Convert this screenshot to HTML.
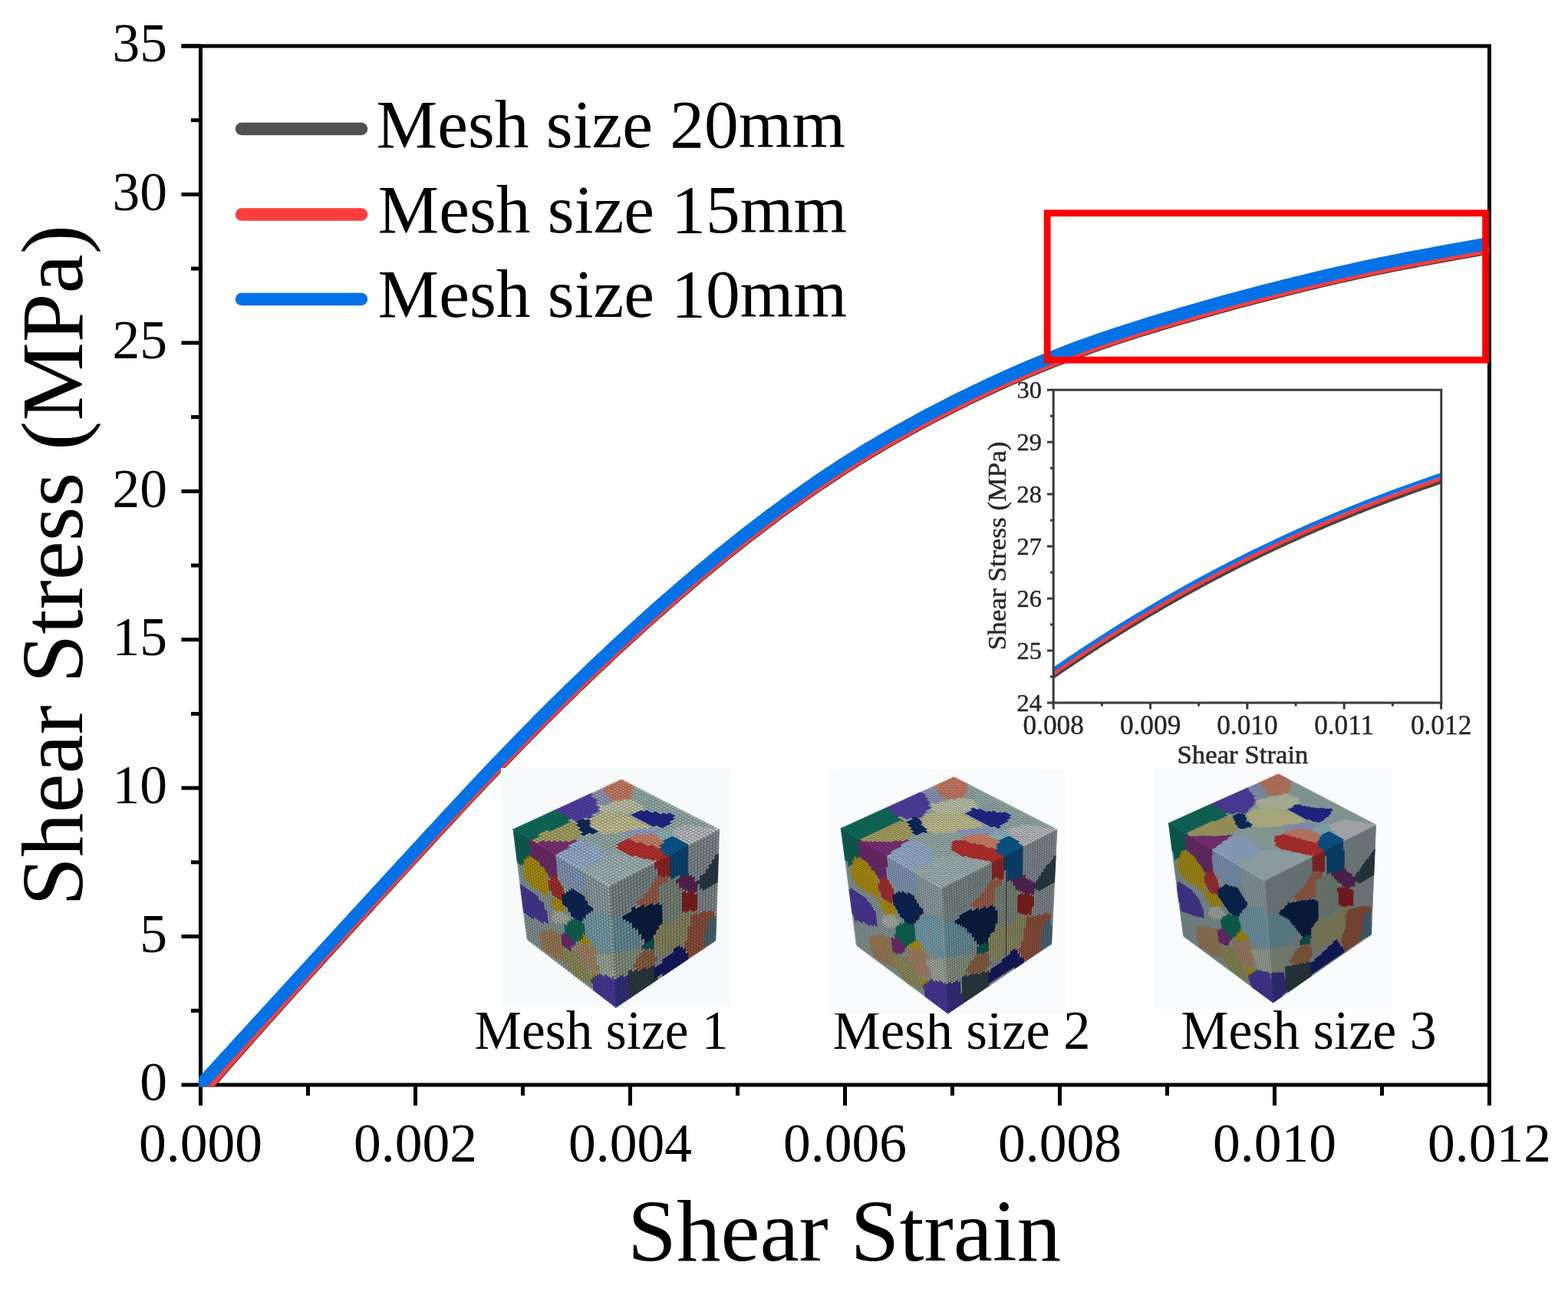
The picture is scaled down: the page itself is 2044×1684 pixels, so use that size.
<!DOCTYPE html>
<html><head><meta charset="utf-8"><title>Shear stress-strain</title>
<style>html,body{margin:0;padding:0;background:#fff;}svg{display:block;}</style>
</head><body>
<svg width="2044" height="1684" viewBox="0 0 2044 1684">
<rect width="2044" height="1684" fill="#ffffff"/>
<defs><clipPath id="pc"><rect x="259.2" y="57.5" width="1682.3" height="1359.1"/></clipPath><clipPath id="ic"><rect x="1373.2" y="508.2" width="505.6" height="407.8"/></clipPath></defs>
<g stroke="#000" stroke-width="5.0" fill="none">
<path d="M236.5,60 H1941.5 V1414 H261.5 V60"/>
<line x1="236.5" y1="1414.0" x2="261.5" y2="1414.0"/>
<line x1="236.5" y1="1220.6" x2="261.5" y2="1220.6"/>
<line x1="236.5" y1="1027.1" x2="261.5" y2="1027.1"/>
<line x1="236.5" y1="833.7" x2="261.5" y2="833.7"/>
<line x1="236.5" y1="640.3" x2="261.5" y2="640.3"/>
<line x1="236.5" y1="446.9" x2="261.5" y2="446.9"/>
<line x1="236.5" y1="253.4" x2="261.5" y2="253.4"/>
<line x1="236.5" y1="60.0" x2="261.5" y2="60.0"/>
<line x1="249" y1="1317.3" x2="261.5" y2="1317.3"/>
<line x1="249" y1="1123.9" x2="261.5" y2="1123.9"/>
<line x1="249" y1="930.4" x2="261.5" y2="930.4"/>
<line x1="249" y1="737.0" x2="261.5" y2="737.0"/>
<line x1="249" y1="543.6" x2="261.5" y2="543.6"/>
<line x1="249" y1="350.1" x2="261.5" y2="350.1"/>
<line x1="249" y1="156.7" x2="261.5" y2="156.7"/>
<line x1="261.5" y1="1414" x2="261.5" y2="1441"/>
<line x1="541.5" y1="1414" x2="541.5" y2="1441"/>
<line x1="821.5" y1="1414" x2="821.5" y2="1441"/>
<line x1="1101.5" y1="1414" x2="1101.5" y2="1441"/>
<line x1="1381.5" y1="1414" x2="1381.5" y2="1441"/>
<line x1="1661.5" y1="1414" x2="1661.5" y2="1441"/>
<line x1="1941.5" y1="1414" x2="1941.5" y2="1441"/>
<line x1="401.5" y1="1414" x2="401.5" y2="1428"/>
<line x1="681.5" y1="1414" x2="681.5" y2="1428"/>
<line x1="961.5" y1="1414" x2="961.5" y2="1428"/>
<line x1="1241.5" y1="1414" x2="1241.5" y2="1428"/>
<line x1="1521.5" y1="1414" x2="1521.5" y2="1428"/>
<line x1="1801.5" y1="1414" x2="1801.5" y2="1428"/>
</g>
<g clip-path="url(#pc)" fill="none" stroke-linejoin="round">
<path d="M210.5,1481.2 L266.5,1419.9 L273.1,1412.2 L279.7,1404.6 L286.4,1396.9 L293.1,1389.2 L299.8,1381.6 L306.5,1373.9 L313.3,1366.2 L320.1,1358.6 L326.9,1350.9 L333.7,1343.2 L340.5,1335.6 L347.3,1327.9 L354.2,1320.3 L361.1,1312.6 L367.9,1305.0 L374.8,1297.3 L381.7,1289.6 L388.6,1282.0 L395.5,1274.3 L402.4,1266.7 L409.4,1259.1 L416.3,1251.4 L423.2,1243.8 L430.2,1236.1 L437.1,1228.5 L444.1,1220.9 L451.0,1213.3 L458.0,1205.6 L464.9,1198.0 L471.9,1190.4 L478.9,1182.8 L485.8,1175.1 L492.8,1167.5 L499.8,1159.9 L506.8,1152.3 L513.7,1144.7 L520.7,1137.1 L527.7,1129.5 L534.7,1121.9 L541.7,1114.3 L548.7,1106.7 L555.7,1099.1 L562.6,1091.5 L569.6,1083.9 L576.6,1076.4 L583.6,1068.8 L590.6,1061.3 L597.6,1053.7 L604.6,1046.2 L611.6,1038.7 L618.6,1031.3 L625.6,1023.8 L632.6,1016.4 L639.6,1009.0 L646.6,1001.6 L653.5,994.3 L660.5,987.0 L667.5,979.8 L674.5,972.5 L681.5,965.3 L688.5,958.2 L695.5,951.1 L702.5,944.0 L709.5,937.0 L716.5,930.0 L723.5,923.1 L730.5,916.2 L737.5,909.3 L744.5,902.5 L751.5,895.7 L758.5,889.0 L765.5,882.3 L772.5,875.6 L779.5,869.0 L786.5,862.4 L793.5,855.8 L800.5,849.3 L807.5,842.8 L814.5,836.4 L821.5,829.9 L828.5,823.6 L835.5,817.2 L842.5,810.9 L849.5,804.6 L856.5,798.4 L863.5,792.2 L870.5,786.1 L877.5,780.0 L884.5,773.9 L891.5,767.9 L898.5,761.9 L905.5,755.9 L912.5,750.0 L919.5,744.2 L926.5,738.4 L933.5,732.6 L940.5,726.9 L947.5,721.2 L954.5,715.6 L961.5,710.0 L968.5,704.5 L975.5,699.0 L982.5,693.6 L989.5,688.2 L996.5,682.9 L1003.5,677.6 L1010.5,672.4 L1017.5,667.2 L1024.5,662.1 L1031.5,657.0 L1038.5,652.0 L1045.5,647.1 L1052.5,642.2 L1059.5,637.3 L1066.5,632.5 L1073.5,627.8 L1080.5,623.1 L1087.5,618.5 L1094.5,613.9 L1101.5,609.4 L1108.5,605.0 L1115.5,600.6 L1122.5,596.3 L1129.5,592.0 L1136.5,587.8 L1143.5,583.6 L1150.5,579.5 L1157.5,575.4 L1164.5,571.4 L1171.5,567.4 L1178.5,563.5 L1185.5,559.6 L1192.5,555.8 L1199.5,552.0 L1206.5,548.2 L1213.5,544.5 L1220.5,540.9 L1227.5,537.3 L1234.5,533.7 L1241.5,530.1 L1248.5,526.6 L1255.5,523.1 L1262.5,519.7 L1269.5,516.3 L1276.5,513.0 L1283.5,509.6 L1290.5,506.4 L1297.5,503.1 L1304.5,499.9 L1311.5,496.8 L1318.5,493.6 L1325.5,490.6 L1332.5,487.5 L1339.5,484.5 L1346.5,481.6 L1353.5,478.7 L1360.5,475.8 L1367.5,473.0 L1374.5,470.2 L1381.5,467.5 L1388.5,464.8 L1395.5,462.1 L1402.5,459.5 L1409.5,456.9 L1416.5,454.4 L1423.5,451.9 L1430.5,449.5 L1437.5,447.0 L1444.5,444.7 L1451.5,442.3 L1458.5,440.0 L1465.5,437.7 L1472.5,435.4 L1479.5,433.2 L1486.5,431.0 L1493.5,428.8 L1500.5,426.6 L1507.5,424.5 L1514.5,422.4 L1521.5,420.3 L1528.5,418.2 L1535.5,416.1 L1542.5,414.1 L1549.5,412.0 L1556.5,410.0 L1563.5,408.0 L1570.5,406.0 L1577.5,404.0 L1584.5,402.1 L1591.5,400.1 L1598.5,398.2 L1605.5,396.3 L1612.5,394.4 L1619.5,392.5 L1626.5,390.7 L1633.5,388.8 L1640.5,387.0 L1647.5,385.2 L1654.5,383.4 L1661.5,381.6 L1668.5,379.8 L1675.5,378.0 L1682.5,376.3 L1689.5,374.5 L1696.5,372.8 L1703.5,371.1 L1710.5,369.4 L1717.5,367.8 L1724.5,366.1 L1731.5,364.5 L1738.5,362.8 L1745.5,361.2 L1752.5,359.6 L1759.5,358.1 L1766.5,356.5 L1773.5,355.0 L1780.5,353.5 L1787.5,352.0 L1794.5,350.5 L1801.5,349.1 L1808.5,347.7 L1815.5,346.2 L1822.5,344.9 L1829.5,343.5 L1836.5,342.1 L1843.5,340.8 L1850.5,339.5 L1857.5,338.2 L1864.5,336.9 L1871.5,335.6 L1878.5,334.3 L1885.5,333.1 L1892.5,331.8 L1899.5,330.5 L1906.5,329.3 L1913.5,328.1 L1920.5,326.8 L1927.5,325.6 L1934.5,324.4 L1941.5,323.2" stroke="#3c3c3c" stroke-width="16.5"/>
<path d="M210.0,1479.9 L266.0,1418.6 L272.6,1410.9 L279.3,1403.3 L286.0,1395.6 L292.7,1387.9 L299.5,1380.3 L306.2,1372.6 L313.0,1364.9 L319.8,1357.3 L326.6,1349.6 L333.5,1341.9 L340.3,1334.3 L347.2,1326.6 L354.0,1319.0 L360.9,1311.3 L367.8,1303.7 L374.7,1296.0 L381.6,1288.3 L388.5,1280.7 L395.4,1273.0 L402.3,1265.4 L409.3,1257.8 L416.2,1250.1 L423.2,1242.5 L430.1,1234.8 L437.1,1227.2 L444.0,1219.6 L451.0,1212.0 L457.9,1204.3 L464.9,1196.7 L471.9,1189.1 L478.8,1181.5 L485.8,1173.8 L492.8,1166.2 L499.8,1158.6 L506.7,1151.0 L513.7,1143.4 L520.7,1135.8 L527.7,1128.2 L534.7,1120.6 L541.7,1113.0 L548.6,1105.4 L555.6,1097.8 L562.6,1090.2 L569.6,1082.6 L576.6,1075.1 L583.6,1067.5 L590.6,1060.0 L597.6,1052.4 L604.6,1044.9 L611.6,1037.4 L618.6,1030.0 L625.6,1022.5 L632.6,1015.1 L639.5,1007.7 L646.5,1000.3 L653.5,993.0 L660.5,985.7 L667.5,978.5 L674.5,971.2 L681.5,964.0 L688.5,956.9 L695.5,949.8 L702.5,942.7 L709.5,935.7 L716.5,928.7 L723.5,921.8 L730.5,914.9 L737.5,908.0 L744.5,901.2 L751.5,894.4 L758.5,887.7 L765.5,881.0 L772.5,874.3 L779.5,867.7 L786.5,861.1 L793.5,854.5 L800.5,848.0 L807.5,841.5 L814.5,835.1 L821.5,828.6 L828.5,822.3 L835.5,815.9 L842.5,809.6 L849.5,803.3 L856.5,797.1 L863.5,790.9 L870.5,784.8 L877.5,778.7 L884.5,772.6 L891.5,766.6 L898.5,760.6 L905.5,754.6 L912.5,748.7 L919.5,742.9 L926.5,737.1 L933.5,731.3 L940.5,725.6 L947.5,719.9 L954.5,714.3 L961.5,708.7 L968.5,703.2 L975.5,697.7 L982.5,692.3 L989.5,686.9 L996.5,681.6 L1003.5,676.3 L1010.5,671.1 L1017.5,665.9 L1024.5,660.8 L1031.5,655.7 L1038.5,650.7 L1045.5,645.8 L1052.5,640.9 L1059.5,636.0 L1066.5,631.2 L1073.5,626.5 L1080.5,621.8 L1087.5,617.2 L1094.5,612.6 L1101.5,608.1 L1108.5,603.7 L1115.5,599.3 L1122.5,595.0 L1129.5,590.7 L1136.5,586.5 L1143.5,582.3 L1150.5,578.2 L1157.5,574.1 L1164.5,570.1 L1171.5,566.1 L1178.5,562.2 L1185.5,558.3 L1192.5,554.5 L1199.5,550.7 L1206.5,546.9 L1213.5,543.2 L1220.5,539.6 L1227.5,536.0 L1234.5,532.4 L1241.5,528.8 L1248.5,525.3 L1255.5,521.8 L1262.5,518.4 L1269.5,515.0 L1276.5,511.7 L1283.5,508.3 L1290.5,505.1 L1297.5,501.8 L1304.5,498.6 L1311.5,495.5 L1318.5,492.3 L1325.5,489.3 L1332.5,486.2 L1339.5,483.2 L1346.5,480.3 L1353.5,477.4 L1360.5,474.5 L1367.5,471.7 L1374.5,468.9 L1381.5,466.2 L1388.5,463.5 L1395.5,460.8 L1402.5,458.2 L1409.5,455.6 L1416.5,453.1 L1423.5,450.6 L1430.5,448.2 L1437.5,445.7 L1444.5,443.4 L1451.5,441.0 L1458.5,438.7 L1465.5,436.4 L1472.5,434.1 L1479.5,431.9 L1486.5,429.7 L1493.5,427.5 L1500.5,425.3 L1507.5,423.2 L1514.5,421.1 L1521.5,419.0 L1528.5,416.9 L1535.5,414.8 L1542.5,412.8 L1549.5,410.7 L1556.5,408.7 L1563.5,406.7 L1570.5,404.7 L1577.5,402.7 L1584.5,400.8 L1591.5,398.8 L1598.5,396.9 L1605.5,395.0 L1612.5,393.1 L1619.5,391.2 L1626.5,389.4 L1633.5,387.5 L1640.5,385.7 L1647.5,383.9 L1654.5,382.1 L1661.5,380.3 L1668.5,378.5 L1675.5,376.7 L1682.5,375.0 L1689.5,373.2 L1696.5,371.5 L1703.5,369.8 L1710.5,368.1 L1717.5,366.5 L1724.5,364.8 L1731.5,363.2 L1738.5,361.5 L1745.5,359.9 L1752.5,358.3 L1759.5,356.8 L1766.5,355.2 L1773.5,353.7 L1780.5,352.2 L1787.5,350.7 L1794.5,349.2 L1801.5,347.8 L1808.5,346.4 L1815.5,344.9 L1822.5,343.6 L1829.5,342.2 L1836.5,340.8 L1843.5,339.5 L1850.5,338.2 L1857.5,336.9 L1864.5,335.6 L1871.5,334.3 L1878.5,333.0 L1885.5,331.8 L1892.5,330.5 L1899.5,329.2 L1906.5,328.0 L1913.5,326.8 L1920.5,325.5 L1927.5,324.3 L1934.5,323.1 L1941.5,321.9" stroke="#ff3c3c" stroke-width="16.5"/>
<path d="M205.5,1475.3 L261.5,1414.0 L268.5,1406.3 L275.5,1398.7 L282.5,1391.0 L289.5,1383.3 L296.5,1375.7 L303.5,1368.0 L310.5,1360.3 L317.5,1352.7 L324.5,1345.0 L331.5,1337.3 L338.5,1329.7 L345.5,1322.0 L352.5,1314.4 L359.5,1306.7 L366.5,1299.1 L373.5,1291.4 L380.5,1283.7 L387.5,1276.1 L394.5,1268.4 L401.5,1260.8 L408.5,1253.2 L415.5,1245.5 L422.5,1237.9 L429.5,1230.2 L436.5,1222.6 L443.5,1215.0 L450.5,1207.4 L457.5,1199.7 L464.5,1192.1 L471.5,1184.5 L478.5,1176.9 L485.5,1169.2 L492.5,1161.6 L499.5,1154.0 L506.5,1146.4 L513.5,1138.8 L520.5,1131.2 L527.5,1123.6 L534.5,1116.0 L541.5,1108.4 L548.5,1100.8 L555.5,1093.2 L562.5,1085.6 L569.5,1078.0 L576.5,1070.5 L583.5,1062.9 L590.5,1055.4 L597.5,1047.8 L604.5,1040.3 L611.5,1032.8 L618.5,1025.4 L625.5,1017.9 L632.5,1010.5 L639.5,1003.1 L646.5,995.7 L653.5,988.4 L660.5,981.1 L667.5,973.9 L674.5,966.6 L681.5,959.4 L688.5,952.3 L695.5,945.2 L702.5,938.1 L709.5,931.1 L716.5,924.1 L723.5,917.2 L730.5,910.3 L737.5,903.4 L744.5,896.6 L751.5,889.8 L758.5,883.1 L765.5,876.4 L772.5,869.7 L779.5,863.1 L786.5,856.5 L793.5,849.9 L800.5,843.4 L807.5,836.9 L814.5,830.5 L821.5,824.0 L828.5,817.7 L835.5,811.3 L842.5,805.0 L849.5,798.7 L856.5,792.5 L863.5,786.3 L870.5,780.2 L877.5,774.1 L884.5,768.0 L891.5,762.0 L898.5,756.0 L905.5,750.0 L912.5,744.1 L919.5,738.3 L926.5,732.5 L933.5,726.7 L940.5,721.0 L947.5,715.3 L954.5,709.7 L961.5,704.1 L968.5,698.6 L975.5,693.1 L982.5,687.7 L989.5,682.3 L996.5,677.0 L1003.5,671.7 L1010.5,666.5 L1017.5,661.3 L1024.5,656.2 L1031.5,651.1 L1038.5,646.1 L1045.5,641.2 L1052.5,636.3 L1059.5,631.4 L1066.5,626.6 L1073.5,621.9 L1080.5,617.2 L1087.5,612.6 L1094.5,608.0 L1101.5,603.5 L1108.5,599.1 L1115.5,594.7 L1122.5,590.4 L1129.5,586.1 L1136.5,581.9 L1143.5,577.7 L1150.5,573.6 L1157.5,569.5 L1164.5,565.5 L1171.5,561.5 L1178.5,557.6 L1185.5,553.7 L1192.5,549.9 L1199.5,546.1 L1206.5,542.3 L1213.5,538.6 L1220.5,535.0 L1227.5,531.4 L1234.5,527.8 L1241.5,524.2 L1248.5,520.7 L1255.5,517.2 L1262.5,513.8 L1269.5,510.4 L1276.5,507.1 L1283.5,503.7 L1290.5,500.5 L1297.5,497.2 L1304.5,494.0 L1311.5,490.9 L1318.5,487.7 L1325.5,484.7 L1332.5,481.6 L1339.5,478.6 L1346.5,475.7 L1353.5,472.8 L1360.5,469.9 L1367.5,467.1 L1374.5,464.3 L1381.5,461.6 L1388.5,458.9 L1395.5,456.2 L1402.5,453.6 L1409.5,451.0 L1416.5,448.5 L1423.5,446.0 L1430.5,443.6 L1437.5,441.1 L1444.5,438.8 L1451.5,436.4 L1458.5,434.1 L1465.5,431.8 L1472.5,429.5 L1479.5,427.3 L1486.5,425.1 L1493.5,422.9 L1500.5,420.7 L1507.5,418.6 L1514.5,416.5 L1521.5,414.4 L1528.5,412.3 L1535.5,410.2 L1542.5,408.2 L1549.5,406.1 L1556.5,404.1 L1563.5,402.1 L1570.5,400.1 L1577.5,398.1 L1584.5,396.2 L1591.5,394.2 L1598.5,392.3 L1605.5,390.4 L1612.5,388.5 L1619.5,386.6 L1626.5,384.8 L1633.5,382.9 L1640.5,381.1 L1647.5,379.3 L1654.5,377.5 L1661.5,375.7 L1668.5,373.9 L1675.5,372.1 L1682.5,370.4 L1689.5,368.6 L1696.5,366.9 L1703.5,365.2 L1710.5,363.5 L1717.5,361.9 L1724.5,360.2 L1731.5,358.6 L1738.5,356.9 L1745.5,355.3 L1752.5,353.7 L1759.5,352.2 L1766.5,350.6 L1773.5,349.1 L1780.5,347.6 L1787.5,346.1 L1794.5,344.6 L1801.5,343.2 L1808.5,341.8 L1815.5,340.3 L1822.5,339.0 L1829.5,337.6 L1836.5,336.2 L1843.5,334.9 L1850.5,333.6 L1857.5,332.3 L1864.5,331.0 L1871.5,329.7 L1878.5,328.4 L1885.5,327.2 L1892.5,325.9 L1899.5,324.6 L1906.5,323.4 L1913.5,322.2 L1920.5,320.9 L1927.5,319.7 L1934.5,318.5 L1941.5,317.3" stroke="#0272e6" stroke-width="16.5"/>
</g>
<g font-family='"Liberation Serif", "Times New Roman", serif' font-size="71.5" fill="#000" text-anchor="end">
<text x="218" y="1434.2">0</text>
<text x="218" y="1240.8">5</text>
<text x="218" y="1047.3">10</text>
<text x="218" y="853.9">15</text>
<text x="218" y="660.5">20</text>
<text x="218" y="467.1">25</text>
<text x="218" y="273.6">30</text>
<text x="218" y="80.2">35</text>
</g>
<g font-family='"Liberation Serif", "Times New Roman", serif' font-size="71.5" fill="#000" text-anchor="middle">
<text x="261.5" y="1514">0.000</text>
<text x="541.5" y="1514">0.002</text>
<text x="821.5" y="1514">0.004</text>
<text x="1101.5" y="1514">0.006</text>
<text x="1381.5" y="1514">0.008</text>
<text x="1661.5" y="1514">0.010</text>
<text x="1941.5" y="1514">0.012</text>
</g>
<text font-family='"Liberation Serif", "Times New Roman", serif' font-size="115" x="818" y="1643" fill="#000">Shear Strain</text>
<text font-family='"Liberation Serif", "Times New Roman", serif' font-size="115" transform="translate(106.5,1181) rotate(-90)" x="0" y="0" fill="#000">Shear Stress (MPa)</text>
<line x1="315" y1="168" x2="471" y2="168" stroke="#505050" stroke-width="16.5" stroke-linecap="round"/>
<text font-family='"Liberation Serif", "Times New Roman", serif' font-size="89.5" x="490.6" y="191.6" fill="#000">Mesh size 20mm</text>
<line x1="315" y1="279.5" x2="471" y2="279.5" stroke="#ff3e3e" stroke-width="16.5" stroke-linecap="round"/>
<text font-family='"Liberation Serif", "Times New Roman", serif' font-size="89.5" x="492.6" y="303.0" fill="#000">Mesh size 15mm</text>
<line x1="315" y1="390" x2="471" y2="390" stroke="#0272e6" stroke-width="16.5" stroke-linecap="round"/>
<text font-family='"Liberation Serif", "Times New Roman", serif' font-size="89.5" x="492.6" y="413.4" fill="#000">Mesh size 10mm</text>
<rect x="1365.2" y="277.8" width="571.4" height="191.4" fill="none" stroke="#ff0000" stroke-width="8.8"/>
<g clip-path="url(#ic)" fill="none" stroke-linejoin="round">
<path d="M1373.2,882.0 L1377.4,879.1 L1381.6,876.2 L1385.8,873.3 L1390.0,870.4 L1394.3,867.6 L1398.5,864.7 L1402.7,861.9 L1406.9,859.1 L1411.1,856.3 L1415.3,853.5 L1419.5,850.8 L1423.7,848.0 L1428.0,845.3 L1432.2,842.5 L1436.4,839.8 L1440.6,837.1 L1444.8,834.5 L1449.0,831.8 L1453.2,829.1 L1457.4,826.5 L1461.6,823.9 L1465.9,821.3 L1470.1,818.7 L1474.3,816.1 L1478.5,813.5 L1482.7,811.0 L1486.9,808.5 L1491.1,805.9 L1495.3,803.4 L1499.6,800.9 L1503.8,798.5 L1508.0,796.0 L1512.2,793.5 L1516.4,791.1 L1520.6,788.7 L1524.8,786.3 L1529.0,783.9 L1533.2,781.5 L1537.5,779.1 L1541.7,776.8 L1545.9,774.4 L1550.1,772.1 L1554.3,769.8 L1558.5,767.5 L1562.7,765.2 L1566.9,762.9 L1571.1,760.6 L1575.4,758.4 L1579.6,756.1 L1583.8,753.9 L1588.0,751.7 L1592.2,749.5 L1596.4,747.3 L1600.6,745.2 L1604.8,743.0 L1609.1,740.9 L1613.3,738.7 L1617.5,736.6 L1621.7,734.5 L1625.9,732.4 L1630.1,730.3 L1634.3,728.2 L1638.5,726.2 L1642.7,724.1 L1647.0,722.1 L1651.2,720.1 L1655.4,718.1 L1659.6,716.1 L1663.8,714.1 L1668.0,712.1 L1672.2,710.2 L1676.4,708.2 L1680.7,706.3 L1684.9,704.4 L1689.1,702.5 L1693.3,700.6 L1697.5,698.7 L1701.7,696.8 L1705.9,694.9 L1710.1,693.1 L1714.3,691.2 L1718.6,689.4 L1722.8,687.6 L1727.0,685.8 L1731.2,684.0 L1735.4,682.2 L1739.6,680.4 L1743.8,678.7 L1748.0,676.9 L1752.2,675.2 L1756.5,673.4 L1760.7,671.7 L1764.9,670.0 L1769.1,668.3 L1773.3,666.6 L1777.5,665.0 L1781.7,663.3 L1785.9,661.7 L1790.2,660.0 L1794.4,658.4 L1798.6,656.8 L1802.8,655.2 L1807.0,653.6 L1811.2,652.0 L1815.4,650.4 L1819.6,648.9 L1823.8,647.3 L1828.1,645.8 L1832.3,644.2 L1836.5,642.7 L1840.7,641.2 L1844.9,639.7 L1849.1,638.2 L1853.3,636.7 L1857.5,635.2 L1861.8,633.8 L1866.0,632.3 L1870.2,630.9 L1874.4,629.4 L1878.6,628.0" stroke="#454545" stroke-width="5.0"/>
<path d="M1373.2,878.2 L1377.4,875.2 L1381.6,872.3 L1385.8,869.4 L1390.0,866.6 L1394.3,863.7 L1398.5,860.9 L1402.7,858.0 L1406.9,855.2 L1411.1,852.4 L1415.3,849.7 L1419.5,846.9 L1423.7,844.1 L1428.0,841.4 L1432.2,838.7 L1436.4,836.0 L1440.6,833.3 L1444.8,830.6 L1449.0,827.9 L1453.2,825.3 L1457.4,822.6 L1461.6,820.0 L1465.9,817.4 L1470.1,814.8 L1474.3,812.2 L1478.5,809.7 L1482.7,807.1 L1486.9,804.6 L1491.1,802.1 L1495.3,799.6 L1499.6,797.1 L1503.8,794.6 L1508.0,792.1 L1512.2,789.7 L1516.4,787.2 L1520.6,784.8 L1524.8,782.4 L1529.0,780.0 L1533.2,777.6 L1537.5,775.2 L1541.7,772.9 L1545.9,770.5 L1550.1,768.2 L1554.3,765.9 L1558.5,763.6 L1562.7,761.3 L1566.9,759.0 L1571.1,756.8 L1575.4,754.5 L1579.6,752.3 L1583.8,750.1 L1588.0,747.8 L1592.2,745.6 L1596.4,743.5 L1600.6,741.3 L1604.8,739.1 L1609.1,737.0 L1613.3,734.8 L1617.5,732.7 L1621.7,730.6 L1625.9,728.5 L1630.1,726.4 L1634.3,724.4 L1638.5,722.3 L1642.7,720.3 L1647.0,718.2 L1651.2,716.2 L1655.4,714.2 L1659.6,712.2 L1663.8,710.2 L1668.0,708.3 L1672.2,706.3 L1676.4,704.3 L1680.7,702.4 L1684.9,700.5 L1689.1,698.6 L1693.3,696.7 L1697.5,694.8 L1701.7,692.9 L1705.9,691.0 L1710.1,689.2 L1714.3,687.4 L1718.6,685.5 L1722.8,683.7 L1727.0,681.9 L1731.2,680.1 L1735.4,678.3 L1739.6,676.5 L1743.8,674.8 L1748.0,673.0 L1752.2,671.3 L1756.5,669.6 L1760.7,667.9 L1764.9,666.2 L1769.1,664.5 L1773.3,662.8 L1777.5,661.1 L1781.7,659.4 L1785.9,657.8 L1790.2,656.2 L1794.4,654.5 L1798.6,652.9 L1802.8,651.3 L1807.0,649.7 L1811.2,648.1 L1815.4,646.5 L1819.6,645.0 L1823.8,643.4 L1828.1,641.9 L1832.3,640.3 L1836.5,638.8 L1840.7,637.3 L1844.9,635.8 L1849.1,634.3 L1853.3,632.8 L1857.5,631.4 L1861.8,629.9 L1866.0,628.4 L1870.2,627.0 L1874.4,625.6 L1878.6,624.1" stroke="#f53c3c" stroke-width="5.0"/>
<path d="M1373.2,872.9 L1377.4,869.9 L1381.6,867.0 L1385.8,864.1 L1390.0,861.3 L1394.3,858.4 L1398.5,855.6 L1402.7,852.7 L1406.9,849.9 L1411.1,847.1 L1415.3,844.4 L1419.5,841.6 L1423.7,838.8 L1428.0,836.1 L1432.2,833.4 L1436.4,830.7 L1440.6,828.0 L1444.8,825.3 L1449.0,822.6 L1453.2,820.0 L1457.4,817.3 L1461.6,814.7 L1465.9,812.1 L1470.1,809.5 L1474.3,806.9 L1478.5,804.4 L1482.7,801.8 L1486.9,799.3 L1491.1,796.8 L1495.3,794.3 L1499.6,791.8 L1503.8,789.3 L1508.0,786.8 L1512.2,784.4 L1516.4,781.9 L1520.6,779.5 L1524.8,777.1 L1529.0,774.7 L1533.2,772.3 L1537.5,769.9 L1541.7,767.6 L1545.9,765.2 L1550.1,762.9 L1554.3,760.6 L1558.5,758.3 L1562.7,756.0 L1566.9,753.7 L1571.1,751.5 L1575.4,749.2 L1579.6,747.0 L1583.8,744.8 L1588.0,742.5 L1592.2,740.3 L1596.4,738.2 L1600.6,736.0 L1604.8,733.8 L1609.1,731.7 L1613.3,729.5 L1617.5,727.4 L1621.7,725.3 L1625.9,723.2 L1630.1,721.1 L1634.3,719.1 L1638.5,717.0 L1642.7,715.0 L1647.0,712.9 L1651.2,710.9 L1655.4,708.9 L1659.6,706.9 L1663.8,704.9 L1668.0,703.0 L1672.2,701.0 L1676.4,699.0 L1680.7,697.1 L1684.9,695.2 L1689.1,693.3 L1693.3,691.4 L1697.5,689.5 L1701.7,687.6 L1705.9,685.7 L1710.1,683.9 L1714.3,682.1 L1718.6,680.2 L1722.8,678.4 L1727.0,676.6 L1731.2,674.8 L1735.4,673.0 L1739.6,671.2 L1743.8,669.5 L1748.0,667.7 L1752.2,666.0 L1756.5,664.3 L1760.7,662.6 L1764.9,660.9 L1769.1,659.2 L1773.3,657.5 L1777.5,655.8 L1781.7,654.1 L1785.9,652.5 L1790.2,650.9 L1794.4,649.2 L1798.6,647.6 L1802.8,646.0 L1807.0,644.4 L1811.2,642.8 L1815.4,641.2 L1819.6,639.7 L1823.8,638.1 L1828.1,636.6 L1832.3,635.0 L1836.5,633.5 L1840.7,632.0 L1844.9,630.5 L1849.1,629.0 L1853.3,627.5 L1857.5,626.1 L1861.8,624.6 L1866.0,623.1 L1870.2,621.7 L1874.4,620.3 L1878.6,618.8" stroke="#0a74ea" stroke-width="5.0"/>
</g>
<g stroke="#3a3a3a" stroke-width="3.0" fill="none">
<rect x="1373.2" y="508.2" width="505.6" height="407.8"/>
<line x1="1365" y1="916.0" x2="1373.2" y2="916.0"/>
<line x1="1365" y1="848.0" x2="1373.2" y2="848.0"/>
<line x1="1365" y1="780.1" x2="1373.2" y2="780.1"/>
<line x1="1365" y1="712.1" x2="1373.2" y2="712.1"/>
<line x1="1365" y1="644.1" x2="1373.2" y2="644.1"/>
<line x1="1365" y1="576.2" x2="1373.2" y2="576.2"/>
<line x1="1365" y1="508.2" x2="1373.2" y2="508.2"/>
<line x1="1369" y1="882.0" x2="1373.2" y2="882.0"/>
<line x1="1369" y1="814.0" x2="1373.2" y2="814.0"/>
<line x1="1369" y1="746.1" x2="1373.2" y2="746.1"/>
<line x1="1369" y1="678.1" x2="1373.2" y2="678.1"/>
<line x1="1369" y1="610.1" x2="1373.2" y2="610.1"/>
<line x1="1369" y1="542.2" x2="1373.2" y2="542.2"/>
<line x1="1373.2" y1="916" x2="1373.2" y2="924.5"/>
<line x1="1499.6" y1="916" x2="1499.6" y2="924.5"/>
<line x1="1625.9" y1="916" x2="1625.9" y2="924.5"/>
<line x1="1752.2" y1="916" x2="1752.2" y2="924.5"/>
<line x1="1878.6" y1="916" x2="1878.6" y2="924.5"/>
<line x1="1436.4" y1="916" x2="1436.4" y2="920.5"/>
<line x1="1562.7" y1="916" x2="1562.7" y2="920.5"/>
<line x1="1689.1" y1="916" x2="1689.1" y2="920.5"/>
<line x1="1815.4" y1="916" x2="1815.4" y2="920.5"/>
</g>
<g font-family='"Liberation Serif", "Times New Roman", serif' font-size="32.5" fill="#262626" stroke="#262626" stroke-width="0.4" text-anchor="end">
<text x="1358" y="927.0">24</text>
<text x="1358" y="859.0">25</text>
<text x="1358" y="791.1">26</text>
<text x="1358" y="723.1">27</text>
<text x="1358" y="655.1">28</text>
<text x="1358" y="587.2">29</text>
<text x="1358" y="519.2">30</text>
</g>
<g font-family='"Liberation Serif", "Times New Roman", serif' font-size="35.3" fill="#262626" stroke="#262626" stroke-width="0.4" text-anchor="middle">
<text x="1373.2" y="956.8">0.008</text>
<text x="1499.6" y="956.8">0.009</text>
<text x="1625.9" y="956.8">0.010</text>
<text x="1752.2" y="956.8">0.011</text>
<text x="1878.6" y="956.8">0.012</text>
</g>
<text font-family='"Liberation Serif", "Times New Roman", serif' font-size="33" x="1534.5" y="995" textLength="171" lengthAdjust="spacingAndGlyphs" fill="#2a2a2a" stroke="#2a2a2a" stroke-width="0.6">Shear Strain</text>
<text font-family='"Liberation Serif", "Times New Roman", serif' font-size="33.6" transform="translate(1311,847.5) rotate(-90)" textLength="272" lengthAdjust="spacingAndGlyphs" fill="#262626" stroke="#262626" stroke-width="0.4">Shear Stress (MPa)</text>
<text font-family='"Liberation Serif", "Times New Roman", serif' font-size="72" x="618.5" y="1366.5" textLength="331" lengthAdjust="spacingAndGlyphs" fill="#000">Mesh size 1</text>
<text font-family='"Liberation Serif", "Times New Roman", serif' font-size="72" x="1085.5" y="1366.5" textLength="336" lengthAdjust="spacingAndGlyphs" fill="#000">Mesh size 2</text>
<text font-family='"Liberation Serif", "Times New Roman", serif' font-size="72" x="1539.5" y="1366.5" textLength="333" lengthAdjust="spacingAndGlyphs" fill="#000">Mesh size 3</text>
<rect x="653" y="1001" width="300" height="312" fill="#f8fbfc"/>
<rect x="1083" y="1003" width="305" height="318" fill="#f9fbfc"/>
<rect x="1504" y="1001" width="311" height="314" fill="#f9fbfc"/>
<polygon points="669.0,1081.0 810.0,1016.0 937.5,1081.0 932.8,1226.0 802.8,1313.0 687.0,1224.5" fill="#6e7b7e"/>
<path d="M667.9,1081.0L723.9,1055.2L728.4,1057.7L672.4,1083.6ZM671.4,1083.0L727.4,1057.1L731.9,1059.7L675.9,1085.7ZM674.8,1085.1L730.9,1059.1L735.4,1061.6L679.3,1087.7ZM678.3,1087.1L734.4,1061.0L738.9,1063.6L682.8,1089.8ZM681.8,1089.2L737.9,1063.0L742.4,1065.5L686.3,1091.9ZM685.3,1091.2L741.4,1064.9L745.9,1067.5L689.8,1093.9ZM688.7,1093.3L701.7,1087.2L706.2,1089.9L693.2,1096.0ZM712.3,1082.2L741.0,1068.7L745.5,1071.3L716.8,1084.8Z" fill="#0f7560"/>
<path d="M722.7,1055.7L770.9,1033.5L775.5,1035.9L727.3,1058.2ZM726.2,1057.7L770.5,1037.2L775.1,1039.6L730.8,1060.2ZM729.7,1059.6L774.0,1039.1L778.6,1041.5L734.3,1062.2ZM733.2,1061.6L777.5,1041.0L782.1,1043.4L737.8,1064.1ZM736.7,1063.5L777.1,1044.7L781.7,1047.1L741.3,1066.1ZM740.2,1065.5L776.7,1048.4L781.3,1050.9L744.8,1068.0ZM743.7,1067.5L780.2,1050.3L784.8,1052.7L748.3,1070.0ZM747.2,1069.4L779.8,1054.0L784.4,1056.5L751.8,1072.0ZM762.5,1065.8L771.6,1061.5L776.1,1064.0L767.1,1068.3Z" fill="#5b40b5"/>
<path d="M769.7,1034.0L786.6,1026.3L791.1,1028.7L774.3,1036.5ZM769.3,1037.7L786.2,1029.9L790.8,1032.4L773.9,1040.2ZM772.8,1039.6L789.7,1031.8L794.3,1034.2L777.4,1042.1ZM776.4,1041.5L789.3,1035.5L793.9,1037.9L780.9,1043.9ZM776.0,1045.2L792.8,1037.3L797.4,1039.8L780.5,1047.7ZM779.5,1047.1L796.4,1039.2L800.9,1041.6L784.0,1049.6ZM783.0,1049.0L796.0,1042.9L800.5,1045.3L787.6,1051.5Z" fill="#a3a7c8"/>
<path d="M785.4,1026.8L810.1,1015.5L814.7,1017.8L790.0,1029.2ZM785.0,1030.5L813.6,1017.3L818.2,1019.6L789.6,1032.9ZM788.5,1032.3L817.1,1019.1L821.7,1021.4L793.1,1034.8ZM788.1,1036.0L820.7,1020.9L825.3,1023.2L792.7,1038.4ZM791.7,1037.9L824.2,1022.7L828.8,1025.0L796.2,1040.3ZM795.2,1039.7L823.8,1026.3L828.4,1028.7L799.8,1042.2ZM794.8,1043.5L823.5,1030.0L828.1,1032.3L799.4,1045.9ZM802.2,1043.5L823.1,1033.6L827.7,1036.0L806.8,1045.9ZM813.6,1041.6L822.7,1037.3L827.3,1039.7L818.2,1044.0Z" fill="#e2876a"/>
<path d="M775.5,1048.9L780.7,1046.6L785.2,1049.0L780.1,1051.4ZM822.7,1026.9L827.8,1024.5L832.4,1026.8L827.3,1029.2ZM739.8,1069.3L744.9,1066.9L749.4,1069.4L744.3,1071.9ZM822.3,1030.5L831.3,1026.3L835.9,1028.6L826.9,1032.9ZM743.3,1071.3L748.4,1068.9L752.9,1071.4L747.8,1073.8ZM821.9,1034.2L834.8,1028.1L839.5,1030.4L826.5,1036.6ZM758.6,1067.7L763.7,1065.2L768.2,1067.8L763.1,1070.2ZM770.4,1062.1L783.3,1055.9L787.9,1058.4L774.9,1064.6ZM821.5,1037.9L838.4,1029.9L843.0,1032.2L826.1,1040.3ZM821.1,1041.6L841.9,1031.7L846.5,1034.0L825.7,1044.0ZM765.6,1071.5L770.7,1069.1L775.3,1071.6L770.1,1074.1ZM824.6,1043.4L845.5,1033.5L850.1,1035.8L829.2,1045.8ZM765.1,1075.4L770.3,1072.9L774.8,1075.5L769.7,1077.9ZM828.1,1045.3L849.0,1035.3L853.6,1037.7L832.7,1047.7ZM752.9,1084.9L758.0,1082.4L762.6,1085.0L757.4,1087.4ZM831.7,1047.1L852.6,1037.1L857.2,1039.5L836.3,1049.5ZM752.4,1088.8L757.6,1086.3L762.1,1088.9L757.0,1091.3ZM835.2,1049.0L856.1,1038.9L860.7,1041.3L839.8,1051.4ZM748.0,1094.5L768.9,1084.5L773.5,1087.0L752.6,1097.1ZM815.1,1062.2L824.2,1057.8L828.7,1060.3L819.7,1064.7ZM834.8,1052.7L859.6,1040.7L864.2,1043.1L839.4,1055.1ZM755.5,1094.6L780.3,1082.6L784.9,1085.1L760.0,1097.2ZM818.6,1064.1L823.7,1061.6L828.3,1064.0L823.2,1066.5ZM834.4,1056.5L863.2,1042.5L867.8,1044.9L839.0,1058.9ZM723.4,1113.9L728.6,1111.4L733.1,1114.0L728.0,1116.5ZM759.0,1096.6L783.8,1084.6L788.4,1087.1L763.5,1099.2ZM822.1,1066.0L827.3,1063.5L831.8,1065.9L826.7,1068.4ZM841.9,1056.4L866.7,1044.3L871.3,1046.7L846.4,1058.8ZM766.4,1096.7L791.3,1084.6L795.8,1087.1L770.9,1099.3ZM825.6,1067.9L830.8,1065.4L835.4,1067.8L830.2,1070.3ZM845.4,1058.2L870.3,1046.1L874.9,1048.5L850.0,1060.7ZM769.9,1098.7L798.7,1084.6L803.3,1087.1L774.4,1101.3ZM829.2,1069.7L834.3,1067.2L838.9,1069.7L833.7,1072.2ZM852.9,1058.2L873.8,1047.9L878.4,1050.3L857.5,1060.6ZM773.4,1100.7L810.2,1082.7L814.7,1085.2L777.9,1103.3ZM832.7,1071.6L837.8,1069.1L842.4,1071.5L837.3,1074.1ZM856.4,1060.0L877.4,1049.7L882.0,1052.1L861.0,1062.4ZM776.9,1102.7L813.7,1084.6L818.2,1087.1L781.4,1105.2ZM836.2,1073.5L841.3,1071.0L845.9,1073.4L840.8,1076.0ZM863.9,1059.9L880.9,1051.5L885.5,1053.9L868.5,1062.3ZM776.4,1106.6L817.2,1086.5L821.7,1089.0L781.0,1109.2ZM839.7,1075.4L844.9,1072.9L849.4,1075.3L844.3,1077.8ZM871.4,1059.8L884.4,1053.4L889.0,1055.7L876.0,1062.2ZM779.9,1108.6L824.6,1086.5L829.2,1089.0L784.4,1111.2ZM843.2,1077.3L848.4,1074.7L853.0,1077.2L847.8,1079.7ZM874.9,1061.6L888.0,1055.2L892.6,1057.5L879.5,1064.0ZM783.4,1110.6L804.4,1100.2L808.9,1102.7L787.9,1113.2ZM846.8,1079.2L855.9,1074.6L860.5,1077.1L851.3,1081.6ZM874.5,1065.4L891.5,1057.0L896.1,1059.3L879.1,1067.8ZM751.2,1130.3L756.4,1127.8L760.9,1130.4L755.7,1133.0ZM782.9,1114.6L803.9,1104.1L808.5,1106.7L787.5,1117.2ZM850.3,1081.0L859.4,1076.5L864.0,1078.9L854.9,1083.5ZM870.1,1071.2L895.1,1058.8L899.7,1061.1L874.7,1073.6ZM754.7,1132.4L759.8,1129.8L764.4,1132.5L759.2,1135.1ZM790.4,1114.6L807.4,1106.1L812.0,1108.6L794.9,1117.2ZM857.8,1080.9L898.6,1060.6L903.2,1062.9L862.3,1083.4ZM758.2,1134.4L763.3,1131.9L767.8,1134.5L762.7,1137.1ZM801.8,1112.6L810.9,1108.0L815.5,1110.6L806.3,1115.2ZM861.3,1082.8L902.1,1062.4L906.8,1064.7L865.9,1085.3ZM761.6,1136.5L766.8,1133.9L771.3,1136.6L766.1,1139.2ZM805.3,1114.6L814.4,1110.0L819.0,1112.6L809.8,1117.2ZM872.8,1080.7L905.7,1064.2L910.3,1066.5L877.3,1083.1ZM765.1,1138.5L770.3,1135.9L774.8,1138.6L769.6,1141.2ZM812.8,1114.6L817.9,1112.0L822.5,1114.5L817.3,1117.1ZM892.2,1074.6L909.2,1066.0L913.8,1068.3L896.8,1077.0ZM768.6,1140.6L773.7,1138.0L778.3,1140.7L773.1,1143.3ZM816.2,1116.5L821.4,1113.9L826.0,1116.5L820.8,1119.1ZM859.9,1094.5L869.1,1089.9L873.7,1092.3L864.5,1096.9ZM899.7,1074.4L912.8,1067.8L917.4,1070.1L904.3,1076.8ZM823.7,1116.5L828.9,1113.9L833.4,1116.4L828.3,1119.0ZM903.2,1076.2L916.3,1069.6L920.9,1071.9L907.8,1078.6ZM827.2,1118.5L832.4,1115.8L836.9,1118.4L831.8,1121.0ZM878.9,1092.2L884.1,1089.6L888.7,1092.0L883.5,1094.6ZM910.7,1076.0L919.9,1071.4L924.5,1073.7L915.3,1078.4ZM914.2,1077.9L923.4,1073.2L928.0,1075.5L918.8,1080.2ZM838.2,1120.4L843.4,1117.7L847.9,1120.3L842.7,1122.9ZM921.8,1077.7L926.9,1075.0L931.5,1077.4L926.4,1080.0ZM925.3,1079.5L930.5,1076.8L935.1,1079.2L929.9,1081.8ZM849.2,1122.2L854.3,1119.6L858.9,1122.1L853.7,1124.8Z" fill="#aabcb7"/>
<path d="M700.5,1087.8L713.5,1081.7L718.0,1084.3L705.0,1090.4ZM692.2,1095.4L744.5,1070.7L749.0,1073.3L696.7,1098.0ZM695.7,1097.4L751.9,1070.8L756.4,1073.4L700.2,1100.1ZM707.0,1095.7L751.5,1074.6L756.0,1077.2L711.5,1098.4ZM714.4,1095.9L755.0,1076.6L759.5,1079.2L718.9,1098.6ZM721.8,1096.1L754.5,1080.4L759.1,1083.0L726.4,1098.7ZM729.3,1096.2L754.1,1084.3L758.6,1086.9L733.8,1098.8ZM736.7,1096.3L753.6,1088.2L758.2,1090.8L741.2,1098.9Z" fill="#bdb367"/>
<path d="M779.1,1050.8L784.2,1048.4L788.7,1050.9L783.6,1053.3ZM778.7,1054.6L803.4,1042.9L808.0,1045.3L783.2,1057.1ZM782.2,1056.5L814.8,1041.1L819.4,1043.5L786.7,1059.0ZM781.7,1060.3L822.3,1041.0L826.9,1043.4L786.3,1062.7ZM789.2,1060.3L825.8,1042.9L830.4,1045.3L793.8,1062.8ZM796.6,1060.3L829.3,1044.7L833.9,1047.1L801.2,1062.8ZM804.1,1060.3L832.9,1046.6L837.5,1048.9L808.7,1062.8ZM811.6,1060.3L836.4,1048.4L841.0,1050.8L816.1,1062.8ZM823.0,1058.4L836.0,1052.1L840.6,1054.5L827.6,1060.8Z" fill="#d8dab8"/>
<path d="M750.7,1071.4L759.8,1067.1L764.3,1069.6L755.3,1073.9ZM750.3,1075.2L767.2,1067.2L771.7,1069.7L754.8,1077.8ZM753.8,1077.2L766.8,1071.0L771.3,1073.5L758.3,1079.7ZM753.3,1081.0L766.3,1074.8L770.9,1077.3L757.9,1083.6ZM756.8,1083.0L769.8,1076.8L774.4,1079.3L761.4,1085.6ZM756.4,1086.9L773.3,1078.7L777.9,1081.2L760.9,1089.4ZM767.8,1085.0L776.8,1080.7L781.4,1083.2L772.3,1087.6Z" fill="#0b2762"/>
<path d="M699.1,1099.5L708.2,1095.2L712.7,1097.8L703.7,1102.1ZM702.6,1101.5L715.6,1095.3L720.1,1098.0L707.1,1104.2ZM706.1,1103.6L723.0,1095.5L727.5,1098.1L710.6,1106.3ZM709.6,1105.6L730.4,1095.6L735.0,1098.3L714.1,1108.3ZM713.0,1107.7L737.9,1095.8L742.4,1098.4L717.5,1110.4ZM716.5,1109.8L749.2,1094.0L753.8,1096.6L721.0,1112.4ZM720.0,1111.8L740.9,1101.7L745.4,1104.3L724.5,1114.5Z" fill="#8c2f80"/>
<path d="M766.0,1067.7L782.9,1059.7L787.5,1062.2L770.6,1070.3ZM769.5,1069.7L790.4,1059.7L794.9,1062.2L774.1,1072.2ZM769.1,1073.5L797.8,1059.8L802.4,1062.2L773.6,1076.0ZM768.6,1077.3L805.3,1059.8L809.9,1062.2L773.2,1079.9ZM772.1,1079.3L812.7,1059.8L817.3,1062.2L776.7,1081.8ZM775.6,1081.2L816.3,1061.6L820.8,1064.1L780.2,1083.8ZM779.2,1083.2L819.8,1063.5L824.4,1066.0L783.7,1085.7ZM782.7,1085.1L823.3,1065.4L827.9,1067.8L787.2,1087.7ZM790.1,1085.2L826.8,1067.3L831.4,1069.7L794.7,1087.7ZM797.6,1085.2L830.3,1069.2L834.9,1071.6L802.1,1087.7ZM809.0,1083.2L833.9,1071.0L838.4,1073.5L813.5,1085.7ZM820.4,1081.3L837.4,1072.9L842.0,1075.4L825.0,1083.8ZM831.8,1079.3L840.9,1074.8L845.5,1077.3L836.4,1081.8ZM839.3,1079.2L844.4,1076.7L849.0,1079.1L843.9,1081.7Z" fill="#dbd49a"/>
<path d="M739.7,1102.3L756.7,1094.1L761.2,1096.7L744.2,1104.9ZM727.4,1112.0L760.2,1096.1L764.7,1098.6L731.9,1114.6ZM726.9,1115.9L767.6,1096.1L772.1,1098.7L731.4,1118.6ZM730.4,1118.0L771.1,1098.1L775.6,1100.7L734.9,1120.7ZM733.9,1120.0L774.6,1100.1L779.1,1102.7L738.4,1122.7ZM737.3,1122.1L778.1,1102.1L782.6,1104.7L741.8,1124.8ZM740.8,1124.2L777.6,1106.0L782.1,1108.6L745.3,1126.8ZM744.3,1126.2L781.1,1108.0L785.6,1110.6L748.8,1128.9ZM747.7,1128.3L784.6,1110.0L789.1,1112.6L752.3,1130.9ZM755.2,1128.3L784.1,1114.0L788.6,1116.6L759.7,1131.0ZM762.6,1128.4L783.6,1117.9L788.2,1120.5L767.1,1131.1Z" fill="#a9bedf"/>
<path d="M822.5,1062.2L835.6,1055.9L840.2,1058.3L827.1,1064.6ZM826.1,1064.1L843.0,1055.8L847.6,1058.2L830.6,1066.5ZM829.6,1065.9L846.6,1057.7L851.2,1060.1L834.2,1068.4ZM833.1,1067.8L854.1,1057.6L858.6,1060.0L837.7,1070.3ZM836.6,1069.7L857.6,1059.4L862.2,1061.8L841.2,1072.1ZM840.2,1071.6L865.1,1059.3L869.7,1061.7L844.7,1074.0ZM843.7,1073.4L872.6,1059.2L877.2,1061.6L848.3,1075.9ZM847.2,1075.3L876.1,1061.0L880.7,1063.4L851.8,1077.8ZM854.7,1075.2L875.7,1064.8L880.3,1067.2L859.3,1077.7ZM858.2,1077.1L871.3,1070.6L875.9,1073.0L862.8,1079.5Z" fill="#25229a"/>
<path d="M812.5,1085.2L821.6,1080.7L826.1,1083.2L817.0,1087.7ZM816.0,1087.1L833.0,1078.7L837.6,1081.2L820.5,1089.6ZM823.5,1087.1L840.5,1078.6L845.0,1081.1L828.0,1089.6ZM830.9,1087.0L848.0,1078.6L852.5,1081.0L835.5,1089.5ZM838.4,1087.0L851.5,1080.4L856.1,1082.9L843.0,1089.4ZM845.9,1086.9L859.0,1080.4L863.5,1082.8L850.4,1089.3Z" fill="#a6aedb"/>
<path d="M803.2,1100.8L820.2,1092.3L824.8,1094.8L807.7,1103.3ZM802.7,1104.7L823.7,1094.2L828.3,1096.8L807.3,1107.3ZM806.2,1106.7L827.2,1096.2L831.8,1098.7L810.8,1109.2ZM809.7,1108.6L834.7,1096.1L839.3,1098.6L814.3,1111.2ZM813.2,1110.6L838.2,1098.0L842.8,1100.5L817.8,1113.2ZM816.7,1112.6L841.7,1100.0L846.3,1102.5L821.3,1115.1ZM820.2,1114.5L849.2,1099.9L853.8,1102.4L824.8,1117.1ZM827.7,1114.5L852.7,1101.8L857.3,1104.3L832.2,1117.0ZM831.2,1116.4L856.2,1103.7L860.8,1106.2L835.7,1119.0ZM834.7,1118.4L859.7,1105.6L864.3,1108.1L839.2,1120.9ZM842.2,1118.3L863.3,1107.5L867.8,1110.0L846.7,1120.9ZM845.7,1120.3L862.8,1111.5L867.4,1114.0L850.2,1122.8ZM853.2,1120.2L866.3,1113.4L870.9,1115.9L857.7,1122.7Z" fill="#cf2f2c"/>
<path d="M819.0,1092.9L832.1,1086.4L836.7,1088.9L823.6,1095.4ZM822.5,1094.8L839.6,1086.4L844.2,1088.8L827.1,1097.4ZM826.1,1096.8L847.1,1086.3L851.6,1088.8L830.6,1099.3ZM833.5,1096.7L854.5,1086.2L859.1,1088.7L838.1,1099.2ZM837.0,1098.6L858.1,1088.1L862.6,1090.5L841.6,1101.1ZM840.5,1100.6L857.6,1092.0L862.2,1094.4L845.1,1103.1ZM848.0,1100.5L861.1,1093.9L865.7,1096.3L852.6,1103.0ZM851.5,1102.4L864.6,1095.8L869.2,1098.2L856.1,1104.9ZM855.0,1104.3L860.2,1101.7L864.8,1104.2L859.6,1106.8Z" fill="#e98c6c"/>
<path d="M758.7,1130.4L763.8,1127.8L768.3,1130.5L763.2,1133.1ZM782.4,1118.5L791.6,1114.0L796.1,1116.6L787.0,1121.1ZM762.1,1132.4L803.0,1112.0L807.5,1114.6L766.6,1135.1ZM765.6,1134.5L806.5,1114.0L811.0,1116.6L770.1,1137.2ZM769.1,1136.5L813.9,1114.0L818.5,1116.5L773.6,1139.2ZM772.6,1138.6L817.4,1115.9L822.0,1118.5L777.1,1141.3ZM772.0,1142.7L824.9,1115.9L829.5,1118.4L776.6,1145.3ZM775.5,1144.7L828.4,1117.9L833.0,1120.4L780.0,1147.4ZM779.0,1146.8L835.9,1117.8L840.4,1120.3L783.5,1149.4ZM782.5,1148.8L839.4,1119.7L843.9,1122.3L787.0,1151.5ZM785.9,1150.9L846.9,1119.7L851.4,1122.2L790.5,1153.6ZM789.4,1152.9L850.4,1121.6L854.9,1124.2L793.9,1155.6Z" fill="#b5c4c3"/>
<path d="M853.4,1086.8L862.5,1082.2L867.1,1084.7L857.9,1089.2ZM856.9,1088.7L873.9,1080.1L878.5,1082.5L861.5,1091.1ZM856.4,1092.6L877.5,1082.0L882.1,1084.4L861.0,1095.0ZM867.9,1090.5L877.0,1085.8L881.6,1088.3L872.5,1092.9ZM875.4,1090.3L880.5,1087.7L885.1,1090.1L880.0,1092.8Z" fill="#a0cad3"/>
<path d="M876.3,1082.6L893.3,1074.0L897.9,1076.4L880.9,1085.0ZM875.8,1086.4L900.9,1073.8L905.5,1076.2L880.4,1088.9ZM879.4,1088.3L904.4,1075.6L909.0,1078.0L883.9,1090.7ZM882.9,1090.2L911.9,1075.4L916.5,1077.8L887.5,1092.6ZM882.4,1094.1L915.4,1077.3L920.0,1079.6L887.0,1096.5ZM885.9,1096.0L923.0,1077.0L927.6,1079.4L890.5,1098.4ZM889.5,1097.8L926.5,1078.9L931.1,1081.2L894.0,1100.3ZM893.0,1099.7L934.0,1078.6L938.6,1081.0L897.6,1102.1Z" fill="#d2cfd2"/>
<path d="M863.5,1096.4L876.6,1089.7L881.2,1092.2L868.0,1098.8ZM859.0,1102.3L880.1,1091.6L884.7,1094.0L863.6,1104.8ZM858.6,1106.2L883.6,1093.5L888.2,1095.9L863.1,1108.7ZM862.1,1108.2L887.1,1095.3L891.7,1097.8L866.6,1110.6ZM861.6,1112.1L890.7,1097.2L895.2,1099.7L866.2,1114.6ZM865.1,1114.0L894.2,1099.1L898.8,1101.5L869.7,1116.5Z" fill="#0a5c9c"/>
<path d="M672.9,1079.2L798.0,1152.9M672.5,1083.1L813.5,1017.8M676.8,1077.4L802.0,1150.9M675.9,1085.1L817.1,1019.6M680.8,1075.6L806.0,1148.8M679.4,1087.2L820.6,1021.4M684.7,1073.8L809.9,1146.8M682.9,1089.2L824.2,1023.2M688.6,1072.0L813.9,1144.7M686.4,1091.3L827.7,1025.0M692.5,1070.2L817.9,1142.7M689.8,1093.3L831.2,1026.8M696.4,1068.4L821.9,1140.6M693.3,1095.4L834.8,1028.6M700.3,1066.6L825.9,1138.6M696.8,1097.4L838.3,1030.4M704.2,1064.8L829.9,1136.5M700.2,1099.5L841.9,1032.2M708.2,1062.9L833.9,1134.4M703.7,1101.6L845.4,1034.1M712.1,1061.1L837.8,1132.4M707.2,1103.6L849.0,1035.9M716.0,1059.3L841.8,1130.3M710.7,1105.7L852.5,1037.7M719.9,1057.5L845.8,1128.3M714.1,1107.7L856.0,1039.5M723.8,1055.7L849.8,1126.2M717.6,1109.8L859.6,1041.3M727.8,1053.9L853.8,1124.2M721.1,1111.8L863.1,1043.1M731.7,1052.1L857.8,1122.1M724.6,1113.9L866.7,1044.9M735.6,1050.3L861.8,1120.1M728.0,1115.9L870.2,1046.7M739.5,1048.5L865.8,1118.0M731.5,1118.0L873.8,1048.5M743.4,1046.7L869.7,1115.9M735.0,1120.1L877.3,1050.3M747.3,1044.9L873.7,1113.9M738.4,1122.1L880.8,1052.1M751.2,1043.1L877.7,1111.8M741.9,1124.2L884.4,1053.9M755.2,1041.3L881.7,1109.8M745.4,1126.2L887.9,1055.7M759.1,1039.5L885.7,1107.7M748.9,1128.3L891.5,1057.5M763.0,1037.7L889.7,1105.7M752.3,1130.3L895.0,1059.3M766.9,1035.9L893.7,1103.6M755.8,1132.4L898.5,1061.1M770.8,1034.1L897.6,1101.6M759.3,1134.4L902.1,1062.9M774.8,1032.2L901.6,1099.5M762.8,1136.5L905.6,1064.8M778.7,1030.4L905.6,1097.4M766.2,1138.6L909.2,1066.6M782.6,1028.6L909.6,1095.4M769.7,1140.6L912.7,1068.4M786.5,1026.8L913.6,1093.3M773.2,1142.7L916.2,1070.2M790.4,1025.0L917.6,1091.3M776.6,1144.7L919.8,1072.0M794.3,1023.2L921.6,1089.2M780.1,1146.8L923.3,1073.8M798.2,1021.4L925.5,1087.2M783.6,1148.8L926.9,1075.6M802.2,1019.6L929.5,1085.1M787.1,1150.9L930.4,1077.4M806.1,1017.8L933.5,1083.1M790.5,1152.9L934.0,1079.2" stroke="#102028" stroke-opacity="0.36" stroke-width="1.50" fill="none"/>
<path d="M668.4,1080.1L690.3,1093.0L690.9,1098.3L669.1,1085.3ZM668.9,1084.1L690.7,1097.1L691.3,1102.4L669.6,1089.3ZM669.4,1088.1L691.2,1101.1L691.8,1106.4L670.1,1093.2ZM669.9,1092.0L691.7,1105.2L692.2,1110.5L670.6,1097.2ZM670.4,1096.0L692.1,1109.3L692.7,1114.5L671.1,1101.2ZM670.9,1100.0L692.6,1113.3L693.2,1118.6L671.6,1105.2ZM671.4,1104.0L689.6,1115.2L690.2,1120.5L672.1,1109.2ZM671.9,1108.0L686.6,1117.2L687.2,1122.4L672.6,1113.2ZM672.4,1112.0L683.7,1119.0L684.3,1124.3L673.1,1117.1ZM672.9,1116.0L684.2,1123.1L684.8,1128.3L673.6,1121.1ZM673.4,1119.9L681.2,1124.9L681.9,1130.1L674.1,1125.1Z" fill="#0d6754"/>
<path d="M689.2,1092.4L725.0,1113.6L725.5,1119.0L689.8,1097.7ZM689.7,1096.5L725.4,1117.7L725.9,1123.2L690.3,1101.7ZM690.2,1100.5L725.8,1121.9L726.3,1127.3L690.8,1105.8ZM690.6,1104.6L726.2,1126.1L726.7,1131.5L691.2,1109.8ZM691.1,1108.6L726.6,1130.2L727.1,1135.7L691.7,1113.9ZM691.5,1112.7L726.9,1134.4L727.4,1139.8L692.1,1117.9ZM702.3,1123.1L727.3,1138.6L727.8,1144.0L702.9,1128.4ZM709.6,1131.4L724.3,1140.6L724.8,1146.0L710.1,1136.8ZM713.4,1137.7L717.9,1140.5L718.4,1145.8L714.0,1143.0ZM733.3,1212.9L747.5,1222.9L747.9,1228.3L733.8,1218.3ZM730.4,1214.7L751.1,1229.4L751.6,1234.9L730.9,1220.1ZM730.8,1218.9L748.2,1231.3L748.7,1236.8L731.3,1224.3ZM731.2,1223.0L745.3,1233.1L745.7,1238.6L731.7,1228.4ZM731.6,1227.2L745.6,1237.3L746.1,1242.8L732.1,1232.6Z" fill="#7b2971"/>
<path d="M724.0,1113.0L763.2,1136.2L763.6,1141.7L724.5,1118.4ZM724.4,1117.1L763.5,1140.5L763.9,1146.0L724.9,1122.5ZM724.8,1121.3L763.8,1144.7L764.2,1150.3L725.3,1126.7ZM725.1,1125.4L764.1,1149.0L764.5,1154.6L725.6,1130.9ZM725.5,1129.6L764.5,1153.3L764.9,1158.9L726.0,1135.0ZM725.9,1133.8L764.8,1157.6L765.2,1163.2L726.4,1139.2ZM726.3,1137.9L761.6,1159.8L762.0,1165.3L726.8,1143.3ZM730.1,1144.2L755.1,1159.8L755.5,1165.3L730.6,1149.7ZM737.3,1152.7L745.2,1157.6L745.6,1163.1L737.8,1158.1Z" fill="#92a5c5"/>
<path d="M762.2,1135.5L794.5,1154.6L794.8,1160.4L762.6,1141.1ZM762.5,1139.8L794.7,1159.0L795.0,1164.7L762.9,1145.4ZM762.8,1144.1L795.0,1163.4L795.3,1169.1L763.2,1149.7ZM763.1,1148.4L795.2,1167.8L795.5,1173.5L763.5,1154.0ZM763.4,1152.7L795.5,1172.2L795.8,1177.9L763.8,1158.3ZM763.7,1157.0L795.7,1176.6L796.0,1182.3L764.1,1162.6ZM767.5,1163.4L795.9,1181.0L796.3,1186.7L767.9,1169.0ZM767.8,1167.7L796.2,1185.4L796.5,1191.1L768.2,1173.3ZM768.1,1172.0L793.0,1187.6L793.3,1193.3L768.5,1177.6ZM768.4,1176.3L783.0,1185.5L783.4,1191.2L768.8,1181.9ZM772.1,1182.7L776.5,1185.6L776.9,1191.2L772.5,1188.3Z" fill="#9eabac"/>
<path d="M688.6,1114.6L703.3,1123.7L703.9,1129.0L689.2,1119.9ZM685.6,1116.5L710.6,1132.1L711.1,1137.4L686.2,1121.8ZM682.7,1118.4L714.4,1138.3L715.0,1143.7L683.3,1123.6ZM683.1,1122.4L714.8,1142.5L715.4,1147.8L683.8,1127.6ZM680.2,1124.3L715.3,1146.6L715.8,1151.9L680.9,1129.5ZM680.7,1128.3L715.7,1150.7L716.2,1156.1L681.3,1133.5ZM681.2,1132.3L716.1,1154.8L716.6,1160.2L681.8,1137.5ZM681.7,1136.3L716.5,1158.9L717.0,1164.3L682.3,1141.5ZM682.2,1140.3L716.9,1163.1L717.5,1168.4L682.8,1145.5ZM722.7,1166.8L733.8,1174.1L734.3,1179.5L723.2,1172.2ZM689.4,1148.7L714.0,1165.0L714.5,1170.3L690.0,1154.0ZM716.3,1166.5L737.5,1180.5L738.0,1186.0L716.9,1171.9ZM716.7,1170.6L737.9,1184.7L738.4,1190.2L717.3,1176.0ZM717.2,1174.8L734.9,1186.7L735.4,1192.1L717.7,1180.1ZM720.9,1181.1L728.6,1186.3L729.1,1191.7L721.4,1186.5ZM758.4,1214.4L766.0,1219.7L766.4,1225.2L758.8,1220.0ZM758.7,1218.7L773.0,1228.5L773.4,1234.1L759.1,1224.2ZM755.7,1220.7L766.7,1228.2L767.1,1233.8L756.2,1226.2ZM752.7,1222.6L763.7,1230.2L764.1,1235.8L753.2,1228.1ZM771.5,1264.1L779.0,1269.6L779.3,1275.2L771.9,1269.7ZM768.5,1266.0L776.0,1271.6L776.4,1277.1L768.9,1271.6ZM768.8,1270.3L773.1,1273.4L773.5,1279.0L769.2,1275.9Z" fill="#c29b09"/>
<path d="M760.6,1159.1L768.5,1164.0L768.9,1169.6L761.0,1164.7ZM754.1,1159.2L768.8,1168.3L769.2,1173.9L754.5,1164.7ZM761.2,1167.7L769.1,1172.6L769.5,1178.2L761.7,1173.3ZM792.0,1187.0L796.4,1189.8L796.7,1195.5L792.3,1192.7ZM713.8,1141.8L718.3,1144.6L718.8,1150.0L714.4,1147.2ZM765.0,1174.1L769.4,1176.9L769.8,1182.5L765.4,1179.7ZM782.0,1184.9L789.9,1189.9L790.2,1195.5L782.4,1190.5ZM792.2,1191.4L796.7,1194.2L797.0,1199.9L792.6,1197.1ZM775.5,1184.9L783.3,1189.9L783.7,1195.5L775.9,1190.5ZM792.5,1195.7L796.9,1198.6L797.2,1204.3L792.8,1201.4ZM673.9,1123.9L681.7,1128.9L682.4,1134.1L674.6,1129.1ZM769.0,1184.9L773.4,1187.7L773.8,1193.3L769.4,1190.5ZM792.7,1200.1L797.2,1202.9L797.5,1208.7L793.1,1205.8ZM674.4,1127.9L682.2,1132.9L682.8,1138.2L675.1,1133.1ZM765.9,1187.0L770.3,1189.8L770.7,1195.4L766.3,1192.6ZM793.0,1204.5L797.4,1207.3L797.7,1213.0L793.3,1210.2ZM674.9,1131.9L682.7,1137.0L683.3,1142.2L675.6,1137.1ZM715.5,1158.3L719.9,1161.1L720.4,1166.5L716.0,1163.6ZM762.8,1189.1L767.2,1191.9L767.6,1197.5L763.2,1194.6ZM793.3,1208.9L797.6,1211.7L798.0,1217.4L793.6,1214.6ZM675.4,1135.9L683.2,1141.0L683.8,1146.2L676.1,1141.1ZM715.9,1162.4L723.7,1167.5L724.2,1172.9L716.4,1167.8ZM793.5,1213.2L797.9,1216.1L798.2,1221.8L793.8,1218.9ZM675.9,1139.9L690.4,1149.4L691.0,1154.7L676.6,1145.0ZM713.0,1164.3L717.3,1167.2L717.9,1172.5L713.5,1169.6ZM736.5,1179.9L740.9,1182.7L741.4,1188.2L737.0,1185.3ZM793.8,1217.6L798.1,1220.5L798.5,1226.2L794.1,1223.3ZM676.4,1143.8L717.7,1171.3L718.3,1176.7L677.1,1149.0ZM736.9,1184.0L744.6,1189.2L745.1,1194.6L737.4,1189.5ZM757.1,1197.4L761.4,1200.3L761.8,1205.9L757.5,1203.0ZM794.0,1222.0L798.4,1224.9L798.7,1230.6L794.3,1227.7ZM676.9,1147.8L718.2,1175.4L718.7,1180.8L677.6,1153.0ZM733.9,1186.0L748.3,1195.6L748.8,1201.1L734.4,1191.4ZM794.3,1226.4L798.6,1229.3L798.9,1235.0L794.6,1232.1ZM700.8,1167.6L721.9,1181.8L722.4,1187.2L701.4,1172.9ZM741.0,1194.7L745.3,1197.6L745.8,1203.1L741.5,1200.1ZM794.5,1230.7L798.9,1233.7L799.2,1239.4L794.8,1236.4ZM708.0,1176.2L722.3,1185.9L722.9,1191.3L708.5,1181.5ZM738.0,1196.6L742.4,1199.5L742.8,1205.0L738.5,1202.0ZM794.8,1235.1L799.1,1238.1L799.4,1243.8L795.1,1240.8ZM708.4,1180.3L722.7,1190.1L723.3,1195.4L709.0,1185.6ZM765.0,1219.0L769.4,1222.0L769.8,1227.5L765.5,1224.6ZM795.0,1239.5L799.4,1242.5L799.7,1248.2L795.3,1245.2ZM712.2,1186.7L719.8,1191.9L720.4,1197.3L712.7,1192.0ZM732.1,1200.4L736.4,1203.4L736.9,1208.8L732.6,1205.8ZM772.0,1227.9L792.9,1242.3L793.3,1248.0L772.4,1233.4ZM795.3,1243.9L799.6,1246.9L799.9,1252.6L795.6,1249.6ZM712.6,1190.8L720.2,1196.0L720.8,1201.4L713.2,1196.1ZM725.9,1200.0L736.8,1207.5L737.3,1213.0L726.4,1205.3ZM765.7,1227.6L770.0,1230.5L770.4,1236.1L766.1,1233.1ZM775.6,1234.5L786.6,1242.0L786.9,1247.7L776.0,1240.1ZM795.5,1248.3L799.8,1251.2L800.2,1256.9L795.9,1253.9ZM713.0,1194.8L737.2,1211.7L737.7,1217.2L713.6,1200.2ZM775.9,1238.8L780.2,1241.8L780.6,1247.4L776.3,1244.4ZM795.8,1252.6L800.1,1255.6L800.4,1261.3L796.1,1258.3ZM713.5,1198.9L734.3,1213.6L734.8,1219.0L714.0,1204.3ZM749.8,1224.5L757.4,1229.8L757.8,1235.4L750.2,1230.0ZM796.0,1257.0L800.3,1260.0L800.6,1265.7L796.4,1262.7ZM707.3,1198.4L731.4,1215.4L731.9,1220.8L707.9,1203.7ZM694.6,1193.1L718.6,1210.2L719.1,1215.5L695.2,1198.3ZM747.2,1230.6L751.5,1233.6L751.9,1239.1L747.7,1236.1ZM681.9,1187.7L715.7,1211.9L716.3,1217.3L682.6,1192.9ZM744.3,1232.4L751.8,1237.9L752.3,1243.3L744.8,1237.9ZM682.4,1191.7L709.6,1211.3L710.2,1216.6L683.1,1196.8ZM777.4,1260.3L781.7,1263.4L782.0,1269.0L777.8,1265.9ZM682.9,1195.6L706.8,1213.0L707.4,1218.3L683.6,1200.8ZM735.2,1233.7L739.5,1236.8L740.0,1242.2L735.7,1239.1ZM774.4,1262.2L781.9,1267.7L782.3,1273.3L774.8,1267.8ZM683.4,1199.6L704.0,1214.7L704.6,1220.0L684.1,1204.8ZM764.9,1259.4L772.4,1264.9L772.8,1270.4L765.4,1264.9ZM683.9,1203.6L704.4,1218.7L705.0,1224.0L684.6,1208.8ZM765.3,1263.6L769.5,1266.8L769.9,1272.3L765.7,1269.2ZM684.4,1207.6L704.9,1222.8L705.5,1228.1L685.1,1212.8ZM684.9,1211.6L705.3,1226.8L705.9,1232.1L685.6,1216.8ZM685.4,1215.6L705.8,1230.9L706.4,1236.2L686.1,1220.7ZM727.5,1247.2L741.4,1257.7L741.8,1263.1L728.0,1252.6ZM769.5,1278.9L773.7,1282.0L774.1,1287.6L769.9,1284.4ZM685.9,1219.5L748.2,1266.7L748.7,1272.2L686.6,1224.7ZM760.1,1275.8L774.0,1286.3L774.4,1291.9L760.6,1281.3Z" fill="#96a2a0"/>
<path d="M723.3,1140.0L727.7,1142.7L728.2,1148.2L723.8,1145.4ZM716.8,1139.8L731.5,1149.0L732.0,1154.5L717.4,1145.2ZM717.2,1144.0L735.3,1155.4L735.8,1160.8L717.8,1149.3ZM714.2,1145.9L735.7,1159.6L736.2,1165.0L714.8,1151.3ZM714.7,1150.0L736.0,1163.8L736.5,1169.2L715.2,1155.4ZM715.1,1154.2L733.0,1165.8L733.5,1171.2L715.6,1159.5ZM718.9,1160.5L733.4,1169.9L733.9,1175.4L719.4,1165.9Z" fill="#b82d2d"/>
<path d="M726.7,1142.1L731.1,1144.9L731.6,1150.3L727.2,1147.5ZM730.5,1148.4L738.4,1153.3L738.8,1158.8L731.0,1153.8ZM734.3,1154.7L742.1,1159.7L742.6,1165.2L734.8,1160.2ZM734.7,1158.9L739.1,1161.7L739.6,1167.2L735.1,1164.4Z" fill="#a2b09b"/>
<path d="M744.2,1157.0L762.3,1168.3L762.7,1173.9L744.6,1162.5ZM741.1,1159.0L766.0,1174.8L766.4,1180.4L741.6,1164.5ZM738.1,1161.1L773.1,1183.4L773.5,1189.0L738.5,1166.5ZM735.0,1163.1L770.0,1185.5L770.4,1191.1L735.5,1168.5ZM732.0,1165.1L766.9,1187.6L767.3,1193.2L732.5,1170.5ZM732.4,1169.3L763.8,1189.7L764.2,1195.3L732.9,1174.7ZM732.8,1173.5L764.2,1194.0L764.6,1199.6L733.3,1178.9ZM739.9,1182.1L761.1,1196.1L761.5,1201.6L740.4,1187.5ZM743.6,1188.5L758.1,1198.1L758.5,1203.6L744.1,1194.0Z" fill="#0a2256"/>
<path d="M788.8,1189.2L793.3,1192.0L793.6,1197.7L789.2,1194.9ZM782.3,1189.2L793.5,1196.4L793.8,1202.1L782.6,1194.9ZM772.4,1187.1L793.8,1200.8L794.1,1206.5L772.8,1192.7ZM769.3,1189.2L794.0,1205.1L794.3,1210.8L769.7,1194.8ZM766.2,1191.3L794.3,1209.5L794.6,1215.2L766.6,1196.8ZM763.1,1193.3L794.5,1213.9L794.8,1219.6L763.6,1198.9ZM760.1,1195.4L794.8,1218.3L795.1,1224.0L760.5,1200.9ZM760.4,1199.7L795.0,1222.7L795.3,1228.4L760.8,1205.2ZM760.7,1203.9L795.3,1227.0L795.6,1232.7L761.2,1209.5ZM761.1,1208.2L795.5,1231.4L795.8,1237.1L761.5,1213.7ZM761.4,1212.5L795.8,1235.8L796.1,1241.5L761.8,1218.0ZM768.4,1221.3L796.0,1240.2L796.3,1245.9L768.8,1226.9Z" fill="#81a9b7"/>
<path d="M747.3,1195.0L761.7,1204.6L762.2,1210.2L747.8,1200.4ZM744.3,1196.9L762.1,1208.9L762.5,1214.4L744.8,1202.4ZM741.4,1198.9L762.4,1213.1L762.8,1218.7L741.8,1204.3ZM738.4,1200.8L759.4,1215.1L759.8,1220.7L738.9,1206.2ZM735.4,1202.7L759.7,1219.4L760.1,1224.9L735.9,1208.1ZM735.8,1206.9L756.7,1221.3L757.2,1226.9L736.3,1212.3ZM736.2,1211.0L753.7,1223.3L754.2,1228.8L736.7,1216.5ZM746.5,1222.2L750.8,1225.2L751.2,1230.7L747.0,1227.6Z" fill="#0e6b54"/>
<path d="M677.4,1151.8L701.8,1168.3L702.4,1173.6L678.1,1157.0ZM677.9,1155.8L709.0,1176.9L709.5,1182.2L678.6,1161.0ZM678.4,1159.8L709.4,1181.0L710.0,1186.3L679.1,1165.0ZM678.9,1163.8L713.2,1187.3L713.7,1192.7L679.6,1168.9ZM679.4,1167.8L713.6,1191.4L714.2,1196.8L680.1,1172.9ZM679.9,1171.7L714.0,1195.5L714.6,1200.9L680.6,1176.9ZM680.4,1175.7L714.4,1199.6L715.0,1205.0L681.1,1180.9ZM680.9,1179.7L708.3,1199.1L708.9,1204.4L681.6,1184.9ZM681.4,1183.7L695.6,1193.8L696.2,1199.0L682.1,1188.9ZM796.8,1270.1L801.1,1273.2L801.4,1278.9L797.1,1275.8ZM787.2,1267.4L801.3,1277.6L801.6,1283.3L787.6,1273.1ZM781.0,1267.0L801.5,1282.0L801.9,1287.7L781.3,1272.6ZM778.0,1268.9L801.8,1286.4L802.1,1292.1L778.4,1274.5ZM775.0,1270.8L802.0,1290.8L802.3,1296.5L775.4,1276.4ZM772.1,1272.7L802.3,1295.1L802.6,1300.9L772.5,1278.3ZM769.2,1274.6L802.5,1299.5L802.8,1305.2L769.6,1280.1ZM772.7,1281.3L802.8,1303.9L803.1,1309.6L773.1,1286.9ZM773.0,1285.6L803.0,1308.3L803.3,1314.0L773.4,1291.1Z" fill="#4f38a2"/>
<path d="M727.6,1185.6L742.0,1195.3L742.5,1200.8L728.1,1191.0ZM721.3,1185.3L739.0,1197.3L739.5,1202.7L721.9,1190.6ZM721.7,1189.4L739.4,1201.5L739.9,1206.9L722.3,1194.8ZM718.8,1191.2L733.1,1201.1L733.6,1206.5L719.4,1196.6ZM719.2,1195.4L726.9,1200.6L727.4,1206.0L719.8,1200.7Z" fill="#bebeb0"/>
<path d="M791.9,1241.6L796.3,1244.6L796.6,1250.3L792.3,1247.3ZM785.6,1241.4L796.5,1248.9L796.8,1254.6L785.9,1247.0ZM779.2,1241.1L796.8,1253.3L797.1,1259.0L779.6,1246.7ZM772.9,1240.7L797.0,1257.7L797.3,1263.4L773.3,1246.3ZM776.5,1247.4L800.6,1264.4L800.9,1270.1L776.9,1253.0ZM776.8,1251.7L800.8,1268.8L801.1,1274.5L777.2,1257.3ZM780.4,1258.4L797.8,1270.8L798.1,1276.5L780.8,1264.0ZM780.7,1262.7L788.2,1268.1L788.6,1273.8L781.0,1268.3Z" fill="#b0b7a2"/>
<path d="M769.0,1229.9L776.6,1235.1L777.0,1240.7L769.4,1235.4ZM762.7,1229.5L776.9,1239.5L777.3,1245.1L763.1,1235.1ZM756.4,1229.1L773.9,1241.4L774.3,1247.0L756.8,1234.6ZM750.1,1228.7L777.5,1248.1L777.9,1253.7L750.6,1234.2ZM750.5,1232.9L777.8,1252.4L778.2,1258.0L751.0,1238.4ZM750.8,1237.1L781.4,1259.1L781.7,1264.7L751.3,1242.6ZM754.5,1243.7L778.4,1261.0L778.8,1266.6L754.9,1249.2ZM758.1,1250.3L775.4,1262.9L775.8,1268.5L758.5,1255.9ZM761.7,1257.0L765.9,1260.1L766.3,1265.6L762.1,1262.5Z" fill="#b78d6b"/>
<path d="M717.6,1209.5L731.7,1219.6L732.3,1225.0L718.2,1214.8ZM714.7,1211.2L732.1,1223.7L732.7,1229.1L715.3,1216.6ZM708.6,1210.6L732.5,1227.9L733.0,1233.3L709.2,1215.9ZM705.8,1212.3L736.2,1234.4L736.7,1239.8L706.4,1217.6ZM703.0,1214.0L733.3,1236.2L733.8,1241.6L703.6,1219.2ZM703.5,1218.0L733.7,1240.3L734.2,1245.7L704.1,1223.3ZM703.9,1222.1L734.1,1244.5L734.6,1249.9L704.5,1227.3ZM704.4,1226.1L737.7,1251.1L738.2,1256.5L705.0,1231.4ZM704.8,1230.2L728.4,1247.9L729.0,1253.3L705.4,1235.4Z" fill="#b0865c"/>
<path d="M744.6,1236.6L755.5,1244.4L755.9,1249.9L745.1,1242.1ZM738.5,1236.1L759.1,1251.1L759.5,1256.6L739.0,1241.5ZM732.3,1235.5L762.7,1257.7L763.1,1263.2L732.9,1240.9ZM732.7,1239.6L766.2,1264.3L766.7,1269.9L733.2,1245.0ZM733.1,1243.8L769.8,1271.0L770.2,1276.6L733.6,1249.2ZM736.8,1250.3L770.1,1275.3L770.5,1280.9L737.3,1255.8ZM740.4,1256.9L770.4,1279.6L770.8,1285.1L740.9,1262.4ZM747.2,1266.0L761.1,1276.5L761.5,1282.0L747.7,1271.5Z" fill="#9e985d"/>
<path d="M672.5,1083.1L690.2,1227.0M669.5,1085.0L794.2,1159.4M675.9,1085.1L693.4,1229.4M670.0,1089.0L794.5,1163.8M679.4,1087.2L696.6,1231.9M670.5,1093.0L794.7,1168.2M682.9,1089.2L699.9,1234.3M671.0,1096.9L795.0,1172.6M686.4,1091.3L703.1,1236.8M671.5,1100.9L795.2,1176.9M689.8,1093.3L706.3,1239.2M672.0,1104.9L795.5,1181.3M693.3,1095.4L709.5,1241.7M672.5,1108.9L795.7,1185.7M696.8,1097.4L712.7,1244.2M673.0,1112.9L796.0,1190.1M700.2,1099.5L716.0,1246.6M673.5,1116.9L796.2,1194.5M703.7,1101.6L719.2,1249.1M674.0,1120.9L796.4,1198.9M707.2,1103.6L722.4,1251.5M674.5,1124.8L796.7,1203.3M710.7,1105.7L725.6,1254.0M675.0,1128.8L796.9,1207.7M714.1,1107.7L728.8,1256.5M675.5,1132.8L797.2,1212.1M717.6,1109.8L732.0,1258.9M676.0,1136.8L797.4,1216.4M721.1,1111.8L735.2,1261.4M676.5,1140.8L797.7,1220.8M724.6,1113.9L738.5,1263.8M677.0,1144.8L797.9,1225.2M728.0,1115.9L741.7,1266.3M677.5,1148.8L798.2,1229.6M731.5,1118.0L744.9,1268.8M678.0,1152.8L798.4,1234.0M735.0,1120.1L748.1,1271.2M678.5,1156.7L798.6,1238.4M738.4,1122.1L751.3,1273.7M679.0,1160.7L798.9,1242.8M741.9,1124.2L754.5,1276.1M679.5,1164.7L799.1,1247.2M745.4,1126.2L757.8,1278.6M680.0,1168.7L799.4,1251.6M748.9,1128.3L761.0,1281.0M680.5,1172.7L799.6,1255.9M752.3,1130.3L764.2,1283.5M681.0,1176.7L799.9,1260.3M755.8,1132.4L767.4,1286.0M681.5,1180.7L800.1,1264.7M759.3,1134.4L770.6,1288.4M682.0,1184.6L800.4,1269.1M762.8,1136.5L773.8,1290.9M682.5,1188.6L800.6,1273.5M766.2,1138.6L777.1,1293.3M683.0,1192.6L800.8,1277.9M769.7,1140.6L780.3,1295.8M683.5,1196.6L801.1,1282.3M773.2,1142.7L783.5,1298.2M684.0,1200.6L801.3,1286.7M776.6,1144.7L786.7,1300.7M684.5,1204.6L801.6,1291.1M780.1,1146.8L789.9,1303.2M685.0,1208.6L801.8,1295.4M783.6,1148.8L793.1,1305.6M685.5,1212.5L802.1,1299.8M787.1,1150.9L796.4,1308.1M686.0,1216.5L802.3,1304.2M790.5,1152.9L799.6,1310.5M686.5,1220.5L802.6,1308.6" stroke="#102028" stroke-opacity="0.36" stroke-width="1.50" fill="none"/>
<path d="M793.4,1154.6L854.4,1123.2L854.5,1128.7L793.7,1160.4ZM793.6,1159.0L854.5,1127.5L854.6,1133.0L793.9,1164.7ZM793.9,1163.4L858.5,1129.6L858.6,1135.1L794.2,1169.1ZM794.1,1167.8L858.6,1133.8L858.7,1139.3L794.4,1173.5ZM794.3,1172.2L858.7,1138.1L858.8,1143.6L794.7,1177.9ZM794.6,1176.6L854.8,1144.4L854.9,1149.9L794.9,1182.3ZM794.8,1181.0L851.0,1150.8L851.1,1156.3L795.2,1186.7ZM795.1,1185.4L847.2,1157.1L847.3,1162.7L795.4,1191.1ZM795.3,1189.8L839.5,1165.7L839.6,1171.2L795.7,1195.5ZM795.6,1194.2L827.9,1176.4L828.1,1182.0L795.9,1199.9ZM803.6,1194.2L820.3,1185.0L820.5,1190.6L803.9,1199.9Z" fill="#808888"/>
<path d="M853.2,1123.8L874.3,1113.0L874.4,1118.4L853.3,1129.4ZM853.3,1128.1L874.3,1117.1L874.4,1122.6L853.4,1133.6ZM857.3,1130.2L874.4,1121.3L874.4,1126.8L857.4,1135.7ZM857.4,1134.5L874.4,1125.5L874.5,1131.0L857.5,1140.0ZM857.5,1138.7L874.5,1129.7L874.5,1135.1L857.6,1144.2ZM861.5,1140.8L874.5,1133.9L874.5,1139.3L861.6,1146.3ZM869.4,1140.8L874.5,1138.1L874.6,1143.5L869.5,1146.3Z" fill="#9b2020"/>
<path d="M873.1,1113.6L898.2,1100.6L898.2,1106.0L873.2,1119.0ZM873.2,1117.8L898.2,1104.8L898.2,1110.1L873.2,1123.2ZM873.2,1121.9L898.2,1108.9L898.1,1114.2L873.2,1127.4ZM873.2,1126.1L898.2,1113.0L898.1,1118.4L873.3,1131.6ZM873.3,1130.3L898.1,1117.1L898.1,1122.5L873.3,1135.8ZM873.3,1134.5L898.1,1121.3L898.1,1126.6L873.4,1140.0ZM873.3,1138.7L898.1,1125.4L898.0,1130.8L873.4,1144.2ZM873.4,1142.9L898.0,1129.5L898.0,1134.9L873.4,1148.3ZM885.1,1140.7L898.0,1133.6L898.0,1139.0L885.1,1146.1Z" fill="#084474"/>
<path d="M897.0,1101.2L938.1,1080.1L937.9,1085.3L897.0,1106.6ZM897.0,1105.4L938.0,1084.1L937.8,1089.3L897.0,1110.7ZM897.0,1109.5L937.9,1088.1L937.7,1093.4L897.0,1114.9ZM897.0,1113.6L937.7,1092.2L937.5,1097.4L896.9,1119.0ZM896.9,1117.8L937.6,1096.2L937.4,1101.4L896.9,1123.1ZM896.9,1121.9L937.5,1100.2L937.3,1105.5L896.9,1127.3ZM896.9,1126.0L937.3,1104.2L937.2,1109.5L896.9,1131.4ZM869.5,1145.0L874.6,1142.3L874.6,1147.7L869.5,1150.5ZM896.9,1130.2L937.2,1108.3L937.0,1113.5L896.8,1135.5ZM881.2,1142.8L886.3,1140.0L886.3,1145.4L881.3,1148.2ZM896.8,1134.3L933.2,1114.4L933.0,1119.7L896.8,1139.6ZM826.7,1177.0L831.8,1174.2L832.0,1179.8L826.9,1182.6ZM896.8,1138.4L929.1,1120.6L929.0,1125.9L896.8,1143.8ZM819.1,1185.6L824.2,1182.8L824.4,1188.4L819.4,1191.3ZM826.9,1181.3L835.8,1176.4L836.0,1181.9L827.1,1186.9ZM900.7,1140.4L925.1,1126.8L925.0,1132.1L900.6,1145.7ZM904.5,1142.3L921.2,1133.0L921.1,1138.3L904.5,1147.7ZM850.4,1176.9L855.4,1174.1L855.5,1179.6L850.5,1182.4ZM904.5,1146.5L913.4,1141.4L913.3,1146.8L904.4,1151.8ZM889.0,1159.3L894.0,1156.5L894.0,1161.8L889.0,1164.7ZM892.9,1161.3L897.8,1158.4L897.8,1163.8L892.8,1166.6ZM908.2,1152.5L913.2,1149.6L913.1,1154.9L908.1,1157.8ZM908.2,1156.6L913.1,1153.7L913.1,1159.0L908.1,1161.9ZM904.3,1162.9L916.9,1155.6L916.8,1160.9L904.2,1168.2ZM908.1,1164.8L935.9,1148.5L935.7,1153.8L908.0,1170.1ZM908.0,1168.9L935.7,1152.6L935.6,1157.8L907.9,1174.2ZM907.9,1173.0L935.6,1156.6L935.4,1161.8L907.9,1178.3ZM885.2,1190.6L893.9,1185.4L893.9,1190.8L885.2,1196.0ZM907.9,1177.1L935.5,1160.6L935.3,1165.8L907.8,1182.4ZM832.5,1226.5L841.1,1221.3L841.3,1226.8L832.6,1232.1ZM877.7,1199.3L882.6,1196.3L882.6,1201.8L877.7,1204.7ZM907.8,1181.2L935.3,1164.6L935.2,1169.9L907.8,1186.5ZM821.3,1237.6L841.2,1225.5L841.4,1231.1L821.6,1243.2ZM904.0,1187.5L935.2,1168.7L935.0,1173.9L904.0,1192.9ZM829.0,1237.4L837.6,1232.1L837.8,1237.7L829.2,1243.0ZM907.7,1189.4L935.1,1172.7L934.9,1177.9L907.6,1194.7ZM836.6,1237.1L841.5,1234.1L841.7,1239.6L836.8,1242.6ZM918.9,1186.6L934.9,1176.7L934.8,1182.0L918.8,1191.9ZM844.2,1236.8L849.1,1233.8L849.2,1239.3L844.4,1242.3ZM926.2,1186.0L934.8,1180.7L934.6,1186.0L926.1,1191.3ZM851.8,1236.4L856.6,1233.4L856.7,1238.9L851.9,1241.9ZM929.9,1187.8L934.7,1184.8L934.5,1190.0L929.7,1193.0ZM822.2,1259.2L827.1,1256.2L827.3,1261.8L822.5,1264.9ZM851.9,1240.6L856.7,1237.6L856.8,1243.1L852.0,1246.2ZM929.7,1191.8L934.6,1188.8L934.4,1194.0L929.6,1197.1ZM822.4,1263.6L830.9,1258.2L831.1,1263.8L822.7,1269.2ZM852.0,1244.9L860.5,1239.5L860.6,1245.0L852.1,1250.4ZM855.8,1246.8L860.6,1243.7L860.7,1249.2L855.9,1252.3ZM852.2,1253.4L879.0,1236.2L879.1,1241.6L852.3,1258.9ZM888.9,1229.8L893.7,1226.8L893.7,1232.2L888.9,1235.2ZM852.3,1257.6L864.4,1249.8L864.5,1255.3L852.4,1263.2ZM888.9,1234.0L893.7,1230.9L893.7,1236.3L888.9,1239.4ZM892.6,1239.9L897.3,1236.8L897.3,1242.2L892.6,1245.3ZM856.3,1272.2L864.7,1266.7L864.7,1272.2L856.4,1277.7Z" fill="#8a8d90"/>
<path d="M853.6,1145.0L862.7,1140.2L862.8,1145.7L853.7,1150.6ZM849.8,1151.4L870.6,1140.2L870.7,1145.6L849.9,1156.9ZM846.0,1157.8L870.6,1144.4L870.7,1149.8L846.1,1163.3ZM838.3,1166.3L859.0,1155.0L859.1,1160.5L838.5,1171.9ZM830.6,1174.9L859.1,1159.2L859.1,1164.7L830.8,1180.5ZM834.7,1177.0L859.1,1163.4L859.2,1168.9L834.8,1182.6ZM838.7,1179.1L859.2,1167.7L859.3,1173.2L838.8,1184.7ZM854.3,1174.7L859.3,1171.9L859.4,1177.4L854.4,1180.2Z" fill="#a55d44"/>
<path d="M857.8,1155.6L882.4,1142.2L882.4,1147.6L857.9,1161.1ZM857.9,1159.9L882.4,1146.3L882.4,1151.8L858.0,1165.4ZM858.0,1164.1L886.3,1148.4L886.3,1153.8L858.1,1169.6ZM858.0,1168.3L886.3,1152.5L886.3,1157.9L858.1,1173.8ZM858.1,1172.5L890.2,1154.5L890.2,1159.9L858.2,1178.0ZM858.2,1176.8L890.2,1158.6L890.2,1164.0L858.3,1182.3ZM862.1,1178.8L890.2,1162.8L890.2,1168.2L862.2,1184.3ZM862.2,1183.0L890.2,1166.9L890.1,1172.3L862.3,1188.5ZM862.3,1187.2L890.2,1171.1L890.1,1176.5L862.3,1192.7ZM862.3,1191.5L890.1,1175.2L890.1,1180.6L862.4,1197.0ZM862.4,1195.7L890.1,1179.4L890.1,1184.8L862.5,1201.2ZM862.5,1199.9L890.1,1183.5L890.1,1188.9L862.6,1205.4ZM866.3,1201.9L886.3,1189.9L886.3,1195.3L866.4,1207.3ZM873.9,1201.6L878.8,1198.6L878.8,1204.0L874.0,1207.0Z" fill="#80897a"/>
<path d="M932.0,1115.1L937.1,1112.3L936.9,1117.5L931.8,1120.3ZM928.0,1121.3L936.9,1116.3L936.8,1121.6L927.8,1126.5ZM924.0,1127.5L936.8,1120.4L936.6,1125.6L923.9,1132.7ZM920.0,1133.7L936.7,1124.4L936.5,1129.6L919.9,1139.0ZM912.2,1142.1L936.5,1128.4L936.4,1133.6L912.1,1147.4ZM908.3,1148.4L936.4,1132.4L936.2,1137.7L908.2,1153.7ZM912.1,1150.3L936.3,1136.5L936.1,1141.7L912.0,1155.6ZM912.0,1154.4L936.1,1140.5L936.0,1145.7L911.9,1159.7ZM915.8,1156.2L936.0,1144.5L935.8,1149.7L915.7,1161.5Z" fill="#2c3843"/>
<path d="M881.2,1147.0L898.0,1137.8L898.0,1143.1L881.3,1152.4ZM885.1,1149.0L901.8,1139.7L901.8,1145.1L885.2,1154.4ZM885.2,1153.2L905.7,1141.7L905.6,1147.0L885.2,1158.6ZM889.0,1155.1L905.6,1145.8L905.6,1151.1L889.0,1160.5ZM892.9,1157.1L909.4,1147.7L909.4,1153.0L892.9,1162.5ZM896.7,1159.1L909.4,1151.8L909.3,1157.1L896.7,1164.4ZM900.5,1161.0L909.3,1155.9L909.2,1161.2L900.5,1166.3Z" fill="#5d2055"/>
<path d="M795.8,1198.6L804.8,1193.6L805.0,1199.3L796.1,1204.3ZM796.1,1202.9L812.7,1193.6L813.0,1199.3L796.4,1208.7ZM796.3,1207.3L816.8,1195.8L817.0,1201.4L796.6,1213.0ZM796.6,1211.7L820.8,1198.0L821.1,1203.6L796.9,1217.4ZM796.8,1216.1L824.9,1200.1L825.1,1205.7L797.1,1221.8ZM797.1,1220.5L825.0,1204.4L825.2,1210.0L797.4,1226.2ZM797.3,1224.9L829.0,1206.5L829.2,1212.1L797.6,1230.6ZM797.5,1229.3L833.0,1208.6L833.2,1214.2L797.9,1235.0ZM797.8,1233.7L833.1,1212.9L833.3,1218.5L798.1,1239.4ZM798.0,1238.1L837.1,1214.9L837.3,1220.5L798.4,1243.8ZM802.1,1240.2L837.2,1219.2L837.4,1224.8L802.4,1245.9ZM813.6,1237.8L833.6,1225.8L833.8,1231.4L813.9,1243.4Z" fill="#6d929b"/>
<path d="M823.0,1183.5L828.1,1180.7L828.3,1186.3L823.2,1189.1ZM811.6,1194.3L839.8,1178.5L840.0,1184.0L811.8,1199.9ZM815.6,1196.5L851.6,1176.2L851.7,1181.8L815.9,1202.1ZM819.7,1198.6L859.4,1176.1L859.5,1181.6L819.9,1204.2ZM823.7,1200.8L863.3,1178.2L863.4,1183.6L823.9,1206.4ZM823.9,1205.1L863.3,1182.4L863.4,1187.8L824.1,1210.7ZM827.9,1207.2L863.4,1186.6L863.5,1192.1L828.1,1212.8ZM831.8,1209.3L863.5,1190.8L863.6,1196.3L832.0,1214.9ZM832.0,1213.6L863.5,1195.0L863.6,1200.5L832.2,1219.2ZM835.9,1215.6L863.6,1199.2L863.7,1204.7L836.1,1221.2ZM836.1,1219.9L859.9,1205.7L860.0,1211.2L836.3,1225.5ZM840.0,1221.9L856.2,1212.2L856.3,1217.7L840.2,1227.5ZM840.1,1226.2L852.5,1218.7L852.7,1224.2L840.3,1231.8Z" fill="#08183d"/>
<path d="M889.0,1163.4L894.0,1160.6L894.0,1166.0L889.0,1168.8ZM889.0,1167.6L901.7,1160.3L901.6,1165.7L889.0,1173.0ZM889.0,1171.7L905.4,1162.2L905.4,1167.6L889.0,1177.1ZM889.0,1175.9L909.2,1164.1L909.1,1169.4L889.0,1181.3ZM889.0,1180.0L909.1,1168.2L909.1,1173.5L889.0,1185.4ZM889.0,1184.2L909.1,1172.3L909.0,1177.6L889.0,1189.6ZM892.8,1186.1L909.0,1176.4L908.9,1181.7L892.8,1191.5ZM900.3,1185.7L909.0,1180.5L908.9,1185.8L900.2,1191.1Z" fill="#8c1818"/>
<path d="M798.3,1242.5L803.2,1239.5L803.5,1245.2L798.6,1248.2ZM798.5,1246.8L814.7,1237.1L815.0,1242.8L798.9,1252.6ZM798.8,1251.2L822.5,1236.9L822.7,1242.5L799.1,1256.9ZM799.0,1255.6L830.1,1236.7L830.3,1242.3L799.3,1261.3ZM799.3,1260.0L837.8,1236.4L837.9,1242.0L799.6,1265.7ZM799.5,1264.4L834.2,1243.0L834.4,1248.6L799.8,1270.1ZM799.8,1268.8L830.6,1249.6L830.8,1255.2L800.1,1274.5ZM800.0,1273.2L823.4,1258.5L823.6,1264.2L800.3,1278.9ZM811.3,1270.6L819.8,1265.2L820.1,1270.8L811.6,1276.2Z" fill="#8c9580"/>
<path d="M858.8,1206.4L867.4,1201.2L867.5,1206.7L858.9,1211.9ZM855.1,1212.9L875.0,1200.9L875.1,1206.3L855.2,1218.4ZM881.4,1197.0L901.4,1185.0L901.4,1190.4L881.5,1202.4ZM851.4,1219.4L905.1,1186.9L905.1,1192.2L851.5,1224.9ZM851.5,1223.6L901.3,1193.3L901.3,1198.6L851.6,1229.2ZM851.6,1227.9L901.3,1197.4L901.3,1202.7L851.7,1233.4ZM851.7,1232.1L901.3,1201.5L901.2,1206.8L851.8,1237.7ZM855.5,1234.1L897.5,1207.9L897.5,1213.3L855.6,1239.6ZM855.6,1238.3L897.5,1212.0L897.4,1217.4L855.7,1243.8ZM859.4,1240.2L897.5,1216.2L897.4,1221.5L859.5,1245.7ZM859.5,1244.5L897.4,1220.3L897.4,1225.7L859.6,1250.0ZM885.3,1232.2L890.1,1229.1L890.0,1234.5L885.3,1237.6Z" fill="#928c61"/>
<path d="M836.5,1232.8L852.6,1223.0L852.7,1228.5L836.7,1238.4ZM840.4,1234.8L852.7,1227.2L852.8,1232.7L840.6,1240.3ZM848.0,1234.4L852.8,1231.5L852.9,1237.0L848.1,1240.0Z" fill="#0c5549"/>
<path d="M900.2,1193.9L908.8,1188.7L908.8,1194.0L900.2,1199.3ZM900.2,1198.1L920.0,1185.9L919.9,1191.2L900.1,1203.4ZM900.2,1202.2L927.4,1185.4L927.2,1190.6L900.1,1207.5ZM896.4,1208.6L931.0,1187.1L930.8,1192.3L896.4,1214.0ZM896.4,1212.7L930.8,1191.1L930.7,1196.4L896.3,1218.1ZM896.3,1216.9L923.3,1199.8L923.2,1205.1L896.3,1222.2ZM896.3,1221.0L923.2,1203.9L923.1,1209.2L896.3,1226.4ZM892.6,1227.5L923.1,1207.9L923.0,1213.2L892.6,1232.9ZM892.6,1231.6L919.4,1214.4L919.2,1219.6L892.6,1237.0ZM892.6,1235.8L919.3,1218.4L919.2,1223.7L892.6,1241.1ZM896.2,1237.5L919.2,1222.5L919.1,1227.8L896.2,1242.9ZM896.2,1241.7L919.1,1226.6L919.0,1231.8L896.2,1247.0ZM896.2,1245.8L919.0,1230.6L918.9,1235.9L896.1,1251.1Z" fill="#984f38"/>
<path d="M833.1,1243.7L845.4,1236.1L845.5,1241.6L833.3,1249.3ZM829.5,1250.3L852.9,1235.7L853.0,1241.2L829.7,1255.9ZM826.0,1256.9L853.0,1239.9L853.1,1245.5L826.2,1262.5ZM829.8,1258.9L853.1,1244.2L853.2,1249.7L830.0,1264.5ZM830.0,1263.2L856.9,1246.1L857.0,1251.6L830.2,1268.8ZM841.2,1260.5L853.3,1252.7L853.4,1258.2L841.3,1266.0Z" fill="#92613d"/>
<path d="M800.3,1277.6L812.5,1269.9L812.7,1275.5L800.6,1283.3ZM800.5,1282.0L820.0,1269.5L820.3,1275.2L800.8,1287.7ZM800.7,1286.4L820.2,1273.9L820.5,1279.5L801.1,1292.1ZM801.0,1290.8L820.4,1278.2L820.7,1283.9L801.3,1296.5ZM801.2,1295.1L820.6,1282.6L820.9,1288.2L801.6,1300.8ZM801.5,1299.5L820.8,1286.9L821.0,1292.5L801.8,1305.2ZM801.7,1303.9L821.0,1291.2L821.2,1296.9L802.0,1309.6ZM802.0,1308.3L821.2,1295.6L821.4,1301.2L802.3,1314.0Z" fill="#382c80"/>
<path d="M818.7,1265.9L823.5,1262.9L823.8,1268.5L819.0,1271.5ZM818.9,1270.2L831.1,1262.5L831.3,1268.1L819.2,1275.9ZM819.1,1274.6L842.3,1259.8L842.4,1265.3L819.4,1280.2ZM819.3,1278.9L853.4,1256.9L853.5,1262.5L819.6,1284.6ZM819.5,1283.3L853.5,1261.2L853.6,1266.7L819.8,1288.9ZM819.7,1287.6L853.6,1265.4L853.7,1270.9L820.0,1293.2ZM819.9,1291.9L853.7,1269.7L853.8,1275.2L820.1,1297.6ZM820.1,1296.3L857.4,1271.5L857.5,1277.0L820.3,1301.9Z" fill="#2c373d"/>
<path d="M922.2,1200.5L934.4,1192.8L934.2,1198.1L922.1,1205.8ZM922.1,1204.6L934.3,1196.8L934.1,1202.1L922.0,1209.9ZM922.0,1208.6L934.2,1200.9L934.0,1206.1L921.9,1213.9ZM918.3,1215.1L934.0,1204.9L933.9,1210.1L918.2,1220.4ZM918.2,1219.1L933.9,1208.9L933.7,1214.2L918.1,1224.4ZM918.1,1223.2L933.8,1213.0L933.6,1218.2L918.0,1228.5ZM918.0,1227.3L933.6,1217.0L933.5,1222.2L917.9,1232.6ZM917.9,1231.3L933.5,1221.0L933.3,1226.2L917.8,1236.6Z" fill="#516774"/>
<path d="M877.9,1236.9L886.4,1231.5L886.4,1236.9L878.0,1242.3ZM863.3,1250.5L890.0,1233.3L890.0,1238.7L863.4,1256.0ZM852.4,1261.9L893.7,1235.1L893.7,1240.4L852.5,1267.4ZM852.5,1266.1L893.7,1239.2L893.7,1244.6L852.6,1271.7ZM852.6,1270.4L897.3,1240.9L897.3,1246.3L852.7,1275.9ZM863.6,1267.4L897.3,1245.1L897.2,1250.4L863.7,1272.9Z" fill="#141461"/>
<path d="M798.0,1152.9L806.4,1310.6M794.2,1159.4L937.4,1085.0M802.0,1150.9L810.0,1308.2M794.5,1163.8L937.2,1089.1M806.0,1148.8L813.6,1305.8M794.7,1168.2L937.1,1093.1M809.9,1146.8L817.2,1303.3M795.0,1172.6L937.0,1097.1M813.9,1144.7L820.9,1300.9M795.2,1176.9L936.8,1101.1M817.9,1142.7L824.5,1298.5M795.5,1181.3L936.7,1105.2M821.9,1140.6L828.1,1296.1M795.7,1185.7L936.6,1109.2M825.9,1138.6L831.7,1293.7M796.0,1190.1L936.5,1113.2M829.9,1136.5L835.3,1291.2M796.2,1194.5L936.3,1117.2M833.9,1134.4L838.9,1288.8M796.4,1198.9L936.2,1121.3M837.8,1132.4L842.5,1286.4M796.7,1203.3L936.1,1125.3M841.8,1130.3L846.1,1284.0M796.9,1207.7L935.9,1129.3M845.8,1128.3L849.7,1281.6M797.2,1212.1L935.8,1133.4M849.8,1126.2L853.4,1279.2M797.4,1216.4L935.7,1137.4M853.8,1124.2L857.0,1276.8M797.7,1220.8L935.5,1141.4M857.8,1122.1L860.6,1274.3M797.9,1225.2L935.4,1145.4M861.8,1120.1L864.2,1271.9M798.2,1229.6L935.3,1149.5M865.8,1118.0L867.8,1269.5M798.4,1234.0L935.1,1153.5M869.7,1115.9L871.4,1267.1M798.6,1238.4L935.0,1157.5M873.7,1113.9L875.0,1264.7M798.9,1242.8L934.9,1161.6M877.7,1111.8L878.6,1262.2M799.1,1247.2L934.8,1165.6M881.7,1109.8L882.2,1259.8M799.4,1251.6L934.6,1169.6M885.7,1107.7L885.9,1257.4M799.6,1255.9L934.5,1173.6M889.7,1105.7L889.5,1255.0M799.9,1260.3L934.4,1177.7M893.7,1103.6L893.1,1252.6M800.1,1264.7L934.2,1181.7M897.6,1101.6L896.7,1250.2M800.4,1269.1L934.1,1185.7M901.6,1099.5L900.3,1247.8M800.6,1273.5L934.0,1189.8M905.6,1097.4L903.9,1245.3M800.8,1277.9L933.8,1193.8M909.6,1095.4L907.5,1242.9M801.1,1282.3L933.7,1197.8M913.6,1093.3L911.1,1240.5M801.3,1286.7L933.6,1201.8M917.6,1091.3L914.7,1238.1M801.6,1291.1L933.5,1205.9M921.6,1089.2L918.4,1235.7M801.8,1295.4L933.3,1209.9M925.5,1087.2L922.0,1233.2M802.1,1299.8L933.2,1213.9M929.5,1085.1L925.6,1230.8M802.3,1304.2L933.1,1217.9M933.5,1083.1L929.2,1228.4M802.6,1308.6L932.9,1222.0" stroke="#102028" stroke-opacity="0.36" stroke-width="1.50" fill="none"/>
<polygon points="1096.2,1079.8 1243.6,1012.6 1377.9,1080.9 1370.8,1230.3 1235.6,1321.0 1116.4,1232.3" fill="#6e7b7e"/>
<path d="M1095.3,1079.8L1154.6,1052.8L1158.2,1054.8L1098.9,1081.9ZM1098.1,1081.4L1157.4,1054.3L1160.9,1056.3L1101.6,1083.5ZM1100.8,1083.0L1160.1,1055.8L1163.7,1057.8L1104.4,1085.1ZM1103.5,1084.6L1162.9,1057.4L1166.5,1059.4L1107.1,1086.7ZM1106.3,1086.3L1165.6,1058.9L1169.2,1060.9L1109.8,1088.4ZM1109.0,1087.9L1165.3,1061.9L1168.9,1063.9L1112.6,1090.0ZM1111.7,1089.5L1168.1,1063.4L1171.7,1065.4L1115.3,1091.6ZM1114.5,1091.1L1170.8,1065.0L1174.4,1067.0L1118.0,1093.2ZM1117.2,1092.7L1173.6,1066.5L1177.2,1068.5L1120.8,1094.8ZM1172.3,1069.9L1176.4,1068.1L1179.9,1070.1L1175.9,1072.0Z" fill="#0f7560"/>
<path d="M1153.7,1053.2L1200.7,1031.8L1204.3,1033.7L1157.3,1055.2ZM1156.4,1054.7L1203.4,1033.2L1207.0,1035.2L1160.0,1056.7ZM1159.2,1056.3L1206.2,1034.7L1209.8,1036.7L1162.8,1058.3ZM1162.0,1057.8L1205.9,1037.6L1209.5,1039.5L1165.5,1059.8ZM1164.7,1059.4L1208.7,1039.1L1212.3,1041.0L1168.3,1061.4ZM1164.4,1062.3L1208.4,1042.0L1212.0,1043.9L1168.0,1064.3ZM1167.2,1063.9L1211.2,1043.5L1214.8,1045.4L1170.7,1065.9ZM1173.0,1064.0L1210.9,1046.4L1214.5,1048.4L1176.6,1066.0ZM1175.8,1065.5L1210.6,1049.3L1214.2,1051.3L1179.3,1067.5ZM1178.5,1067.1L1213.3,1050.8L1216.9,1052.8L1182.1,1069.1ZM1190.5,1064.3L1206.9,1056.7L1210.5,1058.6L1194.1,1066.3ZM1193.3,1065.8L1203.5,1061.1L1207.1,1063.0L1196.9,1067.8Z" fill="#5b40b5"/>
<path d="M1199.7,1032.2L1219.1,1023.4L1222.7,1025.3L1203.3,1034.1ZM1202.5,1033.7L1218.8,1026.2L1222.4,1028.1L1206.1,1035.6ZM1205.3,1035.2L1221.6,1027.7L1225.2,1029.6L1208.9,1037.1ZM1205.0,1038.0L1221.3,1030.6L1224.9,1032.5L1208.6,1040.0ZM1207.8,1039.5L1224.1,1032.0L1227.7,1033.9L1211.4,1041.5ZM1207.5,1042.4L1223.8,1034.9L1227.4,1036.8L1211.1,1044.4ZM1210.3,1043.9L1226.6,1036.4L1230.2,1038.3L1213.9,1045.9ZM1213.0,1045.4L1229.4,1037.8L1233.0,1039.8L1216.6,1047.3ZM1215.8,1046.9L1232.1,1039.3L1235.8,1041.2L1219.4,1048.8Z" fill="#a3a7c8"/>
<path d="M1218.2,1023.8L1243.6,1012.2L1247.3,1014.0L1221.8,1025.7ZM1217.9,1026.7L1246.4,1013.6L1250.1,1015.4L1221.5,1028.6ZM1220.7,1028.1L1249.2,1015.0L1252.9,1016.9L1224.3,1030.0ZM1220.4,1031.0L1252.0,1016.4L1255.7,1018.3L1224.0,1032.9ZM1223.2,1032.4L1254.8,1017.9L1258.5,1019.7L1226.8,1034.4ZM1222.9,1035.3L1257.6,1019.3L1261.3,1021.1L1226.5,1037.2ZM1225.6,1036.8L1260.4,1020.7L1264.1,1022.6L1229.3,1038.7ZM1228.4,1038.3L1260.1,1023.6L1263.8,1025.4L1232.0,1040.2ZM1231.2,1039.7L1259.9,1026.4L1263.5,1028.3L1234.8,1041.7ZM1234.0,1041.2L1259.6,1029.3L1263.2,1031.2L1237.6,1043.1ZM1239.9,1041.2L1259.3,1032.2L1262.9,1034.0L1243.5,1043.1ZM1248.8,1039.8L1255.9,1036.5L1259.5,1038.4L1252.4,1041.7Z" fill="#e2876a"/>
<path d="M1169.9,1065.4L1173.9,1063.6L1177.5,1065.6L1173.5,1067.4ZM1209.9,1046.8L1214.0,1045.0L1217.6,1046.9L1213.6,1048.8ZM1259.2,1024.0L1263.2,1022.1L1266.9,1024.0L1262.9,1025.8ZM1172.7,1067.0L1176.7,1065.1L1180.3,1067.1L1176.3,1069.0ZM1209.6,1049.8L1213.6,1047.9L1217.3,1049.8L1213.2,1051.7ZM1258.9,1026.8L1266.0,1023.6L1269.7,1025.4L1262.6,1028.7ZM1175.4,1068.5L1179.4,1066.6L1183.0,1068.6L1179.0,1070.5ZM1227.8,1044.1L1234.9,1040.8L1238.5,1042.7L1231.4,1046.0ZM1258.7,1029.7L1268.8,1025.0L1272.5,1026.8L1262.3,1031.6ZM1178.2,1070.1L1188.4,1065.3L1192.0,1067.3L1181.8,1072.1ZM1205.9,1057.1L1213.0,1053.8L1216.6,1055.7L1209.5,1059.0ZM1258.4,1032.6L1271.6,1026.4L1275.3,1028.2L1262.0,1034.5ZM1202.5,1061.5L1215.8,1055.3L1219.4,1057.2L1206.1,1063.5ZM1255.0,1036.9L1274.4,1027.8L1278.1,1029.7L1258.6,1038.8ZM1196.0,1067.3L1203.1,1064.0L1206.7,1066.0L1199.6,1069.3ZM1214.6,1058.7L1218.6,1056.8L1222.2,1058.7L1218.2,1060.6ZM1254.7,1039.8L1277.2,1029.2L1280.9,1031.1L1258.3,1041.7ZM1257.5,1041.3L1280.0,1030.7L1283.7,1032.5L1261.1,1043.2ZM1198.5,1071.9L1202.5,1070.0L1206.1,1072.0L1202.1,1073.9ZM1263.4,1041.3L1282.8,1032.1L1286.5,1033.9L1267.0,1043.2ZM1198.2,1074.9L1202.2,1073.0L1205.8,1075.0L1201.8,1076.9ZM1266.1,1042.7L1285.6,1033.5L1289.3,1035.4L1269.8,1044.6ZM1185.5,1083.7L1189.5,1081.8L1193.1,1083.8L1189.0,1085.8ZM1200.9,1076.4L1204.9,1074.5L1208.5,1076.5L1204.5,1078.4ZM1268.9,1044.2L1288.4,1034.9L1292.0,1036.8L1272.6,1046.0ZM1185.1,1086.8L1189.1,1084.8L1192.7,1086.9L1188.7,1088.8ZM1268.6,1047.1L1291.2,1036.4L1294.8,1038.2L1272.3,1049.0ZM1181.7,1091.3L1191.9,1086.4L1195.5,1088.4L1185.3,1093.3ZM1271.4,1048.5L1294.0,1037.8L1297.6,1039.6L1275.0,1050.4ZM1181.3,1094.3L1203.9,1083.5L1207.5,1085.5L1184.9,1096.4ZM1252.5,1060.3L1265.9,1054.0L1269.5,1055.9L1256.2,1062.3ZM1271.1,1051.5L1296.8,1039.2L1300.4,1041.0L1274.7,1053.4ZM1171.7,1101.8L1175.7,1099.9L1179.3,1102.0L1175.3,1103.9ZM1184.1,1095.9L1212.9,1082.1L1216.5,1084.1L1187.7,1097.9ZM1255.3,1061.8L1259.3,1059.9L1263.0,1061.8L1258.9,1063.7ZM1270.8,1054.4L1299.6,1040.6L1303.2,1042.5L1274.4,1056.3ZM1159.0,1110.8L1163.0,1108.9L1166.6,1111.0L1162.5,1112.9ZM1189.9,1096.0L1215.7,1083.7L1219.2,1085.7L1193.5,1098.0ZM1258.1,1063.3L1262.1,1061.4L1265.7,1063.3L1261.7,1065.2ZM1276.7,1054.4L1302.4,1042.0L1306.0,1043.9L1280.3,1056.3ZM1195.8,1096.1L1218.4,1085.2L1222.0,1087.2L1199.4,1098.1ZM1260.9,1064.8L1264.9,1062.8L1268.5,1064.8L1264.5,1066.7ZM1279.5,1055.8L1305.2,1043.5L1308.8,1045.3L1283.1,1057.7ZM1198.5,1097.6L1227.4,1083.7L1231.0,1085.7L1202.1,1099.7ZM1263.7,1066.3L1267.7,1064.3L1271.3,1066.2L1267.3,1068.2ZM1282.3,1057.3L1308.0,1044.9L1311.6,1046.7L1285.9,1059.2ZM1201.3,1099.2L1233.2,1083.8L1236.8,1085.8L1204.9,1101.2ZM1266.4,1067.7L1270.5,1065.8L1274.1,1067.7L1270.1,1069.7ZM1288.2,1057.2L1310.8,1046.3L1314.4,1048.2L1291.8,1059.1ZM1204.1,1100.8L1239.1,1083.8L1242.7,1085.8L1207.6,1102.8ZM1269.2,1069.2L1273.3,1067.3L1276.9,1069.2L1272.8,1071.1ZM1294.0,1057.2L1313.6,1047.7L1317.2,1049.6L1297.7,1059.1ZM1206.8,1102.3L1248.1,1082.3L1251.7,1084.3L1210.4,1104.4ZM1272.0,1070.7L1276.0,1068.7L1279.6,1070.7L1275.6,1072.6ZM1296.8,1058.6L1316.4,1049.2L1320.0,1051.0L1300.5,1060.5ZM1209.6,1103.9L1250.9,1083.8L1254.5,1085.8L1213.1,1105.9ZM1274.8,1072.2L1278.8,1070.2L1282.4,1072.1L1278.4,1074.1ZM1302.7,1058.6L1319.2,1050.6L1322.8,1052.4L1306.4,1060.5ZM1212.3,1105.5L1253.6,1085.3L1257.2,1087.3L1215.9,1107.5ZM1277.6,1073.7L1281.6,1071.7L1285.2,1073.6L1281.2,1075.6ZM1308.6,1058.5L1322.0,1052.0L1325.6,1053.8L1312.3,1060.4ZM1212.0,1108.6L1256.4,1086.8L1260.0,1088.8L1215.5,1110.6ZM1277.2,1076.7L1284.4,1073.2L1288.0,1075.1L1280.8,1078.6ZM1311.4,1060.0L1324.8,1053.4L1328.4,1055.3L1315.1,1061.8ZM1214.7,1110.1L1240.5,1097.5L1244.1,1099.5L1218.3,1112.2ZM1245.8,1094.9L1253.0,1091.4L1256.5,1093.4L1249.4,1096.9ZM1258.2,1088.8L1262.3,1086.8L1265.9,1088.8L1261.8,1090.8ZM1280.0,1078.1L1287.2,1074.6L1290.8,1076.6L1283.6,1080.1ZM1314.2,1061.4L1327.6,1054.8L1331.2,1056.7L1317.8,1063.3ZM1180.1,1130.0L1184.2,1128.0L1187.7,1130.1L1183.7,1132.1ZM1214.3,1113.2L1240.2,1100.6L1243.8,1102.6L1217.9,1115.3ZM1251.7,1094.9L1255.7,1092.9L1259.3,1094.9L1255.3,1096.9ZM1282.8,1079.6L1289.9,1076.1L1293.6,1078.0L1286.4,1081.6ZM1313.9,1064.4L1330.4,1056.3L1334.0,1058.1L1317.5,1066.2ZM1182.9,1131.7L1186.9,1129.7L1190.5,1131.8L1186.4,1133.8ZM1217.1,1114.8L1239.8,1103.6L1243.4,1105.6L1220.7,1116.9ZM1288.7,1079.6L1295.8,1076.1L1299.5,1078.0L1292.3,1081.5ZM1310.5,1068.9L1333.2,1057.7L1336.8,1059.5L1314.1,1070.8ZM1185.6,1133.3L1189.6,1131.3L1193.2,1133.4L1189.1,1135.4ZM1219.8,1116.4L1239.5,1106.7L1243.0,1108.7L1223.4,1118.4ZM1291.5,1081.1L1298.6,1077.5L1302.2,1079.5L1295.1,1083.0ZM1300.8,1076.5L1336.0,1059.1L1339.6,1061.0L1304.4,1078.4ZM1188.3,1134.9L1192.4,1132.9L1195.9,1135.0L1191.9,1137.0ZM1228.8,1114.9L1242.2,1108.3L1245.8,1110.3L1232.4,1116.9ZM1294.2,1082.6L1338.8,1060.5L1342.4,1062.4L1297.8,1084.5ZM1191.1,1136.5L1195.1,1134.5L1198.7,1136.6L1194.6,1138.6ZM1234.7,1114.9L1245.0,1109.8L1248.6,1111.8L1238.3,1116.9ZM1300.1,1082.5L1341.6,1062.0L1345.2,1063.8L1303.7,1084.4ZM1193.8,1138.1L1197.8,1136.1L1201.4,1138.2L1197.4,1140.2ZM1240.6,1114.9L1247.7,1111.4L1251.3,1113.4L1244.1,1116.9ZM1309.1,1080.9L1344.4,1063.4L1348.0,1065.2L1312.8,1082.8ZM1196.5,1139.8L1200.6,1137.7L1204.1,1139.8L1200.1,1141.9ZM1243.3,1116.5L1250.5,1112.9L1254.1,1114.9L1246.9,1118.5ZM1321.3,1077.7L1347.2,1064.8L1350.8,1066.7L1324.9,1079.6ZM1199.3,1141.4L1203.3,1139.4L1206.9,1141.5L1202.8,1143.5ZM1249.2,1116.5L1253.2,1114.5L1256.8,1116.5L1252.8,1118.5ZM1333.4,1074.5L1350.0,1066.2L1353.6,1068.1L1337.1,1076.3ZM1202.0,1143.0L1206.1,1141.0L1209.6,1143.1L1205.6,1145.1ZM1251.9,1118.0L1259.1,1114.5L1262.7,1116.5L1255.5,1120.1ZM1298.8,1094.6L1309.1,1089.5L1312.7,1091.4L1302.4,1096.6ZM1339.3,1074.4L1352.8,1067.6L1356.4,1069.5L1343.0,1076.2ZM1204.7,1144.6L1208.8,1142.6L1212.4,1144.7L1208.3,1146.7ZM1257.8,1118.0L1261.9,1116.0L1265.5,1118.0L1261.4,1120.0ZM1342.1,1075.8L1355.6,1069.1L1359.2,1070.9L1345.8,1077.7ZM1207.5,1146.2L1211.5,1144.2L1215.1,1146.3L1211.0,1148.4ZM1316.8,1091.4L1320.9,1089.3L1324.5,1091.2L1320.4,1093.3ZM1348.1,1075.7L1358.4,1070.5L1362.0,1072.3L1351.7,1077.5ZM1266.5,1119.6L1270.5,1117.5L1274.1,1119.5L1270.1,1121.6ZM1350.8,1077.1L1361.2,1071.9L1364.8,1073.8L1354.5,1079.0ZM1356.8,1077.0L1364.0,1073.3L1367.6,1075.2L1360.4,1078.8ZM1275.1,1121.1L1279.2,1119.0L1282.8,1121.0L1278.7,1123.1ZM1359.6,1078.4L1366.8,1074.8L1370.4,1076.6L1363.2,1080.3ZM1324.8,1098.8L1328.9,1096.8L1332.5,1098.7L1328.4,1100.8ZM1365.5,1078.2L1369.6,1076.2L1373.2,1078.0L1369.1,1080.1ZM1283.8,1122.6L1287.8,1120.5L1291.4,1122.5L1287.3,1124.6ZM1327.6,1100.3L1331.7,1098.3L1335.3,1100.2L1331.2,1102.3ZM1368.3,1079.7L1372.4,1077.6L1376.0,1079.5L1371.9,1081.5ZM1286.5,1124.1L1290.6,1122.0L1294.2,1124.0L1290.1,1126.1Z" fill="#aabcb7"/>
<path d="M1212.7,1048.3L1216.7,1046.5L1220.3,1048.4L1216.3,1050.3ZM1212.4,1051.3L1228.8,1043.7L1232.4,1045.6L1216.0,1053.2ZM1212.1,1054.2L1240.8,1040.8L1244.4,1042.7L1215.7,1056.2ZM1214.9,1055.7L1249.7,1039.4L1253.4,1041.3L1218.5,1057.7ZM1217.7,1057.2L1255.6,1039.4L1259.2,1041.3L1221.3,1059.2ZM1220.4,1058.7L1258.4,1040.8L1262.0,1042.7L1224.0,1060.7ZM1226.3,1058.8L1264.3,1040.8L1267.9,1042.7L1229.9,1060.7ZM1232.2,1058.8L1267.1,1042.3L1270.7,1044.2L1235.8,1060.7ZM1238.0,1058.8L1269.9,1043.7L1273.5,1045.6L1241.6,1060.8ZM1240.8,1060.3L1269.6,1046.6L1273.2,1048.5L1244.4,1062.2ZM1246.7,1060.3L1272.3,1048.1L1276.0,1050.0L1250.3,1062.3ZM1268.0,1052.9L1272.0,1051.0L1275.7,1052.9L1271.6,1054.8Z" fill="#d8dab8"/>
<path d="M1119.9,1094.4L1173.3,1069.5L1176.9,1071.5L1123.5,1096.5ZM1122.7,1096.0L1179.1,1069.6L1182.7,1071.6L1126.2,1098.1ZM1128.5,1096.2L1181.9,1071.2L1185.5,1073.2L1132.1,1098.3ZM1134.3,1096.3L1184.6,1072.7L1188.2,1074.7L1137.9,1098.4ZM1140.1,1096.5L1184.3,1075.7L1187.9,1077.7L1143.7,1098.6ZM1146.0,1096.6L1187.1,1077.3L1190.6,1079.3L1149.5,1098.7ZM1151.8,1096.8L1186.7,1080.3L1190.3,1082.3L1155.4,1098.9ZM1157.6,1096.9L1186.4,1083.3L1190.0,1085.3L1161.2,1099.0ZM1166.6,1095.6L1186.1,1086.3L1189.6,1088.3L1170.1,1097.6ZM1172.4,1095.7L1182.6,1090.8L1186.2,1092.9L1176.0,1097.8Z" fill="#bdb367"/>
<path d="M1187.4,1065.7L1191.4,1063.9L1195.0,1065.8L1191.0,1067.7ZM1180.9,1071.6L1194.2,1065.4L1197.8,1067.4L1184.5,1073.6ZM1183.7,1073.1L1197.0,1066.9L1200.6,1068.9L1187.3,1075.2ZM1183.4,1076.1L1199.7,1068.4L1203.3,1070.4L1187.0,1078.2ZM1186.1,1077.7L1199.4,1071.4L1203.0,1073.4L1189.7,1079.7ZM1185.8,1080.7L1199.1,1074.4L1202.7,1076.4L1189.4,1082.7ZM1188.6,1082.3L1201.8,1076.0L1205.4,1078.0L1192.1,1084.3ZM1188.2,1085.3L1204.6,1077.5L1208.2,1079.5L1191.8,1087.3ZM1191.0,1086.8L1207.4,1079.0L1211.0,1081.0L1194.6,1088.9ZM1203.0,1084.0L1207.0,1082.1L1210.6,1084.1L1206.6,1086.0Z" fill="#0b2762"/>
<path d="M1125.4,1097.6L1129.4,1095.7L1133.0,1097.8L1129.0,1099.7ZM1128.2,1099.2L1135.3,1095.9L1138.8,1098.0L1131.7,1101.3ZM1130.9,1100.8L1141.1,1096.1L1144.6,1098.1L1134.4,1103.0ZM1133.6,1102.5L1146.9,1096.2L1150.5,1098.3L1137.2,1104.6ZM1136.4,1104.1L1152.7,1096.3L1156.3,1098.4L1139.9,1106.2ZM1139.1,1105.7L1158.6,1096.5L1162.1,1098.6L1142.6,1107.8ZM1141.8,1107.3L1167.5,1095.1L1171.1,1097.2L1145.4,1109.4ZM1144.6,1109.0L1173.3,1095.2L1176.9,1097.3L1148.1,1111.1ZM1147.3,1110.6L1182.3,1093.9L1185.9,1095.9L1150.9,1112.7ZM1150.0,1112.2L1172.6,1101.4L1176.2,1103.4L1153.6,1114.3ZM1152.8,1113.8L1159.9,1110.4L1163.5,1112.5L1156.3,1115.9Z" fill="#8c2f80"/>
<path d="M1202.2,1064.5L1215.5,1058.2L1219.1,1060.2L1205.8,1066.4ZM1198.8,1068.9L1221.4,1058.3L1225.0,1060.2L1202.4,1070.9ZM1201.6,1070.4L1227.2,1058.3L1230.8,1060.3L1205.2,1072.4ZM1201.3,1073.4L1233.1,1058.4L1236.7,1060.3L1204.8,1075.4ZM1204.0,1074.9L1238.9,1058.4L1242.6,1060.3L1207.6,1076.9ZM1203.7,1077.9L1241.7,1059.9L1245.3,1061.8L1207.3,1079.9ZM1206.4,1079.5L1247.6,1059.9L1251.2,1061.8L1210.0,1081.5ZM1206.1,1082.5L1253.5,1059.9L1257.1,1061.8L1209.7,1084.5ZM1212.0,1082.6L1256.2,1061.4L1259.9,1063.3L1215.6,1084.6ZM1214.7,1084.1L1259.0,1062.8L1262.6,1064.8L1218.3,1086.1ZM1217.5,1085.6L1261.8,1064.3L1265.4,1066.3L1221.1,1087.6ZM1226.5,1084.2L1264.6,1065.8L1268.2,1067.7L1230.0,1086.2ZM1232.3,1084.2L1267.4,1067.3L1271.0,1069.2L1235.9,1086.2ZM1238.2,1084.2L1270.1,1068.8L1273.8,1070.7L1241.8,1086.2ZM1250.3,1081.2L1272.9,1070.2L1276.5,1072.2L1253.9,1083.2ZM1256.1,1081.2L1275.7,1071.7L1279.3,1073.7L1259.7,1083.2ZM1265.1,1079.7L1278.5,1073.2L1282.1,1075.1L1268.7,1081.7ZM1274.1,1078.2L1278.2,1076.2L1281.8,1078.1L1277.7,1080.1Z" fill="#dbd49a"/>
<path d="M1264.9,1054.4L1268.9,1052.5L1272.6,1054.4L1268.5,1056.3ZM1258.4,1060.3L1271.7,1054.0L1275.4,1055.9L1262.0,1062.3ZM1261.2,1061.8L1277.6,1053.9L1281.2,1055.8L1264.8,1063.7ZM1264.0,1063.3L1280.4,1055.4L1284.0,1057.3L1267.6,1065.2ZM1266.8,1064.8L1283.2,1056.8L1286.8,1058.7L1270.4,1066.7ZM1269.5,1066.2L1289.1,1056.8L1292.7,1058.7L1273.2,1068.2ZM1272.3,1067.7L1295.0,1056.7L1298.6,1058.6L1275.9,1069.6ZM1275.1,1069.2L1297.8,1058.2L1301.4,1060.1L1278.7,1071.1ZM1277.9,1070.7L1303.7,1058.1L1307.3,1060.0L1281.5,1072.6ZM1280.7,1072.1L1309.6,1058.1L1313.2,1059.9L1284.3,1074.1ZM1283.4,1073.6L1312.4,1059.5L1316.0,1061.4L1287.1,1075.5ZM1286.2,1075.1L1315.1,1060.9L1318.8,1062.8L1289.8,1077.0ZM1289.0,1076.6L1314.8,1063.9L1318.5,1065.8L1292.6,1078.5ZM1294.9,1076.5L1311.4,1068.4L1315.0,1070.3L1298.5,1078.4ZM1297.7,1078.0L1301.7,1076.0L1305.3,1077.9L1301.3,1079.9Z" fill="#25229a"/>
<path d="M1174.8,1100.3L1185.0,1095.5L1188.6,1097.5L1178.4,1102.4ZM1162.1,1109.4L1190.9,1095.5L1194.5,1097.6L1165.6,1111.5ZM1155.5,1115.4L1196.7,1095.6L1200.3,1097.7L1159.1,1117.5ZM1158.2,1117.1L1199.5,1097.2L1203.1,1099.2L1161.8,1119.2ZM1161.0,1118.7L1202.2,1098.8L1205.8,1100.8L1164.5,1120.8ZM1163.7,1120.3L1205.0,1100.3L1208.6,1102.4L1167.3,1122.4ZM1166.4,1121.9L1207.7,1101.9L1211.3,1103.9L1170.0,1124.0ZM1169.2,1123.5L1210.5,1103.5L1214.1,1105.5L1172.7,1125.7ZM1171.9,1125.2L1213.2,1105.0L1216.8,1107.1L1175.5,1127.3ZM1174.7,1126.8L1212.9,1108.1L1216.5,1110.1L1178.2,1128.9ZM1177.4,1128.4L1215.6,1109.7L1219.2,1111.7L1180.9,1130.5ZM1183.2,1128.5L1215.3,1112.8L1218.9,1114.8L1186.8,1130.6ZM1186.0,1130.1L1218.0,1114.3L1221.6,1116.4L1189.5,1132.2ZM1191.8,1130.2L1217.7,1117.5L1221.2,1119.5L1195.4,1132.3ZM1207.0,1125.7L1217.3,1120.6L1220.9,1122.6L1210.6,1127.7Z" fill="#a9bedf"/>
<path d="M1247.2,1082.8L1251.2,1080.8L1254.8,1082.8L1250.8,1084.7ZM1249.9,1084.3L1257.1,1080.8L1260.7,1082.7L1253.5,1086.2ZM1252.7,1085.8L1266.1,1079.3L1269.7,1081.2L1256.3,1087.8ZM1255.5,1087.3L1275.1,1077.7L1278.7,1079.7L1259.1,1089.3ZM1261.3,1087.3L1280.9,1077.7L1284.6,1079.6L1264.9,1089.3ZM1267.2,1087.3L1283.7,1079.2L1287.3,1081.1L1270.8,1089.2ZM1273.1,1087.2L1289.6,1079.1L1293.2,1081.1L1276.7,1089.2ZM1279.0,1087.2L1292.4,1080.6L1296.0,1082.5L1282.6,1089.2ZM1284.9,1087.2L1295.2,1082.1L1298.8,1084.0L1288.5,1089.1Z" fill="#a6aedb"/>
<path d="M1239.6,1097.9L1246.7,1094.4L1250.3,1096.4L1243.2,1099.9ZM1239.2,1101.0L1252.6,1094.4L1256.2,1096.4L1242.8,1103.0ZM1238.9,1104.1L1258.5,1094.4L1262.1,1096.4L1242.5,1106.1ZM1238.5,1107.2L1261.3,1096.0L1264.8,1097.9L1242.1,1109.2ZM1241.3,1108.7L1264.0,1097.5L1267.6,1099.5L1244.9,1110.7ZM1244.0,1110.3L1269.9,1097.5L1273.5,1099.4L1247.6,1112.3ZM1246.8,1111.8L1272.7,1099.0L1276.3,1101.0L1250.4,1113.8ZM1249.6,1113.4L1278.6,1098.9L1282.2,1100.9L1253.1,1115.4ZM1252.3,1114.9L1281.3,1100.5L1284.9,1102.4L1255.9,1116.9ZM1258.2,1114.9L1284.1,1102.0L1287.7,1103.9L1261.8,1116.9ZM1260.9,1116.5L1286.9,1103.5L1290.5,1105.5L1264.5,1118.5ZM1263.7,1118.0L1292.8,1103.4L1296.4,1105.4L1267.3,1120.0ZM1269.6,1118.0L1295.5,1104.9L1299.1,1106.9L1273.2,1120.0ZM1272.3,1119.5L1298.3,1106.4L1301.9,1108.4L1275.9,1121.5ZM1278.2,1119.5L1297.9,1109.5L1301.5,1111.5L1281.8,1121.5ZM1281.0,1121.0L1300.7,1111.0L1304.3,1113.0L1284.6,1123.0ZM1286.9,1121.0L1303.5,1112.6L1307.1,1114.5L1290.5,1123.0ZM1289.7,1122.5L1306.3,1114.1L1309.9,1116.0L1293.2,1124.5Z" fill="#cf2f2c"/>
<path d="M1252.0,1091.9L1259.2,1088.4L1262.8,1090.3L1255.6,1093.8ZM1254.8,1093.4L1268.2,1086.8L1271.8,1088.8L1258.4,1095.4ZM1257.6,1094.9L1274.0,1086.8L1277.7,1088.7L1261.1,1096.9ZM1260.3,1096.4L1279.9,1086.8L1283.5,1088.7L1263.9,1098.4ZM1263.1,1097.9L1285.8,1086.7L1289.4,1088.6L1266.7,1099.9ZM1269.0,1097.9L1288.6,1088.2L1292.2,1090.1L1272.6,1099.9ZM1271.7,1099.4L1291.4,1089.7L1295.0,1091.6L1275.3,1101.4ZM1277.6,1099.4L1294.2,1091.2L1297.8,1093.1L1281.2,1101.4ZM1280.4,1100.9L1296.9,1092.7L1300.5,1094.6L1284.0,1102.9ZM1283.2,1102.4L1299.7,1094.2L1303.3,1096.1L1286.8,1104.4ZM1285.9,1104.0L1302.5,1095.7L1306.1,1097.6L1289.5,1105.9ZM1291.8,1103.9L1299.0,1100.3L1302.6,1102.2L1295.4,1105.9ZM1294.6,1105.4L1298.7,1103.4L1302.3,1105.3L1298.2,1107.4Z" fill="#e98c6c"/>
<path d="M1188.7,1131.7L1192.8,1129.7L1196.3,1131.8L1192.3,1133.8ZM1216.7,1117.9L1220.8,1115.9L1224.4,1118.0L1220.3,1120.0ZM1191.4,1133.4L1208.0,1125.2L1211.5,1127.3L1195.0,1135.5ZM1216.4,1121.0L1229.8,1114.4L1233.3,1116.5L1219.9,1123.1ZM1194.2,1135.0L1235.6,1114.4L1239.2,1116.5L1197.7,1137.1ZM1196.9,1136.6L1241.5,1114.5L1245.1,1116.5L1200.5,1138.7ZM1199.7,1138.2L1244.3,1116.0L1247.8,1118.0L1203.2,1140.3ZM1202.4,1139.8L1250.1,1116.0L1253.7,1118.0L1205.9,1141.9ZM1205.1,1141.4L1252.9,1117.6L1256.5,1119.6L1208.7,1143.5ZM1207.9,1143.1L1258.8,1117.6L1262.3,1119.6L1211.4,1145.2ZM1210.6,1144.7L1264.6,1117.5L1268.2,1119.6L1214.2,1146.8ZM1210.2,1147.9L1267.4,1119.1L1271.0,1121.1L1213.8,1150.0ZM1212.9,1149.5L1273.3,1119.1L1276.9,1121.1L1216.5,1151.6ZM1215.7,1151.1L1276.0,1120.6L1279.6,1122.6L1219.2,1153.2ZM1218.4,1152.7L1281.9,1120.6L1285.5,1122.6L1222.0,1154.8ZM1221.1,1154.4L1284.7,1122.1L1288.3,1124.1L1224.7,1156.5ZM1223.9,1156.0L1287.5,1123.6L1291.1,1125.6L1227.4,1158.1Z" fill="#b5c4c3"/>
<path d="M1287.7,1088.7L1301.1,1082.0L1304.7,1083.9L1291.3,1090.6ZM1290.4,1090.2L1310.1,1080.4L1313.7,1082.3L1294.0,1092.1ZM1293.2,1091.7L1312.9,1081.9L1316.5,1083.8L1296.8,1093.6ZM1296.0,1093.1L1315.6,1083.3L1319.3,1085.2L1299.6,1095.1ZM1308.1,1090.0L1315.3,1086.4L1318.9,1088.3L1311.7,1091.9ZM1314.0,1089.9L1318.1,1087.8L1321.7,1089.8L1317.6,1091.8Z" fill="#a0cad3"/>
<path d="M1311.9,1082.3L1322.2,1077.2L1325.8,1079.1L1315.5,1084.2ZM1314.7,1083.8L1334.4,1074.0L1338.0,1075.9L1318.3,1085.7ZM1314.4,1086.8L1340.3,1073.9L1343.9,1075.8L1318.0,1088.8ZM1317.2,1088.3L1343.1,1075.3L1346.7,1077.2L1320.8,1090.2ZM1319.9,1089.8L1349.0,1075.2L1352.6,1077.1L1323.6,1091.7ZM1319.6,1092.8L1351.8,1076.6L1355.4,1078.5L1323.2,1094.7ZM1322.4,1094.3L1357.7,1076.5L1361.3,1078.3L1326.0,1096.2ZM1325.2,1095.8L1360.5,1077.9L1364.1,1079.8L1328.8,1097.7ZM1327.9,1097.3L1366.4,1077.8L1370.1,1079.6L1331.6,1099.2ZM1330.7,1098.7L1369.2,1079.2L1372.9,1081.0L1334.3,1100.7ZM1330.4,1101.8L1375.2,1079.0L1378.8,1080.9L1334.0,1103.7Z" fill="#d2cfd2"/>
<path d="M1301.5,1096.1L1315.0,1089.4L1318.6,1091.3L1305.2,1098.1ZM1298.1,1100.8L1317.8,1090.9L1321.4,1092.8L1301.7,1102.7ZM1297.7,1103.8L1320.5,1092.4L1324.1,1094.3L1301.3,1105.8ZM1297.4,1106.9L1323.3,1093.8L1326.9,1095.8L1301.0,1108.9ZM1297.0,1110.0L1326.1,1095.3L1329.7,1097.2L1300.6,1112.0ZM1299.8,1111.5L1325.7,1098.4L1329.4,1100.3L1303.4,1113.5ZM1302.5,1113.0L1328.5,1099.8L1332.1,1101.8L1306.1,1115.0ZM1305.3,1114.6L1331.3,1101.3L1334.9,1103.3L1308.9,1116.5Z" fill="#0a5c9c"/>
<path d="M1099.3,1078.4L1230.6,1156.0M1098.9,1081.4L1246.4,1014.0M1102.3,1077.0L1233.8,1154.4M1101.7,1083.0L1249.2,1015.4M1105.4,1075.6L1236.9,1152.8M1104.4,1084.7L1252.0,1016.9M1108.5,1074.2L1240.0,1151.2M1107.1,1086.3L1254.8,1018.3M1111.6,1072.8L1243.2,1149.6M1109.9,1087.9L1257.6,1019.7M1114.6,1071.4L1246.3,1148.0M1112.6,1089.5L1260.4,1021.1M1117.7,1070.0L1249.4,1146.4M1115.3,1091.1L1263.2,1022.6M1120.8,1068.6L1252.6,1144.8M1118.1,1092.8L1266.0,1024.0M1123.8,1067.2L1255.7,1143.2M1120.8,1094.4L1268.8,1025.4M1126.9,1065.8L1258.8,1141.6M1123.6,1096.0L1271.6,1026.8M1130.0,1064.4L1262.0,1140.0M1126.3,1097.6L1274.4,1028.3M1133.1,1063.0L1265.1,1138.4M1129.0,1099.2L1277.2,1029.7M1136.1,1061.6L1268.2,1136.8M1131.8,1100.9L1280.0,1031.1M1139.2,1060.2L1271.4,1135.2M1134.5,1102.5L1282.8,1032.5M1142.3,1058.8L1274.5,1133.6M1137.2,1104.1L1285.6,1033.9M1145.3,1057.4L1277.6,1132.0M1140.0,1105.7L1288.4,1035.4M1148.4,1056.0L1280.8,1130.4M1142.7,1107.4L1291.2,1036.8M1151.5,1054.6L1283.9,1128.8M1145.4,1109.0L1294.0,1038.2M1154.5,1053.2L1287.0,1127.2M1148.2,1110.6L1296.8,1039.6M1157.6,1051.8L1290.2,1125.6M1150.9,1112.2L1299.6,1041.1M1160.7,1050.4L1293.3,1124.0M1153.6,1113.8L1302.4,1042.5M1163.8,1049.0L1296.4,1122.4M1156.4,1115.5L1305.2,1043.9M1166.8,1047.6L1299.6,1120.8M1159.1,1117.1L1308.0,1045.3M1169.9,1046.2L1302.7,1119.2M1161.8,1118.7L1310.8,1046.8M1173.0,1044.8L1305.8,1117.7M1164.6,1120.3L1313.5,1048.2M1176.0,1043.4L1309.0,1116.1M1167.3,1121.9L1316.3,1049.6M1179.1,1042.0L1312.1,1114.5M1170.1,1123.6L1319.1,1051.0M1182.2,1040.6L1315.2,1112.9M1172.8,1125.2L1321.9,1052.4M1185.3,1039.2L1318.4,1111.3M1175.5,1126.8L1324.7,1053.9M1188.3,1037.8L1321.5,1109.7M1178.3,1128.4L1327.5,1055.3M1191.4,1036.4L1324.6,1108.1M1181.0,1130.0L1330.3,1056.7M1194.5,1035.0L1327.8,1106.5M1183.7,1131.7L1333.1,1058.1M1197.5,1033.6L1330.9,1104.9M1186.5,1133.3L1335.9,1059.6M1200.6,1032.2L1334.0,1103.3M1189.2,1134.9L1338.7,1061.0M1203.7,1030.8L1337.2,1101.7M1191.9,1136.5L1341.5,1062.4M1206.8,1029.4L1340.3,1100.1M1194.7,1138.1L1344.3,1063.8M1209.8,1028.0L1343.4,1098.5M1197.4,1139.8L1347.1,1065.2M1212.9,1026.6L1346.6,1096.9M1200.1,1141.4L1349.9,1066.7M1216.0,1025.2L1349.7,1095.3M1202.9,1143.0L1352.7,1068.1M1219.0,1023.8L1352.8,1093.7M1205.6,1144.6L1355.5,1069.5M1222.1,1022.4L1356.0,1092.1M1208.4,1146.3L1358.3,1070.9M1225.2,1021.0L1359.1,1090.5M1211.1,1147.9L1361.1,1072.4M1228.2,1019.6L1362.2,1088.9M1213.8,1149.5L1363.9,1073.8M1231.3,1018.2L1365.4,1087.3M1216.6,1151.1L1366.7,1075.2M1234.4,1016.8L1368.5,1085.7M1219.3,1152.7L1369.5,1076.6M1237.5,1015.4L1371.6,1084.1M1222.0,1154.4L1372.3,1078.1M1240.5,1014.0L1374.8,1082.5M1224.8,1156.0L1375.1,1079.5" stroke="#102028" stroke-opacity="0.36" stroke-width="1.12" fill="none"/>
<path d="M1095.7,1079.1L1121.2,1094.1L1121.7,1098.3L1096.3,1083.2ZM1096.1,1082.3L1118.8,1095.7L1119.3,1099.9L1096.7,1086.4ZM1096.6,1085.4L1119.2,1099.0L1119.7,1103.1L1097.1,1089.6ZM1097.0,1088.6L1119.6,1102.2L1120.1,1106.4L1097.5,1092.7ZM1097.4,1091.8L1119.9,1105.4L1120.4,1109.6L1098.0,1095.9ZM1097.8,1095.0L1120.3,1108.6L1120.8,1112.8L1098.4,1099.1ZM1098.3,1098.1L1120.7,1111.8L1121.2,1116.0L1098.8,1102.3ZM1098.7,1101.3L1121.1,1115.0L1121.6,1119.2L1099.2,1105.4ZM1099.1,1104.5L1118.8,1116.6L1119.3,1120.8L1099.6,1108.6ZM1099.5,1107.7L1113.8,1116.5L1114.3,1120.6L1100.1,1111.8ZM1099.9,1110.8L1114.2,1119.7L1114.7,1123.8L1100.5,1115.0ZM1100.4,1114.0L1111.9,1121.2L1112.4,1125.4L1100.9,1118.1ZM1100.8,1117.2L1112.3,1124.4L1112.8,1128.6L1101.3,1121.3ZM1103.9,1122.1L1110.0,1125.9L1110.5,1130.1L1104.4,1126.2ZM1104.3,1125.2L1107.8,1127.4L1108.3,1131.6L1104.8,1129.4Z" fill="#0d6754"/>
<path d="M1120.4,1093.7L1156.7,1115.2L1157.1,1119.5L1120.8,1097.8ZM1118.0,1095.3L1157.0,1118.5L1157.4,1122.8L1118.5,1099.4ZM1118.4,1098.5L1157.4,1121.8L1157.7,1126.0L1118.9,1102.6ZM1118.8,1101.7L1157.7,1125.1L1158.1,1129.3L1119.2,1105.9ZM1119.1,1104.9L1158.0,1128.3L1158.4,1132.6L1119.6,1109.1ZM1119.5,1108.1L1155.6,1130.0L1156.0,1134.2L1120.0,1112.3ZM1119.9,1111.3L1155.9,1133.3L1156.3,1137.5L1120.4,1115.5ZM1120.3,1114.5L1156.2,1136.5L1156.6,1140.8L1120.8,1118.7ZM1131.4,1124.4L1156.5,1139.8L1156.9,1144.1L1131.9,1128.6ZM1134.5,1129.3L1156.8,1143.1L1157.2,1147.3L1134.9,1133.5ZM1140.2,1135.9L1151.7,1143.0L1152.2,1147.3L1140.6,1140.1ZM1143.2,1140.8L1149.4,1144.6L1149.8,1148.9L1143.7,1145.0ZM1165.7,1219.7L1176.8,1227.3L1177.1,1231.6L1166.1,1224.0ZM1160.9,1219.4L1182.2,1234.2L1182.5,1238.5L1161.3,1223.7ZM1161.2,1222.7L1179.9,1235.7L1180.2,1240.0L1161.6,1226.9ZM1161.5,1226.0L1180.2,1239.0L1180.5,1243.3L1161.9,1230.2ZM1161.8,1229.2L1177.9,1240.5L1178.3,1244.8L1162.3,1233.5ZM1162.2,1232.5L1175.6,1242.0L1176.0,1246.3L1162.6,1236.8ZM1162.5,1235.8L1170.9,1241.7L1171.2,1246.0L1162.9,1240.0Z" fill="#7b2971"/>
<path d="M1155.9,1114.7L1195.1,1137.9L1195.4,1142.2L1156.3,1119.0ZM1156.2,1118.0L1195.3,1141.2L1195.6,1145.6L1156.6,1122.3ZM1156.5,1121.3L1195.5,1144.6L1195.8,1148.9L1156.9,1125.5ZM1156.8,1124.6L1195.7,1147.9L1196.0,1152.3L1157.2,1128.8ZM1157.1,1127.8L1196.0,1151.3L1196.3,1155.6L1157.5,1132.1ZM1154.7,1129.5L1196.2,1154.6L1196.5,1159.0L1155.1,1133.7ZM1155.1,1132.8L1196.4,1158.0L1196.7,1162.3L1155.5,1137.0ZM1155.4,1136.0L1196.7,1161.3L1197.0,1165.7L1155.8,1140.3ZM1155.7,1139.3L1191.5,1161.4L1191.8,1165.7L1156.1,1143.6ZM1156.0,1142.6L1189.1,1163.0L1189.4,1167.4L1156.4,1146.8ZM1161.7,1149.2L1183.9,1163.0L1184.3,1167.4L1162.1,1153.5ZM1167.3,1155.8L1176.2,1161.3L1176.5,1165.6L1167.7,1160.1Z" fill="#92a5c5"/>
<path d="M1194.2,1137.4L1227.9,1157.3L1228.1,1161.8L1194.5,1141.8ZM1194.5,1140.8L1228.1,1160.7L1228.3,1165.2L1194.8,1145.1ZM1194.7,1144.1L1228.2,1164.1L1228.4,1168.6L1195.0,1148.4ZM1194.9,1147.4L1228.4,1167.5L1228.6,1172.0L1195.2,1151.8ZM1195.2,1150.8L1228.6,1171.0L1228.8,1175.4L1195.5,1155.1ZM1195.4,1154.1L1228.7,1174.4L1228.9,1178.8L1195.7,1158.5ZM1195.6,1157.5L1228.9,1177.8L1229.1,1182.2L1195.9,1161.8ZM1195.9,1160.8L1229.1,1181.2L1229.3,1185.6L1196.2,1165.2ZM1198.8,1165.8L1226.5,1182.9L1226.8,1187.3L1199.1,1170.2ZM1199.0,1169.2L1226.7,1186.3L1226.9,1190.7L1199.3,1173.5ZM1199.2,1172.5L1226.9,1189.7L1227.1,1194.1L1199.5,1176.9ZM1202.1,1177.6L1224.4,1191.4L1224.6,1195.9L1202.4,1181.9ZM1202.4,1180.9L1219.2,1191.5L1219.5,1195.9L1202.7,1185.3ZM1202.6,1184.3L1211.4,1189.8L1211.7,1194.2L1202.9,1188.6ZM1202.8,1187.6L1206.3,1189.8L1206.6,1194.2L1203.1,1192.0Z" fill="#9eabac"/>
<path d="M1118.0,1116.1L1132.2,1124.9L1132.7,1129.1L1118.5,1120.3ZM1113.0,1116.0L1135.3,1129.8L1135.7,1134.0L1113.5,1120.1ZM1113.4,1119.2L1141.0,1136.4L1141.4,1140.6L1113.9,1123.3ZM1111.1,1120.7L1144.0,1141.3L1144.5,1145.5L1111.6,1124.9ZM1111.5,1123.9L1144.4,1144.5L1144.8,1148.8L1112.0,1128.1ZM1109.2,1125.4L1144.7,1147.8L1145.1,1152.0L1109.7,1129.6ZM1109.6,1128.6L1145.0,1151.0L1145.5,1155.3L1110.1,1132.8ZM1107.4,1130.1L1145.4,1154.3L1145.8,1158.5L1107.9,1134.2ZM1107.8,1133.3L1145.7,1157.5L1146.1,1161.8L1108.3,1137.4ZM1108.2,1136.5L1146.0,1160.8L1146.5,1165.0L1108.7,1140.6ZM1108.6,1139.7L1146.4,1164.1L1146.8,1168.3L1109.1,1143.8ZM1111.6,1144.6L1146.7,1167.3L1147.1,1171.5L1112.2,1148.7ZM1151.2,1170.2L1167.8,1181.0L1168.2,1185.3L1151.6,1174.5ZM1114.7,1149.5L1168.1,1184.3L1168.5,1188.6L1115.2,1153.6ZM1144.0,1171.6L1168.4,1187.6L1168.8,1191.8L1144.4,1175.8ZM1146.9,1176.5L1168.7,1190.9L1169.1,1195.1L1147.4,1180.8ZM1147.3,1179.8L1163.7,1190.7L1164.1,1195.0L1147.7,1184.0ZM1150.2,1184.8L1158.8,1190.5L1159.2,1194.8L1150.7,1189.0ZM1153.2,1189.8L1156.5,1192.0L1157.0,1196.3L1153.6,1194.0ZM1192.7,1222.5L1198.7,1226.5L1199.0,1230.9L1193.0,1226.9ZM1190.4,1224.1L1204.1,1233.4L1204.4,1237.7L1190.7,1228.4ZM1188.1,1225.7L1201.7,1235.0L1202.0,1239.3L1188.4,1230.0ZM1185.7,1227.2L1199.4,1236.6L1199.7,1240.9L1186.1,1231.5ZM1183.4,1228.8L1194.5,1236.4L1194.8,1240.7L1183.8,1233.1ZM1183.7,1232.1L1187.0,1234.4L1187.4,1238.7L1184.0,1236.4ZM1210.9,1273.3L1214.2,1275.7L1214.5,1280.1L1211.2,1277.7ZM1206.1,1273.1L1211.9,1277.2L1212.1,1281.6L1206.4,1277.4ZM1198.7,1271.0L1209.6,1278.8L1209.8,1283.2L1199.0,1275.3ZM1199.0,1274.3L1207.3,1280.3L1207.6,1284.7L1199.3,1278.7ZM1199.2,1277.7L1205.0,1281.9L1205.3,1286.2L1199.5,1282.0Z" fill="#c29b09"/>
<path d="M1190.7,1160.9L1199.6,1166.3L1199.9,1170.7L1191.0,1165.2ZM1225.7,1182.4L1229.2,1184.6L1229.4,1189.0L1226.0,1186.8ZM1188.3,1162.5L1199.8,1169.7L1200.1,1174.0L1188.6,1166.9ZM1225.9,1185.8L1229.4,1188.0L1229.6,1192.4L1226.1,1190.2ZM1191.2,1167.5L1200.0,1173.0L1200.3,1177.4L1191.5,1171.9ZM1226.1,1189.2L1229.6,1191.4L1229.8,1195.8L1226.3,1193.6ZM1194.1,1172.5L1202.9,1178.1L1203.2,1182.4L1194.4,1176.9ZM1223.6,1190.9L1229.7,1194.8L1230.0,1199.2L1223.8,1195.4ZM1143.6,1144.0L1147.0,1146.2L1147.5,1150.4L1144.0,1148.3ZM1197.0,1177.6L1203.2,1181.4L1203.5,1185.8L1197.3,1181.9ZM1218.4,1191.0L1224.6,1194.8L1224.8,1199.3L1218.7,1195.4ZM1226.4,1196.0L1229.9,1198.2L1230.1,1202.6L1226.7,1200.4ZM1101.2,1120.4L1104.7,1122.6L1105.2,1126.7L1101.8,1124.5ZM1143.9,1147.3L1147.4,1149.5L1147.8,1153.7L1144.3,1151.5ZM1210.6,1189.3L1216.7,1193.2L1217.0,1197.6L1210.9,1193.7ZM1226.6,1199.4L1230.1,1201.6L1230.3,1206.0L1226.8,1203.8ZM1101.6,1123.5L1105.1,1125.7L1105.6,1129.9L1102.2,1127.7ZM1107.0,1126.9L1110.4,1129.1L1110.9,1133.3L1107.5,1131.1ZM1205.5,1189.3L1211.6,1193.2L1211.9,1197.6L1205.8,1193.7ZM1226.8,1202.8L1230.2,1205.0L1230.5,1209.4L1227.0,1207.2ZM1102.1,1126.7L1108.2,1130.6L1108.7,1134.8L1102.6,1130.9ZM1200.4,1189.3L1203.8,1191.5L1204.1,1195.9L1200.7,1193.7ZM1226.9,1206.2L1230.4,1208.4L1230.6,1212.8L1227.2,1210.6ZM1102.5,1129.9L1108.6,1133.8L1109.1,1137.9L1103.0,1134.0ZM1198.0,1191.0L1201.4,1193.2L1201.7,1197.5L1198.3,1195.3ZM1227.1,1209.6L1230.6,1211.8L1230.8,1216.2L1227.4,1214.0ZM1102.9,1133.1L1109.0,1137.0L1109.5,1141.1L1103.4,1137.2ZM1145.2,1160.3L1148.7,1162.5L1149.1,1166.7L1145.7,1164.5ZM1227.3,1213.0L1230.7,1215.2L1231.0,1219.6L1227.5,1217.4ZM1103.3,1136.3L1109.4,1140.2L1109.9,1144.3L1103.9,1140.4ZM1145.6,1163.5L1149.0,1165.8L1149.4,1170.0L1146.0,1167.8ZM1161.4,1173.8L1164.9,1176.0L1165.3,1180.3L1161.8,1178.0ZM1195.8,1195.9L1199.2,1198.2L1199.5,1202.5L1196.1,1200.3ZM1227.5,1216.4L1230.9,1218.6L1231.1,1223.0L1227.7,1220.8ZM1103.7,1139.4L1112.4,1145.1L1113.0,1149.2L1104.3,1143.6ZM1145.9,1166.8L1152.0,1170.7L1152.4,1175.0L1146.4,1171.0ZM1193.4,1197.6L1196.8,1199.8L1197.1,1204.1L1193.7,1201.9ZM1227.6,1219.8L1231.1,1222.0L1231.3,1226.5L1227.9,1224.2ZM1104.2,1142.6L1115.5,1150.0L1116.0,1154.1L1104.7,1146.7ZM1167.3,1183.8L1170.7,1186.0L1171.1,1190.3L1167.7,1188.0ZM1227.8,1223.2L1231.2,1225.4L1231.5,1229.9L1228.1,1227.6ZM1104.6,1145.8L1144.8,1172.1L1145.2,1176.3L1105.1,1149.9ZM1167.6,1187.1L1173.6,1191.0L1174.0,1195.3L1168.0,1191.3ZM1228.0,1226.6L1231.4,1228.8L1231.6,1233.3L1228.2,1231.0ZM1105.0,1149.0L1147.7,1177.1L1148.2,1181.3L1105.6,1153.1ZM1167.9,1190.3L1179.2,1197.8L1179.5,1202.1L1168.3,1194.6ZM1228.2,1230.0L1231.6,1232.2L1231.8,1236.7L1228.4,1234.4ZM1105.4,1152.1L1148.1,1180.3L1148.5,1184.5L1106.0,1156.3ZM1165.6,1191.9L1179.4,1201.1L1179.8,1205.4L1166.0,1196.2ZM1228.3,1233.4L1231.7,1235.6L1232.0,1240.1L1228.6,1237.8ZM1105.8,1155.3L1109.2,1157.6L1109.8,1161.7L1106.4,1159.4ZM1129.3,1170.9L1151.0,1185.3L1151.4,1189.5L1129.8,1175.1ZM1171.1,1198.7L1177.1,1202.6L1177.5,1206.9L1171.5,1202.9ZM1228.5,1236.8L1231.9,1239.0L1232.1,1243.5L1228.8,1241.2ZM1134.9,1177.6L1153.9,1190.3L1154.4,1194.5L1135.4,1181.8ZM1228.7,1240.2L1232.1,1242.5L1232.3,1246.9L1228.9,1244.6ZM1137.9,1182.6L1151.7,1191.8L1152.1,1196.1L1138.4,1186.8ZM1192.5,1219.2L1195.9,1221.5L1196.2,1225.8L1192.8,1223.5ZM1228.9,1243.6L1232.3,1245.9L1232.5,1250.3L1229.1,1248.0ZM1140.8,1187.6L1152.0,1195.1L1152.4,1199.3L1141.3,1191.8ZM1197.9,1226.0L1201.3,1228.3L1201.6,1232.6L1198.2,1230.4ZM1229.0,1247.0L1232.4,1249.3L1232.6,1253.7L1229.3,1251.4ZM1141.2,1190.8L1149.7,1196.6L1150.2,1200.8L1141.7,1195.0ZM1164.5,1206.6L1167.9,1208.9L1168.2,1213.1L1164.9,1210.8ZM1203.3,1232.9L1224.8,1247.4L1225.1,1251.8L1203.6,1237.2ZM1229.2,1250.4L1232.6,1252.7L1232.8,1257.1L1229.4,1254.8ZM1141.5,1194.0L1150.1,1199.8L1150.5,1204.1L1142.0,1198.2ZM1159.6,1206.3L1168.2,1212.1L1168.5,1216.4L1160.0,1210.6ZM1201.0,1234.5L1204.3,1236.7L1204.6,1241.1L1201.3,1238.8ZM1206.1,1238.0L1222.4,1249.0L1222.7,1253.4L1206.4,1242.3ZM1229.4,1253.8L1232.8,1256.1L1233.0,1260.5L1229.6,1258.2ZM1141.9,1197.3L1168.5,1215.4L1168.8,1219.7L1142.4,1201.5ZM1206.4,1241.3L1217.5,1248.9L1217.7,1253.3L1206.7,1245.7ZM1229.6,1257.2L1232.9,1259.5L1233.1,1263.9L1229.8,1261.6ZM1142.3,1200.5L1166.2,1216.9L1166.6,1221.2L1142.7,1204.7ZM1209.2,1246.5L1212.5,1248.7L1212.8,1253.1L1209.4,1250.8ZM1229.7,1260.6L1233.1,1262.9L1233.3,1267.3L1230.0,1265.0ZM1142.6,1203.8L1166.5,1220.2L1166.9,1224.5L1143.1,1208.0ZM1181.1,1230.3L1184.5,1232.6L1184.8,1236.9L1181.5,1234.6ZM1186.3,1233.9L1189.6,1236.2L1189.9,1240.5L1186.6,1238.2ZM1229.9,1264.0L1233.3,1266.3L1233.5,1270.7L1230.1,1268.4ZM1137.8,1203.4L1161.7,1220.0L1162.1,1224.2L1138.3,1207.6ZM1181.4,1233.6L1184.7,1235.9L1185.1,1240.3L1181.8,1237.9ZM1230.1,1267.4L1233.4,1269.7L1233.6,1274.1L1230.3,1271.8ZM1133.1,1203.1L1156.9,1219.7L1157.3,1223.9L1133.6,1207.3ZM1179.1,1235.2L1182.4,1237.5L1182.8,1241.8L1179.5,1239.5ZM1230.3,1270.8L1233.6,1273.1L1233.8,1277.5L1230.5,1275.2ZM1110.5,1190.3L1113.8,1192.6L1114.3,1196.7L1111.0,1194.4ZM1123.2,1199.2L1149.5,1217.6L1150.0,1221.8L1123.8,1203.3ZM1179.4,1238.5L1182.7,1240.8L1183.1,1245.1L1179.8,1242.8ZM1110.9,1193.4L1114.2,1195.8L1114.8,1199.9L1111.5,1197.6ZM1116.0,1197.0L1144.8,1217.2L1145.2,1221.5L1116.5,1201.2ZM1177.1,1240.0L1183.0,1244.1L1183.3,1248.4L1177.5,1244.3ZM1111.3,1196.6L1142.6,1218.7L1143.1,1222.9L1111.9,1200.7ZM1174.9,1241.5L1180.7,1245.6L1181.1,1249.9L1175.3,1245.8ZM1210.5,1266.6L1213.8,1269.0L1214.0,1273.3L1210.7,1271.0ZM1111.7,1199.8L1137.9,1218.3L1138.4,1222.5L1112.3,1203.9ZM1170.1,1241.2L1175.9,1245.3L1176.3,1249.6L1170.5,1245.5ZM1208.1,1268.2L1216.5,1274.1L1216.8,1278.5L1208.4,1272.5ZM1112.2,1203.0L1135.7,1219.7L1136.2,1223.9L1112.7,1207.1ZM1205.8,1269.7L1211.7,1273.9L1211.9,1278.3L1206.1,1274.1ZM1112.6,1206.1L1133.6,1221.2L1134.0,1225.3L1113.1,1210.3ZM1201.0,1269.5L1206.8,1273.6L1207.1,1278.0L1201.3,1273.8ZM1113.0,1209.3L1133.9,1224.4L1134.4,1228.5L1113.6,1213.4ZM1193.7,1267.4L1199.5,1271.5L1199.8,1275.9L1194.0,1271.7ZM1113.4,1212.5L1134.3,1227.6L1134.8,1231.8L1114.0,1216.6ZM1196.5,1272.5L1199.7,1274.9L1200.0,1279.2L1196.8,1276.8ZM1113.9,1215.7L1134.7,1230.8L1135.2,1235.0L1114.4,1219.8ZM1114.3,1218.8L1135.1,1234.0L1135.6,1238.2L1114.8,1223.0ZM1114.7,1222.0L1135.4,1237.2L1135.9,1241.4L1115.2,1226.1ZM1162.2,1256.8L1170.4,1262.9L1170.8,1267.2L1162.6,1261.1ZM1202.2,1286.2L1205.4,1288.6L1205.7,1292.9L1202.5,1290.5ZM1115.1,1225.2L1138.3,1242.3L1138.8,1246.5L1115.7,1229.3ZM1155.0,1254.6L1175.7,1269.9L1176.1,1274.1L1155.5,1258.8ZM1199.9,1287.7L1205.7,1291.9L1206.0,1296.3L1200.3,1292.0ZM1115.5,1228.4L1181.0,1276.8L1181.4,1281.1L1116.1,1232.5ZM1185.2,1280.0L1205.9,1295.3L1206.2,1299.6L1185.6,1284.3Z" fill="#96a2a0"/>
<path d="M1150.9,1142.5L1159.8,1148.0L1160.2,1152.3L1151.4,1146.8ZM1148.6,1144.1L1162.8,1153.0L1163.2,1157.3L1149.0,1148.4ZM1146.2,1145.7L1165.7,1157.9L1166.1,1162.2L1146.7,1149.9ZM1146.6,1149.0L1166.0,1161.2L1166.4,1165.5L1147.0,1153.2ZM1144.2,1150.5L1166.3,1164.5L1166.7,1168.8L1144.7,1154.8ZM1144.6,1153.8L1164.0,1166.1L1164.4,1170.4L1145.0,1158.0ZM1144.9,1157.0L1164.3,1169.4L1164.7,1173.7L1145.3,1161.3ZM1147.9,1162.0L1164.6,1172.7L1165.0,1177.0L1148.3,1166.2ZM1148.2,1165.2L1162.2,1174.3L1162.6,1178.5L1148.7,1169.5Z" fill="#b82d2d"/>
<path d="M1159.0,1147.5L1162.5,1149.7L1162.9,1154.0L1159.4,1151.8ZM1162.0,1152.5L1168.1,1156.3L1168.5,1160.6L1162.4,1156.8ZM1164.9,1157.4L1171.1,1161.3L1171.5,1165.6L1165.3,1161.7ZM1165.2,1160.7L1168.7,1162.9L1169.1,1167.2L1165.6,1165.0Z" fill="#a2b09b"/>
<path d="M1183.1,1162.5L1192.0,1168.0L1192.3,1172.4L1183.5,1166.9ZM1175.4,1160.8L1194.9,1173.0L1195.2,1177.4L1175.7,1165.1ZM1170.3,1160.8L1197.8,1178.1L1198.1,1182.4L1170.7,1165.1ZM1167.9,1162.4L1203.4,1184.8L1203.7,1189.1L1168.3,1166.7ZM1165.5,1164.0L1203.6,1188.1L1203.9,1192.5L1165.9,1168.3ZM1163.2,1165.6L1201.2,1189.8L1201.5,1194.2L1163.6,1169.9ZM1163.5,1168.9L1198.7,1191.5L1199.0,1195.8L1163.9,1173.2ZM1163.8,1172.2L1199.0,1194.8L1199.3,1199.2L1164.2,1176.5ZM1164.1,1175.5L1196.6,1196.5L1196.9,1200.8L1164.5,1179.7ZM1167.0,1180.5L1194.2,1198.1L1194.5,1202.4L1167.4,1184.7ZM1169.9,1185.5L1194.4,1201.4L1194.7,1205.8L1170.3,1189.8ZM1172.9,1190.5L1192.0,1203.0L1192.3,1207.4L1173.2,1194.8ZM1178.4,1197.2L1187.0,1202.9L1187.4,1207.2L1178.7,1201.5Z" fill="#0a2256"/>
<path d="M1223.8,1194.3L1227.2,1196.5L1227.5,1200.9L1224.0,1198.7ZM1215.9,1192.7L1227.4,1199.9L1227.6,1204.3L1216.2,1197.1ZM1210.8,1192.7L1227.6,1203.3L1227.8,1207.7L1211.1,1197.1ZM1203.0,1191.0L1227.7,1206.7L1228.0,1211.1L1203.3,1195.4ZM1200.6,1192.6L1227.9,1210.1L1228.1,1214.5L1200.9,1197.0ZM1198.2,1194.3L1228.1,1213.5L1228.3,1217.9L1198.5,1198.6ZM1198.4,1197.6L1228.3,1216.9L1228.5,1221.3L1198.7,1202.0ZM1196.0,1199.3L1228.4,1220.3L1228.7,1224.7L1196.3,1203.6ZM1193.6,1200.9L1228.6,1223.7L1228.8,1228.1L1193.9,1205.2ZM1191.2,1202.5L1228.8,1227.1L1229.0,1231.5L1191.6,1206.9ZM1191.5,1205.9L1229.0,1230.5L1229.2,1234.9L1191.8,1210.2ZM1191.7,1209.2L1229.1,1233.9L1229.4,1238.3L1192.1,1213.5ZM1192.0,1212.5L1229.3,1237.3L1229.5,1241.7L1192.3,1216.9ZM1192.2,1215.9L1229.5,1240.7L1229.7,1245.1L1192.6,1220.2ZM1195.1,1220.9L1229.7,1244.1L1229.9,1248.5L1195.4,1225.3ZM1200.5,1227.8L1229.8,1247.5L1230.1,1251.9L1200.8,1232.1Z" fill="#81a9b7"/>
<path d="M1186.2,1202.4L1192.3,1206.4L1192.6,1210.7L1186.6,1206.7ZM1178.7,1200.5L1192.5,1209.7L1192.8,1214.0L1179.0,1204.8ZM1176.3,1202.1L1192.8,1213.0L1193.1,1217.4L1176.7,1206.4ZM1171.4,1201.9L1193.0,1216.4L1193.3,1220.7L1171.8,1206.2ZM1169.1,1203.5L1193.3,1219.7L1193.6,1224.0L1169.5,1207.8ZM1166.8,1205.0L1193.5,1223.0L1193.8,1227.4L1167.2,1209.3ZM1167.1,1208.3L1191.2,1224.6L1191.5,1229.0L1167.5,1212.6ZM1167.4,1211.6L1188.8,1226.2L1189.2,1230.5L1167.8,1215.9ZM1167.7,1214.9L1186.5,1227.8L1186.8,1232.1L1168.1,1219.2ZM1165.4,1216.4L1184.2,1229.3L1184.5,1233.6L1165.8,1220.7ZM1176.0,1226.8L1181.9,1230.9L1182.3,1235.2L1176.4,1231.1Z" fill="#0e6b54"/>
<path d="M1163.0,1190.2L1166.4,1192.4L1166.8,1196.7L1163.4,1194.4ZM1158.0,1190.0L1171.9,1199.2L1172.3,1203.5L1158.5,1194.2ZM1155.8,1191.5L1172.2,1202.5L1172.5,1206.8L1156.2,1195.8ZM1150.9,1191.3L1169.9,1204.0L1170.2,1208.3L1151.3,1195.5ZM1151.2,1194.6L1167.6,1205.6L1167.9,1209.8L1151.6,1198.8ZM1149.0,1196.1L1165.3,1207.1L1165.7,1211.4L1149.4,1200.3ZM1149.3,1199.3L1160.4,1206.9L1160.8,1211.1L1149.7,1203.5Z" fill="#bebeb0"/>
<path d="M1108.5,1157.0L1130.1,1171.4L1130.6,1175.6L1109.0,1161.2ZM1106.3,1158.5L1135.7,1178.1L1136.2,1182.3L1106.8,1162.6ZM1106.7,1161.7L1138.7,1183.1L1139.1,1187.3L1107.2,1165.8ZM1107.1,1164.8L1141.6,1188.1L1142.1,1192.3L1107.7,1169.0ZM1107.5,1168.0L1142.0,1191.3L1142.4,1195.5L1108.1,1172.1ZM1108.0,1171.2L1142.3,1194.6L1142.8,1198.8L1108.5,1175.3ZM1108.4,1174.4L1142.7,1197.8L1143.1,1202.0L1108.9,1178.5ZM1108.8,1177.5L1143.0,1201.0L1143.5,1205.3L1109.3,1181.7ZM1109.2,1180.7L1143.4,1204.3L1143.8,1208.5L1109.8,1184.9ZM1109.6,1183.9L1138.6,1204.0L1139.1,1208.2L1110.2,1188.0ZM1110.1,1187.1L1133.8,1203.6L1134.3,1207.8L1110.6,1191.2ZM1113.0,1192.0L1124.0,1199.7L1124.5,1203.9L1113.6,1196.2ZM1113.5,1195.2L1116.8,1197.5L1117.3,1201.7L1114.0,1199.4ZM1230.6,1277.6L1233.9,1279.9L1234.2,1284.3L1230.8,1282.0ZM1223.2,1275.6L1234.1,1283.3L1234.3,1287.7L1223.4,1280.0ZM1218.3,1275.4L1234.3,1286.7L1234.5,1291.1L1218.5,1279.8ZM1213.4,1275.1L1234.4,1290.1L1234.7,1294.5L1213.7,1279.5ZM1211.1,1276.7L1234.6,1293.5L1234.8,1298.0L1211.4,1281.1ZM1208.8,1278.2L1234.8,1296.9L1235.0,1301.4L1209.1,1282.6ZM1206.5,1279.8L1234.9,1300.3L1235.2,1304.8L1206.8,1284.1ZM1204.2,1281.3L1235.1,1303.7L1235.3,1308.2L1204.5,1285.7ZM1202.0,1282.8L1235.3,1307.1L1235.5,1311.6L1202.3,1287.2ZM1204.7,1288.0L1235.4,1310.6L1235.7,1315.0L1205.0,1292.4ZM1204.9,1291.4L1235.6,1314.0L1235.8,1318.4L1205.2,1295.7ZM1205.2,1294.7L1235.8,1317.4L1236.0,1321.8L1205.5,1299.0Z" fill="#4f38a2"/>
<path d="M1224.0,1246.9L1230.0,1250.9L1230.2,1255.3L1224.3,1251.3ZM1221.6,1248.5L1230.2,1254.3L1230.4,1258.7L1221.9,1252.9ZM1216.7,1248.4L1230.3,1257.7L1230.6,1262.1L1216.9,1252.8ZM1211.7,1248.2L1230.5,1261.1L1230.7,1265.5L1212.0,1252.6ZM1206.8,1248.0L1230.7,1264.5L1230.9,1268.9L1207.1,1252.4ZM1207.0,1251.4L1230.9,1267.9L1231.1,1272.3L1207.3,1255.8ZM1207.3,1254.8L1231.0,1271.3L1231.3,1275.7L1207.5,1259.1ZM1210.0,1259.9L1233.8,1276.5L1234.0,1280.9L1210.3,1264.3ZM1212.8,1265.0L1231.4,1278.1L1231.6,1282.5L1213.1,1269.4ZM1213.0,1268.4L1223.9,1276.1L1224.2,1280.5L1213.3,1272.8ZM1215.8,1273.6L1219.0,1275.9L1219.3,1280.3L1216.0,1278.0Z" fill="#b0b7a2"/>
<path d="M1203.6,1236.2L1206.9,1238.5L1207.2,1242.9L1203.9,1240.6ZM1198.6,1236.0L1207.1,1241.9L1207.4,1246.2L1198.9,1240.4ZM1193.7,1235.9L1209.9,1247.0L1210.2,1251.4L1194.0,1240.2ZM1188.8,1235.6L1207.6,1248.6L1207.9,1252.9L1189.2,1240.0ZM1184.0,1235.4L1207.8,1251.9L1208.1,1256.3L1184.3,1239.7ZM1181.7,1236.9L1208.0,1255.3L1208.3,1259.7L1182.0,1241.2ZM1182.0,1240.3L1210.8,1260.4L1211.1,1264.8L1182.3,1244.6ZM1182.2,1243.6L1213.6,1265.6L1213.8,1270.0L1182.6,1247.9ZM1182.5,1246.9L1211.2,1267.2L1211.5,1271.5L1182.9,1251.2ZM1185.3,1252.0L1208.9,1268.7L1209.2,1273.1L1185.7,1256.3ZM1188.1,1257.1L1206.6,1270.3L1206.9,1274.6L1188.5,1261.4ZM1190.9,1262.2L1201.8,1270.0L1202.1,1274.4L1191.2,1266.5Z" fill="#b78d6b"/>
<path d="M1156.1,1219.1L1162.0,1223.2L1162.4,1227.5L1156.5,1223.4ZM1148.8,1217.0L1162.3,1226.5L1162.7,1230.8L1149.2,1221.3ZM1144.0,1216.7L1162.6,1229.8L1163.0,1234.0L1144.5,1220.9ZM1141.8,1218.1L1162.9,1233.0L1163.3,1237.3L1142.3,1222.4ZM1137.1,1217.8L1163.2,1236.3L1163.7,1240.6L1137.6,1222.0ZM1135.0,1219.2L1171.2,1245.0L1171.5,1249.3L1135.4,1223.4ZM1132.8,1220.6L1166.4,1244.7L1166.8,1248.9L1133.3,1224.8ZM1133.2,1223.8L1164.2,1246.1L1164.6,1250.4L1133.7,1228.0ZM1133.6,1227.0L1164.5,1249.4L1164.9,1253.7L1134.1,1231.2ZM1133.9,1230.3L1167.3,1254.5L1167.7,1258.8L1134.4,1234.4ZM1134.3,1233.5L1167.6,1257.8L1168.0,1262.0L1134.8,1237.6ZM1134.7,1236.7L1162.9,1257.4L1163.4,1261.6L1135.2,1240.9ZM1137.6,1241.7L1155.8,1255.1L1156.2,1259.4L1138.1,1245.9Z" fill="#b0865c"/>
<path d="M1180.0,1245.1L1183.3,1247.4L1183.6,1251.7L1180.3,1249.4ZM1175.2,1244.8L1186.1,1252.5L1186.4,1256.8L1175.5,1249.1ZM1170.4,1244.5L1188.9,1257.6L1189.2,1262.0L1170.8,1248.7ZM1165.6,1244.1L1191.7,1262.8L1192.0,1267.1L1166.0,1248.4ZM1163.4,1245.6L1194.4,1267.9L1194.8,1272.2L1163.8,1249.8ZM1163.7,1248.9L1197.2,1273.1L1197.5,1277.4L1164.2,1253.1ZM1166.6,1254.0L1200.0,1278.2L1200.3,1282.6L1167.0,1258.2ZM1166.9,1257.2L1202.7,1283.4L1203.0,1287.7L1167.3,1261.5ZM1169.7,1262.3L1202.9,1286.7L1203.3,1291.1L1170.1,1266.6ZM1175.0,1269.3L1200.7,1288.2L1201.0,1292.6L1175.4,1273.6ZM1180.3,1276.3L1186.0,1280.5L1186.3,1284.8L1180.6,1280.6Z" fill="#9e985d"/>
<path d="M1098.9,1081.4L1118.9,1234.1M1096.6,1083.0L1227.7,1161.0M1101.7,1083.0L1121.4,1236.0M1097.0,1086.2L1227.8,1164.4M1104.4,1084.7L1123.8,1237.8M1097.5,1089.3L1228.0,1167.8M1107.1,1086.3L1126.3,1239.7M1097.9,1092.5L1228.2,1171.2M1109.9,1087.9L1128.8,1241.5M1098.3,1095.7L1228.3,1174.6M1112.6,1089.5L1131.3,1243.4M1098.7,1098.9L1228.5,1178.0M1115.3,1091.1L1133.8,1245.2M1099.1,1102.0L1228.7,1181.4M1118.1,1092.8L1136.3,1247.1M1099.6,1105.2L1228.9,1184.8M1120.8,1094.4L1138.8,1248.9M1100.0,1108.4L1229.0,1188.2M1123.6,1096.0L1141.2,1250.8M1100.4,1111.6L1229.2,1191.6M1126.3,1097.6L1143.7,1252.6M1100.8,1114.7L1229.4,1195.0M1129.0,1099.2L1146.2,1254.5M1101.2,1117.9L1229.5,1198.4M1131.8,1100.9L1148.7,1256.3M1101.7,1121.1L1229.7,1201.9M1134.5,1102.5L1151.2,1258.2M1102.1,1124.3L1229.9,1205.3M1137.2,1104.1L1153.7,1260.0M1102.5,1127.5L1230.0,1208.7M1140.0,1105.7L1156.1,1261.9M1102.9,1130.6L1230.2,1212.1M1142.7,1107.4L1158.6,1263.7M1103.4,1133.8L1230.4,1215.5M1145.4,1109.0L1161.1,1265.6M1103.8,1137.0L1230.5,1218.9M1148.2,1110.6L1163.6,1267.4M1104.2,1140.2L1230.7,1222.3M1150.9,1112.2L1166.1,1269.3M1104.6,1143.3L1230.9,1225.7M1153.6,1113.8L1168.5,1271.1M1105.0,1146.5L1231.0,1229.1M1156.4,1115.5L1171.0,1273.0M1105.5,1149.7L1231.2,1232.5M1159.1,1117.1L1173.5,1274.8M1105.9,1152.9L1231.4,1235.9M1161.8,1118.7L1176.0,1276.7M1106.3,1156.0L1231.5,1239.3M1164.6,1120.3L1178.5,1278.5M1106.7,1159.2L1231.7,1242.7M1167.3,1121.9L1181.0,1280.3M1107.1,1162.4L1231.9,1246.1M1170.1,1123.6L1183.5,1282.2M1107.6,1165.6L1232.1,1249.5M1172.8,1125.2L1185.9,1284.0M1108.0,1168.8L1232.2,1252.9M1175.5,1126.8L1188.4,1285.9M1108.4,1171.9L1232.4,1256.3M1178.3,1128.4L1190.9,1287.7M1108.8,1175.1L1232.6,1259.7M1181.0,1130.0L1193.4,1289.6M1109.2,1178.3L1232.7,1263.1M1183.7,1131.7L1195.9,1291.4M1109.7,1181.5L1232.9,1266.5M1186.5,1133.3L1198.3,1293.3M1110.1,1184.6L1233.1,1269.9M1189.2,1134.9L1200.8,1295.1M1110.5,1187.8L1233.2,1273.3M1191.9,1136.5L1203.3,1297.0M1110.9,1191.0L1233.4,1276.7M1194.7,1138.1L1205.8,1298.8M1111.4,1194.2L1233.6,1280.2M1197.4,1139.8L1208.3,1300.7M1111.8,1197.4L1233.7,1283.6M1200.1,1141.4L1210.8,1302.5M1112.2,1200.5L1233.9,1287.0M1202.9,1143.0L1213.2,1304.4M1112.6,1203.7L1234.1,1290.4M1205.6,1144.6L1215.7,1306.2M1113.0,1206.9L1234.2,1293.8M1208.4,1146.3L1218.2,1308.1M1113.5,1210.1L1234.4,1297.2M1211.1,1147.9L1220.7,1309.9M1113.9,1213.2L1234.6,1300.6M1213.8,1149.5L1223.2,1311.8M1114.3,1216.4L1234.8,1304.0M1216.6,1151.1L1225.7,1313.6M1114.7,1219.6L1234.9,1307.4M1219.3,1152.7L1228.2,1315.5M1115.1,1222.8L1235.1,1310.8M1222.0,1154.4L1230.6,1317.3M1115.6,1225.9L1235.3,1314.2M1224.8,1156.0L1233.1,1319.2M1116.0,1229.1L1235.4,1317.6" stroke="#102028" stroke-opacity="0.36" stroke-width="1.12" fill="none"/>
<path d="M1227.0,1157.3L1293.8,1123.3L1293.8,1127.6L1227.2,1161.8ZM1227.2,1160.7L1293.8,1126.6L1293.8,1130.8L1227.4,1165.2ZM1227.3,1164.1L1293.8,1129.9L1293.9,1134.1L1227.6,1168.6ZM1227.5,1167.5L1293.9,1133.1L1293.9,1137.4L1227.7,1172.0ZM1227.7,1170.9L1293.9,1136.4L1293.9,1140.7L1227.9,1175.4ZM1227.9,1174.4L1293.9,1139.7L1293.9,1143.9L1228.1,1178.8ZM1228.0,1177.8L1293.9,1143.0L1294.0,1147.2L1228.2,1182.2ZM1228.2,1181.2L1290.9,1147.9L1290.9,1152.1L1228.4,1185.6ZM1228.4,1184.6L1287.8,1152.8L1287.9,1157.1L1228.6,1189.0ZM1228.5,1188.0L1284.8,1157.7L1284.9,1162.0L1228.8,1192.4ZM1228.7,1191.4L1278.7,1164.4L1278.8,1168.7L1228.9,1195.8ZM1228.9,1194.8L1272.7,1171.0L1272.8,1175.3L1229.1,1199.2ZM1229.0,1198.2L1263.6,1179.3L1263.7,1183.7L1229.3,1202.6ZM1232.3,1199.9L1257.6,1186.0L1257.7,1190.4L1232.5,1204.3ZM1238.5,1200.0L1251.6,1192.7L1251.7,1197.1L1238.7,1204.4Z" fill="#808888"/>
<path d="M1292.8,1123.8L1309.4,1115.3L1309.4,1119.5L1292.9,1128.1ZM1292.9,1127.1L1309.4,1118.6L1309.4,1122.8L1292.9,1131.3ZM1292.9,1130.3L1309.4,1121.8L1309.4,1126.0L1292.9,1134.6ZM1292.9,1133.6L1309.4,1125.1L1309.4,1129.3L1293.0,1137.9ZM1293.0,1136.9L1309.4,1128.3L1309.4,1132.5L1293.0,1141.2ZM1293.0,1140.2L1309.4,1131.6L1309.4,1135.8L1293.0,1144.4ZM1293.0,1143.5L1309.4,1134.8L1309.4,1139.0L1293.1,1147.7ZM1299.2,1143.5L1309.4,1138.0L1309.4,1142.3L1299.2,1147.7ZM1302.3,1145.1L1309.4,1141.3L1309.4,1145.5L1302.3,1149.3Z" fill="#9b2020"/>
<path d="M1308.5,1115.8L1334.5,1102.6L1334.4,1106.7L1308.5,1120.0ZM1308.5,1119.1L1334.5,1105.7L1334.4,1109.9L1308.5,1123.3ZM1308.5,1122.3L1334.4,1108.9L1334.3,1113.1L1308.5,1126.5ZM1308.5,1125.5L1334.3,1112.1L1334.3,1116.3L1308.5,1129.8ZM1308.5,1128.8L1334.3,1115.3L1334.2,1119.5L1308.5,1133.0ZM1308.5,1132.0L1334.2,1118.5L1334.2,1122.7L1308.5,1136.3ZM1311.6,1133.7L1334.2,1121.7L1334.1,1125.9L1311.6,1137.9ZM1311.6,1136.9L1334.1,1124.9L1334.0,1129.1L1311.6,1141.1ZM1311.6,1140.1L1334.1,1128.1L1334.0,1132.3L1311.6,1144.4ZM1311.6,1143.4L1334.0,1131.3L1333.9,1135.5L1311.5,1147.6ZM1311.5,1146.6L1333.9,1134.5L1333.9,1138.7L1311.5,1150.8ZM1323.8,1143.2L1333.9,1137.7L1333.8,1141.9L1323.7,1147.4Z" fill="#084474"/>
<path d="M1333.6,1103.0L1378.4,1080.2L1378.2,1084.2L1333.5,1107.2ZM1333.5,1106.2L1378.2,1083.3L1378.0,1087.4L1333.4,1110.4ZM1333.5,1109.4L1378.1,1086.4L1377.9,1090.5L1333.4,1113.6ZM1333.4,1112.6L1377.9,1089.5L1377.8,1093.6L1333.3,1116.8ZM1333.4,1115.8L1377.8,1092.6L1377.6,1096.7L1333.3,1120.0ZM1333.3,1119.0L1377.6,1095.8L1377.5,1099.8L1333.2,1123.2ZM1308.5,1135.3L1312.5,1133.2L1312.5,1137.4L1308.5,1139.5ZM1333.2,1122.2L1377.5,1098.9L1377.3,1102.9L1333.2,1126.4ZM1296.1,1145.1L1300.1,1143.0L1300.2,1147.2L1296.2,1149.3ZM1308.5,1138.5L1312.5,1136.4L1312.5,1140.6L1308.5,1142.8ZM1333.2,1125.4L1377.3,1102.0L1377.2,1106.0L1333.1,1129.6ZM1308.5,1141.8L1312.5,1139.6L1312.5,1143.9L1308.5,1146.0ZM1333.1,1128.6L1377.2,1105.1L1377.0,1109.1L1333.1,1132.8ZM1305.4,1146.7L1312.5,1142.9L1312.5,1147.1L1305.4,1150.9ZM1333.1,1131.8L1377.1,1108.2L1376.9,1112.2L1333.0,1136.0ZM1305.4,1149.9L1312.5,1146.1L1312.5,1150.3L1305.4,1154.2ZM1333.0,1135.0L1376.9,1111.3L1376.7,1115.4L1333.0,1139.2ZM1333.0,1138.2L1373.7,1116.1L1373.5,1120.1L1332.9,1142.4ZM1262.6,1179.8L1266.6,1177.6L1266.7,1182.0L1262.8,1184.2ZM1336.0,1139.7L1370.5,1120.9L1370.3,1124.9L1335.9,1143.9ZM1256.6,1186.5L1269.8,1179.3L1269.9,1183.6L1256.8,1190.9ZM1335.9,1142.9L1364.3,1127.3L1364.1,1131.4L1335.8,1147.1ZM1265.9,1184.8L1272.9,1180.9L1273.0,1185.3L1266.0,1189.1ZM1338.9,1144.4L1361.1,1132.2L1360.9,1136.3L1338.8,1148.6ZM1275.1,1183.1L1279.0,1180.9L1279.1,1185.2L1275.2,1187.4ZM1341.9,1145.9L1357.9,1137.0L1357.8,1141.1L1341.8,1150.1ZM1284.2,1181.3L1288.2,1179.1L1288.2,1183.4L1284.3,1185.6ZM1344.8,1147.4L1354.8,1141.8L1354.7,1145.9L1344.7,1151.6ZM1293.4,1179.5L1297.3,1177.3L1297.3,1181.5L1293.4,1183.8ZM1326.6,1160.8L1330.5,1158.6L1330.5,1162.8L1326.5,1165.0ZM1347.8,1148.9L1351.7,1146.7L1351.6,1150.8L1347.6,1153.0ZM1326.6,1164.0L1333.5,1160.1L1333.4,1164.2L1326.5,1168.2ZM1332.5,1163.8L1336.4,1161.6L1336.4,1165.7L1332.5,1168.0ZM1347.5,1158.4L1351.4,1156.2L1351.3,1160.3L1347.4,1162.5ZM1341.4,1165.0L1345.3,1162.8L1345.2,1166.9L1341.3,1169.2ZM1347.4,1161.6L1354.3,1157.6L1354.2,1161.7L1347.3,1165.7ZM1344.3,1166.5L1375.1,1148.6L1374.9,1152.7L1344.2,1170.6ZM1347.2,1167.9L1375.0,1151.8L1374.8,1155.8L1347.1,1172.0ZM1347.1,1171.1L1374.8,1154.9L1374.6,1158.9L1347.0,1175.2ZM1347.1,1174.2L1374.7,1158.0L1374.5,1162.0L1346.9,1178.4ZM1296.6,1207.3L1300.5,1205.0L1300.5,1209.2L1296.6,1211.5ZM1326.2,1189.7L1330.1,1187.4L1330.0,1191.6L1326.2,1193.9ZM1347.0,1177.4L1374.5,1161.1L1374.3,1165.1L1346.9,1181.5ZM1270.0,1226.4L1273.9,1224.1L1274.0,1228.4L1270.1,1230.7ZM1323.2,1194.7L1333.0,1188.9L1332.9,1193.0L1323.2,1198.9ZM1343.9,1182.3L1374.4,1164.2L1374.2,1168.3L1343.8,1186.5ZM1267.2,1231.5L1273.9,1227.4L1274.0,1231.7L1267.3,1235.8ZM1314.3,1203.2L1321.1,1199.1L1321.1,1203.3L1314.3,1207.4ZM1343.8,1185.5L1374.2,1167.3L1374.0,1171.4L1343.7,1189.6ZM1252.5,1243.7L1259.3,1239.6L1259.4,1243.9L1252.7,1248.0ZM1267.2,1234.8L1277.0,1228.9L1277.0,1233.3L1267.4,1239.1ZM1343.8,1188.7L1374.1,1170.4L1373.9,1174.5L1343.7,1192.8ZM1258.5,1243.5L1274.1,1234.0L1274.2,1238.4L1258.7,1247.8ZM1340.7,1193.6L1373.9,1173.5L1373.7,1177.6L1340.6,1197.8ZM1264.5,1243.2L1274.2,1237.4L1274.3,1241.7L1264.6,1247.6ZM1346.5,1193.3L1373.8,1176.7L1373.6,1180.7L1346.4,1197.4ZM1270.4,1243.0L1274.2,1240.7L1274.3,1245.0L1270.5,1247.3ZM1355.2,1191.1L1373.6,1179.8L1373.4,1183.8L1355.1,1195.1ZM1276.4,1242.7L1280.1,1240.4L1280.2,1244.7L1276.4,1247.0ZM1363.9,1188.8L1373.5,1182.9L1373.3,1186.9L1363.7,1192.9ZM1285.2,1240.6L1288.9,1238.3L1289.0,1242.6L1285.2,1244.9ZM1366.6,1190.1L1373.3,1186.0L1373.1,1190.0L1366.5,1194.2ZM1288.1,1242.1L1291.9,1239.8L1291.9,1244.0L1288.2,1246.4ZM1369.4,1191.5L1373.2,1189.1L1373.0,1193.1L1369.2,1195.5ZM1288.2,1245.4L1291.9,1243.1L1292.0,1247.3L1288.2,1249.7ZM1369.3,1194.6L1373.0,1192.2L1372.8,1196.3L1369.1,1198.6ZM1256.4,1268.7L1263.1,1264.6L1263.2,1268.9L1256.6,1273.1ZM1288.2,1248.7L1294.8,1244.5L1294.9,1248.8L1288.3,1253.0ZM1369.1,1197.7L1372.9,1195.3L1372.7,1199.4L1368.9,1201.7ZM1259.4,1270.3L1266.0,1266.1L1266.2,1270.4L1259.6,1274.6ZM1288.2,1252.0L1294.9,1247.8L1294.9,1252.0L1288.3,1256.3ZM1369.0,1200.8L1372.7,1198.4L1372.5,1202.5L1368.8,1204.9ZM1250.9,1279.1L1254.6,1276.7L1254.8,1281.1L1251.1,1283.5ZM1291.2,1253.4L1297.8,1249.2L1297.8,1253.5L1291.2,1257.7ZM1308.4,1242.4L1312.2,1240.1L1312.2,1244.3L1308.4,1246.7ZM1368.8,1203.9L1372.6,1201.5L1372.4,1205.6L1368.7,1208.0ZM1251.0,1282.5L1254.7,1280.1L1254.9,1284.5L1251.2,1286.9ZM1274.0,1267.8L1277.7,1265.4L1277.8,1269.7L1274.1,1272.1ZM1285.5,1260.4L1317.9,1239.6L1317.9,1243.8L1285.5,1264.7ZM1328.5,1232.8L1332.3,1230.4L1332.2,1234.6L1328.5,1237.0ZM1251.1,1285.9L1254.9,1283.5L1255.0,1287.8L1251.3,1290.2ZM1282.6,1265.6L1306.4,1250.2L1306.4,1254.5L1282.7,1269.8ZM1325.6,1237.9L1329.3,1235.5L1329.3,1239.6L1325.6,1242.0ZM1251.3,1289.2L1255.0,1286.8L1255.1,1291.2L1251.4,1293.6ZM1288.4,1265.2L1292.1,1262.7L1292.2,1267.0L1288.5,1269.4ZM1325.6,1241.1L1329.3,1238.7L1329.2,1242.8L1325.5,1245.2ZM1251.4,1292.6L1255.1,1290.2L1255.3,1294.6L1251.6,1297.0ZM1328.4,1242.4L1332.1,1240.0L1332.0,1244.2L1328.3,1246.6ZM1328.3,1245.6L1332.0,1243.2L1332.0,1247.4L1328.3,1249.8ZM1288.6,1281.6L1323.4,1258.4L1323.3,1262.6L1288.7,1285.9Z" fill="#8a8d90"/>
<path d="M1290.0,1148.4L1297.1,1144.6L1297.1,1148.9L1290.0,1152.6ZM1286.9,1153.3L1303.2,1144.6L1303.3,1148.8L1287.0,1157.6ZM1283.9,1158.2L1306.3,1146.2L1306.3,1150.4L1283.9,1162.5ZM1277.8,1164.9L1306.3,1149.4L1306.3,1153.7L1277.9,1169.2ZM1271.7,1171.5L1297.1,1157.7L1297.2,1161.9L1271.8,1175.8ZM1265.7,1178.2L1297.2,1161.0L1297.2,1165.2L1265.8,1182.5ZM1268.8,1179.8L1297.2,1164.2L1297.2,1168.5L1269.0,1184.1ZM1272.0,1181.5L1297.2,1167.5L1297.2,1171.7L1272.1,1185.8ZM1278.1,1181.4L1297.2,1170.8L1297.3,1175.0L1278.2,1185.7ZM1287.3,1179.6L1297.3,1174.0L1297.3,1178.3L1287.3,1183.9Z" fill="#a55d44"/>
<path d="M1296.2,1158.2L1318.6,1146.0L1318.6,1150.2L1296.3,1162.4ZM1296.3,1161.5L1321.6,1147.6L1321.6,1151.8L1296.3,1165.7ZM1296.3,1164.7L1321.6,1150.8L1321.5,1155.0L1296.3,1169.0ZM1296.3,1168.0L1324.6,1152.4L1324.5,1156.5L1296.3,1172.2ZM1296.3,1171.3L1324.6,1155.6L1324.5,1159.7L1296.4,1175.5ZM1296.4,1174.5L1327.5,1157.1L1327.5,1161.3L1296.4,1178.8ZM1296.4,1177.8L1327.5,1160.3L1327.4,1164.5L1296.4,1182.1ZM1296.4,1181.1L1327.5,1163.5L1327.4,1167.7L1296.4,1185.3ZM1296.4,1184.4L1327.4,1166.7L1327.4,1170.9L1296.5,1188.6ZM1299.5,1185.9L1327.4,1169.9L1327.3,1174.1L1299.5,1190.1ZM1299.5,1189.2L1327.3,1173.1L1327.3,1177.3L1299.5,1193.4ZM1299.5,1192.4L1327.3,1176.3L1327.2,1180.5L1299.5,1196.7ZM1299.5,1195.7L1327.2,1179.5L1327.2,1183.7L1299.5,1199.9ZM1299.5,1199.0L1327.2,1182.8L1327.1,1186.9L1299.5,1203.2ZM1296.6,1204.0L1327.2,1186.0L1327.1,1190.1L1296.6,1208.2ZM1299.6,1205.5L1327.1,1189.2L1327.1,1193.3L1299.6,1209.7ZM1302.5,1207.0L1324.1,1194.1L1324.1,1198.3L1302.6,1211.2ZM1308.4,1206.7L1315.2,1202.7L1315.2,1206.9L1308.4,1210.9Z" fill="#80897a"/>
<path d="M1317.7,1146.5L1324.7,1142.7L1324.7,1146.9L1317.6,1150.7ZM1320.7,1148.1L1336.9,1139.2L1336.8,1143.4L1320.7,1152.3ZM1320.7,1151.3L1336.8,1142.4L1336.7,1146.6L1320.6,1155.5ZM1323.7,1152.9L1339.8,1143.9L1339.7,1148.1L1323.6,1157.0ZM1323.6,1156.1L1342.8,1145.4L1342.7,1149.6L1323.6,1160.3ZM1326.6,1157.6L1345.7,1146.9L1345.6,1151.0L1326.6,1161.8ZM1329.6,1159.1L1348.7,1148.4L1348.5,1152.5L1329.6,1163.3ZM1332.6,1160.6L1348.6,1151.6L1348.5,1155.7L1332.5,1164.8ZM1335.5,1162.1L1348.5,1154.7L1348.4,1158.8L1335.5,1166.2ZM1338.5,1163.6L1348.4,1157.9L1348.3,1162.0L1338.4,1167.7ZM1344.4,1163.3L1348.3,1161.1L1348.2,1165.2L1344.3,1167.4Z" fill="#5d2055"/>
<path d="M1372.8,1116.6L1376.8,1114.4L1376.6,1118.5L1372.6,1120.6ZM1369.6,1121.4L1376.6,1117.5L1376.4,1121.6L1369.4,1125.4ZM1363.3,1127.9L1376.5,1120.6L1376.3,1124.7L1363.2,1131.9ZM1360.2,1132.7L1376.3,1123.8L1376.1,1127.8L1360.0,1136.8ZM1357.0,1137.5L1376.2,1126.9L1376.0,1130.9L1356.9,1141.6ZM1353.9,1142.3L1376.0,1130.0L1375.8,1134.0L1353.8,1146.4ZM1350.8,1147.2L1375.9,1133.1L1375.7,1137.1L1350.7,1151.3ZM1347.7,1152.1L1375.7,1136.2L1375.5,1140.2L1347.6,1156.2ZM1347.6,1155.2L1375.6,1139.3L1375.4,1143.4L1347.5,1159.4ZM1350.5,1156.7L1375.4,1142.4L1375.2,1146.5L1350.4,1160.8ZM1353.4,1158.1L1375.3,1145.5L1375.1,1149.6L1353.3,1162.2Z" fill="#2c3843"/>
<path d="M1229.2,1201.6L1233.2,1199.4L1233.4,1203.8L1229.4,1206.0ZM1229.4,1205.0L1239.4,1199.4L1239.6,1203.8L1229.6,1209.4ZM1229.6,1208.4L1245.6,1199.5L1245.8,1203.8L1229.8,1212.8ZM1229.7,1211.8L1248.8,1201.1L1249.0,1205.5L1229.9,1216.2ZM1229.9,1215.2L1252.0,1202.8L1252.1,1207.2L1230.1,1219.6ZM1230.1,1218.6L1255.1,1204.5L1255.2,1208.8L1230.3,1223.0ZM1230.2,1222.0L1258.2,1206.1L1258.4,1210.5L1230.5,1226.5ZM1230.4,1225.4L1261.3,1207.7L1261.5,1212.1L1230.6,1229.9ZM1230.6,1228.8L1261.4,1211.1L1261.6,1215.4L1230.8,1233.3ZM1230.7,1232.2L1264.5,1212.7L1264.6,1217.0L1231.0,1236.7ZM1230.9,1235.6L1267.6,1214.3L1267.7,1218.6L1231.1,1240.1ZM1231.1,1239.1L1267.7,1217.6L1267.8,1221.9L1231.3,1243.5ZM1231.2,1242.5L1270.7,1219.2L1270.8,1223.5L1231.5,1246.9ZM1231.4,1245.9L1270.8,1222.5L1270.9,1226.8L1231.6,1250.3ZM1237.5,1245.7L1270.9,1225.8L1271.0,1230.2L1237.7,1250.2ZM1243.6,1245.6L1268.0,1230.9L1268.2,1235.3L1243.7,1250.0ZM1258.4,1240.1L1268.1,1234.3L1268.2,1238.6L1258.6,1244.5Z" fill="#6d929b"/>
<path d="M1250.7,1193.2L1266.8,1184.3L1266.9,1188.6L1250.8,1197.6ZM1244.7,1200.0L1276.0,1182.6L1276.1,1186.9L1244.9,1204.4ZM1247.9,1201.6L1285.1,1180.8L1285.2,1185.1L1248.1,1206.0ZM1251.0,1203.3L1294.3,1179.0L1294.3,1183.3L1251.2,1207.7ZM1254.2,1205.0L1297.3,1180.6L1297.3,1184.8L1254.3,1209.3ZM1257.3,1206.6L1297.3,1183.8L1297.4,1188.1L1257.5,1211.0ZM1260.4,1208.2L1300.4,1185.4L1300.4,1189.6L1260.6,1212.6ZM1260.5,1211.6L1300.4,1188.7L1300.4,1192.9L1260.7,1215.9ZM1263.6,1213.2L1300.4,1191.9L1300.4,1196.2L1263.7,1217.5ZM1266.7,1214.8L1300.4,1195.2L1300.4,1199.4L1266.8,1219.1ZM1266.8,1218.1L1300.4,1198.4L1300.4,1202.7L1266.9,1222.5ZM1269.9,1219.7L1297.5,1203.5L1297.5,1207.7L1270.0,1224.0ZM1269.9,1223.0L1297.5,1206.7L1297.5,1211.0L1270.0,1227.4ZM1273.0,1224.6L1297.5,1210.0L1297.5,1214.2L1273.1,1228.9ZM1273.1,1227.9L1291.6,1216.8L1291.7,1221.1L1273.2,1232.2ZM1276.1,1229.5L1288.7,1221.9L1288.8,1226.1L1276.2,1233.8ZM1285.0,1227.5L1288.8,1225.1L1288.8,1229.4L1285.0,1231.7Z" fill="#08183d"/>
<path d="M1326.5,1167.2L1333.4,1163.3L1333.4,1167.4L1326.5,1171.4ZM1326.5,1170.4L1339.4,1163.0L1339.3,1167.2L1326.4,1174.6ZM1326.4,1173.6L1342.3,1164.5L1342.2,1168.6L1326.4,1177.8ZM1326.4,1176.9L1345.2,1166.0L1345.1,1170.1L1326.3,1181.0ZM1326.4,1180.1L1348.1,1167.4L1348.0,1171.5L1326.3,1184.2ZM1326.3,1183.3L1348.0,1170.6L1347.9,1174.7L1326.3,1187.5ZM1326.3,1186.5L1347.9,1173.7L1347.8,1177.8L1326.2,1190.7ZM1329.2,1187.9L1347.9,1176.9L1347.7,1181.0L1329.1,1192.1ZM1332.1,1189.4L1344.8,1181.8L1344.7,1185.9L1332.0,1193.5ZM1335.0,1190.8L1344.7,1185.0L1344.6,1189.1L1334.9,1195.0ZM1340.8,1190.5L1344.6,1188.2L1344.5,1192.3L1340.7,1194.6Z" fill="#8c1818"/>
<path d="M1231.6,1249.3L1238.4,1245.2L1238.6,1249.6L1231.8,1253.7ZM1231.8,1252.7L1244.4,1245.1L1244.6,1249.5L1232.0,1257.1ZM1231.9,1256.1L1253.4,1243.1L1253.6,1247.5L1232.1,1260.5ZM1232.1,1259.5L1259.4,1242.9L1259.5,1247.3L1232.3,1263.9ZM1232.3,1262.9L1265.4,1242.7L1265.5,1247.0L1232.5,1267.3ZM1232.4,1266.3L1271.3,1242.5L1271.4,1246.8L1232.7,1270.7ZM1232.6,1269.7L1271.4,1245.8L1271.5,1250.1L1232.8,1274.1ZM1232.8,1273.1L1265.7,1252.7L1265.8,1257.1L1233.0,1277.5ZM1232.9,1276.5L1262.9,1257.9L1263.0,1262.2L1233.2,1280.9ZM1233.1,1279.9L1260.1,1263.0L1260.2,1267.4L1233.3,1284.3ZM1239.1,1279.7L1257.3,1268.2L1257.4,1272.6L1239.3,1284.1ZM1247.9,1277.6L1254.5,1273.4L1254.7,1277.7L1248.1,1282.0Z" fill="#8c9580"/>
<path d="M1296.6,1210.5L1303.4,1206.5L1303.4,1210.7L1296.7,1214.8ZM1290.7,1217.3L1309.3,1206.2L1309.3,1210.4L1290.8,1221.6ZM1320.2,1199.7L1335.9,1190.3L1335.8,1194.4L1320.2,1203.8ZM1287.8,1222.4L1341.7,1189.9L1341.6,1194.1L1287.9,1226.7ZM1287.9,1225.7L1338.7,1194.9L1338.6,1199.0L1287.9,1230.0ZM1287.9,1229.0L1338.6,1198.1L1338.5,1202.2L1288.0,1233.2ZM1288.0,1232.3L1338.5,1201.3L1338.5,1205.4L1288.0,1236.5ZM1288.0,1235.5L1338.5,1204.4L1338.4,1208.6L1288.1,1239.8ZM1288.1,1238.8L1335.5,1209.4L1335.4,1213.6L1288.1,1243.1ZM1291.0,1240.3L1335.4,1212.6L1335.4,1216.8L1291.1,1244.6ZM1291.1,1243.6L1335.4,1215.8L1335.3,1220.0L1291.1,1247.9ZM1294.0,1245.1L1335.3,1219.0L1335.2,1223.2L1294.0,1249.3ZM1294.0,1248.3L1335.2,1222.2L1335.2,1226.3L1294.1,1252.6ZM1296.9,1249.8L1309.3,1241.9L1309.3,1246.1L1297.0,1254.0ZM1311.3,1240.6L1332.3,1227.2L1332.2,1231.4L1311.3,1244.8ZM1322.8,1236.5L1329.4,1232.3L1329.3,1236.4L1322.7,1240.7Z" fill="#928c61"/>
<path d="M1273.2,1234.6L1285.8,1226.9L1285.9,1231.2L1273.3,1238.9ZM1273.3,1237.9L1288.8,1228.4L1288.9,1232.7L1273.4,1242.2ZM1273.4,1241.2L1288.9,1231.7L1288.9,1236.0L1273.5,1245.5ZM1279.3,1240.9L1288.9,1235.0L1289.0,1239.3L1279.4,1245.2Z" fill="#0c5549"/>
<path d="M1337.8,1195.4L1341.6,1193.1L1341.5,1197.2L1337.7,1199.6ZM1337.7,1198.6L1347.4,1192.7L1347.3,1196.8L1337.7,1202.8ZM1337.7,1201.8L1356.1,1190.5L1355.9,1194.6L1337.6,1205.9ZM1337.6,1205.0L1364.7,1188.3L1364.6,1192.3L1337.5,1209.1ZM1334.6,1210.0L1367.5,1189.6L1367.3,1193.7L1334.5,1214.1ZM1334.6,1213.2L1370.3,1190.9L1370.1,1195.0L1334.5,1217.3ZM1334.5,1216.4L1370.1,1194.0L1369.9,1198.1L1334.4,1220.5ZM1334.4,1219.6L1361.3,1202.6L1361.2,1206.7L1334.4,1223.7ZM1334.4,1222.7L1361.2,1205.7L1361.0,1209.8L1334.3,1226.9ZM1331.4,1227.8L1361.1,1208.9L1360.9,1213.0L1331.4,1231.9ZM1331.4,1231.0L1358.1,1213.9L1357.9,1217.9L1331.3,1235.1ZM1328.5,1236.0L1358.0,1217.0L1357.8,1221.1L1328.4,1240.2ZM1328.4,1239.2L1357.9,1220.1L1357.7,1224.2L1328.4,1243.4ZM1331.2,1240.6L1357.7,1223.3L1357.6,1227.4L1331.2,1244.7ZM1331.2,1243.8L1357.6,1226.4L1357.5,1230.5L1331.1,1247.9ZM1331.1,1247.0L1357.5,1229.6L1357.4,1233.7L1331.0,1251.1ZM1333.9,1248.3L1357.4,1232.7L1357.2,1236.8L1333.8,1252.4ZM1333.8,1251.5L1360.1,1234.0L1359.9,1238.0L1333.8,1255.6Z" fill="#984f38"/>
<path d="M1270.5,1246.3L1277.2,1242.2L1277.3,1246.5L1270.6,1250.7ZM1264.8,1253.3L1286.0,1240.1L1286.1,1244.4L1264.9,1257.6ZM1262.0,1258.4L1289.0,1241.6L1289.0,1245.9L1262.1,1262.8ZM1259.2,1263.6L1289.0,1244.9L1289.1,1249.1L1259.3,1267.9ZM1262.2,1265.1L1289.1,1248.2L1289.1,1252.4L1262.3,1269.4ZM1265.2,1266.6L1289.1,1251.4L1289.2,1255.7L1265.3,1271.0ZM1268.1,1268.1L1292.0,1252.9L1292.1,1257.2L1268.3,1272.5ZM1276.9,1265.9L1286.3,1259.9L1286.4,1264.1L1276.9,1270.2Z" fill="#92613d"/>
<path d="M1233.3,1283.3L1239.9,1279.1L1240.1,1283.5L1233.5,1287.7ZM1233.5,1286.7L1248.7,1277.0L1248.9,1281.4L1233.7,1291.1ZM1233.6,1290.1L1251.7,1278.6L1251.9,1282.9L1233.8,1294.6ZM1233.8,1293.5L1251.9,1281.9L1252.0,1286.3L1234.0,1298.0ZM1234.0,1296.9L1252.0,1285.3L1252.2,1289.7L1234.2,1301.4ZM1234.1,1300.3L1252.1,1288.7L1252.3,1293.1L1234.4,1304.8ZM1234.3,1303.7L1252.3,1292.0L1252.4,1296.4L1234.5,1308.2ZM1234.5,1307.2L1255.2,1293.5L1255.4,1297.9L1234.7,1311.6ZM1234.6,1310.6L1255.4,1296.9L1255.5,1301.3L1234.9,1315.0ZM1234.8,1314.0L1255.5,1300.3L1255.6,1304.6L1235.0,1318.4ZM1235.0,1317.4L1255.6,1303.6L1255.8,1308.0L1235.2,1321.8Z" fill="#382c80"/>
<path d="M1360.5,1203.2L1370.0,1197.1L1369.8,1201.2L1360.3,1207.2ZM1360.3,1206.3L1369.9,1200.3L1369.7,1204.3L1360.2,1210.4ZM1360.2,1209.4L1369.7,1203.4L1369.5,1207.4L1360.1,1213.5ZM1357.2,1214.4L1372.4,1204.7L1372.2,1208.7L1357.1,1218.5ZM1357.1,1217.6L1372.3,1207.8L1372.1,1211.8L1357.0,1221.6ZM1357.0,1220.7L1372.1,1210.9L1371.9,1214.9L1356.8,1224.8ZM1356.9,1223.8L1372.0,1214.0L1371.8,1218.0L1356.7,1227.9ZM1356.8,1227.0L1371.8,1217.1L1371.6,1221.1L1356.6,1231.1ZM1356.7,1230.1L1371.7,1220.2L1371.5,1224.3L1356.5,1234.2ZM1356.5,1233.3L1371.5,1223.3L1371.3,1227.4L1356.4,1237.4ZM1359.2,1234.5L1371.4,1226.4L1371.2,1230.5L1359.1,1238.6Z" fill="#516774"/>
<path d="M1253.6,1273.9L1260.3,1269.7L1260.4,1274.1L1253.8,1278.3ZM1253.8,1277.3L1269.0,1267.6L1269.1,1271.9L1253.9,1281.7ZM1253.9,1280.7L1274.8,1267.2L1274.9,1271.5L1254.0,1285.0ZM1254.0,1284.0L1283.5,1265.0L1283.6,1269.3L1254.2,1288.4ZM1254.1,1287.4L1289.3,1264.6L1289.3,1268.9L1254.3,1291.7ZM1254.3,1290.7L1289.3,1267.9L1289.4,1272.2L1254.4,1295.1ZM1254.4,1294.1L1289.4,1271.2L1289.4,1275.4L1254.5,1298.5ZM1254.5,1297.5L1289.4,1274.5L1289.5,1278.7L1254.7,1301.8ZM1254.6,1300.8L1289.4,1277.7L1289.5,1282.0L1254.8,1305.2ZM1254.8,1304.2L1289.5,1281.0L1289.5,1285.3L1254.9,1308.6Z" fill="#2c373d"/>
<path d="M1317.0,1240.2L1323.6,1235.9L1323.6,1240.1L1317.0,1244.4ZM1305.6,1250.8L1326.5,1237.3L1326.4,1241.5L1305.6,1255.0ZM1291.3,1263.3L1326.4,1240.5L1326.4,1244.7L1291.3,1267.6ZM1288.5,1268.4L1329.2,1241.9L1329.2,1246.0L1288.5,1272.7ZM1288.5,1271.7L1329.2,1245.1L1329.1,1249.2L1288.6,1276.0ZM1288.6,1275.0L1332.0,1246.4L1331.9,1250.6L1288.6,1279.3ZM1288.6,1278.3L1334.7,1247.7L1334.7,1251.9L1288.7,1282.6ZM1322.5,1259.0L1334.7,1250.9L1334.6,1255.1L1322.5,1263.2Z" fill="#141461"/>
<path d="M1230.6,1156.0L1238.4,1319.1M1227.7,1161.0L1377.8,1084.0M1233.8,1154.4L1241.2,1317.2M1227.8,1164.4L1377.6,1087.1M1236.9,1152.8L1244.0,1315.3M1228.0,1167.8L1377.5,1090.2M1240.0,1151.2L1246.9,1313.4M1228.2,1171.2L1377.3,1093.4M1243.2,1149.6L1249.7,1311.6M1228.3,1174.6L1377.2,1096.5M1246.3,1148.0L1252.5,1309.7M1228.5,1178.0L1377.0,1099.6M1249.4,1146.4L1255.3,1307.8M1228.7,1181.4L1376.9,1102.7M1252.6,1144.8L1258.1,1305.9M1228.9,1184.8L1376.7,1105.8M1255.7,1143.2L1260.9,1304.0M1229.0,1188.2L1376.6,1108.9M1258.8,1141.6L1263.8,1302.1M1229.2,1191.6L1376.4,1112.0M1262.0,1140.0L1266.6,1300.2M1229.4,1195.0L1376.3,1115.1M1265.1,1138.4L1269.4,1298.3M1229.5,1198.4L1376.1,1118.2M1268.2,1136.8L1272.2,1296.4M1229.7,1201.9L1376.0,1121.4M1271.4,1135.2L1275.0,1294.5M1229.9,1205.3L1375.8,1124.5M1274.5,1133.6L1277.8,1292.7M1230.0,1208.7L1375.7,1127.6M1277.6,1132.0L1280.7,1290.8M1230.2,1212.1L1375.5,1130.7M1280.8,1130.4L1283.5,1288.9M1230.4,1215.5L1375.4,1133.8M1283.9,1128.8L1286.3,1287.0M1230.5,1218.9L1375.2,1136.9M1287.0,1127.2L1289.1,1285.1M1230.7,1222.3L1375.1,1140.0M1290.2,1125.6L1291.9,1283.2M1230.9,1225.7L1374.9,1143.2M1293.3,1124.0L1294.8,1281.3M1231.0,1229.1L1374.8,1146.3M1296.4,1122.4L1297.6,1279.4M1231.2,1232.5L1374.6,1149.4M1299.6,1120.8L1300.4,1277.5M1231.4,1235.9L1374.5,1152.5M1302.7,1119.2L1303.2,1275.7M1231.5,1239.3L1374.3,1155.6M1305.8,1117.7L1306.0,1273.8M1231.7,1242.7L1374.2,1158.7M1309.0,1116.1L1308.8,1271.9M1231.9,1246.1L1374.1,1161.8M1312.1,1114.5L1311.6,1270.0M1232.1,1249.5L1373.9,1164.9M1315.2,1112.9L1314.5,1268.1M1232.2,1252.9L1373.8,1168.1M1318.4,1111.3L1317.3,1266.2M1232.4,1256.3L1373.6,1171.2M1321.5,1109.7L1320.1,1264.3M1232.6,1259.7L1373.5,1174.3M1324.6,1108.1L1322.9,1262.4M1232.7,1263.1L1373.3,1177.4M1327.8,1106.5L1325.7,1260.5M1232.9,1266.5L1373.2,1180.5M1330.9,1104.9L1328.5,1258.6M1233.1,1269.9L1373.0,1183.6M1334.0,1103.3L1331.4,1256.8M1233.2,1273.3L1372.9,1186.7M1337.2,1101.7L1334.2,1254.9M1233.4,1276.7L1372.7,1189.8M1340.3,1100.1L1337.0,1253.0M1233.6,1280.2L1372.6,1192.9M1343.4,1098.5L1339.8,1251.1M1233.7,1283.6L1372.4,1196.1M1346.6,1096.9L1342.6,1249.2M1233.9,1287.0L1372.3,1199.2M1349.7,1095.3L1345.4,1247.3M1234.1,1290.4L1372.1,1202.3M1352.8,1093.7L1348.3,1245.4M1234.2,1293.8L1372.0,1205.4M1356.0,1092.1L1351.1,1243.5M1234.4,1297.2L1371.8,1208.5M1359.1,1090.5L1353.9,1241.6M1234.6,1300.6L1371.7,1211.6M1362.2,1088.9L1356.7,1239.7M1234.8,1304.0L1371.5,1214.7M1365.4,1087.3L1359.5,1237.9M1234.9,1307.4L1371.4,1217.8M1368.5,1085.7L1362.3,1236.0M1235.1,1310.8L1371.2,1221.0M1371.6,1084.1L1365.2,1234.1M1235.3,1314.2L1371.1,1224.1M1374.8,1082.5L1368.0,1232.2M1235.4,1317.6L1370.9,1227.2" stroke="#102028" stroke-opacity="0.36" stroke-width="1.12" fill="none"/>
<polygon points="1523.2,1072.8 1666.6,1008.6 1793.8,1074.8 1787.7,1218.1 1659.5,1307.0 1542.4,1220.2" fill="#6e7b7e"/>
<path d="M1522.6,1072.8L1579.0,1047.6L1581.3,1048.8L1524.9,1074.1ZM1524.4,1073.8L1580.7,1048.5L1583.0,1049.8L1526.6,1075.2ZM1526.1,1074.9L1582.5,1049.5L1584.8,1050.8L1528.4,1076.2ZM1527.8,1075.9L1584.2,1050.5L1586.5,1051.8L1530.1,1077.3ZM1529.6,1077.0L1586.0,1051.5L1588.3,1052.8L1531.8,1078.3ZM1531.3,1078.0L1587.7,1052.5L1590.0,1053.8L1533.6,1079.4ZM1533.0,1079.0L1589.5,1053.5L1591.8,1054.8L1535.3,1080.4ZM1534.8,1080.1L1591.2,1054.5L1593.5,1055.8L1537.0,1081.4ZM1536.5,1081.1L1593.0,1055.5L1595.2,1056.8L1538.8,1082.5ZM1538.2,1082.2L1594.7,1056.5L1597.0,1057.8L1540.5,1083.5ZM1540.0,1083.2L1596.5,1057.5L1598.7,1058.8L1542.2,1084.6ZM1541.7,1084.3L1598.2,1058.5L1600.5,1059.8L1544.0,1085.6ZM1543.4,1085.3L1598.0,1060.4L1600.2,1061.7L1545.7,1086.7ZM1545.2,1086.4L1547.8,1085.2L1550.0,1086.5L1547.4,1087.7ZM1581.1,1069.9L1599.7,1061.4L1602.0,1062.7L1583.4,1071.2Z" fill="#0f7560"/>
<path d="M1578.4,1047.8L1626.8,1026.2L1629.1,1027.4L1580.7,1049.1ZM1580.2,1048.8L1626.6,1028.0L1628.9,1029.2L1582.4,1050.1ZM1581.9,1049.8L1628.3,1029.0L1630.6,1030.2L1584.2,1051.1ZM1583.6,1050.8L1628.1,1030.8L1630.4,1032.1L1585.9,1052.1ZM1585.4,1051.8L1629.8,1031.8L1632.1,1033.0L1587.7,1053.1ZM1587.1,1052.8L1631.6,1032.7L1633.9,1034.0L1589.4,1054.1ZM1588.9,1053.8L1631.4,1034.6L1633.6,1035.8L1591.2,1055.1ZM1590.6,1054.8L1633.1,1035.5L1635.4,1036.8L1592.9,1056.1ZM1592.4,1055.8L1634.9,1036.5L1637.2,1037.8L1594.6,1057.1ZM1594.1,1056.8L1634.6,1038.4L1636.9,1039.6L1596.4,1058.1ZM1595.9,1057.8L1634.4,1040.2L1636.7,1041.5L1598.1,1059.1ZM1597.6,1058.8L1636.2,1041.2L1638.4,1042.5L1599.9,1060.1ZM1599.4,1059.8L1635.9,1043.1L1638.2,1044.3L1601.6,1061.1ZM1601.1,1060.8L1635.7,1045.0L1637.9,1046.2L1603.4,1062.1ZM1604.9,1060.8L1635.4,1046.8L1637.7,1048.1L1607.1,1062.1ZM1612.6,1059.1L1633.2,1049.6L1635.5,1050.9L1614.9,1060.4ZM1616.3,1059.2L1628.9,1053.4L1631.2,1054.6L1618.6,1060.4ZM1618.1,1060.1L1626.7,1056.2L1629.0,1057.5L1620.4,1061.4ZM1621.8,1060.2L1624.4,1059.0L1626.7,1060.3L1624.1,1061.5Z" fill="#5b40b5"/>
<path d="M1626.2,1026.4L1640.7,1019.9L1643.0,1021.1L1628.5,1027.7ZM1626.0,1028.3L1642.5,1020.9L1644.8,1022.1L1628.3,1029.5ZM1627.7,1029.2L1644.3,1021.8L1646.6,1023.0L1630.0,1030.5ZM1627.5,1031.1L1644.0,1023.6L1646.3,1024.9L1629.8,1032.3ZM1629.2,1032.0L1645.8,1024.6L1648.1,1025.8L1631.5,1033.3ZM1631.0,1033.0L1645.6,1026.4L1647.8,1027.7L1633.3,1034.2ZM1630.8,1034.9L1647.3,1027.4L1649.6,1028.6L1633.0,1036.1ZM1632.5,1035.8L1649.1,1028.3L1651.4,1029.5L1634.8,1037.1ZM1634.3,1036.8L1648.8,1030.2L1651.1,1031.4L1636.6,1038.0ZM1634.0,1038.6L1650.6,1031.1L1652.9,1032.3L1636.3,1039.9ZM1635.8,1039.6L1650.4,1033.0L1652.7,1034.2L1638.1,1040.9ZM1635.6,1041.5L1652.1,1033.9L1654.4,1035.2L1637.8,1042.7ZM1637.3,1042.4L1653.9,1034.9L1656.2,1036.1L1639.6,1043.7ZM1647.1,1039.7L1655.6,1035.8L1657.9,1037.0L1649.3,1041.0Z" fill="#a3a7c8"/>
<path d="M1640.1,1020.2L1666.6,1008.3L1668.9,1009.5L1642.4,1021.4ZM1641.9,1021.1L1668.4,1009.2L1670.7,1010.4L1644.2,1022.4ZM1643.7,1022.1L1670.2,1010.2L1672.5,1011.4L1646.0,1023.3ZM1643.4,1023.9L1671.9,1011.1L1674.2,1012.3L1645.7,1025.1ZM1645.2,1024.9L1673.7,1012.0L1676.0,1013.2L1647.5,1026.1ZM1645.0,1026.7L1675.5,1012.9L1677.8,1014.1L1647.2,1027.9ZM1646.7,1027.6L1677.2,1013.8L1679.5,1015.0L1649.0,1028.9ZM1648.5,1028.6L1679.0,1014.8L1681.3,1016.0L1650.8,1029.8ZM1648.2,1030.4L1678.8,1016.6L1681.1,1017.8L1650.5,1031.7ZM1650.0,1031.4L1680.5,1017.5L1682.8,1018.7L1652.3,1032.6ZM1649.8,1033.2L1682.3,1018.4L1684.6,1019.6L1652.1,1034.5ZM1651.5,1034.2L1682.1,1020.3L1684.4,1021.5L1653.8,1035.4ZM1653.3,1035.1L1681.8,1022.1L1684.1,1023.3L1655.6,1036.4ZM1655.0,1036.1L1681.6,1023.9L1683.9,1025.1L1657.3,1037.3ZM1656.8,1037.0L1681.4,1025.8L1683.7,1027.0L1659.1,1038.3ZM1660.6,1037.1L1681.1,1027.6L1683.4,1028.8L1662.8,1038.3ZM1666.3,1036.2L1680.9,1029.5L1683.2,1030.7L1668.6,1037.4ZM1674.1,1034.4L1678.7,1032.2L1681.0,1033.5L1676.4,1035.6Z" fill="#e2876a"/>
<path d="M1678.2,1016.9L1680.8,1015.7L1683.1,1016.9L1680.5,1018.1ZM1679.9,1017.8L1682.5,1016.6L1684.8,1017.8L1682.2,1019.0ZM1633.8,1040.5L1636.4,1039.3L1638.7,1040.6L1636.1,1041.8ZM1681.7,1018.7L1684.3,1017.5L1686.6,1018.7L1684.0,1019.9ZM1681.5,1020.5L1686.1,1018.4L1688.4,1019.6L1683.8,1021.7ZM1597.4,1060.7L1600.0,1059.5L1602.2,1060.8L1599.6,1062.0ZM1635.3,1043.4L1637.9,1042.2L1640.2,1043.4L1637.6,1044.6ZM1681.2,1022.4L1687.8,1019.4L1690.1,1020.6L1683.5,1023.6ZM1599.1,1061.7L1601.7,1060.5L1604.0,1061.8L1601.4,1063.0ZM1635.1,1045.2L1637.7,1044.0L1639.9,1045.3L1637.3,1046.5ZM1645.1,1040.7L1647.7,1039.5L1649.9,1040.7L1647.3,1041.9ZM1681.0,1024.2L1689.6,1020.3L1691.9,1021.5L1683.3,1025.4ZM1546.9,1087.4L1549.5,1086.2L1551.8,1087.6L1549.2,1088.8ZM1598.9,1063.6L1605.5,1060.6L1607.7,1061.9L1601.1,1064.9ZM1634.8,1047.1L1637.4,1045.9L1639.7,1047.2L1637.1,1048.4ZM1654.8,1038.0L1657.4,1036.8L1659.7,1038.0L1657.1,1039.2ZM1680.8,1026.1L1691.4,1021.2L1693.7,1022.4L1683.1,1027.3ZM1602.6,1063.7L1613.2,1058.8L1615.5,1060.1L1604.9,1065.0ZM1632.6,1049.9L1637.2,1047.8L1639.5,1049.1L1634.9,1051.2ZM1680.5,1027.9L1693.1,1022.1L1695.4,1023.3L1682.8,1029.1ZM1604.3,1064.7L1606.9,1063.5L1609.2,1064.8L1606.6,1066.0ZM1614.3,1060.1L1616.9,1058.9L1619.2,1060.2L1616.6,1061.4ZM1628.3,1053.6L1638.9,1048.8L1641.2,1050.0L1630.6,1054.9ZM1680.3,1029.7L1694.9,1023.0L1697.2,1024.2L1682.6,1031.0ZM1626.1,1056.5L1638.7,1050.7L1641.0,1051.9L1628.4,1057.7ZM1678.1,1032.5L1696.7,1024.0L1699.0,1025.1L1680.4,1033.7ZM1619.8,1061.1L1622.4,1059.9L1624.7,1061.2L1622.1,1062.4ZM1623.8,1059.3L1632.4,1055.3L1634.7,1056.6L1626.1,1060.6ZM1635.8,1053.8L1640.4,1051.6L1642.7,1052.9L1638.1,1055.0ZM1677.8,1034.4L1698.4,1024.9L1700.7,1026.1L1680.1,1035.6ZM1621.6,1062.1L1624.2,1060.9L1626.5,1062.2L1623.9,1063.4ZM1639.6,1053.8L1642.2,1052.6L1644.5,1053.9L1641.9,1055.1ZM1679.6,1035.3L1700.2,1025.8L1702.5,1027.0L1681.9,1036.5ZM1621.3,1064.0L1623.9,1062.8L1626.2,1064.1L1623.6,1065.3ZM1681.4,1036.3L1702.0,1026.7L1704.3,1027.9L1683.7,1037.5ZM1623.1,1065.0L1625.7,1063.8L1628.0,1065.1L1625.4,1066.3ZM1683.1,1037.2L1703.7,1027.6L1706.0,1028.8L1685.4,1038.4ZM1622.8,1066.9L1625.4,1065.7L1627.7,1067.0L1625.1,1068.2ZM1684.9,1038.1L1705.5,1028.6L1707.8,1029.7L1687.2,1039.3ZM1622.6,1068.9L1627.2,1066.7L1629.5,1068.0L1624.8,1070.2ZM1688.6,1038.1L1707.3,1029.5L1709.6,1030.7L1690.9,1039.3ZM1610.3,1076.4L1612.9,1075.2L1615.2,1076.5L1612.6,1077.7ZM1622.3,1070.8L1626.9,1068.6L1629.2,1069.9L1624.6,1072.1ZM1690.4,1039.1L1709.0,1030.4L1711.3,1031.6L1692.7,1040.3ZM1626.1,1070.9L1628.7,1069.6L1630.9,1070.9L1628.3,1072.1ZM1692.2,1040.0L1710.8,1031.3L1713.1,1032.5L1694.5,1041.2ZM1609.8,1080.3L1614.4,1078.1L1616.7,1079.4L1612.0,1081.6ZM1691.9,1041.9L1712.6,1032.2L1714.9,1033.4L1694.2,1043.1ZM1607.5,1083.2L1616.1,1079.1L1618.4,1080.4L1609.8,1084.5ZM1691.7,1043.7L1714.3,1033.1L1716.6,1034.3L1694.0,1045.0ZM1601.2,1087.9L1619.9,1079.2L1622.2,1080.5L1603.5,1089.3ZM1691.4,1045.6L1716.1,1034.1L1718.4,1035.3L1693.7,1046.9ZM1605.0,1088.0L1627.6,1077.4L1629.9,1078.7L1607.2,1089.3ZM1629.0,1076.7L1631.7,1075.5L1633.9,1076.8L1631.3,1078.0ZM1675.2,1055.0L1685.8,1050.1L1688.1,1051.3L1677.4,1056.3ZM1689.2,1048.5L1717.9,1035.0L1720.2,1036.2L1691.5,1049.7ZM1598.7,1092.8L1601.3,1091.6L1603.6,1092.9L1601.0,1094.1ZM1608.7,1088.1L1633.4,1076.5L1635.7,1077.8L1611.0,1089.4ZM1676.9,1056.0L1679.5,1054.8L1681.8,1056.0L1679.2,1057.2ZM1693.0,1048.5L1719.6,1035.9L1721.9,1037.1L1695.3,1049.7ZM1590.4,1098.5L1593.0,1097.3L1595.3,1098.7L1592.7,1099.9ZM1612.5,1088.1L1637.2,1076.5L1639.4,1077.8L1614.7,1089.5ZM1678.7,1057.0L1681.3,1055.7L1683.6,1057.0L1681.0,1058.2ZM1694.7,1049.4L1721.4,1036.8L1723.7,1038.0L1697.0,1050.6ZM1584.1,1103.4L1586.7,1102.1L1589.0,1103.5L1586.4,1104.7ZM1614.2,1089.2L1638.9,1077.5L1641.2,1078.8L1616.5,1090.5ZM1680.4,1057.9L1683.0,1056.7L1685.3,1057.9L1682.7,1059.2ZM1696.5,1050.3L1723.2,1037.7L1725.5,1038.9L1698.8,1051.6ZM1618.0,1089.2L1640.6,1078.5L1642.9,1079.8L1620.2,1090.5ZM1682.2,1058.9L1684.8,1057.6L1687.1,1058.9L1684.5,1060.1ZM1700.3,1050.3L1724.9,1038.7L1727.2,1039.9L1702.5,1051.6ZM1621.7,1089.3L1646.4,1077.6L1648.7,1078.9L1624.0,1090.6ZM1683.9,1059.8L1686.6,1058.6L1688.8,1059.8L1686.2,1061.1ZM1702.0,1051.3L1726.7,1039.6L1729.0,1040.8L1704.3,1052.5ZM1623.5,1090.3L1650.2,1077.6L1652.4,1078.9L1625.7,1091.6ZM1685.7,1060.8L1688.3,1059.5L1690.6,1060.8L1688.0,1062.0ZM1705.8,1051.3L1728.5,1040.5L1730.8,1041.7L1708.1,1052.5ZM1625.2,1091.3L1653.9,1077.7L1656.2,1078.9L1627.5,1092.6ZM1687.5,1061.7L1690.1,1060.5L1692.4,1061.7L1689.7,1063.0ZM1707.5,1052.2L1730.2,1041.4L1732.5,1042.6L1709.8,1053.4ZM1624.9,1093.3L1659.7,1076.7L1662.0,1078.0L1627.2,1094.6ZM1689.2,1062.7L1691.8,1061.5L1694.1,1062.7L1691.5,1063.9ZM1711.3,1052.2L1732.0,1042.3L1734.3,1043.5L1713.6,1053.4ZM1626.7,1094.3L1663.4,1076.8L1665.7,1078.0L1628.9,1095.6ZM1691.0,1063.6L1693.6,1062.4L1695.9,1063.6L1693.3,1064.9ZM1713.1,1053.1L1733.8,1043.3L1736.1,1044.5L1715.4,1054.3ZM1628.4,1095.3L1669.2,1075.8L1671.5,1077.1L1630.7,1096.6ZM1692.7,1064.6L1695.3,1063.4L1697.6,1064.6L1695.0,1065.8ZM1716.8,1053.1L1735.5,1044.2L1737.8,1045.4L1719.1,1054.3ZM1630.2,1096.3L1671.0,1076.8L1673.2,1078.1L1632.4,1097.6ZM1694.5,1065.6L1697.1,1064.3L1699.4,1065.6L1696.8,1066.8ZM1720.6,1053.1L1737.3,1045.1L1739.6,1046.3L1722.9,1054.3ZM1631.9,1097.3L1672.7,1077.8L1675.0,1079.0L1634.2,1098.6ZM1696.2,1066.5L1698.9,1065.3L1701.1,1066.5L1698.5,1067.8ZM1724.4,1053.0L1739.1,1046.0L1741.4,1047.2L1726.7,1054.3ZM1633.6,1098.3L1674.5,1078.8L1676.7,1080.0L1635.9,1099.6ZM1696.0,1068.4L1700.6,1066.2L1702.9,1067.5L1698.3,1069.7ZM1726.2,1054.0L1740.8,1046.9L1743.1,1048.1L1728.4,1055.2ZM1635.4,1099.3L1674.2,1080.7L1676.5,1082.0L1637.7,1100.7ZM1697.7,1069.4L1702.4,1067.2L1704.7,1068.4L1700.0,1070.6ZM1729.9,1053.9L1742.6,1047.9L1744.9,1049.0L1732.2,1055.1ZM1635.1,1101.3L1678.0,1080.7L1680.3,1082.0L1637.4,1102.6ZM1699.5,1070.4L1706.1,1067.2L1708.4,1068.4L1701.8,1071.6ZM1733.7,1053.9L1744.4,1048.8L1746.7,1050.0L1736.0,1055.1ZM1600.6,1119.8L1603.3,1118.5L1605.5,1119.9L1602.9,1121.1ZM1636.9,1102.3L1661.6,1090.4L1663.9,1091.7L1639.1,1103.7ZM1665.0,1088.8L1673.7,1084.6L1676.0,1085.9L1667.3,1090.0ZM1677.1,1082.9L1681.7,1080.7L1684.0,1082.0L1679.4,1084.2ZM1701.3,1071.3L1707.9,1068.1L1710.2,1069.4L1703.5,1072.6ZM1735.5,1054.8L1746.1,1049.7L1748.4,1050.9L1737.8,1056.0ZM1602.4,1120.8L1605.0,1119.6L1607.2,1120.9L1604.6,1122.2ZM1636.6,1104.3L1661.3,1092.4L1663.6,1093.7L1638.9,1105.6ZM1672.8,1086.8L1675.4,1085.6L1677.7,1086.9L1675.1,1088.1ZM1703.0,1072.3L1709.7,1069.1L1711.9,1070.3L1705.3,1073.5ZM1733.2,1057.7L1747.9,1050.6L1750.2,1051.8L1735.5,1058.9ZM1604.1,1121.9L1606.7,1120.6L1609.0,1122.0L1606.4,1123.2ZM1638.3,1105.3L1661.1,1094.3L1663.4,1095.6L1640.6,1106.7ZM1704.8,1073.2L1711.4,1070.0L1713.7,1071.3L1707.1,1074.5ZM1733.0,1059.6L1749.7,1051.5L1752.0,1052.7L1735.3,1060.8ZM1605.8,1122.9L1608.5,1121.7L1610.7,1123.0L1608.1,1124.3ZM1638.1,1107.3L1660.8,1096.3L1663.1,1097.6L1640.3,1108.6ZM1708.5,1073.2L1715.2,1070.0L1717.5,1071.2L1710.8,1074.5ZM1730.7,1062.5L1751.4,1052.4L1753.7,1053.6L1733.0,1063.7ZM1607.6,1124.0L1612.2,1121.7L1614.5,1123.1L1609.8,1125.3ZM1639.8,1108.3L1662.6,1097.3L1664.8,1098.6L1642.1,1109.7ZM1710.3,1074.2L1716.9,1070.9L1719.2,1072.2L1712.6,1075.4ZM1724.4,1067.3L1753.2,1053.4L1755.5,1054.6L1726.7,1068.6ZM1609.3,1125.0L1613.9,1122.8L1616.2,1124.1L1611.6,1126.4ZM1643.6,1108.4L1662.3,1099.3L1664.6,1100.6L1645.8,1109.7ZM1712.1,1075.1L1755.0,1054.3L1757.3,1055.5L1714.3,1076.4ZM1611.0,1126.1L1615.7,1123.8L1617.9,1125.2L1613.3,1127.4ZM1649.3,1107.4L1662.0,1101.3L1664.3,1102.6L1651.6,1108.8ZM1703.7,1081.0L1706.4,1079.7L1708.6,1081.0L1706.0,1082.2ZM1715.8,1075.1L1756.7,1055.2L1759.0,1056.4L1718.1,1076.3ZM1612.8,1127.1L1617.4,1124.8L1619.7,1126.2L1615.0,1128.5ZM1655.1,1106.5L1663.8,1102.3L1666.0,1103.6L1657.4,1107.8ZM1717.6,1076.1L1758.5,1056.1L1760.8,1057.3L1719.9,1077.3ZM1614.5,1128.1L1617.1,1126.9L1619.4,1128.2L1616.8,1129.5ZM1656.8,1107.5L1665.5,1103.3L1667.8,1104.6L1659.1,1108.8ZM1723.4,1075.0L1760.3,1057.0L1762.6,1058.2L1725.7,1076.3ZM1616.2,1129.2L1618.9,1127.9L1621.1,1129.3L1618.5,1130.5ZM1660.6,1107.5L1667.3,1104.3L1669.5,1105.6L1662.9,1108.8ZM1727.2,1075.0L1762.0,1058.0L1764.3,1059.2L1729.4,1076.2ZM1618.0,1130.2L1620.6,1129.0L1622.8,1130.3L1620.2,1131.6ZM1662.3,1108.5L1669.0,1105.3L1671.3,1106.6L1664.6,1109.8ZM1732.9,1074.0L1763.8,1058.9L1766.1,1060.1L1735.2,1075.2ZM1619.7,1131.3L1622.3,1130.0L1624.6,1131.4L1622.0,1132.6ZM1666.1,1108.5L1670.7,1106.3L1673.0,1107.6L1668.4,1109.8ZM1744.8,1070.0L1765.6,1059.8L1767.9,1061.0L1747.1,1071.2ZM1621.4,1132.3L1624.1,1131.0L1626.3,1132.4L1623.7,1133.7ZM1667.9,1109.5L1674.5,1106.3L1676.8,1107.6L1670.1,1110.9ZM1752.6,1068.0L1767.3,1060.7L1769.6,1061.9L1754.9,1069.2ZM1623.2,1133.4L1625.8,1132.1L1628.0,1133.4L1625.4,1134.7ZM1671.6,1109.6L1676.3,1107.3L1678.5,1108.6L1673.9,1110.9ZM1718.0,1086.7L1724.7,1083.5L1727.0,1084.7L1720.3,1088.0ZM1754.4,1068.9L1769.1,1061.6L1771.4,1062.8L1756.7,1070.1ZM1624.9,1134.4L1627.5,1133.1L1629.8,1134.5L1627.2,1135.8ZM1675.4,1109.6L1680.0,1107.3L1682.3,1108.6L1677.6,1110.9ZM1717.8,1088.7L1728.5,1083.4L1730.8,1084.7L1720.1,1090.0ZM1758.2,1068.8L1770.9,1062.6L1773.2,1063.8L1760.4,1070.0ZM1626.6,1135.5L1629.3,1134.2L1631.5,1135.5L1628.9,1136.8ZM1677.1,1110.6L1681.8,1108.3L1684.0,1109.6L1679.4,1111.9ZM1719.5,1089.7L1722.2,1088.4L1724.4,1089.6L1721.8,1090.9ZM1759.9,1069.8L1772.6,1063.5L1774.9,1064.7L1762.2,1071.0ZM1628.4,1136.5L1631.0,1135.2L1633.3,1136.6L1630.6,1137.9ZM1680.9,1110.6L1683.5,1109.3L1685.8,1110.6L1683.2,1111.9ZM1733.4,1084.6L1738.0,1082.4L1740.3,1083.6L1735.7,1085.9ZM1763.7,1069.7L1774.4,1064.4L1776.7,1065.6L1766.0,1070.9ZM1630.1,1137.5L1632.7,1136.2L1635.0,1137.6L1632.4,1138.9ZM1682.6,1111.6L1687.3,1109.3L1689.5,1110.6L1684.9,1112.9ZM1735.2,1085.6L1737.8,1084.3L1740.1,1085.5L1737.4,1086.8ZM1765.5,1070.6L1776.2,1065.3L1778.5,1066.5L1767.8,1071.8ZM1631.8,1138.6L1634.5,1137.3L1636.7,1138.6L1634.1,1140.0ZM1686.4,1111.6L1689.0,1110.3L1691.3,1111.6L1688.7,1112.9ZM1736.9,1086.6L1739.5,1085.3L1741.8,1086.5L1739.2,1087.8ZM1769.2,1070.5L1777.9,1066.2L1780.2,1067.4L1771.5,1071.7ZM1633.6,1139.6L1636.2,1138.3L1638.5,1139.7L1635.8,1141.0ZM1690.2,1111.6L1692.8,1110.3L1695.1,1111.6L1692.4,1112.9ZM1738.7,1087.5L1741.3,1086.2L1743.6,1087.4L1741.0,1088.7ZM1771.0,1071.5L1779.7,1067.2L1782.0,1068.4L1773.3,1072.7ZM1635.3,1140.7L1637.9,1139.4L1640.2,1140.7L1637.6,1142.0ZM1691.9,1112.6L1694.5,1111.3L1696.8,1112.6L1694.2,1113.9ZM1740.4,1088.5L1743.1,1087.2L1745.3,1088.4L1742.7,1089.7ZM1774.8,1071.4L1781.5,1068.1L1783.8,1069.3L1777.1,1072.6ZM1776.6,1072.3L1783.2,1069.0L1785.5,1070.2L1778.9,1073.5ZM1697.4,1113.5L1700.1,1112.2L1702.3,1113.5L1699.7,1114.8ZM1780.4,1072.2L1785.0,1069.9L1787.3,1071.1L1782.6,1073.4ZM1699.2,1114.5L1701.8,1113.2L1704.1,1114.5L1701.4,1115.8ZM1782.1,1073.2L1786.8,1070.8L1789.1,1072.0L1784.4,1074.4ZM1702.9,1114.5L1705.6,1113.2L1707.8,1114.5L1705.2,1115.8ZM1785.9,1073.1L1788.5,1071.8L1790.8,1072.9L1788.2,1074.3ZM1704.7,1115.5L1707.3,1114.2L1709.6,1115.5L1707.0,1116.8ZM1787.7,1074.0L1790.3,1072.7L1792.6,1073.9L1790.0,1075.2ZM1708.5,1115.5L1711.1,1114.2L1713.4,1115.5L1710.7,1116.8ZM1749.0,1095.2L1751.6,1093.9L1753.9,1095.1L1751.2,1096.4Z" fill="#aabcb7"/>
<path d="M1547.2,1085.4L1581.7,1069.6L1584.0,1070.9L1549.4,1086.8ZM1548.9,1086.5L1599.5,1063.3L1601.7,1064.6L1551.2,1087.8ZM1548.6,1088.4L1603.2,1063.4L1605.5,1064.7L1550.9,1089.8ZM1550.4,1089.5L1604.9,1064.4L1607.2,1065.7L1552.6,1090.9ZM1554.1,1089.6L1606.7,1065.4L1609.0,1066.7L1556.4,1091.0ZM1557.8,1089.7L1608.4,1066.4L1610.7,1067.7L1560.1,1091.1ZM1563.6,1088.9L1608.2,1068.3L1610.5,1069.6L1565.8,1090.3ZM1567.3,1089.0L1609.9,1069.3L1612.2,1070.6L1569.6,1090.4ZM1571.0,1089.1L1609.7,1071.2L1611.9,1072.5L1573.3,1090.5ZM1574.8,1089.3L1609.4,1073.2L1611.7,1074.5L1577.0,1090.6ZM1578.5,1089.4L1611.2,1074.2L1613.4,1075.5L1580.8,1090.7ZM1582.3,1089.5L1610.9,1076.1L1613.2,1077.4L1584.5,1090.8ZM1586.0,1089.5L1612.6,1077.1L1614.9,1078.4L1588.3,1090.9ZM1591.7,1088.7L1610.4,1080.0L1612.6,1081.3L1594.0,1090.0ZM1595.5,1088.8L1608.1,1082.9L1610.4,1084.2L1597.8,1090.1Z" fill="#bdb367"/>
<path d="M1637.1,1044.3L1645.7,1040.4L1647.9,1041.6L1639.3,1045.6ZM1636.8,1046.2L1655.4,1037.7L1657.7,1038.9L1639.1,1047.5ZM1636.6,1048.1L1661.2,1036.8L1663.4,1038.0L1638.9,1049.3ZM1638.3,1049.0L1666.9,1035.9L1669.2,1037.1L1640.6,1050.3ZM1638.1,1050.9L1674.7,1034.1L1677.0,1035.3L1640.4,1052.2ZM1639.8,1051.9L1678.4,1034.1L1680.7,1035.3L1642.1,1053.2ZM1641.6,1052.9L1680.2,1035.0L1682.5,1036.3L1643.9,1054.1ZM1643.3,1053.8L1682.0,1036.0L1684.3,1037.2L1645.6,1055.1ZM1647.1,1053.9L1683.7,1036.9L1686.0,1038.1L1649.4,1055.1ZM1650.9,1053.9L1685.5,1037.8L1687.8,1039.1L1653.1,1055.2ZM1654.6,1054.0L1689.2,1037.9L1691.5,1039.1L1656.9,1055.2ZM1658.4,1054.0L1691.0,1038.8L1693.3,1040.0L1660.6,1055.2ZM1662.1,1054.0L1692.8,1039.7L1695.1,1040.9L1664.4,1055.3ZM1665.9,1054.0L1692.5,1041.6L1694.8,1042.8L1668.2,1055.3ZM1667.6,1055.0L1692.3,1043.5L1694.6,1044.7L1669.9,1056.3ZM1671.4,1055.0L1692.0,1045.3L1694.3,1046.6L1673.7,1056.3Z" fill="#d8dab8"/>
<path d="M1606.3,1063.8L1614.9,1059.8L1617.2,1061.1L1608.6,1065.1ZM1606.1,1065.7L1618.7,1059.9L1621.0,1061.2L1608.4,1067.0ZM1607.8,1066.7L1620.4,1060.9L1622.7,1062.1L1610.1,1068.0ZM1607.6,1068.6L1622.2,1061.8L1624.5,1063.1L1609.9,1069.9ZM1609.3,1069.6L1621.9,1063.8L1624.2,1065.0L1611.6,1070.9ZM1609.1,1071.5L1623.7,1064.7L1626.0,1066.0L1611.3,1072.8ZM1608.8,1073.5L1623.4,1066.7L1625.7,1068.0L1611.1,1074.8ZM1610.6,1074.5L1623.2,1068.6L1625.4,1069.9L1612.8,1075.8ZM1612.3,1075.5L1622.9,1070.5L1625.2,1071.8L1614.6,1076.8ZM1612.0,1077.4L1626.7,1070.6L1628.9,1071.9L1614.3,1078.7ZM1613.8,1078.4L1628.4,1071.6L1630.7,1072.9L1616.1,1079.7ZM1615.5,1079.4L1630.2,1072.6L1632.4,1073.8L1617.8,1080.7ZM1619.3,1079.5L1631.9,1073.5L1634.2,1074.8L1621.5,1080.8ZM1627.0,1077.6L1629.6,1076.4L1631.9,1077.7L1629.3,1078.9Z" fill="#0b2762"/>
<path d="M1552.1,1090.5L1554.7,1089.3L1557.0,1090.7L1554.4,1091.9ZM1553.8,1091.6L1558.4,1089.5L1560.7,1090.8L1556.1,1092.9ZM1555.6,1092.6L1564.2,1088.7L1566.4,1090.0L1557.8,1094.0ZM1557.3,1093.7L1567.9,1088.8L1570.2,1090.1L1559.6,1095.0ZM1559.0,1094.7L1571.6,1088.9L1573.9,1090.2L1561.3,1096.1ZM1560.8,1095.8L1575.4,1089.0L1577.6,1090.3L1563.0,1097.1ZM1562.5,1096.8L1579.1,1089.1L1581.4,1090.4L1564.8,1098.2ZM1564.2,1097.8L1582.9,1089.2L1585.1,1090.5L1566.5,1099.2ZM1566.0,1098.9L1586.6,1089.3L1588.9,1090.6L1568.2,1100.3ZM1567.7,1099.9L1592.4,1088.4L1594.6,1089.8L1570.0,1101.3ZM1569.4,1101.0L1596.1,1088.5L1598.4,1089.8L1571.7,1102.3ZM1571.2,1102.0L1601.8,1087.6L1604.1,1089.0L1573.4,1103.4ZM1572.9,1103.1L1605.6,1087.7L1607.9,1089.0L1575.2,1104.4ZM1574.6,1104.1L1599.3,1092.5L1601.6,1093.8L1576.9,1105.5ZM1576.4,1105.2L1591.0,1098.3L1593.3,1099.6L1578.6,1106.5ZM1578.1,1106.2L1584.7,1103.1L1587.0,1104.4L1580.4,1107.6Z" fill="#8c2f80"/>
<path d="M1631.8,1055.6L1636.4,1053.5L1638.7,1054.7L1634.1,1056.9ZM1623.6,1061.2L1640.2,1053.5L1642.5,1054.8L1625.9,1062.5ZM1623.3,1063.1L1643.9,1053.6L1646.2,1054.8L1625.6,1064.4ZM1625.1,1064.1L1647.7,1053.6L1650.0,1054.9L1627.4,1065.4ZM1624.8,1066.0L1651.5,1053.6L1653.7,1054.9L1627.1,1067.3ZM1626.6,1067.0L1655.2,1053.7L1657.5,1054.9L1628.9,1068.3ZM1626.3,1068.9L1659.0,1053.7L1661.2,1055.0L1628.6,1070.2ZM1628.1,1069.9L1662.7,1053.7L1665.0,1055.0L1630.3,1071.2ZM1627.8,1071.8L1666.5,1053.8L1668.8,1055.0L1630.1,1073.1ZM1629.6,1072.8L1668.2,1054.7L1670.5,1056.0L1631.8,1074.1ZM1631.3,1073.8L1672.0,1054.7L1674.3,1056.0L1633.6,1075.1ZM1631.1,1075.8L1675.8,1054.8L1678.0,1056.0L1633.3,1077.1ZM1632.8,1076.8L1677.5,1055.7L1679.8,1057.0L1635.1,1078.0ZM1636.6,1076.8L1679.3,1056.7L1681.6,1057.9L1638.8,1078.1ZM1638.3,1077.8L1681.0,1057.6L1683.3,1058.9L1640.6,1079.1ZM1640.0,1078.8L1682.8,1058.6L1685.1,1059.8L1642.3,1080.1ZM1645.8,1077.9L1684.5,1059.5L1686.8,1060.8L1648.1,1079.2ZM1649.6,1077.9L1686.3,1060.5L1688.6,1061.7L1651.8,1079.2ZM1653.3,1078.0L1688.1,1061.5L1690.3,1062.7L1655.6,1079.2ZM1659.1,1077.0L1689.8,1062.4L1692.1,1063.6L1661.4,1078.3ZM1662.8,1077.1L1691.6,1063.4L1693.9,1064.6L1665.1,1078.3ZM1668.6,1076.1L1693.3,1064.3L1695.6,1065.6L1670.9,1077.4ZM1674.4,1075.2L1695.1,1065.3L1697.4,1066.5L1676.7,1076.4ZM1680.2,1074.2L1696.8,1066.2L1699.1,1067.5L1682.4,1075.5ZM1683.9,1074.2L1696.6,1068.1L1698.9,1069.4L1686.2,1075.5ZM1689.7,1073.3L1698.4,1069.1L1700.6,1070.4L1692.0,1074.5ZM1695.5,1072.3L1700.1,1070.1L1702.4,1071.3L1697.8,1073.5Z" fill="#dbd49a"/>
<path d="M1685.2,1050.3L1689.8,1048.2L1692.1,1049.4L1687.5,1051.6ZM1678.9,1055.1L1693.6,1048.2L1695.9,1049.4L1681.2,1056.3ZM1680.7,1056.0L1695.3,1049.1L1697.6,1050.3L1683.0,1057.3ZM1682.4,1057.0L1697.1,1050.1L1699.4,1051.3L1684.7,1058.2ZM1684.2,1057.9L1700.9,1050.0L1703.1,1051.3L1686.5,1059.2ZM1686.0,1058.9L1702.6,1051.0L1704.9,1052.2L1688.2,1060.1ZM1687.7,1059.8L1706.4,1051.0L1708.7,1052.2L1690.0,1061.1ZM1689.5,1060.8L1708.1,1051.9L1710.4,1053.1L1691.8,1062.0ZM1691.2,1061.7L1711.9,1051.9L1714.2,1053.1L1693.5,1063.0ZM1693.0,1062.7L1713.7,1052.8L1716.0,1054.0L1695.3,1063.9ZM1694.7,1063.6L1717.4,1052.8L1719.7,1054.0L1697.0,1064.9ZM1696.5,1064.6L1721.2,1052.8L1723.5,1054.0L1698.8,1065.8ZM1698.3,1065.6L1725.0,1052.8L1727.3,1054.0L1700.5,1066.8ZM1700.0,1066.5L1726.8,1053.7L1729.1,1054.9L1702.3,1067.8ZM1701.8,1067.5L1730.5,1053.6L1732.8,1054.9L1704.1,1068.7ZM1705.5,1067.5L1734.3,1053.6L1736.6,1054.8L1707.8,1068.7ZM1707.3,1068.4L1736.1,1054.5L1738.4,1055.7L1709.6,1069.6ZM1709.1,1069.4L1733.8,1057.4L1736.1,1058.6L1711.3,1070.6ZM1710.8,1070.3L1733.6,1059.3L1735.9,1060.5L1713.1,1071.5ZM1714.6,1070.3L1731.3,1062.2L1733.6,1063.4L1716.9,1071.5ZM1716.3,1071.2L1725.0,1067.0L1727.3,1068.3L1718.6,1072.5Z" fill="#25229a"/>
<path d="M1600.7,1091.9L1609.3,1087.8L1611.6,1089.1L1603.0,1093.2ZM1592.4,1097.6L1613.1,1087.9L1615.3,1089.2L1594.7,1098.9ZM1586.1,1102.4L1614.8,1088.9L1617.1,1090.2L1588.4,1103.8ZM1579.8,1107.3L1618.6,1088.9L1620.8,1090.3L1582.1,1108.6ZM1581.6,1108.3L1622.3,1089.0L1624.6,1090.3L1583.8,1109.7ZM1583.3,1109.3L1624.1,1090.0L1626.3,1091.3L1585.6,1110.7ZM1585.0,1110.4L1625.8,1091.0L1628.1,1092.3L1587.3,1111.7ZM1586.8,1111.4L1625.5,1093.0L1627.8,1094.3L1589.0,1112.8ZM1588.5,1112.5L1627.3,1094.0L1629.5,1095.3L1590.8,1113.8ZM1590.2,1113.5L1629.0,1095.0L1631.3,1096.3L1592.5,1114.9ZM1592.0,1114.6L1630.8,1096.0L1633.0,1097.3L1594.2,1115.9ZM1593.7,1115.6L1632.5,1097.0L1634.8,1098.3L1596.0,1117.0ZM1595.4,1116.7L1634.3,1098.0L1636.5,1099.4L1597.7,1118.0ZM1597.2,1117.7L1636.0,1099.1L1638.3,1100.4L1599.4,1119.1ZM1598.9,1118.7L1635.7,1101.0L1638.0,1102.4L1601.2,1120.1ZM1602.7,1118.8L1637.5,1102.0L1639.7,1103.4L1604.9,1120.2ZM1604.4,1119.9L1637.2,1104.0L1639.5,1105.3L1606.6,1121.2ZM1606.1,1120.9L1638.9,1105.0L1641.2,1106.4L1608.4,1122.3ZM1607.9,1121.9L1638.7,1107.0L1640.9,1108.4L1610.1,1123.3ZM1611.6,1122.0L1640.4,1108.1L1642.7,1109.4L1613.9,1123.4ZM1615.3,1122.1L1640.1,1110.0L1642.4,1111.4L1617.6,1123.4ZM1625.1,1119.2L1637.8,1113.0L1640.1,1114.4L1627.4,1120.5Z" fill="#a9bedf"/>
<path d="M1670.4,1077.1L1675.0,1074.9L1677.3,1076.1L1672.6,1078.4ZM1672.1,1078.1L1680.8,1073.9L1683.0,1075.2L1674.4,1079.3ZM1673.9,1079.0L1684.5,1073.9L1686.8,1075.2L1676.1,1080.3ZM1673.6,1081.0L1690.3,1073.0L1692.6,1074.2L1675.9,1082.3ZM1677.4,1081.0L1696.1,1072.0L1698.4,1073.2L1679.6,1082.3ZM1681.1,1081.0L1701.9,1071.0L1704.1,1072.3L1683.4,1082.3ZM1684.9,1081.0L1703.6,1072.0L1705.9,1073.2L1687.2,1082.3ZM1690.7,1080.0L1705.4,1072.9L1707.7,1074.2L1693.0,1081.3ZM1694.4,1080.0L1709.1,1072.9L1711.4,1074.2L1696.7,1081.3ZM1696.2,1081.0L1710.9,1073.9L1713.2,1075.1L1698.5,1082.3ZM1700.0,1081.0L1712.7,1074.8L1714.9,1076.1L1702.2,1082.2ZM1705.8,1080.0L1716.4,1074.8L1718.7,1076.0L1708.0,1081.3Z" fill="#a6aedb"/>
<path d="M1661.0,1090.7L1665.6,1088.5L1667.9,1089.8L1663.3,1092.0ZM1660.7,1092.7L1673.4,1086.5L1675.7,1087.8L1663.0,1094.0ZM1660.5,1094.6L1675.2,1087.5L1677.5,1088.8L1662.7,1095.9ZM1660.2,1096.6L1678.9,1087.5L1681.2,1088.8L1662.5,1097.9ZM1662.0,1097.6L1680.7,1088.5L1683.0,1089.8L1664.2,1098.9ZM1661.7,1099.6L1682.4,1089.5L1684.7,1090.8L1664.0,1100.9ZM1661.4,1101.6L1686.2,1089.5L1688.5,1090.8L1663.7,1102.9ZM1663.2,1102.6L1688.0,1090.5L1690.2,1091.8L1665.4,1103.9ZM1664.9,1103.6L1689.7,1091.5L1692.0,1092.7L1667.2,1104.9ZM1666.7,1104.6L1693.5,1091.5L1695.7,1092.7L1668.9,1105.9ZM1668.4,1105.6L1695.2,1092.4L1697.5,1093.7L1670.7,1106.9ZM1670.1,1106.6L1697.0,1093.4L1699.3,1094.7L1672.4,1107.9ZM1673.9,1106.6L1700.7,1093.4L1703.0,1094.7L1676.2,1107.9ZM1675.7,1107.6L1702.5,1094.4L1704.8,1095.6L1677.9,1108.9ZM1679.4,1107.6L1704.2,1095.4L1706.5,1096.6L1681.7,1108.9ZM1681.2,1108.6L1708.0,1095.3L1710.3,1096.6L1683.4,1109.9ZM1682.9,1109.6L1709.8,1096.3L1712.0,1097.6L1685.2,1110.9ZM1686.7,1109.6L1711.5,1097.3L1713.8,1098.6L1688.9,1110.9ZM1688.4,1110.6L1715.3,1097.3L1717.6,1098.5L1690.7,1111.9ZM1692.2,1110.6L1717.0,1098.2L1719.3,1099.5L1694.5,1111.9ZM1693.9,1111.6L1718.8,1099.2L1721.1,1100.5L1696.2,1112.9ZM1695.7,1112.6L1718.5,1101.2L1720.8,1102.5L1697.9,1113.8ZM1699.4,1112.5L1718.3,1103.2L1720.5,1104.4L1701.7,1113.8ZM1701.2,1113.5L1720.0,1104.1L1722.3,1105.4L1703.5,1114.8ZM1705.0,1113.5L1721.8,1105.1L1724.0,1106.4L1707.2,1114.8ZM1706.7,1114.5L1723.5,1106.1L1725.8,1107.4L1709.0,1115.8ZM1710.5,1114.5L1723.2,1108.1L1725.5,1109.4L1712.8,1115.8Z" fill="#cf2f2c"/>
<path d="M1673.1,1084.9L1677.7,1082.7L1680.0,1083.9L1675.4,1086.2ZM1674.8,1085.9L1685.5,1080.7L1687.8,1082.0L1677.1,1087.1ZM1674.6,1087.8L1691.3,1079.7L1693.6,1081.0L1676.8,1089.1ZM1678.3,1087.8L1695.1,1079.7L1697.3,1081.0L1680.6,1089.1ZM1680.1,1088.8L1696.8,1080.7L1699.1,1082.0L1682.4,1090.1ZM1681.8,1089.8L1700.6,1080.7L1702.9,1082.0L1684.1,1091.1ZM1685.6,1089.8L1704.3,1080.7L1706.6,1081.9L1687.9,1091.1ZM1687.4,1090.8L1708.1,1080.7L1710.4,1081.9L1689.6,1092.1ZM1689.1,1091.8L1709.9,1081.6L1712.1,1082.9L1691.4,1093.0ZM1692.9,1091.8L1711.6,1082.6L1713.9,1083.8L1695.1,1093.0ZM1694.6,1092.7L1713.4,1083.6L1715.7,1084.8L1696.9,1094.0ZM1696.4,1093.7L1715.1,1084.5L1717.4,1085.8L1698.6,1095.0ZM1700.1,1093.7L1716.9,1085.5L1719.2,1086.7L1702.4,1095.0ZM1701.9,1094.7L1718.6,1086.4L1720.9,1087.7L1704.2,1095.9ZM1703.6,1095.7L1718.4,1088.4L1720.7,1089.7L1705.9,1096.9ZM1707.4,1095.6L1720.1,1089.4L1722.4,1090.6L1709.7,1096.9ZM1709.2,1096.6L1719.9,1091.3L1722.1,1092.6L1711.4,1097.9ZM1710.9,1097.6L1719.6,1093.3L1721.9,1094.5L1713.2,1098.9ZM1714.7,1097.6L1717.3,1096.3L1719.6,1097.5L1717.0,1098.8Z" fill="#e98c6c"/>
<path d="M1613.3,1123.1L1616.0,1121.8L1618.2,1123.1L1615.6,1124.4ZM1639.5,1110.3L1644.2,1108.1L1646.4,1109.4L1641.8,1111.7ZM1615.1,1124.1L1625.7,1118.9L1628.0,1120.2L1617.3,1125.5ZM1637.2,1113.3L1649.9,1107.1L1652.2,1108.5L1639.5,1114.6ZM1616.8,1125.1L1655.7,1106.2L1658.0,1107.5L1619.1,1126.5ZM1616.5,1127.2L1657.4,1107.2L1659.7,1108.5L1618.8,1128.5ZM1618.3,1128.2L1661.2,1107.2L1663.5,1108.5L1620.5,1129.6ZM1620.0,1129.2L1663.0,1108.2L1665.2,1109.5L1622.2,1130.6ZM1621.7,1130.3L1666.7,1108.2L1669.0,1109.6L1624.0,1131.6ZM1623.5,1131.3L1668.5,1109.2L1670.7,1110.6L1625.7,1132.7ZM1625.2,1132.4L1672.2,1109.3L1674.5,1110.6L1627.4,1133.7ZM1626.9,1133.4L1676.0,1109.3L1678.3,1110.6L1629.2,1134.8ZM1628.7,1134.5L1677.7,1110.3L1680.0,1111.6L1630.9,1135.8ZM1630.4,1135.5L1681.5,1110.3L1683.8,1111.6L1632.6,1136.9ZM1632.1,1136.5L1683.2,1111.3L1685.5,1112.6L1634.4,1137.9ZM1633.9,1137.6L1687.0,1111.3L1689.3,1112.6L1636.1,1138.9ZM1635.6,1138.6L1690.8,1111.3L1693.0,1112.6L1637.8,1140.0ZM1637.3,1139.7L1692.5,1112.3L1694.8,1113.6L1639.6,1141.0ZM1637.0,1141.7L1696.3,1112.3L1698.6,1113.5L1639.3,1143.1ZM1638.8,1142.8L1698.0,1113.2L1700.3,1114.5L1641.0,1144.1ZM1640.5,1143.8L1699.8,1114.2L1702.1,1115.5L1642.8,1145.2ZM1642.2,1144.9L1703.5,1114.2L1705.8,1115.5L1644.5,1146.2ZM1644.0,1145.9L1705.3,1115.2L1707.6,1116.5L1646.2,1147.3ZM1645.7,1147.0L1709.1,1115.2L1711.3,1116.5L1648.0,1148.3Z" fill="#b5c4c3"/>
<path d="M1707.5,1081.0L1718.2,1075.8L1720.5,1077.0L1709.8,1082.2ZM1709.3,1081.9L1724.0,1074.7L1726.3,1076.0L1711.5,1083.2ZM1711.0,1082.9L1727.8,1074.7L1730.0,1075.9L1713.3,1084.1ZM1712.8,1083.9L1731.5,1074.7L1733.8,1075.9L1715.1,1085.1ZM1714.5,1084.8L1733.3,1075.6L1735.6,1076.9L1716.8,1086.1ZM1716.3,1085.8L1733.0,1077.6L1735.3,1078.8L1718.6,1087.0ZM1724.1,1083.8L1734.8,1078.5L1737.1,1079.7L1726.4,1085.0ZM1727.9,1083.7L1734.5,1080.4L1736.8,1081.7L1730.2,1085.0ZM1731.6,1083.7L1736.3,1081.4L1738.6,1082.6L1733.9,1084.9Z" fill="#a0cad3"/>
<path d="M1730.9,1075.0L1733.5,1073.7L1735.8,1074.9L1733.2,1076.2ZM1732.7,1075.9L1745.4,1069.7L1747.7,1070.9L1735.0,1077.1ZM1732.4,1077.9L1753.2,1067.7L1755.5,1068.9L1734.7,1079.1ZM1734.2,1078.8L1755.0,1068.6L1757.3,1069.8L1736.5,1080.0ZM1733.9,1080.7L1758.8,1068.5L1761.1,1069.7L1736.2,1082.0ZM1735.7,1081.7L1760.5,1069.5L1762.8,1070.7L1738.0,1082.9ZM1737.4,1082.6L1764.3,1069.4L1766.6,1070.6L1739.7,1083.9ZM1737.2,1084.6L1766.1,1070.3L1768.4,1071.5L1739.5,1085.8ZM1738.9,1085.6L1769.9,1070.2L1772.1,1071.4L1741.2,1086.8ZM1740.7,1086.5L1771.6,1071.2L1773.9,1072.4L1743.0,1087.7ZM1742.5,1087.5L1775.4,1071.1L1777.7,1072.3L1744.7,1088.7ZM1742.2,1089.4L1777.2,1072.0L1779.5,1073.2L1744.5,1090.7ZM1743.9,1090.4L1781.0,1071.9L1783.3,1073.1L1746.2,1091.6ZM1745.7,1091.3L1782.7,1072.9L1785.0,1074.1L1748.0,1092.6ZM1747.5,1092.3L1786.5,1072.8L1788.8,1074.0L1749.7,1093.5ZM1749.2,1093.2L1788.3,1073.7L1790.6,1074.9L1751.5,1094.5ZM1751.0,1094.2L1792.1,1073.6L1794.4,1074.8L1753.3,1095.4Z" fill="#d2cfd2"/>
<path d="M1721.5,1088.7L1732.3,1083.4L1734.5,1084.6L1723.8,1089.9ZM1719.3,1091.6L1734.0,1084.3L1736.3,1085.6L1721.5,1092.9ZM1719.0,1093.6L1735.8,1085.3L1738.1,1086.5L1721.3,1094.8ZM1716.7,1096.6L1737.5,1086.3L1739.8,1087.5L1719.0,1097.8ZM1716.4,1098.5L1739.3,1087.2L1741.6,1088.4L1718.7,1099.8ZM1718.2,1099.5L1741.0,1088.2L1743.3,1089.4L1720.5,1100.8ZM1717.9,1101.5L1742.8,1089.1L1745.1,1090.4L1720.2,1102.8ZM1717.7,1103.5L1744.6,1090.1L1746.8,1091.3L1719.9,1104.7ZM1719.4,1104.4L1746.3,1091.0L1748.6,1092.3L1721.7,1105.7ZM1721.2,1105.4L1748.1,1092.0L1750.4,1093.2L1723.4,1106.7ZM1722.9,1106.4L1749.8,1092.9L1752.1,1094.2L1725.2,1107.7ZM1722.6,1108.4L1749.6,1094.9L1751.8,1096.1L1724.9,1109.7Z" fill="#0a5c9c"/>
<path d="M1525.2,1071.9L1650.0,1147.0M1524.9,1073.8L1668.4,1009.5M1527.2,1071.0L1652.0,1146.0M1526.7,1074.9L1670.1,1010.4M1529.2,1070.1L1654.1,1145.0M1528.4,1075.9L1671.9,1011.4M1531.2,1069.2L1656.1,1143.9M1530.1,1077.0L1673.7,1012.3M1533.2,1068.3L1658.1,1142.9M1531.9,1078.0L1675.4,1013.2M1535.2,1067.4L1660.1,1141.9M1533.6,1079.1L1677.2,1014.1M1537.1,1066.6L1662.2,1140.9M1535.3,1080.1L1679.0,1015.0M1539.1,1065.7L1664.2,1139.9M1537.1,1081.2L1680.7,1016.0M1541.1,1064.8L1666.2,1138.8M1538.8,1082.2L1682.5,1016.9M1543.1,1063.9L1668.2,1137.8M1540.5,1083.2L1684.3,1017.8M1545.1,1063.0L1670.3,1136.8M1542.3,1084.3L1686.0,1018.7M1547.1,1062.1L1672.3,1135.8M1544.0,1085.3L1687.8,1019.6M1549.1,1061.2L1674.3,1134.8M1545.7,1086.4L1689.6,1020.6M1551.1,1060.3L1676.4,1133.8M1547.5,1087.4L1691.3,1021.5M1553.1,1059.4L1678.4,1132.8M1549.2,1088.5L1693.1,1022.4M1555.1,1058.5L1680.4,1131.7M1550.9,1089.5L1694.9,1023.3M1557.1,1057.6L1682.4,1130.7M1552.7,1090.6L1696.6,1024.2M1559.1,1056.8L1684.5,1129.7M1554.4,1091.6L1698.4,1025.2M1561.0,1055.9L1686.5,1128.7M1556.1,1092.6L1700.2,1026.1M1563.0,1055.0L1688.5,1127.7M1557.9,1093.7L1701.9,1027.0M1565.0,1054.1L1690.5,1126.7M1559.6,1094.7L1703.7,1027.9M1567.0,1053.2L1692.5,1125.6M1561.3,1095.8L1705.5,1028.8M1569.0,1052.3L1694.6,1124.6M1563.1,1096.8L1707.2,1029.7M1571.0,1051.4L1696.6,1123.6M1564.8,1097.9L1709.0,1030.7M1573.0,1050.5L1698.6,1122.6M1566.5,1098.9L1710.8,1031.6M1575.0,1049.6L1700.7,1121.6M1568.3,1100.0L1712.5,1032.5M1577.0,1048.7L1702.7,1120.5M1570.0,1101.0L1714.3,1033.4M1579.0,1047.8L1704.7,1119.5M1571.7,1102.0L1716.1,1034.3M1581.0,1046.9L1706.7,1118.5M1573.5,1103.1L1717.8,1035.3M1582.9,1046.0L1708.8,1117.5M1575.2,1104.1L1719.6,1036.2M1584.9,1045.2L1710.8,1116.5M1576.9,1105.2L1721.4,1037.1M1586.9,1044.3L1712.8,1115.5M1578.7,1106.2L1723.1,1038.0M1588.9,1043.4L1714.8,1114.5M1580.4,1107.3L1724.9,1038.9M1590.9,1042.5L1716.8,1113.4M1582.1,1108.3L1726.7,1039.9M1592.9,1041.6L1718.9,1112.4M1583.9,1109.4L1728.4,1040.8M1594.9,1040.7L1720.9,1111.4M1585.6,1110.4L1730.2,1041.7M1596.9,1039.8L1722.9,1110.4M1587.3,1111.4L1732.0,1042.6M1598.9,1038.9L1724.9,1109.4M1589.1,1112.5L1733.7,1043.5M1600.9,1038.0L1727.0,1108.3M1590.8,1113.5L1735.5,1044.5M1602.9,1037.1L1729.0,1107.3M1592.5,1114.6L1737.3,1045.4M1604.9,1036.2L1731.0,1106.3M1594.3,1115.6L1739.0,1046.3M1606.8,1035.3L1733.1,1105.3M1596.0,1116.7L1740.8,1047.2M1608.8,1034.5L1735.1,1104.3M1597.7,1117.7L1742.6,1048.1M1610.8,1033.6L1737.1,1103.3M1599.5,1118.8L1744.3,1049.1M1612.8,1032.7L1739.1,1102.2M1601.2,1119.8L1746.1,1050.0M1614.8,1031.8L1741.2,1101.2M1602.9,1120.8L1747.9,1050.9M1616.8,1030.9L1743.2,1100.2M1604.7,1121.9L1749.6,1051.8M1618.8,1030.0L1745.2,1099.2M1606.4,1122.9L1751.4,1052.7M1620.8,1029.1L1747.2,1098.2M1608.1,1124.0L1753.2,1053.7M1622.8,1028.2L1749.2,1097.2M1609.9,1125.0L1754.9,1054.6M1624.8,1027.3L1751.3,1096.2M1611.6,1126.1L1756.7,1055.5M1626.8,1026.4L1753.3,1095.1M1613.3,1127.1L1758.5,1056.4M1628.8,1025.5L1755.3,1094.1M1615.1,1128.2L1760.2,1057.3M1630.7,1024.7L1757.3,1093.1M1616.8,1129.2L1762.0,1058.2M1632.7,1023.8L1759.4,1092.1M1618.5,1130.2L1763.8,1059.2M1634.7,1022.9L1761.4,1091.1M1620.3,1131.3L1765.5,1060.1M1636.7,1022.0L1763.4,1090.0M1622.0,1132.3L1767.3,1061.0M1638.7,1021.1L1765.4,1089.0M1623.7,1133.4L1769.1,1061.9M1640.7,1020.2L1767.5,1088.0M1625.5,1134.4L1770.8,1062.8M1642.7,1019.3L1769.5,1087.0M1627.2,1135.5L1772.6,1063.8M1644.7,1018.4L1771.5,1086.0M1628.9,1136.5L1774.4,1064.7M1646.7,1017.5L1773.6,1085.0M1630.7,1137.6L1776.1,1065.6M1648.7,1016.6L1775.6,1083.9M1632.4,1138.6L1777.9,1066.5M1650.7,1015.7L1777.6,1082.9M1634.1,1139.6L1779.7,1067.4M1652.7,1014.8L1779.6,1081.9M1635.9,1140.7L1781.4,1068.4M1654.6,1014.0L1781.7,1080.9M1637.6,1141.7L1783.2,1069.3M1656.6,1013.1L1783.7,1079.9M1639.3,1142.8L1785.0,1070.2M1658.6,1012.2L1785.7,1078.9M1641.1,1143.8L1786.7,1071.1M1660.6,1011.3L1787.7,1077.8M1642.8,1144.9L1788.5,1072.0M1662.6,1010.4L1789.8,1076.8M1644.5,1145.9L1790.3,1073.0M1664.6,1009.5L1791.8,1075.8M1646.3,1147.0L1792.0,1073.9" stroke="#102028" stroke-opacity="0.36" stroke-width="0.75" fill="none"/>
<path d="M1522.9,1072.3L1546.0,1086.2L1546.3,1088.9L1523.2,1075.0ZM1523.2,1074.4L1546.2,1088.3L1546.5,1091.0L1523.5,1077.0ZM1523.4,1076.4L1546.5,1090.4L1546.8,1093.1L1523.8,1079.1ZM1523.7,1078.5L1546.7,1092.5L1547.0,1095.2L1524.0,1081.1ZM1524.0,1080.5L1546.9,1094.5L1547.3,1097.2L1524.3,1083.2ZM1524.2,1082.6L1545.5,1095.6L1545.8,1098.2L1524.6,1085.2ZM1524.5,1084.6L1545.7,1097.6L1546.0,1100.3L1524.8,1087.3ZM1524.8,1086.7L1546.0,1099.7L1546.3,1102.4L1525.1,1089.3ZM1525.0,1088.7L1546.2,1101.8L1546.5,1104.5L1525.4,1091.4ZM1525.3,1090.8L1546.5,1103.8L1546.8,1106.5L1525.6,1093.4ZM1525.6,1092.8L1546.7,1105.9L1547.0,1108.6L1525.9,1095.5ZM1525.8,1094.9L1545.2,1106.9L1545.6,1109.6L1526.2,1097.5ZM1526.1,1096.9L1543.8,1107.9L1544.1,1110.6L1526.4,1099.6ZM1526.4,1098.9L1540.6,1107.9L1540.9,1110.5L1526.7,1101.6ZM1526.6,1101.0L1540.9,1109.9L1541.2,1112.6L1527.0,1103.7ZM1526.9,1103.0L1539.4,1110.9L1539.7,1113.6L1527.3,1105.7ZM1527.2,1105.1L1539.7,1113.0L1540.0,1115.7L1527.5,1107.7ZM1527.4,1107.1L1538.2,1114.0L1538.5,1116.6L1527.8,1109.8ZM1529.4,1110.3L1538.5,1116.0L1538.8,1118.7L1529.8,1112.9ZM1529.7,1112.3L1537.0,1117.0L1537.3,1119.7L1530.0,1115.0ZM1529.9,1114.4L1535.6,1118.0L1535.9,1120.6L1530.3,1117.0ZM1530.2,1116.4L1534.1,1118.9L1534.5,1121.6L1530.6,1119.1ZM1530.5,1118.5L1532.7,1119.9L1533.0,1122.6L1530.8,1121.1Z" fill="#0d6754"/>
<path d="M1545.4,1085.9L1580.6,1107.1L1580.9,1109.9L1545.8,1088.6ZM1545.7,1088.0L1580.8,1109.2L1581.1,1112.0L1546.0,1090.7ZM1545.9,1090.1L1581.1,1111.3L1581.3,1114.1L1546.3,1092.8ZM1546.2,1092.1L1581.3,1113.5L1581.6,1116.2L1546.5,1094.8ZM1546.4,1094.2L1579.8,1114.5L1580.1,1117.3L1546.7,1096.9ZM1544.9,1095.2L1580.0,1116.7L1580.3,1119.4L1545.3,1097.9ZM1545.2,1097.3L1580.2,1118.8L1580.5,1121.5L1545.5,1100.0ZM1545.4,1099.4L1580.4,1120.9L1580.7,1123.7L1545.8,1102.1ZM1545.7,1101.5L1580.6,1123.0L1580.9,1125.8L1546.0,1104.2ZM1545.9,1103.5L1580.9,1125.1L1581.1,1127.9L1546.3,1106.2ZM1546.2,1105.6L1581.1,1127.3L1581.4,1130.0L1546.5,1108.3ZM1546.4,1107.7L1548.7,1109.1L1549.0,1111.8L1546.8,1110.4ZM1549.9,1109.8L1581.3,1129.4L1581.6,1132.1L1550.2,1112.5ZM1557.0,1116.2L1581.5,1131.5L1581.8,1134.2L1557.3,1118.9ZM1558.9,1119.3L1581.7,1133.6L1582.0,1136.4L1559.3,1122.1ZM1560.9,1122.5L1580.2,1134.7L1580.5,1137.4L1561.2,1125.2ZM1564.6,1126.7L1577.0,1134.6L1577.3,1137.4L1564.9,1129.5ZM1566.5,1129.9L1575.6,1135.6L1575.8,1138.4L1566.8,1132.7ZM1568.4,1133.1L1572.4,1135.6L1572.7,1138.3L1568.7,1135.8ZM1593.7,1208.8L1595.8,1210.3L1596.1,1213.0L1594.0,1211.5ZM1590.6,1208.6L1599.4,1214.7L1599.6,1217.5L1590.8,1211.3ZM1589.1,1209.6L1604.6,1220.3L1604.8,1223.1L1589.4,1212.3ZM1586.0,1209.4L1606.4,1223.6L1606.7,1226.4L1586.3,1212.1ZM1586.2,1211.5L1605.0,1224.6L1605.2,1227.3L1586.5,1214.2ZM1586.5,1213.6L1603.5,1225.5L1603.8,1228.3L1586.8,1216.3ZM1586.7,1215.7L1603.7,1227.7L1604.0,1230.5L1587.0,1218.5ZM1586.9,1217.8L1602.3,1228.7L1602.6,1231.4L1587.2,1220.6ZM1587.1,1219.9L1602.5,1230.8L1602.8,1233.6L1587.4,1222.7ZM1587.4,1222.0L1601.1,1231.8L1601.3,1234.5L1587.6,1224.8ZM1587.6,1224.2L1598.0,1231.5L1598.2,1234.3L1587.9,1226.9ZM1589.4,1227.4L1591.6,1229.0L1591.9,1231.7L1589.7,1230.2Z" fill="#7b2971"/>
<path d="M1580.1,1106.8L1617.0,1129.0L1617.3,1131.9L1580.4,1109.5ZM1580.3,1108.9L1617.2,1131.2L1617.5,1134.0L1580.6,1111.7ZM1580.5,1111.0L1617.4,1133.4L1617.6,1136.2L1580.8,1113.8ZM1580.8,1113.2L1617.6,1135.5L1617.8,1138.4L1581.0,1115.9ZM1579.3,1114.2L1617.8,1137.7L1618.0,1140.5L1579.5,1117.0ZM1579.5,1116.3L1618.0,1139.9L1618.2,1142.7L1579.8,1119.1ZM1579.7,1118.5L1618.1,1142.0L1618.4,1144.9L1580.0,1121.2ZM1579.9,1120.6L1618.3,1144.2L1618.6,1147.0L1580.2,1123.3ZM1580.1,1122.7L1618.5,1146.4L1618.8,1149.2L1580.4,1125.4ZM1580.3,1124.8L1618.7,1148.5L1619.0,1151.4L1580.6,1127.6ZM1580.6,1126.9L1618.9,1150.7L1619.1,1153.5L1580.9,1129.7ZM1580.8,1129.1L1619.1,1152.9L1619.3,1155.7L1581.1,1131.8ZM1581.0,1131.2L1615.8,1152.9L1616.1,1155.7L1581.3,1133.9ZM1581.2,1133.3L1612.6,1152.9L1612.8,1155.7L1581.5,1136.0ZM1581.4,1135.4L1609.4,1152.9L1609.6,1155.7L1581.7,1138.2ZM1585.1,1139.7L1606.1,1152.9L1606.4,1155.7L1585.4,1142.4ZM1588.7,1144.0L1602.9,1152.9L1603.2,1155.7L1589.0,1146.7ZM1592.4,1148.3L1598.0,1151.8L1598.3,1154.6L1592.6,1151.0Z" fill="#92a5c5"/>
<path d="M1616.5,1128.7L1648.2,1147.8L1648.4,1150.7L1616.8,1131.5ZM1616.7,1130.9L1648.4,1150.0L1648.6,1152.9L1616.9,1133.7ZM1616.9,1133.1L1648.6,1152.2L1648.8,1155.1L1617.1,1135.9ZM1617.1,1135.2L1648.7,1154.5L1648.9,1157.3L1617.3,1138.0ZM1617.3,1137.4L1648.9,1156.7L1649.1,1159.5L1617.5,1140.2ZM1617.4,1139.6L1649.0,1158.9L1649.2,1161.7L1617.7,1142.4ZM1617.6,1141.7L1649.2,1161.1L1649.4,1163.9L1617.9,1144.5ZM1617.8,1143.9L1649.4,1163.3L1649.6,1166.2L1618.1,1146.7ZM1618.0,1146.1L1647.8,1164.4L1648.0,1167.3L1618.2,1148.9ZM1618.2,1148.2L1648.0,1166.6L1648.2,1169.5L1618.4,1151.0ZM1618.4,1150.4L1648.1,1168.8L1648.3,1171.7L1618.6,1153.2ZM1618.6,1152.6L1648.3,1171.1L1648.5,1173.9L1618.8,1155.4ZM1622.2,1156.9L1648.4,1173.3L1648.6,1176.1L1622.4,1159.7ZM1622.4,1159.0L1648.6,1175.5L1648.8,1178.3L1622.6,1161.9ZM1622.6,1161.2L1648.8,1177.7L1649.0,1180.5L1622.8,1164.0ZM1622.7,1163.4L1648.9,1179.9L1649.1,1182.7L1623.0,1166.2ZM1622.9,1165.6L1649.1,1182.1L1649.3,1185.0L1623.2,1168.4ZM1623.1,1167.7L1644.1,1181.0L1644.3,1183.9L1623.3,1170.6ZM1623.3,1169.9L1640.9,1181.1L1641.1,1183.9L1623.5,1172.7ZM1623.5,1172.1L1635.9,1180.0L1636.1,1182.9L1623.7,1174.9ZM1625.4,1175.3L1632.7,1180.0L1632.9,1182.9L1625.6,1178.2ZM1625.5,1177.5L1629.5,1180.0L1629.7,1182.9L1625.8,1180.3Z" fill="#9eabac"/>
<path d="M1647.3,1164.1L1649.5,1165.5L1649.7,1168.4L1647.5,1167.0ZM1647.4,1166.3L1649.7,1167.7L1649.9,1170.6L1647.6,1169.2ZM1647.6,1168.5L1649.8,1169.9L1650.0,1172.8L1647.8,1171.4ZM1544.7,1106.6L1547.0,1108.0L1547.3,1110.7L1545.1,1109.3ZM1647.8,1170.7L1650.0,1172.1L1650.2,1175.0L1648.0,1173.6ZM1615.3,1152.6L1622.7,1157.2L1622.9,1160.0L1615.6,1155.4ZM1647.9,1172.9L1650.2,1174.3L1650.4,1177.2L1648.1,1175.8ZM1612.1,1152.6L1622.9,1159.4L1623.1,1162.2L1612.3,1155.4ZM1648.1,1175.1L1650.3,1176.5L1650.5,1179.4L1648.3,1178.0ZM1608.8,1152.6L1623.1,1161.5L1623.3,1164.4L1609.1,1155.4ZM1648.2,1177.3L1650.5,1178.7L1650.7,1181.6L1648.5,1180.2ZM1605.6,1152.6L1609.6,1155.1L1609.8,1157.9L1605.9,1155.4ZM1614.2,1158.0L1623.2,1163.7L1623.5,1166.5L1614.4,1160.8ZM1648.4,1179.6L1650.6,1181.0L1650.8,1183.8L1648.6,1182.4ZM1602.4,1152.6L1604.6,1154.0L1604.9,1156.8L1602.7,1155.4ZM1616.1,1161.2L1623.4,1165.9L1623.7,1168.7L1616.3,1164.1ZM1648.6,1181.8L1650.8,1183.2L1651.0,1186.0L1648.8,1184.6ZM1618.0,1164.5L1623.6,1168.1L1623.9,1170.9L1618.2,1167.3ZM1643.6,1180.7L1650.9,1185.4L1651.2,1188.2L1643.8,1183.6ZM1527.7,1109.2L1529.9,1110.6L1530.3,1113.3L1528.1,1111.8ZM1568.7,1135.2L1570.9,1136.6L1571.2,1139.3L1569.0,1137.9ZM1619.9,1167.7L1623.8,1170.2L1624.0,1173.1L1620.1,1170.6ZM1640.4,1180.7L1646.0,1184.3L1646.2,1187.2L1640.6,1183.6ZM1648.9,1186.2L1651.1,1187.6L1651.3,1190.5L1649.1,1189.0ZM1528.0,1111.2L1530.2,1112.6L1530.5,1115.3L1528.3,1113.9ZM1587.7,1149.3L1589.9,1150.7L1590.2,1153.4L1587.9,1152.0ZM1621.8,1171.0L1624.0,1172.4L1624.2,1175.2L1622.0,1173.8ZM1635.4,1179.7L1642.7,1184.4L1643.0,1187.2L1635.6,1182.5ZM1649.0,1188.4L1651.3,1189.8L1651.5,1192.7L1649.3,1191.2ZM1528.2,1113.3L1530.5,1114.7L1530.8,1117.4L1528.6,1115.9ZM1535.1,1117.6L1537.3,1119.0L1537.6,1121.7L1535.4,1120.3ZM1587.9,1151.4L1590.1,1152.8L1590.4,1155.6L1588.2,1154.1ZM1632.2,1179.7L1637.8,1183.3L1638.0,1186.1L1632.4,1182.5ZM1649.2,1190.6L1651.4,1192.0L1651.6,1194.9L1649.4,1193.5ZM1528.5,1115.3L1530.7,1116.7L1531.1,1119.4L1528.9,1118.0ZM1533.6,1118.6L1535.8,1120.0L1536.2,1122.7L1534.0,1121.3ZM1588.1,1153.5L1592.0,1156.0L1592.3,1158.8L1588.4,1156.3ZM1628.9,1179.7L1634.6,1183.3L1634.8,1186.1L1629.2,1182.5ZM1649.4,1192.8L1651.6,1194.2L1651.8,1197.1L1649.6,1195.7ZM1528.8,1117.4L1531.0,1118.8L1531.3,1121.5L1529.1,1120.0ZM1532.2,1119.6L1536.1,1122.1L1536.4,1124.7L1532.5,1122.2ZM1624.0,1178.6L1629.6,1182.2L1629.9,1185.0L1624.3,1181.4ZM1649.5,1195.0L1651.7,1196.4L1652.0,1199.3L1649.7,1197.9ZM1529.0,1119.4L1536.3,1124.1L1536.7,1126.8L1529.4,1122.1ZM1624.2,1180.8L1626.4,1182.2L1626.6,1185.0L1624.4,1183.6ZM1649.7,1197.2L1651.9,1198.6L1652.1,1201.5L1649.9,1200.1ZM1529.3,1121.5L1534.9,1125.1L1535.2,1127.8L1529.7,1124.1ZM1622.7,1181.8L1624.9,1183.3L1625.1,1186.1L1622.9,1184.7ZM1649.9,1199.4L1652.1,1200.8L1652.3,1203.7L1650.1,1202.3ZM1529.6,1123.5L1535.2,1127.1L1535.5,1129.8L1529.9,1126.2ZM1570.3,1149.9L1572.5,1151.3L1572.8,1154.1L1570.6,1152.6ZM1621.2,1182.9L1623.4,1184.3L1623.6,1187.2L1621.4,1185.7ZM1650.0,1201.6L1652.2,1203.0L1652.4,1205.9L1650.2,1204.5ZM1529.8,1125.6L1535.4,1129.2L1535.8,1131.9L1530.2,1128.2ZM1570.5,1152.0L1572.7,1153.4L1573.0,1156.2L1570.8,1154.7ZM1619.7,1184.0L1621.9,1185.4L1622.1,1188.2L1619.9,1186.8ZM1650.2,1203.8L1652.4,1205.3L1652.6,1208.1L1650.4,1206.7ZM1530.1,1127.6L1535.7,1131.2L1536.0,1133.9L1530.5,1130.3ZM1570.7,1154.1L1574.6,1156.7L1574.9,1159.4L1571.0,1156.8ZM1586.0,1164.1L1588.2,1165.5L1588.5,1168.2L1586.3,1166.8ZM1618.2,1185.0L1622.1,1187.6L1622.3,1190.4L1618.4,1187.8ZM1650.3,1206.0L1652.5,1207.5L1652.7,1210.3L1650.6,1208.9ZM1530.4,1129.6L1537.6,1134.4L1538.0,1137.1L1530.7,1132.3ZM1571.0,1156.2L1576.6,1159.9L1576.9,1162.6L1571.3,1158.9ZM1581.1,1162.9L1583.3,1164.3L1583.6,1167.0L1581.4,1165.6ZM1618.4,1187.2L1620.6,1188.6L1620.8,1191.5L1618.6,1190.0ZM1650.5,1208.2L1652.7,1209.7L1652.9,1212.5L1650.7,1211.1ZM1530.6,1131.7L1539.6,1137.6L1539.9,1140.3L1531.0,1134.4ZM1571.2,1158.3L1575.1,1160.9L1575.4,1163.6L1571.5,1161.0ZM1616.9,1188.3L1619.1,1189.7L1619.3,1192.5L1617.1,1191.1ZM1650.7,1210.4L1652.9,1211.9L1653.1,1214.7L1650.9,1213.3ZM1530.9,1133.7L1539.9,1139.6L1540.2,1142.3L1531.3,1136.4ZM1591.7,1173.7L1593.9,1175.2L1594.2,1178.0L1592.0,1176.5ZM1615.4,1189.3L1617.6,1190.7L1617.8,1193.6L1615.6,1192.1ZM1650.8,1212.6L1653.0,1214.1L1653.2,1217.0L1651.0,1215.5ZM1531.2,1135.8L1546.9,1146.1L1547.2,1148.8L1531.5,1138.5ZM1551.4,1149.2L1563.7,1157.3L1564.1,1160.0L1551.7,1151.8ZM1566.6,1159.2L1570.5,1161.7L1570.8,1164.5L1566.9,1161.9ZM1591.9,1175.9L1595.8,1178.4L1596.1,1181.2L1592.2,1178.6ZM1615.5,1191.5L1617.7,1192.9L1618.0,1195.7L1615.8,1194.3ZM1651.0,1214.8L1653.2,1216.3L1653.4,1219.2L1651.2,1217.7ZM1531.4,1137.8L1570.7,1163.8L1571.0,1166.6L1531.8,1140.5ZM1592.1,1178.0L1599.4,1182.8L1599.7,1185.6L1592.4,1180.8ZM1614.1,1192.5L1616.2,1194.0L1616.5,1196.8L1614.3,1195.3ZM1651.1,1217.1L1653.3,1218.5L1653.5,1221.4L1651.4,1219.9ZM1531.7,1139.9L1571.0,1165.9L1571.3,1168.7L1532.1,1142.5ZM1592.4,1180.1L1601.3,1186.1L1601.5,1188.8L1592.6,1182.9ZM1614.2,1194.7L1616.4,1196.1L1616.7,1198.9L1614.5,1197.5ZM1651.3,1219.3L1653.5,1220.7L1653.7,1223.6L1651.5,1222.1ZM1532.0,1141.9L1572.9,1169.2L1573.2,1171.9L1532.3,1144.6ZM1589.2,1180.0L1606.5,1191.6L1606.8,1194.3L1589.5,1182.8ZM1614.4,1196.8L1616.6,1198.3L1616.9,1201.1L1614.7,1199.6ZM1651.5,1221.5L1653.7,1222.9L1653.9,1225.8L1651.7,1224.3ZM1532.2,1144.0L1574.8,1172.4L1575.1,1175.1L1532.6,1146.6ZM1591.1,1183.3L1601.7,1190.3L1602.0,1193.1L1591.4,1186.0ZM1614.6,1199.0L1616.8,1200.4L1617.1,1203.2L1614.9,1201.8ZM1651.6,1223.7L1653.8,1225.1L1654.0,1228.0L1651.8,1226.5ZM1532.5,1146.0L1536.4,1148.6L1536.7,1151.3L1532.9,1148.7ZM1554.3,1160.6L1576.7,1175.6L1577.0,1178.3L1554.7,1163.3ZM1594.7,1187.6L1600.2,1191.3L1600.5,1194.1L1594.9,1190.4ZM1651.8,1225.9L1654.0,1227.3L1654.2,1230.2L1652.0,1228.7ZM1532.8,1148.1L1535.0,1149.5L1535.3,1152.2L1533.1,1150.7ZM1558.0,1165.0L1578.6,1178.8L1578.9,1181.6L1558.3,1167.7ZM1596.6,1190.9L1598.7,1192.4L1599.0,1195.1L1596.8,1193.7ZM1652.0,1228.1L1654.1,1229.5L1654.3,1232.4L1652.2,1230.9ZM1533.0,1150.1L1535.2,1151.6L1535.6,1154.3L1533.4,1152.8ZM1561.6,1169.3L1580.5,1182.1L1580.8,1184.8L1561.9,1172.0ZM1595.1,1191.9L1597.3,1193.4L1597.5,1196.1L1595.4,1194.7ZM1652.1,1230.3L1654.3,1231.8L1654.5,1234.6L1652.3,1233.2ZM1533.3,1152.2L1535.5,1153.6L1535.8,1156.3L1533.7,1154.8ZM1563.5,1172.5L1577.4,1181.9L1577.7,1184.7L1563.8,1175.2ZM1652.3,1232.5L1654.5,1234.0L1654.7,1236.8L1652.5,1235.4ZM1563.7,1174.6L1577.6,1184.0L1577.9,1186.8L1564.0,1177.3ZM1650.8,1233.6L1654.6,1236.2L1654.8,1239.0L1651.0,1236.4ZM1565.6,1177.8L1576.2,1185.0L1576.5,1187.7L1565.9,1180.6ZM1624.2,1217.6L1626.3,1219.1L1626.6,1221.9L1624.4,1220.4ZM1650.9,1235.8L1654.8,1238.4L1655.0,1241.3L1651.1,1238.6ZM1565.9,1179.9L1576.4,1187.1L1576.7,1189.8L1566.2,1182.6ZM1589.3,1195.9L1591.4,1197.3L1591.7,1200.1L1589.5,1198.6ZM1627.7,1222.0L1649.9,1237.2L1650.1,1240.0L1627.9,1224.9ZM1652.8,1239.1L1654.9,1240.6L1655.1,1243.5L1653.0,1242.0ZM1567.8,1183.2L1574.9,1188.1L1575.2,1190.8L1568.1,1185.9ZM1586.1,1195.7L1591.6,1199.5L1591.9,1202.2L1586.4,1198.5ZM1626.2,1223.1L1646.7,1237.1L1647.0,1240.0L1626.4,1225.9ZM1652.9,1241.3L1655.1,1242.8L1655.3,1245.7L1653.1,1244.2ZM1568.0,1185.3L1575.2,1190.2L1575.5,1192.9L1568.3,1188.0ZM1583.0,1195.5L1591.9,1201.6L1592.1,1204.4L1583.3,1198.3ZM1624.7,1224.1L1626.9,1225.6L1627.1,1228.4L1625.0,1226.9ZM1629.7,1227.5L1643.6,1237.0L1643.8,1239.9L1630.0,1230.4ZM1653.1,1243.5L1655.3,1245.0L1655.5,1247.9L1653.3,1246.4ZM1568.2,1187.3L1592.1,1203.7L1592.4,1206.5L1568.6,1190.1ZM1621.6,1224.0L1623.7,1225.5L1624.0,1228.3L1621.8,1226.8ZM1629.9,1229.7L1640.4,1236.9L1640.6,1239.8L1630.1,1232.5ZM1653.2,1245.7L1655.4,1247.2L1655.6,1250.1L1653.5,1248.6ZM1568.5,1189.4L1592.3,1205.8L1592.6,1208.6L1568.8,1192.2ZM1631.8,1233.0L1637.3,1236.8L1637.5,1239.6L1632.0,1235.9ZM1653.4,1247.9L1655.6,1249.4L1655.8,1252.3L1653.6,1250.8ZM1568.7,1191.5L1592.5,1208.0L1592.8,1210.7L1569.0,1194.2ZM1631.9,1235.2L1634.1,1236.7L1634.3,1239.5L1632.2,1238.0ZM1653.6,1250.1L1655.7,1251.6L1655.9,1254.5L1653.8,1253.0ZM1569.0,1193.6L1591.1,1208.9L1591.3,1211.7L1569.3,1196.3ZM1607.2,1220.1L1609.3,1221.6L1609.6,1224.4L1607.5,1222.9ZM1612.2,1223.6L1614.3,1225.1L1614.6,1227.9L1612.4,1226.4ZM1653.7,1252.3L1655.9,1253.8L1656.1,1256.7L1653.9,1255.2ZM1567.5,1194.6L1589.6,1209.9L1589.9,1212.7L1567.8,1197.3ZM1605.7,1221.1L1611.2,1224.9L1611.5,1227.7L1606.0,1223.9ZM1653.9,1254.6L1656.1,1256.1L1656.3,1258.9L1654.1,1257.4ZM1536.2,1174.7L1538.4,1176.2L1538.7,1178.8L1536.6,1177.3ZM1562.8,1193.2L1586.5,1209.7L1586.8,1212.5L1563.1,1195.9ZM1605.9,1223.2L1608.1,1224.7L1608.4,1227.5L1606.2,1226.0ZM1654.1,1256.8L1656.2,1258.3L1656.4,1261.1L1654.3,1259.6ZM1536.5,1176.7L1538.7,1178.2L1539.0,1180.9L1536.9,1179.4ZM1559.7,1192.9L1583.4,1209.5L1583.7,1212.2L1560.0,1195.6ZM1604.5,1224.2L1606.6,1225.7L1606.9,1228.5L1604.7,1227.0ZM1654.2,1259.0L1656.4,1260.5L1656.6,1263.3L1654.4,1261.8ZM1536.8,1178.8L1538.9,1180.3L1539.3,1182.9L1537.1,1181.4ZM1555.0,1191.5L1578.7,1208.1L1579.0,1210.9L1555.3,1194.2ZM1603.0,1225.2L1606.8,1227.9L1607.1,1230.6L1603.3,1228.0ZM1654.4,1261.2L1656.5,1262.7L1656.7,1265.5L1654.6,1264.0ZM1537.0,1180.8L1539.2,1182.3L1539.5,1185.0L1537.4,1183.5ZM1548.6,1189.0L1573.9,1206.7L1574.3,1209.5L1549.0,1191.6ZM1603.2,1227.3L1607.0,1230.0L1607.3,1232.8L1603.5,1230.1ZM1654.5,1263.4L1656.7,1264.9L1656.9,1267.8L1654.7,1266.2ZM1537.3,1182.9L1539.5,1184.4L1539.8,1187.0L1537.7,1185.5ZM1543.9,1187.5L1570.9,1206.5L1571.2,1209.2L1544.3,1190.2ZM1601.8,1228.3L1607.2,1232.1L1607.5,1234.9L1602.1,1231.1ZM1654.7,1265.6L1656.8,1267.1L1657.1,1270.0L1654.9,1268.4ZM1537.6,1184.9L1569.5,1207.4L1569.8,1210.2L1537.9,1187.6ZM1602.0,1230.4L1605.8,1233.1L1606.1,1235.9L1602.3,1233.2ZM1654.9,1267.8L1657.0,1269.3L1657.2,1272.2L1655.1,1270.7ZM1537.8,1187.0L1566.4,1207.2L1566.7,1209.9L1538.2,1189.6ZM1600.6,1231.4L1604.4,1234.1L1604.6,1236.9L1600.8,1234.2ZM1635.2,1256.0L1637.4,1257.5L1637.6,1260.3L1635.5,1258.8ZM1655.0,1270.0L1657.2,1271.5L1657.4,1274.4L1655.2,1272.9ZM1538.1,1189.0L1563.3,1206.9L1563.7,1209.6L1538.5,1191.7ZM1597.5,1231.2L1601.3,1233.9L1601.5,1236.7L1597.8,1234.0ZM1633.7,1257.0L1639.2,1260.8L1639.4,1263.7L1634.0,1259.8ZM1655.2,1272.2L1657.3,1273.7L1657.5,1276.6L1655.4,1275.1ZM1538.4,1191.1L1561.9,1207.8L1562.3,1210.5L1538.7,1193.7ZM1591.1,1228.6L1598.2,1233.7L1598.5,1236.4L1591.4,1231.4ZM1632.3,1258.0L1639.4,1263.0L1639.6,1265.9L1632.5,1260.8ZM1538.6,1193.1L1560.5,1208.7L1560.9,1211.4L1539.0,1195.8ZM1630.8,1259.0L1634.6,1261.7L1634.8,1264.5L1631.1,1261.8ZM1538.9,1195.1L1560.8,1210.8L1561.1,1213.5L1539.3,1197.8ZM1627.7,1258.8L1631.5,1261.5L1631.7,1264.3L1628.0,1261.6ZM1539.2,1197.2L1561.0,1212.9L1561.4,1215.6L1539.5,1199.9ZM1618.0,1253.9L1626.7,1260.1L1627.0,1262.9L1618.3,1256.7ZM1539.4,1199.2L1559.6,1213.8L1560.0,1216.5L1539.8,1201.9ZM1619.9,1257.2L1623.7,1259.9L1623.9,1262.7L1620.1,1260.0ZM1539.7,1201.3L1559.9,1215.9L1560.2,1218.6L1540.1,1204.0ZM1621.7,1260.5L1623.8,1262.1L1624.1,1264.9L1622.0,1263.4ZM1540.0,1203.3L1560.1,1217.9L1560.5,1220.6L1540.3,1206.0ZM1623.5,1263.9L1625.7,1265.4L1625.9,1268.2L1623.8,1266.7ZM1540.2,1205.4L1560.4,1220.0L1560.7,1222.7L1540.6,1208.0ZM1623.7,1266.1L1625.9,1267.6L1626.1,1270.4L1624.0,1268.9ZM1540.5,1207.4L1560.6,1222.1L1561.0,1224.8L1540.9,1210.1ZM1540.8,1209.5L1562.5,1225.4L1562.8,1228.1L1541.1,1212.1ZM1591.4,1246.5L1593.6,1248.0L1593.8,1250.8L1591.7,1249.2ZM1625.8,1271.6L1627.9,1273.1L1628.1,1275.9L1626.0,1274.4ZM1541.0,1211.5L1562.8,1227.4L1563.1,1230.1L1541.4,1214.2ZM1586.8,1245.0L1597.0,1252.6L1597.3,1255.3L1587.1,1247.8ZM1625.9,1273.7L1628.1,1275.3L1628.3,1278.1L1626.2,1276.5ZM1541.3,1213.6L1563.0,1229.5L1563.3,1232.2L1541.7,1216.2ZM1582.1,1243.5L1600.5,1257.1L1600.8,1259.8L1582.4,1246.3ZM1624.5,1274.7L1629.9,1278.7L1630.1,1281.5L1624.7,1277.5ZM1541.6,1215.6L1563.3,1231.6L1563.6,1234.3L1541.9,1218.3ZM1567.7,1234.8L1604.0,1261.6L1604.3,1264.4L1568.0,1237.5ZM1624.7,1276.9L1630.1,1280.8L1630.3,1283.6L1624.9,1279.7ZM1541.8,1217.7L1631.9,1284.2L1632.1,1287.0L1542.2,1220.3Z" fill="#96a2a0"/>
<path d="M1548.2,1108.7L1550.4,1110.1L1550.7,1112.8L1548.5,1111.4ZM1543.3,1107.6L1557.5,1116.5L1557.8,1119.2L1543.6,1110.3ZM1540.1,1107.5L1559.5,1119.7L1559.8,1122.4L1540.4,1110.2ZM1540.3,1109.6L1561.4,1122.8L1561.7,1125.5L1540.7,1112.3ZM1538.9,1110.6L1565.1,1127.1L1565.4,1129.8L1539.2,1113.3ZM1539.1,1112.6L1567.0,1130.2L1567.3,1133.0L1539.5,1115.3ZM1537.7,1113.6L1568.9,1133.4L1569.2,1136.2L1538.0,1116.3ZM1537.9,1115.7L1569.2,1135.5L1569.5,1138.3L1538.3,1118.4ZM1536.5,1116.7L1571.1,1138.7L1571.4,1141.5L1536.8,1119.3ZM1536.8,1118.7L1571.3,1140.8L1571.6,1143.6L1537.1,1121.4ZM1535.3,1119.7L1569.9,1141.8L1570.2,1144.6L1535.7,1122.4ZM1535.6,1121.7L1570.1,1143.9L1570.4,1146.7L1535.9,1124.4ZM1535.8,1123.8L1570.3,1146.0L1570.6,1148.8L1536.2,1126.5ZM1534.4,1124.8L1570.6,1148.1L1570.9,1150.9L1534.7,1127.4ZM1534.7,1126.8L1570.8,1150.2L1571.1,1153.0L1535.0,1129.5ZM1534.9,1128.9L1571.0,1152.3L1571.3,1155.1L1535.3,1131.5ZM1535.2,1130.9L1571.3,1154.4L1571.6,1157.2L1535.5,1133.6ZM1537.1,1134.1L1571.5,1156.5L1571.8,1159.3L1537.5,1136.7ZM1582.8,1164.0L1588.4,1167.6L1588.7,1170.4L1583.1,1166.7ZM1539.1,1137.2L1571.7,1158.6L1572.0,1161.4L1539.4,1139.9ZM1574.6,1160.5L1592.0,1172.0L1592.3,1174.7L1574.9,1163.3ZM1539.4,1139.3L1592.2,1174.1L1592.5,1176.8L1539.7,1142.0ZM1546.4,1145.8L1551.9,1149.5L1552.3,1152.2L1546.7,1148.5ZM1563.2,1156.9L1567.1,1159.5L1567.4,1162.2L1563.5,1159.7ZM1570.0,1161.4L1592.4,1176.2L1592.7,1179.0L1570.3,1164.1ZM1570.2,1163.5L1592.6,1178.3L1592.9,1181.1L1570.5,1166.2ZM1570.5,1165.6L1592.9,1180.5L1593.1,1183.2L1570.8,1168.3ZM1572.4,1168.8L1589.7,1180.4L1590.0,1183.1L1572.7,1171.5ZM1574.3,1172.0L1586.6,1180.2L1586.8,1183.0L1574.6,1174.8ZM1576.2,1175.3L1585.1,1181.2L1585.4,1184.0L1576.5,1178.0ZM1578.1,1178.5L1582.0,1181.1L1582.2,1183.8L1578.4,1181.2ZM1615.6,1209.8L1621.1,1213.5L1621.4,1216.3L1615.9,1212.6ZM1615.8,1211.9L1624.7,1217.9L1624.9,1220.8L1616.1,1214.7ZM1614.3,1212.9L1628.2,1222.4L1628.4,1225.2L1614.6,1215.7ZM1612.9,1213.9L1626.7,1223.4L1627.0,1226.2L1613.1,1216.7ZM1611.4,1215.0L1625.2,1224.4L1625.5,1227.3L1611.6,1217.8ZM1611.6,1217.1L1622.1,1224.3L1622.3,1227.1L1611.8,1219.9ZM1610.1,1218.1L1620.6,1225.3L1620.9,1228.1L1610.4,1220.9ZM1608.6,1219.1L1617.5,1225.2L1617.7,1228.0L1608.9,1221.9ZM1608.9,1221.3L1612.7,1223.9L1612.9,1226.7L1609.1,1224.0ZM1634.1,1261.3L1637.9,1264.0L1638.1,1266.9L1634.3,1264.1ZM1631.0,1261.1L1636.4,1265.0L1636.7,1267.9L1631.2,1264.0ZM1626.3,1259.8L1635.0,1266.0L1635.2,1268.9L1626.5,1262.6ZM1623.2,1259.6L1633.5,1267.0L1633.7,1269.8L1623.4,1262.4ZM1623.4,1261.7L1632.0,1268.0L1632.3,1270.8L1623.6,1264.5ZM1625.2,1265.1L1630.6,1269.0L1630.8,1271.8L1625.4,1267.9ZM1625.4,1267.2L1629.1,1270.0L1629.4,1272.8L1625.6,1270.1ZM1625.6,1269.4L1627.7,1271.0L1627.9,1273.8L1625.8,1272.2Z" fill="#c29b09"/>
<path d="M1579.7,1134.3L1582.0,1135.7L1582.2,1138.5L1580.0,1137.1ZM1576.5,1134.3L1583.9,1138.9L1584.2,1141.7L1576.8,1137.0ZM1575.0,1135.3L1585.8,1142.1L1586.1,1144.9L1575.3,1138.1ZM1571.9,1135.3L1587.7,1145.3L1588.0,1148.1L1572.1,1138.0ZM1570.4,1136.3L1588.0,1147.5L1588.2,1150.2L1570.7,1139.0ZM1570.6,1138.4L1588.2,1149.6L1588.4,1152.3L1570.9,1141.1ZM1570.8,1140.5L1588.4,1151.7L1588.7,1154.5L1571.1,1143.2ZM1569.4,1141.5L1588.6,1153.8L1588.9,1156.6L1569.7,1144.2ZM1569.6,1143.6L1590.5,1157.1L1590.8,1159.8L1569.9,1146.3ZM1569.8,1145.7L1589.0,1158.1L1589.3,1160.9L1570.1,1148.4ZM1570.1,1147.8L1587.5,1159.1L1587.8,1161.9L1570.4,1150.5ZM1572.0,1151.0L1587.8,1161.2L1588.0,1164.0L1572.3,1153.7ZM1572.2,1153.1L1588.0,1163.4L1588.3,1166.1L1572.5,1155.8ZM1574.1,1156.3L1586.5,1164.4L1586.8,1167.1L1574.4,1159.1ZM1576.1,1159.5L1581.6,1163.2L1581.9,1165.9L1576.4,1162.3Z" fill="#b82d2d"/>
<path d="M1583.4,1138.6L1585.6,1140.0L1585.9,1142.8L1583.7,1141.4ZM1585.3,1141.8L1589.2,1144.3L1589.5,1147.1L1585.6,1144.6ZM1587.2,1145.0L1592.9,1148.6L1593.1,1151.4L1587.5,1147.8ZM1587.4,1147.1L1596.5,1152.9L1596.8,1155.7L1587.7,1149.9ZM1589.4,1150.3L1595.0,1153.9L1595.3,1156.7L1589.6,1153.1ZM1589.6,1152.5L1593.5,1155.0L1593.8,1157.7L1589.9,1155.2Z" fill="#a2b09b"/>
<path d="M1609.0,1154.8L1614.7,1158.3L1614.9,1161.1L1609.3,1157.6ZM1604.1,1153.7L1616.6,1161.6L1616.8,1164.4L1604.4,1156.5ZM1597.5,1151.5L1618.5,1164.8L1618.7,1167.6L1597.7,1154.3ZM1596.0,1152.6L1620.4,1168.1L1620.6,1170.9L1596.2,1155.3ZM1594.5,1153.6L1622.3,1171.3L1622.5,1174.1L1594.8,1156.4ZM1593.0,1154.7L1625.9,1175.7L1626.1,1178.5L1593.3,1157.4ZM1591.5,1155.7L1626.1,1177.8L1626.3,1180.7L1591.8,1158.5ZM1590.0,1156.7L1624.5,1178.9L1624.8,1181.7L1590.3,1159.5ZM1588.5,1157.8L1624.7,1181.1L1625.0,1183.9L1588.8,1160.5ZM1587.0,1158.8L1623.2,1182.2L1623.4,1185.0L1587.3,1161.5ZM1587.3,1160.9L1621.7,1183.2L1621.9,1186.1L1587.5,1163.7ZM1587.5,1163.0L1620.2,1184.3L1620.4,1187.1L1587.7,1165.8ZM1587.7,1165.2L1618.7,1185.4L1618.9,1188.2L1588.0,1167.9ZM1587.9,1167.3L1618.9,1187.5L1619.1,1190.3L1588.2,1170.0ZM1591.5,1171.6L1617.4,1188.6L1617.6,1191.4L1591.8,1174.4ZM1593.4,1174.9L1615.9,1189.6L1616.1,1192.4L1593.7,1177.6ZM1595.3,1178.1L1616.1,1191.8L1616.3,1194.6L1595.6,1180.9ZM1598.9,1182.5L1614.6,1192.8L1614.8,1195.6L1599.2,1185.2ZM1600.8,1185.7L1611.4,1192.8L1611.6,1195.6L1601.0,1188.5Z" fill="#0a2256"/>
<path d="M1645.5,1184.0L1649.4,1186.5L1649.6,1189.4L1645.7,1186.9ZM1642.2,1184.0L1649.6,1188.7L1649.8,1191.6L1642.4,1186.9ZM1637.3,1183.0L1649.7,1190.9L1649.9,1193.8L1637.5,1185.8ZM1634.1,1183.0L1649.9,1193.1L1650.1,1196.0L1634.3,1185.8ZM1629.1,1181.9L1650.0,1195.3L1650.3,1198.2L1629.4,1184.7ZM1625.9,1181.9L1650.2,1197.5L1650.4,1200.4L1626.1,1184.7ZM1624.4,1182.9L1650.4,1199.7L1650.6,1202.6L1624.6,1185.8ZM1622.9,1184.0L1650.5,1201.9L1650.7,1204.8L1623.1,1186.8ZM1621.4,1185.1L1650.7,1204.1L1650.9,1207.0L1621.6,1187.9ZM1621.6,1187.2L1650.8,1206.4L1651.1,1209.2L1621.8,1190.1ZM1620.0,1188.3L1651.0,1208.6L1651.2,1211.4L1620.3,1191.1ZM1618.5,1189.4L1651.2,1210.8L1651.4,1213.6L1618.8,1192.2ZM1617.0,1190.4L1651.3,1213.0L1651.5,1215.8L1617.3,1193.2ZM1617.2,1192.6L1651.5,1215.2L1651.7,1218.0L1617.5,1195.4ZM1615.7,1193.6L1651.7,1217.4L1651.9,1220.3L1616.0,1196.4ZM1615.9,1195.8L1651.8,1219.6L1652.0,1222.5L1616.2,1198.6ZM1616.1,1197.9L1652.0,1221.8L1652.2,1224.7L1616.4,1200.7ZM1616.3,1200.1L1652.1,1224.0L1652.3,1226.9L1616.6,1202.9ZM1616.5,1202.3L1652.3,1226.2L1652.5,1229.1L1616.8,1205.1ZM1616.7,1204.4L1652.5,1228.4L1652.7,1231.3L1617.0,1207.2ZM1616.9,1206.6L1652.6,1230.6L1652.8,1233.5L1617.1,1209.4ZM1617.1,1208.7L1652.8,1232.8L1653.0,1235.7L1617.3,1211.5ZM1620.6,1213.2L1651.3,1233.9L1651.5,1236.8L1620.9,1216.0ZM1625.8,1218.7L1651.4,1236.1L1651.6,1239.0L1626.1,1221.6Z" fill="#81a9b7"/>
<path d="M1610.9,1192.4L1614.8,1195.0L1615.0,1197.8L1611.1,1195.2ZM1606.0,1191.2L1614.9,1197.2L1615.2,1200.0L1606.3,1194.0ZM1601.2,1190.0L1615.1,1199.3L1615.4,1202.1L1601.5,1192.8ZM1599.7,1191.0L1617.0,1202.6L1617.3,1205.4L1600.0,1193.8ZM1598.2,1192.0L1617.2,1204.8L1617.5,1207.6L1598.5,1194.8ZM1596.8,1193.0L1617.4,1206.9L1617.7,1209.7L1597.0,1195.8ZM1593.6,1192.9L1617.6,1209.1L1617.8,1211.9L1593.9,1195.7ZM1592.2,1193.9L1616.1,1210.1L1616.4,1212.9L1592.4,1196.7ZM1592.4,1196.0L1616.3,1212.3L1616.6,1215.1L1592.7,1198.8ZM1590.9,1197.0L1614.8,1213.3L1615.1,1216.1L1591.2,1199.8ZM1591.1,1199.1L1613.4,1214.3L1613.6,1217.1L1591.4,1201.9ZM1591.4,1201.2L1611.9,1215.3L1612.1,1218.1L1591.6,1204.0ZM1591.6,1203.4L1612.1,1217.5L1612.3,1220.2L1591.9,1206.1ZM1591.8,1205.5L1610.6,1218.5L1610.9,1221.2L1592.1,1208.3ZM1592.0,1207.6L1594.2,1209.1L1594.5,1211.9L1592.3,1210.4ZM1595.3,1209.9L1609.1,1219.5L1609.4,1222.2L1595.6,1212.7ZM1598.9,1214.3L1607.7,1220.4L1607.9,1223.2L1599.2,1217.1ZM1604.1,1219.9L1606.2,1221.4L1606.5,1224.2L1604.3,1222.7Z" fill="#0e6b54"/>
<path d="M1586.1,1179.9L1591.6,1183.6L1591.9,1186.4L1586.3,1182.6ZM1584.6,1180.9L1595.2,1188.0L1595.5,1190.7L1584.9,1183.6ZM1581.5,1180.8L1597.1,1191.2L1597.3,1194.0L1581.7,1183.5ZM1580.0,1181.7L1595.6,1192.2L1595.9,1195.0L1580.3,1184.5ZM1576.9,1181.6L1594.1,1193.2L1594.4,1196.0L1577.2,1184.3ZM1577.1,1183.7L1592.7,1194.2L1593.0,1197.0L1577.4,1186.4ZM1575.7,1184.7L1592.9,1196.4L1593.2,1199.1L1576.0,1187.4ZM1575.9,1186.8L1589.8,1196.2L1590.0,1199.0L1576.2,1189.5ZM1574.4,1187.7L1586.6,1196.0L1586.9,1198.8L1574.7,1190.5ZM1574.7,1189.8L1583.5,1195.9L1583.8,1198.6L1575.0,1192.6Z" fill="#bebeb0"/>
<path d="M1535.9,1148.3L1554.9,1161.0L1555.2,1163.7L1536.2,1150.9ZM1534.5,1149.2L1558.5,1165.3L1558.8,1168.0L1534.8,1151.9ZM1534.7,1151.2L1562.1,1169.7L1562.4,1172.4L1535.1,1153.9ZM1535.0,1153.3L1564.0,1172.9L1564.3,1175.6L1535.3,1156.0ZM1533.6,1154.2L1564.2,1175.0L1564.5,1177.7L1533.9,1156.9ZM1533.8,1156.3L1566.1,1178.2L1566.4,1180.9L1534.2,1158.9ZM1534.1,1158.3L1566.4,1180.3L1566.7,1183.0L1534.5,1161.0ZM1534.4,1160.4L1568.3,1183.5L1568.6,1186.2L1534.7,1163.0ZM1534.6,1162.4L1568.5,1185.6L1568.8,1188.3L1535.0,1165.1ZM1534.9,1164.4L1568.7,1187.7L1569.1,1190.4L1535.3,1167.1ZM1535.2,1166.5L1569.0,1189.8L1569.3,1192.5L1535.5,1169.2ZM1535.4,1168.5L1569.2,1191.9L1569.5,1194.6L1535.8,1171.2ZM1535.7,1170.6L1569.5,1194.0L1569.8,1196.7L1536.1,1173.2ZM1536.0,1172.6L1568.0,1194.9L1568.3,1197.6L1536.3,1175.3ZM1537.9,1175.8L1563.3,1193.5L1563.6,1196.2L1538.2,1178.5ZM1538.2,1177.9L1560.2,1193.3L1560.5,1196.0L1538.5,1180.5ZM1538.4,1179.9L1555.5,1191.9L1555.8,1194.6L1538.8,1182.6ZM1538.7,1182.0L1549.1,1189.3L1549.5,1192.0L1539.0,1184.6ZM1539.0,1184.0L1544.4,1187.9L1544.8,1190.6L1539.3,1186.7ZM1649.9,1264.3L1655.4,1268.1L1655.6,1271.0L1650.1,1267.1ZM1646.8,1264.1L1655.5,1270.3L1655.7,1273.2L1647.0,1267.0ZM1642.0,1262.8L1655.7,1272.5L1655.9,1275.4L1642.2,1265.7ZM1638.9,1262.7L1657.5,1275.9L1657.7,1278.8L1639.1,1265.5ZM1637.4,1263.7L1657.6,1278.1L1657.9,1281.0L1637.6,1266.5ZM1635.9,1264.7L1657.8,1280.3L1658.0,1283.2L1636.2,1267.5ZM1634.5,1265.7L1658.0,1282.6L1658.2,1285.4L1634.7,1268.5ZM1633.0,1266.7L1658.1,1284.8L1658.3,1287.6L1633.2,1269.5ZM1631.6,1267.7L1658.3,1287.0L1658.5,1289.8L1631.8,1270.5ZM1630.1,1268.6L1658.4,1289.2L1658.7,1292.1L1630.3,1271.5ZM1628.6,1269.6L1658.6,1291.4L1658.8,1294.3L1628.9,1272.4ZM1627.2,1270.6L1658.8,1293.6L1659.0,1296.5L1627.4,1273.4ZM1627.4,1272.8L1658.9,1295.8L1659.1,1298.7L1627.6,1275.6ZM1627.6,1274.9L1659.1,1298.0L1659.3,1300.9L1627.8,1277.7ZM1629.4,1278.3L1659.2,1300.2L1659.4,1303.1L1629.6,1281.1ZM1629.6,1280.5L1659.4,1302.4L1659.6,1305.3L1629.8,1283.3ZM1631.4,1283.8L1659.6,1304.6L1659.8,1307.5L1631.6,1286.7Z" fill="#4f38a2"/>
<path d="M1649.4,1236.8L1653.3,1239.5L1653.5,1242.3L1649.6,1239.7ZM1646.2,1236.8L1653.4,1241.7L1653.6,1244.5L1646.5,1239.6ZM1643.1,1236.7L1653.6,1243.9L1653.8,1246.7L1643.3,1239.5ZM1639.9,1236.6L1653.7,1246.1L1654.0,1248.9L1640.1,1239.4ZM1636.8,1236.5L1653.9,1248.3L1654.1,1251.1L1637.0,1239.3ZM1633.6,1236.3L1654.1,1250.5L1654.3,1253.4L1633.8,1239.2ZM1630.5,1236.2L1654.2,1252.7L1654.4,1255.6L1630.7,1239.1ZM1629.0,1237.2L1654.4,1254.9L1654.6,1257.8L1629.2,1240.1ZM1630.8,1240.6L1654.6,1257.1L1654.8,1260.0L1631.1,1243.4ZM1632.7,1243.9L1654.7,1259.3L1654.9,1262.2L1632.9,1246.7ZM1632.8,1246.1L1654.9,1261.5L1655.1,1264.4L1633.1,1248.9ZM1634.7,1249.4L1655.0,1263.7L1655.2,1266.6L1634.9,1252.3ZM1634.9,1251.6L1655.2,1265.9L1655.4,1268.8L1635.1,1254.4ZM1636.7,1254.9L1650.4,1264.6L1650.6,1267.5L1636.9,1257.8ZM1636.9,1257.1L1647.3,1264.5L1647.5,1267.3L1637.1,1260.0ZM1638.7,1260.5L1642.5,1263.2L1642.7,1266.0L1638.9,1263.3Z" fill="#b0b7a2"/>
<path d="M1626.4,1225.2L1630.2,1227.9L1630.5,1230.7L1626.6,1228.1ZM1623.2,1225.1L1630.4,1230.0L1630.6,1232.9L1623.5,1227.9ZM1620.1,1225.0L1632.3,1233.4L1632.5,1236.2L1620.4,1227.8ZM1617.0,1224.9L1632.4,1235.5L1632.7,1238.4L1617.2,1227.7ZM1613.8,1224.7L1631.0,1236.6L1631.2,1239.4L1614.1,1227.5ZM1610.7,1224.6L1629.5,1237.6L1629.7,1240.4L1611.0,1227.3ZM1607.6,1224.4L1631.3,1240.9L1631.6,1243.7L1607.9,1227.2ZM1606.1,1225.4L1633.2,1244.3L1633.4,1247.1L1606.4,1228.2ZM1606.3,1227.5L1633.3,1246.4L1633.6,1249.3L1606.6,1230.3ZM1606.5,1229.7L1635.2,1249.8L1635.4,1252.6L1606.8,1232.4ZM1606.8,1231.8L1635.4,1251.9L1635.6,1254.8L1607.0,1234.6ZM1605.3,1232.8L1637.2,1255.3L1637.4,1258.1L1605.6,1235.5ZM1607.2,1236.1L1635.7,1256.3L1635.9,1259.1L1607.4,1238.9ZM1610.7,1240.6L1634.2,1257.3L1634.5,1260.1L1610.9,1243.4ZM1612.5,1243.9L1632.8,1258.3L1633.0,1261.1L1612.8,1246.7ZM1614.4,1247.2L1631.3,1259.3L1631.6,1262.1L1614.6,1250.0ZM1616.2,1250.5L1628.2,1259.1L1628.4,1262.0L1616.5,1253.3Z" fill="#b78d6b"/>
<path d="M1582.9,1209.2L1586.7,1211.8L1587.0,1214.6L1583.2,1211.9ZM1578.2,1207.8L1587.0,1213.9L1587.3,1216.7L1578.5,1210.5ZM1573.5,1206.4L1587.2,1216.1L1587.5,1218.8L1573.8,1209.1ZM1570.4,1206.2L1587.4,1218.2L1587.7,1220.9L1570.7,1208.9ZM1569.0,1207.1L1587.6,1220.3L1587.9,1223.0L1569.3,1209.8ZM1565.9,1206.8L1587.9,1222.4L1588.1,1225.1L1566.2,1209.6ZM1562.8,1206.6L1588.1,1224.5L1588.4,1227.3L1563.2,1209.3ZM1561.4,1207.5L1589.9,1227.8L1590.2,1230.6L1561.8,1210.2ZM1560.0,1208.4L1593.5,1232.3L1593.7,1235.0L1560.4,1211.1ZM1560.3,1210.5L1590.4,1232.0L1590.7,1234.8L1560.6,1213.2ZM1560.5,1212.5L1589.0,1233.0L1589.3,1235.7L1560.9,1215.2ZM1559.1,1213.4L1590.8,1236.3L1591.1,1239.0L1559.5,1216.1ZM1559.4,1215.5L1591.0,1238.4L1591.3,1241.1L1559.7,1218.2ZM1559.6,1217.6L1591.3,1240.5L1591.6,1243.3L1560.0,1220.3ZM1559.9,1219.7L1591.5,1242.6L1591.8,1245.4L1560.2,1222.4ZM1560.1,1221.7L1591.7,1244.7L1592.0,1247.5L1560.5,1224.4ZM1562.0,1225.0L1591.9,1246.9L1592.2,1249.6L1562.3,1227.7ZM1562.3,1227.1L1587.2,1245.4L1587.5,1248.1L1562.6,1229.8ZM1562.5,1229.2L1582.6,1243.9L1582.9,1246.6L1562.8,1231.9ZM1562.8,1231.2L1568.1,1235.2L1568.5,1237.9L1563.1,1233.9Z" fill="#b0865c"/>
<path d="M1603.9,1233.7L1607.7,1236.4L1607.9,1239.2L1604.1,1236.5ZM1600.8,1233.5L1611.2,1240.9L1611.4,1243.7L1601.0,1236.3ZM1597.7,1233.3L1613.0,1244.2L1613.3,1247.0L1598.0,1236.1ZM1593.0,1231.9L1614.9,1247.6L1615.1,1250.4L1593.2,1234.7ZM1589.9,1231.7L1616.7,1250.9L1617.0,1253.7L1590.2,1234.4ZM1588.5,1232.6L1618.5,1254.2L1618.8,1257.0L1588.8,1235.4ZM1590.3,1235.9L1620.4,1257.6L1620.6,1260.4L1590.6,1238.7ZM1590.6,1238.0L1622.2,1260.9L1622.5,1263.7L1590.8,1240.8ZM1590.8,1240.1L1624.0,1264.2L1624.3,1267.1L1591.1,1242.9ZM1591.0,1242.3L1624.2,1266.4L1624.5,1269.2L1591.3,1245.0ZM1591.2,1244.4L1626.1,1269.8L1626.3,1272.6L1591.5,1247.1ZM1593.1,1247.7L1626.2,1271.9L1626.5,1274.7L1593.4,1250.4ZM1596.6,1252.2L1626.4,1274.1L1626.7,1276.9L1596.8,1255.0ZM1600.0,1256.7L1625.0,1275.1L1625.2,1277.9L1600.3,1259.5ZM1603.5,1261.2L1625.2,1277.2L1625.4,1280.0L1603.8,1264.0Z" fill="#9e985d"/>
<path d="M1524.9,1073.8L1544.0,1221.4M1523.5,1074.8L1648.2,1150.2M1526.7,1074.9L1545.7,1222.6M1523.7,1076.9L1648.3,1152.4M1528.4,1075.9L1547.3,1223.8M1524.0,1078.9L1648.5,1154.6M1530.1,1077.0L1548.9,1225.0M1524.3,1081.0L1648.6,1156.8M1531.9,1078.0L1550.5,1226.2M1524.5,1083.0L1648.8,1159.0M1533.6,1079.1L1552.2,1227.4M1524.8,1085.1L1649.0,1161.2M1535.3,1080.1L1553.8,1228.6M1525.1,1087.1L1649.1,1163.5M1537.1,1081.2L1555.4,1229.8M1525.3,1089.2L1649.3,1165.7M1538.8,1082.2L1557.0,1231.0M1525.6,1091.2L1649.4,1167.9M1540.5,1083.2L1558.7,1232.3M1525.9,1093.3L1649.6,1170.1M1542.3,1084.3L1560.3,1233.5M1526.1,1095.3L1649.8,1172.3M1544.0,1085.3L1561.9,1234.7M1526.4,1097.4L1649.9,1174.5M1545.7,1086.4L1563.5,1235.9M1526.7,1099.4L1650.1,1176.7M1547.5,1087.4L1565.2,1237.1M1526.9,1101.5L1650.2,1178.9M1549.2,1088.5L1566.8,1238.3M1527.2,1103.5L1650.4,1181.1M1550.9,1089.5L1568.4,1239.5M1527.5,1105.6L1650.6,1183.3M1552.7,1090.6L1570.0,1240.7M1527.7,1107.6L1650.7,1185.5M1554.4,1091.6L1571.7,1241.9M1528.0,1109.6L1650.9,1187.8M1556.1,1092.6L1573.3,1243.1M1528.3,1111.7L1651.0,1190.0M1557.9,1093.7L1574.9,1244.3M1528.5,1113.7L1651.2,1192.2M1559.6,1094.7L1576.6,1245.5M1528.8,1115.8L1651.4,1194.4M1561.3,1095.8L1578.2,1246.7M1529.1,1117.8L1651.5,1196.6M1563.1,1096.8L1579.8,1247.9M1529.3,1119.9L1651.7,1198.8M1564.8,1097.9L1581.4,1249.1M1529.6,1121.9L1651.8,1201.0M1566.5,1098.9L1583.1,1250.3M1529.9,1124.0L1652.0,1203.2M1568.3,1100.0L1584.7,1251.5M1530.1,1126.0L1652.2,1205.4M1570.0,1101.0L1586.3,1252.8M1530.4,1128.1L1652.3,1207.6M1571.7,1102.0L1587.9,1254.0M1530.7,1130.1L1652.5,1209.8M1573.5,1103.1L1589.6,1255.2M1530.9,1132.2L1652.6,1212.0M1575.2,1104.1L1591.2,1256.4M1531.2,1134.2L1652.8,1214.2M1576.9,1105.2L1592.8,1257.6M1531.5,1136.3L1653.0,1216.5M1578.7,1106.2L1594.4,1258.8M1531.7,1138.3L1653.1,1218.7M1580.4,1107.3L1596.1,1260.0M1532.0,1140.4L1653.3,1220.9M1582.1,1108.3L1597.7,1261.2M1532.3,1142.4L1653.4,1223.1M1583.9,1109.4L1599.3,1262.4M1532.5,1144.5L1653.6,1225.3M1585.6,1110.4L1601.0,1263.6M1532.8,1146.5L1653.8,1227.5M1587.3,1111.4L1602.6,1264.8M1533.1,1148.5L1653.9,1229.7M1589.1,1112.5L1604.2,1266.0M1533.3,1150.6L1654.1,1231.9M1590.8,1113.5L1605.8,1267.2M1533.6,1152.6L1654.2,1234.1M1592.5,1114.6L1607.5,1268.4M1533.9,1154.7L1654.4,1236.3M1594.3,1115.6L1609.1,1269.6M1534.1,1156.7L1654.5,1238.5M1596.0,1116.7L1610.7,1270.8M1534.4,1158.8L1654.7,1240.8M1597.7,1117.7L1612.3,1272.0M1534.7,1160.8L1654.9,1243.0M1599.5,1118.8L1614.0,1273.2M1534.9,1162.9L1655.0,1245.2M1601.2,1119.8L1615.6,1274.5M1535.2,1164.9L1655.2,1247.4M1602.9,1120.8L1617.2,1275.7M1535.5,1167.0L1655.3,1249.6M1604.7,1121.9L1618.8,1276.9M1535.7,1169.0L1655.5,1251.8M1606.4,1122.9L1620.5,1278.1M1536.0,1171.1L1655.7,1254.0M1608.1,1124.0L1622.1,1279.3M1536.3,1173.1L1655.8,1256.2M1609.9,1125.0L1623.7,1280.5M1536.5,1175.2L1656.0,1258.4M1611.6,1126.1L1625.3,1281.7M1536.8,1177.2L1656.1,1260.6M1613.3,1127.1L1627.0,1282.9M1537.1,1179.3L1656.3,1262.8M1615.1,1128.2L1628.6,1284.1M1537.3,1181.3L1656.5,1265.0M1616.8,1129.2L1630.2,1285.3M1537.6,1183.4L1656.6,1267.2M1618.5,1130.2L1631.9,1286.5M1537.9,1185.4L1656.8,1269.5M1620.3,1131.3L1633.5,1287.7M1538.1,1187.4L1656.9,1271.7M1622.0,1132.3L1635.1,1288.9M1538.4,1189.5L1657.1,1273.9M1623.7,1133.4L1636.7,1290.1M1538.7,1191.5L1657.3,1276.1M1625.5,1134.4L1638.4,1291.3M1538.9,1193.6L1657.4,1278.3M1627.2,1135.5L1640.0,1292.5M1539.2,1195.6L1657.6,1280.5M1628.9,1136.5L1641.6,1293.7M1539.5,1197.7L1657.7,1282.7M1630.7,1137.6L1643.2,1294.9M1539.7,1199.7L1657.9,1284.9M1632.4,1138.6L1644.9,1296.2M1540.0,1201.8L1658.1,1287.1M1634.1,1139.6L1646.5,1297.4M1540.3,1203.8L1658.2,1289.3M1635.9,1140.7L1648.1,1298.6M1540.5,1205.9L1658.4,1291.5M1637.6,1141.7L1649.7,1299.8M1540.8,1207.9L1658.5,1293.8M1639.3,1142.8L1651.4,1301.0M1541.1,1210.0L1658.7,1296.0M1641.1,1143.8L1653.0,1302.2M1541.3,1212.0L1658.9,1298.2M1642.8,1144.9L1654.6,1303.4M1541.6,1214.1L1659.0,1300.4M1644.5,1145.9L1656.2,1304.6M1541.9,1216.1L1659.2,1302.6M1646.3,1147.0L1657.9,1305.8M1542.1,1218.2L1659.3,1304.8" stroke="#102028" stroke-opacity="0.36" stroke-width="0.75" fill="none"/>
<path d="M1647.7,1147.8L1711.1,1116.0L1711.1,1118.8L1647.9,1150.7ZM1647.8,1150.0L1711.1,1118.1L1711.2,1120.9L1648.0,1152.9ZM1648.0,1152.2L1711.2,1120.2L1711.2,1123.0L1648.2,1155.1ZM1648.2,1154.4L1711.2,1122.4L1711.3,1125.1L1648.4,1157.3ZM1648.3,1156.7L1711.3,1124.5L1711.4,1127.2L1648.5,1159.5ZM1648.5,1158.9L1711.3,1126.6L1711.4,1129.3L1648.7,1161.7ZM1648.6,1161.1L1711.4,1128.7L1711.5,1131.4L1648.8,1163.9ZM1648.8,1163.3L1711.4,1130.8L1711.5,1133.6L1649.0,1166.2ZM1649.0,1165.5L1711.5,1132.9L1711.6,1135.7L1649.2,1168.4ZM1649.1,1167.7L1711.6,1135.0L1711.6,1137.8L1649.3,1170.6ZM1649.3,1169.9L1709.6,1138.2L1709.7,1141.0L1649.5,1172.8ZM1649.4,1172.1L1707.7,1141.4L1707.8,1144.1L1649.6,1175.0ZM1649.6,1174.3L1705.8,1144.5L1705.8,1147.3L1649.8,1177.2ZM1649.8,1176.5L1703.8,1147.7L1703.9,1150.5L1650.0,1179.4ZM1649.9,1178.7L1701.9,1150.9L1702.0,1153.7L1650.1,1181.6ZM1650.1,1181.0L1700.0,1154.1L1700.1,1156.9L1650.3,1183.8ZM1650.2,1183.2L1696.2,1158.4L1696.3,1161.1L1650.4,1186.0ZM1650.4,1185.4L1690.3,1163.7L1690.5,1166.5L1650.6,1188.2ZM1650.6,1187.6L1686.5,1168.0L1686.6,1170.8L1650.8,1190.5ZM1650.7,1189.8L1682.7,1172.3L1682.8,1175.1L1650.9,1192.7ZM1654.8,1189.8L1676.9,1177.7L1677.1,1180.5L1655.0,1192.7ZM1658.9,1189.9L1673.1,1182.0L1673.3,1184.8L1659.0,1192.7ZM1662.9,1189.9L1669.3,1186.3L1669.5,1189.2L1663.1,1192.8Z" fill="#808888"/>
<path d="M1710.5,1116.3L1727.3,1107.9L1727.3,1110.6L1710.5,1119.1ZM1710.5,1118.4L1727.3,1110.0L1727.3,1112.7L1710.6,1121.2ZM1710.6,1120.5L1727.3,1112.1L1727.4,1114.8L1710.6,1123.3ZM1710.6,1122.7L1727.4,1114.2L1727.4,1116.9L1710.7,1125.4ZM1710.7,1124.8L1727.4,1116.2L1727.4,1119.0L1710.8,1127.5ZM1710.7,1126.9L1727.4,1118.3L1727.4,1121.0L1710.8,1129.6ZM1710.8,1129.0L1727.4,1120.4L1727.5,1123.1L1710.9,1131.8ZM1710.8,1131.1L1727.5,1122.5L1727.5,1125.2L1710.9,1133.9ZM1710.9,1133.2L1727.5,1124.6L1727.5,1127.3L1711.0,1136.0ZM1711.0,1135.4L1727.5,1126.7L1727.6,1129.4L1711.0,1138.1ZM1715.0,1135.4L1727.5,1128.8L1727.6,1131.5L1715.1,1138.1ZM1719.0,1135.4L1727.6,1130.9L1727.6,1133.6L1719.1,1138.1ZM1721.0,1136.4L1727.6,1133.0L1727.6,1135.7L1721.1,1139.2Z" fill="#9b2020"/>
<path d="M1726.7,1108.2L1751.6,1095.7L1751.6,1098.4L1726.7,1110.9ZM1726.7,1110.3L1751.6,1097.7L1751.5,1100.4L1726.7,1113.0ZM1726.7,1112.4L1751.6,1099.8L1751.5,1102.5L1726.8,1115.1ZM1726.8,1114.5L1751.5,1101.8L1751.5,1104.5L1726.8,1117.2ZM1728.8,1115.5L1751.5,1103.9L1751.5,1106.6L1728.8,1118.2ZM1728.8,1117.6L1751.5,1106.0L1751.5,1108.6L1728.8,1120.3ZM1728.8,1119.7L1753.5,1107.0L1753.5,1109.6L1728.9,1122.4ZM1728.9,1121.8L1753.5,1109.0L1753.5,1111.7L1728.9,1124.5ZM1728.9,1123.9L1753.5,1111.1L1753.4,1113.7L1728.9,1126.6ZM1728.9,1126.0L1753.5,1113.1L1753.4,1115.8L1728.9,1128.7ZM1728.9,1128.0L1753.4,1115.2L1753.4,1117.8L1729.0,1130.8ZM1729.0,1130.1L1753.4,1117.2L1753.4,1119.9L1729.0,1132.9ZM1729.0,1132.2L1753.4,1119.3L1753.4,1121.9L1729.0,1134.9ZM1729.0,1134.3L1753.4,1121.3L1753.4,1124.0L1729.0,1137.0ZM1729.0,1136.4L1753.4,1123.4L1753.3,1126.0L1729.1,1139.1ZM1729.1,1138.5L1753.3,1125.4L1753.3,1128.1L1729.1,1141.2ZM1735.0,1137.4L1753.3,1127.5L1753.3,1130.1L1735.0,1140.1ZM1742.9,1135.2L1753.3,1129.5L1753.3,1132.2L1742.9,1137.9Z" fill="#084474"/>
<path d="M1751.0,1096.0L1794.1,1074.3L1794.0,1076.9L1751.0,1098.7ZM1751.0,1098.0L1794.0,1076.3L1793.9,1078.9L1750.9,1100.7ZM1750.9,1100.1L1793.9,1078.3L1793.8,1080.9L1750.9,1102.8ZM1750.9,1102.2L1793.9,1080.3L1793.8,1082.9L1750.9,1104.8ZM1726.8,1116.6L1729.4,1115.2L1729.4,1117.9L1726.8,1119.3ZM1750.9,1104.2L1793.8,1082.3L1793.7,1084.9L1750.9,1106.9ZM1726.8,1118.6L1729.4,1117.3L1729.4,1120.0L1726.8,1121.4ZM1750.9,1106.3L1793.7,1084.3L1793.6,1086.9L1750.9,1108.9ZM1726.8,1120.7L1729.4,1119.4L1729.5,1122.1L1726.9,1123.5ZM1752.9,1107.3L1793.6,1086.3L1793.5,1088.9L1752.9,1110.0ZM1726.9,1122.8L1729.5,1121.5L1729.5,1124.2L1726.9,1125.5ZM1752.9,1109.3L1793.5,1088.3L1793.4,1090.9L1752.9,1112.0ZM1726.9,1124.9L1729.5,1123.6L1729.5,1126.3L1726.9,1127.6ZM1752.9,1111.4L1793.4,1090.3L1793.3,1092.9L1752.8,1114.1ZM1726.9,1127.0L1729.5,1125.6L1729.5,1128.4L1727.0,1129.7ZM1752.9,1113.4L1793.3,1092.3L1793.2,1094.8L1752.8,1116.1ZM1713.0,1136.4L1715.6,1135.1L1715.7,1137.8L1713.1,1139.2ZM1726.9,1129.1L1729.5,1127.7L1729.6,1130.4L1727.0,1131.8ZM1752.8,1115.5L1793.3,1094.2L1793.2,1096.8L1752.8,1118.2ZM1717.0,1136.4L1719.6,1135.1L1719.7,1137.8L1717.1,1139.2ZM1727.0,1131.2L1729.6,1129.8L1729.6,1132.5L1727.0,1133.9ZM1752.8,1117.5L1793.2,1096.2L1793.1,1098.8L1752.8,1120.2ZM1727.0,1133.3L1729.6,1131.9L1729.6,1134.6L1727.0,1136.0ZM1752.8,1119.6L1793.1,1098.2L1793.0,1100.8L1752.8,1122.3ZM1723.1,1137.5L1729.6,1134.0L1729.6,1136.7L1723.1,1140.2ZM1752.8,1121.6L1793.0,1100.2L1792.9,1102.8L1752.8,1124.3ZM1723.1,1139.6L1729.6,1136.1L1729.7,1138.8L1723.1,1142.3ZM1752.8,1123.7L1792.9,1102.2L1792.8,1104.8L1752.7,1126.4ZM1723.1,1141.7L1729.7,1138.2L1729.7,1140.9L1723.2,1144.4ZM1752.8,1125.7L1792.8,1104.2L1792.7,1106.8L1752.7,1128.4ZM1733.0,1138.4L1735.6,1137.1L1735.6,1139.8L1733.0,1141.2ZM1752.7,1127.8L1790.8,1107.3L1790.7,1109.8L1752.7,1130.5ZM1752.7,1129.9L1788.7,1110.3L1788.6,1112.9L1752.7,1132.5ZM1752.7,1131.9L1786.7,1113.4L1786.6,1116.0L1752.7,1134.6ZM1682.1,1172.6L1688.6,1169.1L1688.7,1171.9L1682.2,1175.4ZM1754.6,1132.9L1784.7,1116.5L1784.6,1119.1L1754.6,1135.5ZM1676.3,1178.0L1678.9,1176.6L1679.0,1179.4L1676.5,1180.8ZM1680.2,1175.8L1690.6,1170.1L1690.7,1172.9L1680.4,1178.7ZM1754.6,1134.9L1780.7,1120.6L1780.6,1123.2L1754.6,1137.6ZM1672.5,1182.3L1675.1,1180.9L1675.2,1183.7L1672.7,1185.2ZM1686.2,1174.8L1692.7,1171.2L1692.8,1174.0L1686.3,1177.6ZM1756.6,1135.9L1778.6,1123.7L1778.6,1126.3L1756.5,1138.6ZM1758.5,1136.9L1776.6,1126.8L1776.6,1129.4L1758.5,1139.5ZM1698.1,1172.6L1700.6,1171.2L1700.7,1173.9L1698.2,1175.3ZM1760.4,1137.8L1774.6,1129.9L1774.6,1132.5L1760.4,1140.5ZM1702.1,1172.5L1706.5,1170.0L1706.6,1172.8L1702.2,1175.3ZM1742.9,1149.7L1745.4,1148.2L1745.4,1150.9L1742.9,1152.3ZM1762.3,1138.8L1772.6,1133.0L1772.6,1135.6L1762.3,1141.4ZM1708.0,1171.4L1714.4,1167.8L1714.4,1170.5L1708.0,1174.1ZM1742.9,1151.7L1747.4,1149.2L1747.3,1151.9L1742.9,1154.4ZM1762.3,1140.8L1768.7,1137.2L1768.6,1139.8L1762.3,1143.4ZM1711.9,1171.3L1716.3,1168.8L1716.4,1171.5L1712.0,1174.1ZM1742.9,1153.8L1749.3,1150.2L1749.3,1152.8L1742.9,1156.5ZM1764.2,1141.7L1766.7,1140.3L1766.7,1143.0L1764.2,1144.4ZM1713.9,1172.3L1716.4,1170.9L1716.5,1173.6L1713.9,1175.1ZM1742.9,1155.9L1749.3,1152.2L1749.3,1154.9L1742.9,1158.5ZM1746.8,1155.7L1751.2,1153.2L1751.2,1155.9L1746.7,1158.4ZM1750.6,1155.6L1753.1,1154.1L1753.1,1156.8L1750.6,1158.2ZM1766.0,1148.8L1768.5,1147.3L1768.4,1150.0L1765.9,1151.4ZM1765.9,1150.8L1770.4,1148.2L1770.3,1150.9L1765.9,1153.4ZM1758.2,1157.3L1764.6,1153.6L1764.5,1156.2L1758.2,1159.9ZM1765.9,1152.8L1772.2,1149.2L1772.2,1151.8L1765.8,1155.5ZM1760.1,1158.2L1791.3,1140.0L1791.2,1142.6L1760.1,1160.9ZM1762.0,1159.1L1791.2,1142.0L1791.1,1144.6L1762.0,1161.8ZM1763.9,1160.0L1791.1,1144.0L1791.0,1146.6L1763.8,1162.7ZM1763.8,1162.1L1791.0,1146.0L1790.9,1148.6L1763.8,1164.7ZM1763.8,1164.1L1791.0,1148.0L1790.9,1150.6L1763.7,1166.7ZM1763.8,1166.1L1790.9,1150.0L1790.8,1152.5L1763.7,1168.8ZM1744.8,1179.5L1747.3,1178.0L1747.2,1180.7L1744.8,1182.2ZM1763.7,1168.2L1790.8,1152.0L1790.7,1154.5L1763.7,1170.8ZM1690.0,1214.6L1692.4,1213.1L1692.6,1215.9L1690.1,1217.4ZM1744.8,1181.6L1749.1,1179.0L1749.1,1181.6L1744.8,1184.3ZM1763.7,1170.2L1790.7,1153.9L1790.6,1156.5L1763.6,1172.8ZM1690.1,1216.7L1694.4,1214.1L1694.5,1216.9L1690.2,1219.5ZM1739.1,1187.1L1751.0,1179.9L1751.0,1182.5L1739.1,1189.8ZM1763.6,1172.2L1790.6,1155.9L1790.5,1158.5L1763.6,1174.9ZM1688.3,1220.0L1696.4,1215.1L1696.5,1217.9L1688.4,1222.8ZM1733.5,1192.6L1741.6,1187.7L1741.6,1190.3L1733.5,1195.3ZM1763.6,1174.3L1790.5,1157.9L1790.4,1160.5L1763.6,1176.9ZM1688.4,1222.2L1696.5,1217.2L1696.6,1220.0L1688.5,1225.0ZM1729.7,1196.9L1737.8,1192.0L1737.8,1194.7L1729.8,1199.7ZM1763.6,1176.3L1790.5,1159.9L1790.3,1162.5L1763.5,1178.9ZM1675.4,1232.4L1685.3,1226.3L1685.4,1229.1L1675.5,1235.2ZM1686.6,1225.5L1698.4,1218.2L1698.5,1221.0L1686.7,1228.3ZM1757.9,1181.8L1762.2,1179.1L1762.2,1181.8L1757.9,1184.4ZM1763.5,1178.3L1790.4,1161.9L1790.3,1164.5L1763.5,1181.0ZM1679.2,1232.2L1698.5,1220.4L1698.6,1223.1L1679.4,1235.1ZM1757.9,1183.8L1790.3,1163.9L1790.2,1166.5L1757.8,1186.5ZM1683.1,1232.1L1694.9,1224.8L1695.0,1227.6L1683.2,1234.9ZM1761.6,1183.6L1790.2,1165.9L1790.1,1168.5L1761.6,1186.2ZM1685.1,1233.1L1694.9,1227.0L1695.1,1229.7L1685.2,1235.9ZM1707.4,1219.2L1709.9,1217.7L1710.0,1220.4L1707.5,1222.0ZM1767.2,1182.1L1790.1,1167.9L1790.0,1170.5L1767.1,1184.8ZM1688.9,1232.9L1695.0,1229.1L1695.1,1231.9L1689.0,1235.7ZM1772.7,1180.7L1790.0,1169.9L1789.9,1172.4L1772.6,1183.3ZM1692.7,1232.8L1697.0,1230.1L1697.1,1232.9L1692.8,1235.6ZM1707.6,1223.4L1710.0,1221.9L1710.1,1224.7L1707.7,1226.2ZM1776.4,1180.4L1789.9,1171.9L1789.8,1174.4L1776.3,1183.0ZM1698.4,1231.4L1700.8,1229.9L1700.9,1232.7L1698.5,1234.2ZM1707.6,1225.6L1710.1,1224.0L1710.1,1226.8L1707.7,1228.3ZM1780.0,1180.0L1789.9,1173.8L1789.7,1176.4L1779.9,1182.6ZM1704.0,1230.0L1706.4,1228.5L1706.5,1231.3L1704.1,1232.8ZM1707.7,1227.7L1710.1,1226.2L1710.2,1228.9L1707.8,1230.5ZM1781.8,1180.9L1789.8,1175.8L1789.7,1178.4L1781.7,1183.5ZM1707.8,1229.8L1710.2,1228.3L1710.3,1231.0L1707.9,1232.6ZM1785.4,1180.5L1789.7,1177.8L1789.6,1180.4L1785.3,1183.1ZM1707.8,1231.9L1712.1,1229.2L1712.2,1232.0L1707.9,1234.7ZM1787.2,1181.3L1789.6,1179.8L1789.5,1182.4L1787.1,1183.9ZM1707.9,1234.1L1712.1,1231.3L1712.2,1234.1L1708.0,1236.8ZM1787.1,1183.3L1789.5,1181.8L1789.4,1184.4L1787.0,1185.9ZM1678.6,1255.1L1682.8,1252.4L1682.9,1255.2L1678.7,1257.9ZM1709.8,1235.0L1714.0,1232.3L1714.1,1235.0L1709.9,1237.8ZM1787.0,1185.3L1789.4,1183.8L1789.3,1186.4L1786.9,1187.9ZM1676.8,1258.5L1684.7,1253.4L1684.9,1256.2L1677.0,1261.3ZM1709.9,1237.1L1714.1,1234.4L1714.2,1237.1L1710.0,1239.9ZM1787.0,1187.3L1789.3,1185.8L1789.2,1188.4L1786.9,1189.9ZM1680.6,1258.3L1686.7,1254.3L1686.8,1257.2L1680.8,1261.1ZM1709.9,1239.2L1716.0,1235.3L1716.0,1238.1L1710.0,1242.0ZM1786.9,1189.3L1789.3,1187.8L1789.1,1190.4L1786.8,1191.9ZM1673.4,1265.2L1675.8,1263.7L1676.0,1266.5L1673.6,1268.0ZM1710.0,1241.4L1716.0,1237.4L1716.1,1240.2L1710.1,1244.1ZM1786.8,1191.3L1789.2,1189.8L1789.1,1192.3L1786.7,1193.9ZM1673.6,1267.4L1675.9,1265.8L1676.1,1268.7L1673.7,1270.2ZM1710.1,1243.5L1716.1,1239.5L1716.1,1242.3L1710.1,1246.2ZM1719.2,1237.5L1732.5,1228.8L1732.5,1231.5L1719.2,1240.3ZM1786.7,1193.3L1789.1,1191.7L1789.0,1194.3L1786.6,1195.9ZM1673.7,1269.6L1676.1,1268.0L1676.2,1270.8L1673.9,1272.4ZM1708.3,1246.8L1738.0,1227.3L1738.0,1230.0L1708.4,1249.6ZM1748.4,1220.5L1750.7,1218.9L1750.7,1221.6L1748.4,1223.1ZM1786.6,1195.3L1789.0,1193.7L1788.9,1196.3L1786.5,1197.9ZM1673.8,1271.7L1676.2,1270.2L1676.3,1273.0L1674.0,1274.6ZM1699.3,1254.9L1701.6,1253.4L1701.7,1256.1L1699.4,1257.7ZM1706.5,1250.1L1730.7,1234.2L1730.8,1236.9L1706.6,1252.9ZM1742.9,1226.1L1748.9,1222.1L1748.9,1224.8L1742.9,1228.8ZM1786.6,1197.3L1788.9,1195.7L1788.8,1198.3L1786.4,1199.9ZM1673.9,1273.9L1676.3,1272.4L1676.5,1275.2L1674.1,1276.8ZM1704.8,1253.5L1723.5,1241.1L1723.5,1243.8L1704.9,1256.2ZM1744.7,1227.0L1748.9,1224.2L1748.9,1226.9L1744.7,1229.7ZM1786.5,1199.3L1788.8,1197.7L1788.7,1200.3L1786.4,1201.9ZM1708.5,1253.2L1714.5,1249.2L1714.5,1251.9L1708.6,1255.9ZM1744.7,1229.0L1748.9,1226.3L1748.9,1228.9L1744.7,1231.7ZM1786.4,1201.3L1788.7,1199.7L1788.6,1202.3L1786.3,1203.9ZM1746.5,1229.9L1748.9,1228.3L1748.9,1231.0L1746.5,1232.6ZM1746.5,1232.0L1750.7,1229.2L1750.7,1231.8L1746.5,1234.6ZM1748.3,1232.8L1750.7,1231.2L1750.6,1233.9L1748.3,1235.5ZM1750.1,1235.7L1752.4,1234.1L1752.4,1236.8L1750.1,1238.4ZM1671.5,1296.0L1679.2,1290.7L1679.4,1293.6L1671.7,1298.9ZM1709.0,1270.2L1780.9,1220.6L1780.8,1223.2L1709.1,1272.9Z" fill="#8a8d90"/>
<path d="M1709.0,1138.5L1713.6,1136.1L1713.7,1138.9L1709.1,1141.3ZM1707.1,1141.7L1717.6,1136.1L1717.7,1138.9L1707.2,1144.4ZM1705.2,1144.9L1721.6,1136.1L1721.7,1138.8L1705.3,1147.6ZM1703.3,1148.0L1723.7,1137.2L1723.7,1139.9L1703.3,1150.8ZM1701.3,1151.2L1723.7,1139.3L1723.7,1142.0L1701.4,1154.0ZM1699.4,1154.4L1723.7,1141.4L1723.8,1144.1L1699.5,1157.2ZM1695.6,1158.7L1715.9,1147.7L1715.9,1150.4L1695.7,1161.5ZM1689.8,1164.0L1715.9,1149.8L1716.0,1152.6L1689.9,1166.8ZM1685.9,1168.3L1716.0,1151.9L1716.0,1154.7L1686.0,1171.1ZM1688.0,1169.4L1716.0,1154.0L1716.1,1156.8L1688.1,1172.2ZM1690.0,1170.5L1716.1,1156.1L1716.1,1158.9L1690.1,1173.3ZM1692.1,1171.5L1716.1,1158.2L1716.2,1161.0L1692.2,1174.3ZM1692.2,1173.7L1716.2,1160.4L1716.2,1163.1L1692.3,1176.5ZM1700.0,1171.5L1716.2,1162.5L1716.3,1165.2L1700.1,1174.2ZM1706.0,1170.3L1716.3,1164.6L1716.3,1167.3L1706.0,1173.1ZM1713.8,1168.1L1716.3,1166.7L1716.4,1169.4L1713.8,1170.8Z" fill="#a55d44"/>
<path d="M1715.3,1148.0L1733.6,1138.1L1733.6,1140.8L1715.3,1150.8ZM1715.3,1150.1L1735.6,1139.1L1735.6,1141.8L1715.4,1152.9ZM1715.4,1152.2L1737.6,1140.1L1737.6,1142.8L1715.4,1155.0ZM1715.4,1154.4L1739.6,1141.1L1739.6,1143.8L1715.5,1157.1ZM1715.5,1156.5L1739.6,1143.2L1739.6,1145.9L1715.5,1159.2ZM1715.5,1158.6L1741.5,1144.2L1741.5,1146.9L1715.6,1161.3ZM1715.6,1160.7L1743.5,1145.2L1743.5,1147.9L1715.6,1163.4ZM1715.6,1162.8L1743.5,1147.3L1743.5,1149.9L1715.7,1165.5ZM1715.7,1164.9L1743.5,1149.3L1743.5,1152.0L1715.7,1167.6ZM1715.7,1167.0L1743.5,1151.4L1743.5,1154.1L1715.8,1169.7ZM1715.8,1169.1L1743.5,1153.5L1743.5,1156.1L1715.8,1171.9ZM1715.8,1171.2L1743.5,1155.5L1743.5,1158.2L1715.9,1174.0ZM1715.9,1173.3L1743.5,1157.6L1743.5,1160.3L1715.9,1176.1ZM1717.8,1174.3L1743.5,1159.7L1743.5,1162.3L1717.9,1177.1ZM1717.9,1176.4L1745.4,1160.6L1745.4,1163.3L1717.9,1179.2ZM1717.9,1178.6L1745.4,1162.7L1745.4,1165.4L1718.0,1181.3ZM1718.0,1180.7L1745.4,1164.7L1745.4,1167.4L1718.0,1183.4ZM1718.0,1182.8L1745.4,1166.8L1745.4,1169.5L1718.1,1185.5ZM1718.1,1184.9L1745.4,1168.9L1745.4,1171.5L1718.1,1187.6ZM1718.1,1187.0L1745.4,1170.9L1745.4,1173.6L1718.2,1189.7ZM1718.2,1189.1L1745.4,1173.0L1745.4,1175.7L1718.2,1191.8ZM1718.2,1191.2L1745.4,1175.1L1745.4,1177.7L1718.3,1193.9ZM1718.2,1193.3L1745.4,1177.1L1745.4,1179.8L1718.3,1196.0ZM1718.3,1195.4L1745.4,1179.2L1745.4,1181.9L1718.3,1198.1ZM1720.2,1196.4L1745.4,1181.2L1745.3,1183.9L1720.3,1199.1ZM1724.0,1196.2L1739.7,1186.7L1739.7,1189.4L1724.1,1198.9ZM1726.0,1197.1L1734.0,1192.2L1734.1,1194.9L1726.0,1199.9Z" fill="#80897a"/>
<path d="M1790.2,1107.6L1792.8,1106.2L1792.6,1108.8L1790.1,1110.2ZM1788.1,1110.6L1792.7,1108.2L1792.6,1110.8L1788.0,1113.2ZM1786.1,1113.7L1792.6,1110.2L1792.5,1112.8L1786.0,1116.3ZM1784.1,1116.8L1792.5,1112.2L1792.4,1114.7L1784.0,1119.4ZM1780.1,1120.9L1792.4,1114.1L1792.3,1116.7L1780.0,1123.5ZM1778.1,1124.0L1792.3,1116.1L1792.2,1118.7L1778.0,1126.6ZM1776.0,1127.1L1792.2,1118.1L1792.1,1120.7L1776.0,1129.7ZM1774.0,1130.2L1792.2,1120.1L1792.0,1122.7L1774.0,1132.8ZM1772.0,1133.3L1792.1,1122.1L1792.0,1124.7L1772.0,1135.9ZM1768.1,1137.5L1792.0,1124.1L1791.9,1126.7L1768.1,1140.2ZM1766.1,1140.6L1791.9,1126.1L1791.8,1128.7L1766.1,1143.3ZM1766.1,1142.7L1791.8,1128.1L1791.7,1130.7L1766.0,1145.3ZM1766.1,1144.7L1791.7,1130.1L1791.6,1132.7L1766.0,1147.3ZM1766.0,1146.7L1791.6,1132.1L1791.5,1134.6L1766.0,1149.4ZM1767.9,1147.7L1791.6,1134.0L1791.4,1136.6L1767.8,1150.3ZM1769.8,1148.6L1791.5,1136.0L1791.4,1138.6L1769.7,1151.2ZM1771.6,1149.5L1791.4,1138.0L1791.3,1140.6L1771.6,1152.1Z" fill="#2c3843"/>
<path d="M1735.0,1139.5L1743.5,1134.9L1743.5,1137.6L1735.0,1142.2ZM1737.0,1140.5L1753.3,1131.6L1753.3,1134.2L1737.0,1143.2ZM1739.0,1141.5L1755.2,1132.6L1755.2,1135.2L1739.0,1144.2ZM1739.0,1143.5L1755.2,1134.6L1755.2,1137.3L1739.0,1146.2ZM1740.9,1144.5L1757.2,1135.6L1757.1,1138.2L1740.9,1147.2ZM1742.9,1145.5L1759.1,1136.5L1759.0,1139.2L1742.9,1148.2ZM1742.9,1147.6L1761.0,1137.5L1761.0,1140.1L1742.9,1150.3ZM1744.8,1148.6L1762.9,1138.4L1762.9,1141.1L1744.8,1151.2ZM1746.8,1149.5L1762.9,1140.5L1762.8,1143.1L1746.8,1152.2ZM1748.7,1150.5L1764.8,1141.4L1764.7,1144.1L1748.7,1153.2ZM1748.7,1152.6L1766.7,1142.3L1766.6,1145.0L1748.7,1155.2ZM1750.6,1153.5L1766.6,1144.4L1766.6,1147.0L1750.6,1156.2ZM1752.5,1154.5L1766.6,1146.4L1766.5,1149.0L1752.5,1157.1ZM1754.4,1155.4L1766.6,1148.4L1766.5,1151.1L1754.4,1158.1ZM1756.3,1156.3L1766.5,1150.5L1766.5,1153.1L1756.3,1159.0ZM1764.0,1153.9L1766.5,1152.5L1766.4,1155.1L1763.9,1156.6Z" fill="#5d2055"/>
<path d="M1650.9,1192.0L1655.4,1189.5L1655.6,1192.4L1651.1,1194.9ZM1651.0,1194.2L1659.4,1189.6L1659.6,1192.4L1651.2,1197.1ZM1651.2,1196.4L1663.5,1189.6L1663.7,1192.4L1651.4,1199.3ZM1651.4,1198.6L1667.5,1189.6L1667.7,1192.4L1651.6,1201.5ZM1651.5,1200.8L1669.6,1190.7L1669.8,1193.5L1651.7,1203.7ZM1651.7,1203.0L1671.7,1191.8L1671.8,1194.6L1651.9,1205.9ZM1651.8,1205.2L1673.7,1192.9L1673.9,1195.7L1652.0,1208.1ZM1652.0,1207.5L1675.8,1194.0L1675.9,1196.8L1652.2,1210.3ZM1652.2,1209.7L1677.8,1195.0L1678.0,1197.8L1652.4,1212.5ZM1652.3,1211.9L1679.9,1196.1L1680.0,1198.9L1652.5,1214.7ZM1652.5,1214.1L1681.9,1197.1L1682.1,1200.0L1652.7,1217.0ZM1652.6,1216.3L1682.0,1199.3L1682.2,1202.1L1652.8,1219.2ZM1652.8,1218.5L1684.0,1200.4L1684.2,1203.2L1653.0,1221.4ZM1653.0,1220.7L1684.1,1202.5L1684.3,1205.3L1653.2,1223.6ZM1653.1,1222.9L1686.2,1203.6L1686.3,1206.4L1653.3,1225.8ZM1653.3,1225.1L1688.2,1204.6L1688.3,1207.4L1653.5,1228.0ZM1653.4,1227.3L1688.3,1206.7L1688.4,1209.5L1653.6,1230.2ZM1653.6,1229.5L1690.3,1207.8L1690.4,1210.6L1653.8,1232.4ZM1653.8,1231.8L1690.4,1209.9L1690.5,1212.7L1654.0,1234.6ZM1653.9,1234.0L1692.4,1210.9L1692.5,1213.7L1654.1,1236.8ZM1656.0,1235.0L1690.6,1214.2L1690.7,1217.0L1656.2,1237.9ZM1659.9,1235.0L1690.6,1216.4L1690.8,1219.2L1660.1,1237.8ZM1665.7,1233.7L1688.9,1219.7L1689.0,1222.5L1665.9,1236.6ZM1671.5,1232.5L1689.0,1221.8L1689.1,1224.6L1671.6,1235.3ZM1684.7,1226.6L1687.2,1225.1L1687.3,1227.9L1684.9,1229.4Z" fill="#6d929b"/>
<path d="M1678.3,1176.9L1680.8,1175.5L1681.0,1178.3L1678.4,1179.7ZM1674.5,1181.2L1686.8,1174.4L1686.9,1177.2L1674.6,1184.1ZM1668.8,1186.7L1692.7,1173.4L1692.9,1176.1L1668.9,1189.5ZM1666.9,1189.9L1698.7,1172.2L1698.8,1175.0L1667.1,1192.8ZM1669.0,1191.0L1702.6,1172.2L1702.7,1175.0L1669.2,1193.9ZM1671.1,1192.1L1708.5,1171.0L1708.6,1173.8L1671.2,1195.0ZM1673.1,1193.2L1712.5,1171.0L1712.5,1173.7L1673.3,1196.0ZM1675.2,1194.3L1714.5,1172.0L1714.5,1174.7L1675.4,1197.1ZM1677.3,1195.4L1716.4,1173.0L1716.5,1175.7L1677.4,1198.2ZM1679.3,1196.4L1718.4,1174.0L1718.5,1176.7L1679.4,1199.2ZM1681.3,1197.5L1718.5,1176.1L1718.5,1178.8L1681.5,1200.3ZM1681.4,1199.6L1718.5,1178.2L1718.6,1181.0L1681.6,1202.5ZM1683.5,1200.7L1718.5,1180.3L1718.6,1183.1L1683.6,1203.5ZM1683.6,1202.9L1718.6,1182.4L1718.6,1185.2L1683.7,1205.7ZM1685.6,1203.9L1718.6,1184.5L1718.7,1187.3L1685.7,1206.7ZM1687.6,1204.9L1718.7,1186.6L1718.7,1189.4L1687.7,1207.7ZM1687.7,1207.1L1718.7,1188.7L1718.8,1191.5L1687.8,1209.9ZM1689.7,1208.1L1718.8,1190.8L1718.8,1193.6L1689.8,1210.9ZM1689.8,1210.3L1718.8,1193.0L1718.9,1195.7L1689.9,1213.1ZM1691.8,1211.3L1718.9,1195.1L1718.9,1197.8L1691.9,1214.1ZM1691.9,1213.4L1718.9,1197.2L1719.0,1199.9L1692.0,1216.2ZM1693.9,1214.4L1715.2,1201.5L1715.2,1204.3L1694.0,1217.2ZM1695.8,1215.4L1713.3,1204.8L1713.4,1207.5L1695.9,1218.2ZM1695.9,1217.6L1709.6,1209.2L1709.7,1212.0L1696.0,1220.4ZM1697.9,1218.6L1709.7,1211.3L1709.8,1214.1L1698.0,1221.4ZM1698.0,1220.7L1702.3,1218.1L1702.4,1220.8L1698.1,1223.5ZM1703.6,1217.3L1709.8,1213.4L1709.8,1216.2L1703.7,1220.0ZM1705.5,1218.2L1709.8,1215.6L1709.9,1218.3L1705.6,1221.0Z" fill="#08183d"/>
<path d="M1742.9,1157.9L1747.3,1155.4L1747.3,1158.1L1742.9,1160.6ZM1742.9,1160.0L1751.2,1155.2L1751.2,1157.9L1742.9,1162.7ZM1744.8,1160.9L1755.0,1155.1L1755.0,1157.7L1744.8,1163.6ZM1744.8,1163.0L1756.9,1156.0L1756.9,1158.7L1744.8,1165.7ZM1744.8,1165.1L1758.8,1156.9L1758.8,1159.6L1744.8,1167.8ZM1744.8,1167.1L1760.7,1157.9L1760.6,1160.5L1744.8,1169.8ZM1744.8,1169.2L1762.6,1158.8L1762.5,1161.4L1744.8,1171.9ZM1744.8,1171.3L1764.4,1159.7L1764.4,1162.3L1744.8,1173.9ZM1744.8,1173.3L1764.4,1161.7L1764.4,1164.4L1744.8,1176.0ZM1744.8,1175.4L1764.4,1163.8L1764.3,1166.4L1744.8,1178.1ZM1744.8,1177.5L1764.3,1165.8L1764.3,1168.4L1744.8,1180.1ZM1746.7,1178.4L1764.3,1167.8L1764.2,1170.5L1746.7,1181.1ZM1748.6,1179.3L1764.3,1169.9L1764.2,1172.5L1748.6,1182.0ZM1750.4,1180.2L1764.2,1171.9L1764.2,1174.5L1750.4,1182.9ZM1752.3,1181.1L1764.2,1173.9L1764.1,1176.6L1752.3,1183.8ZM1757.9,1179.7L1764.1,1176.0L1764.1,1178.6L1757.9,1182.4ZM1761.7,1179.5L1764.1,1178.0L1764.1,1180.6L1761.6,1182.1Z" fill="#8c1818"/>
<path d="M1654.1,1236.2L1656.5,1234.7L1656.7,1237.6L1654.3,1239.0ZM1654.2,1238.4L1660.5,1234.6L1660.7,1237.5L1654.5,1241.3ZM1654.4,1240.6L1666.3,1233.4L1666.4,1236.2L1654.6,1243.5ZM1654.6,1242.8L1672.0,1232.1L1672.2,1235.0L1654.8,1245.7ZM1654.7,1245.0L1675.9,1232.0L1676.1,1234.8L1654.9,1247.9ZM1654.9,1247.2L1679.8,1231.9L1679.9,1234.7L1655.1,1250.1ZM1655.0,1249.4L1683.6,1231.7L1683.8,1234.6L1655.3,1252.3ZM1655.2,1251.6L1685.6,1232.7L1685.8,1235.6L1655.4,1254.5ZM1655.4,1253.8L1689.4,1232.6L1689.6,1235.4L1655.6,1256.7ZM1655.5,1256.1L1693.3,1232.4L1693.4,1235.2L1655.7,1258.9ZM1655.7,1258.3L1691.5,1235.7L1691.6,1238.5L1655.9,1261.1ZM1655.8,1260.5L1687.9,1240.2L1688.0,1243.0L1656.1,1263.3ZM1656.0,1262.7L1686.1,1243.5L1686.3,1246.4L1656.2,1265.5ZM1656.2,1264.9L1684.4,1246.9L1684.5,1249.7L1656.4,1267.8ZM1656.3,1267.1L1680.8,1251.4L1681.0,1254.2L1656.5,1270.0ZM1660.2,1266.9L1679.1,1254.8L1679.3,1257.6L1660.4,1269.8ZM1664.0,1266.8L1675.5,1259.3L1675.7,1262.1L1664.2,1269.6ZM1667.8,1266.6L1675.7,1261.5L1675.8,1264.3L1668.0,1269.4ZM1671.6,1266.4L1674.0,1264.8L1674.1,1267.7L1671.8,1269.2Z" fill="#8c9580"/>
<path d="M1718.3,1197.5L1720.8,1196.0L1720.8,1198.8L1718.4,1200.2ZM1714.6,1201.9L1724.6,1195.8L1724.6,1198.6L1714.7,1204.6ZM1712.8,1205.1L1726.5,1196.8L1726.6,1199.5L1712.8,1207.9ZM1741.0,1188.0L1752.9,1180.8L1752.9,1183.5L1741.0,1190.7ZM1709.1,1209.6L1730.3,1196.6L1730.3,1199.3L1709.1,1212.3ZM1737.3,1192.4L1758.5,1179.4L1758.5,1182.1L1737.3,1195.1ZM1709.1,1211.7L1758.5,1181.4L1758.4,1184.1L1709.2,1214.4ZM1709.2,1213.8L1758.4,1183.5L1758.4,1186.1L1709.3,1216.6ZM1709.3,1215.9L1756.5,1186.7L1756.5,1189.3L1709.3,1218.7ZM1709.3,1218.0L1756.5,1188.7L1756.5,1191.4L1709.4,1220.8ZM1709.4,1220.2L1754.6,1191.9L1754.6,1194.6L1709.5,1222.9ZM1709.4,1222.3L1754.6,1194.0L1754.6,1196.6L1709.5,1225.0ZM1709.5,1224.4L1754.6,1196.0L1754.6,1198.7L1709.6,1227.2ZM1709.6,1226.5L1754.6,1198.1L1754.5,1200.7L1709.6,1229.3ZM1709.6,1228.6L1754.6,1200.1L1754.5,1202.8L1709.7,1231.4ZM1711.5,1229.6L1754.5,1202.2L1754.5,1204.8L1711.6,1232.3ZM1711.6,1231.7L1754.5,1204.2L1754.5,1206.9L1711.7,1234.5ZM1713.5,1232.6L1754.5,1206.3L1754.5,1208.9L1713.6,1235.4ZM1713.5,1234.8L1754.5,1208.3L1754.4,1211.0L1713.6,1237.5ZM1715.4,1235.7L1752.6,1211.5L1752.6,1214.2L1715.5,1238.4ZM1715.5,1237.8L1752.6,1213.6L1752.6,1216.3L1715.5,1240.5ZM1715.5,1239.9L1719.7,1237.2L1719.8,1239.9L1715.6,1242.6ZM1732.0,1229.1L1750.8,1216.8L1750.7,1219.5L1732.0,1231.9ZM1742.9,1224.0L1748.9,1220.1L1748.9,1222.8L1742.9,1226.7Z" fill="#928c61"/>
<path d="M1701.7,1218.4L1704.1,1216.9L1704.2,1219.7L1701.8,1221.2ZM1694.3,1225.2L1706.1,1217.9L1706.2,1220.6L1694.4,1227.9ZM1694.4,1227.3L1708.0,1218.8L1708.1,1221.6L1694.5,1230.1ZM1694.5,1229.4L1709.9,1219.8L1710.0,1222.6L1694.6,1232.2ZM1696.4,1230.4L1708.1,1223.1L1708.2,1225.9L1696.5,1233.2ZM1700.2,1230.2L1708.2,1225.2L1708.3,1228.0L1700.3,1233.0ZM1705.9,1228.9L1708.3,1227.3L1708.3,1230.1L1705.9,1231.6Z" fill="#0c5549"/>
<path d="M1756.0,1187.0L1762.2,1183.2L1762.1,1185.9L1756.0,1189.7ZM1756.0,1189.1L1767.7,1181.8L1767.7,1184.4L1755.9,1191.7ZM1754.1,1192.3L1773.3,1180.3L1773.2,1182.9L1754.1,1194.9ZM1754.1,1194.3L1776.9,1180.0L1776.8,1182.6L1754.0,1197.0ZM1754.0,1196.4L1780.6,1179.7L1780.5,1182.3L1754.0,1199.0ZM1754.0,1198.4L1782.4,1180.5L1782.3,1183.1L1754.0,1201.1ZM1754.0,1200.5L1786.0,1180.2L1785.9,1182.8L1754.0,1203.1ZM1754.0,1202.5L1787.8,1181.0L1787.6,1183.6L1754.0,1205.2ZM1754.0,1204.6L1787.7,1183.0L1787.6,1185.6L1753.9,1207.2ZM1753.9,1206.6L1780.2,1189.7L1780.1,1192.3L1753.9,1209.3ZM1753.9,1208.7L1780.2,1191.7L1780.1,1194.3L1753.9,1211.3ZM1752.1,1211.9L1778.3,1194.9L1778.2,1197.5L1752.0,1214.6ZM1752.1,1214.0L1778.2,1196.9L1778.1,1199.5L1752.0,1216.6ZM1750.2,1217.2L1778.1,1198.9L1778.1,1201.5L1750.2,1219.9ZM1750.2,1219.3L1776.3,1202.1L1776.2,1204.7L1750.2,1221.9ZM1748.4,1222.5L1776.2,1204.1L1776.1,1206.7L1748.4,1225.2ZM1748.4,1224.6L1776.1,1206.1L1776.0,1208.8L1748.3,1227.2ZM1748.3,1226.6L1776.1,1208.2L1776.0,1210.8L1748.3,1229.3ZM1748.3,1228.7L1776.0,1210.2L1775.9,1212.8L1748.3,1231.4ZM1750.1,1229.5L1775.9,1212.2L1775.9,1214.8L1750.1,1232.2ZM1750.1,1231.6L1774.1,1215.4L1774.0,1218.0L1750.1,1234.3ZM1750.1,1233.6L1774.0,1217.4L1773.9,1220.0L1750.1,1236.3ZM1751.9,1234.5L1774.0,1219.4L1773.9,1222.1L1751.9,1237.1ZM1751.9,1236.5L1773.9,1221.4L1773.8,1224.1L1751.9,1239.2ZM1751.9,1238.6L1773.8,1223.5L1773.8,1226.1L1751.8,1241.2Z" fill="#984f38"/>
<path d="M1690.9,1236.1L1698.9,1231.1L1699.0,1233.8L1691.1,1238.9ZM1687.3,1240.6L1704.6,1229.7L1704.7,1232.4L1687.5,1243.4ZM1685.6,1243.9L1708.3,1229.5L1708.4,1232.2L1685.7,1246.7ZM1683.8,1247.2L1708.4,1231.6L1708.5,1234.3L1684.0,1250.0ZM1680.3,1251.8L1708.5,1233.7L1708.5,1236.5L1680.4,1254.6ZM1682.2,1252.7L1710.4,1234.6L1710.4,1237.4L1682.4,1255.6ZM1684.2,1253.7L1710.4,1236.8L1710.5,1239.5L1684.3,1256.5ZM1686.1,1254.7L1710.5,1238.9L1710.6,1241.6L1686.3,1257.5ZM1686.2,1256.9L1710.5,1241.0L1710.6,1243.8L1686.4,1259.7ZM1690.0,1256.6L1710.6,1243.1L1710.7,1245.9L1690.1,1259.4ZM1695.5,1255.2L1708.8,1246.4L1708.9,1249.2L1695.7,1258.0ZM1701.1,1253.7L1707.1,1249.8L1707.2,1252.5L1701.2,1256.5Z" fill="#92613d"/>
<path d="M1656.5,1269.3L1660.7,1266.6L1660.9,1269.4L1656.7,1272.2ZM1656.6,1271.5L1664.5,1266.4L1664.7,1269.3L1656.9,1274.4ZM1656.8,1273.7L1668.3,1266.2L1668.5,1269.1L1657.0,1276.6ZM1657.0,1275.9L1672.1,1266.0L1672.3,1268.9L1657.2,1278.8ZM1657.1,1278.1L1674.1,1267.0L1674.3,1269.9L1657.3,1281.0ZM1657.3,1280.3L1674.2,1269.2L1674.4,1272.0L1657.5,1283.2ZM1657.4,1282.6L1674.4,1271.4L1674.5,1274.2L1657.7,1285.4ZM1657.6,1284.8L1674.5,1273.6L1674.7,1276.4L1657.8,1287.6ZM1657.8,1287.0L1676.4,1274.5L1676.6,1277.4L1658.0,1289.8ZM1657.9,1289.2L1676.6,1276.7L1676.7,1279.6L1658.1,1292.1ZM1658.1,1291.4L1676.7,1278.9L1676.8,1281.7L1658.3,1294.3ZM1658.2,1293.6L1676.8,1281.1L1677.0,1283.9L1658.5,1296.5ZM1658.4,1295.8L1676.9,1283.3L1677.1,1286.1L1658.6,1298.7ZM1658.6,1298.0L1677.1,1285.4L1677.2,1288.3L1658.8,1300.9ZM1658.7,1300.2L1677.2,1287.6L1677.3,1290.4L1658.9,1303.1ZM1658.9,1302.4L1677.3,1289.8L1677.5,1292.6L1659.1,1305.3ZM1659.0,1304.6L1672.1,1295.7L1672.3,1298.5L1659.3,1307.5Z" fill="#382c80"/>
<path d="M1779.7,1190.1L1787.6,1185.0L1787.5,1187.6L1779.6,1192.7ZM1779.6,1192.1L1787.5,1187.0L1787.4,1189.6L1779.5,1194.7ZM1777.7,1195.3L1787.4,1189.0L1787.3,1191.5L1777.6,1197.9ZM1777.7,1197.3L1787.3,1191.0L1787.2,1193.5L1777.6,1199.9ZM1777.6,1199.3L1787.3,1192.9L1787.2,1195.5L1777.5,1201.9ZM1775.7,1202.5L1787.2,1194.9L1787.1,1197.5L1775.6,1205.1ZM1775.6,1204.5L1787.1,1196.9L1787.0,1199.5L1775.6,1207.1ZM1775.6,1206.5L1787.0,1198.9L1786.9,1201.5L1775.5,1209.1ZM1775.5,1208.5L1786.9,1200.9L1786.8,1203.5L1775.4,1211.1ZM1775.5,1210.5L1788.7,1201.7L1788.6,1204.3L1775.4,1213.1ZM1775.4,1212.5L1788.6,1203.7L1788.5,1206.3L1775.3,1215.2ZM1773.5,1215.8L1788.5,1205.7L1788.4,1208.3L1773.5,1218.4ZM1773.5,1217.8L1788.4,1207.7L1788.3,1210.3L1773.4,1220.4ZM1773.4,1219.8L1788.3,1209.7L1788.2,1212.2L1773.4,1222.4ZM1773.4,1221.8L1788.2,1211.6L1788.1,1214.2L1773.3,1224.4ZM1773.3,1223.8L1788.2,1213.6L1788.0,1216.2L1773.2,1226.5ZM1780.4,1220.9L1788.1,1215.6L1788.0,1218.2L1780.3,1223.5Z" fill="#516774"/>
<path d="M1675.0,1259.7L1677.4,1258.1L1677.5,1260.9L1675.2,1262.5ZM1675.1,1261.8L1681.2,1257.9L1681.3,1260.7L1675.3,1264.7ZM1675.3,1264.0L1686.8,1256.5L1686.9,1259.3L1675.4,1266.8ZM1675.4,1266.2L1690.5,1256.3L1690.7,1259.1L1675.5,1269.0ZM1675.5,1268.4L1696.1,1254.8L1696.2,1257.6L1675.7,1271.2ZM1675.6,1270.5L1699.8,1254.6L1699.9,1257.4L1675.8,1273.4ZM1675.8,1272.7L1705.3,1253.1L1705.4,1255.9L1675.9,1275.6ZM1675.9,1274.9L1709.0,1252.8L1709.1,1255.6L1676.0,1277.7ZM1676.0,1277.1L1709.1,1254.9L1709.2,1257.7L1676.2,1279.9ZM1676.1,1279.3L1709.2,1257.1L1709.2,1259.8L1676.3,1282.1ZM1676.3,1281.4L1709.2,1259.2L1709.3,1261.9L1676.4,1284.3ZM1676.4,1283.6L1709.3,1261.3L1709.4,1264.1L1676.6,1286.5ZM1676.5,1285.8L1709.4,1263.4L1709.4,1266.2L1676.7,1288.6ZM1676.6,1288.0L1709.4,1265.6L1709.5,1268.3L1676.8,1290.8ZM1676.8,1290.2L1709.5,1267.7L1709.6,1270.4L1676.9,1293.0ZM1678.7,1291.1L1709.5,1269.8L1709.6,1272.6L1678.8,1293.9Z" fill="#2c373d"/>
<path d="M1737.4,1227.6L1743.5,1223.7L1743.5,1226.4L1737.5,1230.3ZM1730.2,1234.5L1743.5,1225.8L1743.5,1228.4L1730.2,1237.2ZM1722.9,1241.4L1745.3,1226.6L1745.3,1229.3L1723.0,1244.2ZM1713.9,1249.6L1745.3,1228.7L1745.3,1231.4L1714.0,1252.3ZM1708.6,1255.3L1747.1,1229.5L1747.1,1232.2L1708.6,1258.1ZM1708.6,1257.4L1747.1,1231.6L1747.1,1234.3L1708.7,1260.2ZM1708.7,1259.6L1748.9,1232.4L1748.8,1235.1L1708.8,1262.3ZM1708.8,1261.7L1750.6,1233.3L1750.6,1235.9L1708.8,1264.4ZM1708.8,1263.8L1750.6,1235.3L1750.6,1238.0L1708.9,1266.6ZM1708.9,1265.9L1752.4,1236.2L1752.4,1238.8L1709.0,1268.7ZM1708.9,1268.0L1752.4,1238.2L1752.4,1240.9L1709.0,1270.8Z" fill="#141461"/>
<path d="M1650.0,1147.0L1661.3,1305.8M1648.2,1150.2L1793.7,1076.8M1652.0,1146.0L1663.1,1304.5M1648.3,1152.4L1793.6,1078.8M1654.1,1145.0L1664.8,1303.3M1648.5,1154.6L1793.5,1080.8M1656.1,1143.9L1666.6,1302.1M1648.6,1156.8L1793.5,1082.8M1658.1,1142.9L1668.4,1300.8M1648.8,1159.0L1793.4,1084.8M1660.1,1141.9L1670.2,1299.6M1649.0,1161.2L1793.3,1086.7M1662.2,1140.9L1672.0,1298.4M1649.1,1163.5L1793.2,1088.7M1664.2,1139.9L1673.7,1297.1M1649.3,1165.7L1793.1,1090.7M1666.2,1138.8L1675.5,1295.9M1649.4,1167.9L1793.0,1092.7M1668.2,1137.8L1677.3,1294.7M1649.6,1170.1L1793.0,1094.7M1670.3,1136.8L1679.1,1293.4M1649.8,1172.3L1792.9,1096.7M1672.3,1135.8L1680.9,1292.2M1649.9,1174.5L1792.8,1098.7M1674.3,1134.8L1682.6,1290.9M1650.1,1176.7L1792.7,1100.7M1676.4,1133.8L1684.4,1289.7M1650.2,1178.9L1792.6,1102.7M1678.4,1132.8L1686.2,1288.5M1650.4,1181.1L1792.5,1104.7M1680.4,1131.7L1688.0,1287.2M1650.6,1183.3L1792.4,1106.6M1682.4,1130.7L1689.8,1286.0M1650.7,1185.5L1792.4,1108.6M1684.5,1129.7L1691.5,1284.8M1650.9,1187.8L1792.3,1110.6M1686.5,1128.7L1693.3,1283.5M1651.0,1190.0L1792.2,1112.6M1688.5,1127.7L1695.1,1282.3M1651.2,1192.2L1792.1,1114.6M1690.5,1126.7L1696.9,1281.1M1651.4,1194.4L1792.0,1116.6M1692.5,1125.6L1698.7,1279.8M1651.5,1196.6L1791.9,1118.6M1694.6,1124.6L1700.5,1278.6M1651.7,1198.8L1791.9,1120.6M1696.6,1123.6L1702.2,1277.4M1651.8,1201.0L1791.8,1122.6M1698.6,1122.6L1704.0,1276.1M1652.0,1203.2L1791.7,1124.6M1700.7,1121.6L1705.8,1274.9M1652.2,1205.4L1791.6,1126.5M1702.7,1120.5L1707.6,1273.7M1652.3,1207.6L1791.5,1128.5M1704.7,1119.5L1709.4,1272.4M1652.5,1209.8L1791.4,1130.5M1706.7,1118.5L1711.1,1271.2M1652.6,1212.0L1791.3,1132.5M1708.8,1117.5L1712.9,1270.0M1652.8,1214.2L1791.3,1134.5M1710.8,1116.5L1714.7,1268.7M1653.0,1216.5L1791.2,1136.5M1712.8,1115.5L1716.5,1267.5M1653.1,1218.7L1791.1,1138.5M1714.8,1114.5L1718.3,1266.3M1653.3,1220.9L1791.0,1140.5M1716.8,1113.4L1720.0,1265.0M1653.4,1223.1L1790.9,1142.5M1718.9,1112.4L1721.8,1263.8M1653.6,1225.3L1790.8,1144.5M1720.9,1111.4L1723.6,1262.5M1653.8,1227.5L1790.8,1146.4M1722.9,1110.4L1725.4,1261.3M1653.9,1229.7L1790.7,1148.4M1724.9,1109.4L1727.2,1260.1M1654.1,1231.9L1790.6,1150.4M1727.0,1108.3L1728.9,1258.8M1654.2,1234.1L1790.5,1152.4M1729.0,1107.3L1730.7,1257.6M1654.4,1236.3L1790.4,1154.4M1731.0,1106.3L1732.5,1256.4M1654.5,1238.5L1790.3,1156.4M1733.1,1105.3L1734.3,1255.1M1654.7,1240.8L1790.2,1158.4M1735.1,1104.3L1736.1,1253.9M1654.9,1243.0L1790.2,1160.4M1737.1,1103.3L1737.8,1252.7M1655.0,1245.2L1790.1,1162.4M1739.1,1102.2L1739.6,1251.4M1655.2,1247.4L1790.0,1164.4M1741.2,1101.2L1741.4,1250.2M1655.3,1249.6L1789.9,1166.4M1743.2,1100.2L1743.2,1249.0M1655.5,1251.8L1789.8,1168.3M1745.2,1099.2L1745.0,1247.7M1655.7,1254.0L1789.7,1170.3M1747.2,1098.2L1746.7,1246.5M1655.8,1256.2L1789.6,1172.3M1749.2,1097.2L1748.5,1245.3M1656.0,1258.4L1789.6,1174.3M1751.3,1096.2L1750.3,1244.0M1656.1,1260.6L1789.5,1176.3M1753.3,1095.1L1752.1,1242.8M1656.3,1262.8L1789.4,1178.3M1755.3,1094.1L1753.9,1241.6M1656.5,1265.0L1789.3,1180.3M1757.3,1093.1L1755.7,1240.3M1656.6,1267.2L1789.2,1182.3M1759.4,1092.1L1757.4,1239.1M1656.8,1269.5L1789.1,1184.3M1761.4,1091.1L1759.2,1237.9M1656.9,1271.7L1789.1,1186.3M1763.4,1090.0L1761.0,1236.6M1657.1,1273.9L1789.0,1188.2M1765.4,1089.0L1762.8,1235.4M1657.3,1276.1L1788.9,1190.2M1767.5,1088.0L1764.6,1234.2M1657.4,1278.3L1788.8,1192.2M1769.5,1087.0L1766.3,1232.9M1657.6,1280.5L1788.7,1194.2M1771.5,1086.0L1768.1,1231.7M1657.7,1282.7L1788.6,1196.2M1773.6,1085.0L1769.9,1230.4M1657.9,1284.9L1788.5,1198.2M1775.6,1083.9L1771.7,1229.2M1658.1,1287.1L1788.5,1200.2M1777.6,1082.9L1773.5,1228.0M1658.2,1289.3L1788.4,1202.2M1779.6,1081.9L1775.2,1226.7M1658.4,1291.5L1788.3,1204.2M1781.7,1080.9L1777.0,1225.5M1658.5,1293.8L1788.2,1206.2M1783.7,1079.9L1778.8,1224.3M1658.7,1296.0L1788.1,1208.1M1785.7,1078.9L1780.6,1223.0M1658.9,1298.2L1788.0,1210.1M1787.7,1077.8L1782.4,1221.8M1659.0,1300.4L1788.0,1212.1M1789.8,1076.8L1784.1,1220.6M1659.2,1302.6L1787.9,1214.1M1791.8,1075.8L1785.9,1219.3M1659.3,1304.8L1787.8,1216.1" stroke="#102028" stroke-opacity="0.36" stroke-width="0.75" fill="none"/>
<line x1="1311.8" y1="1116" x2="1311.4" y2="1269" stroke="#1a1a1a" stroke-width="1" stroke-opacity="0.85"/>
</svg>
</body></html>
